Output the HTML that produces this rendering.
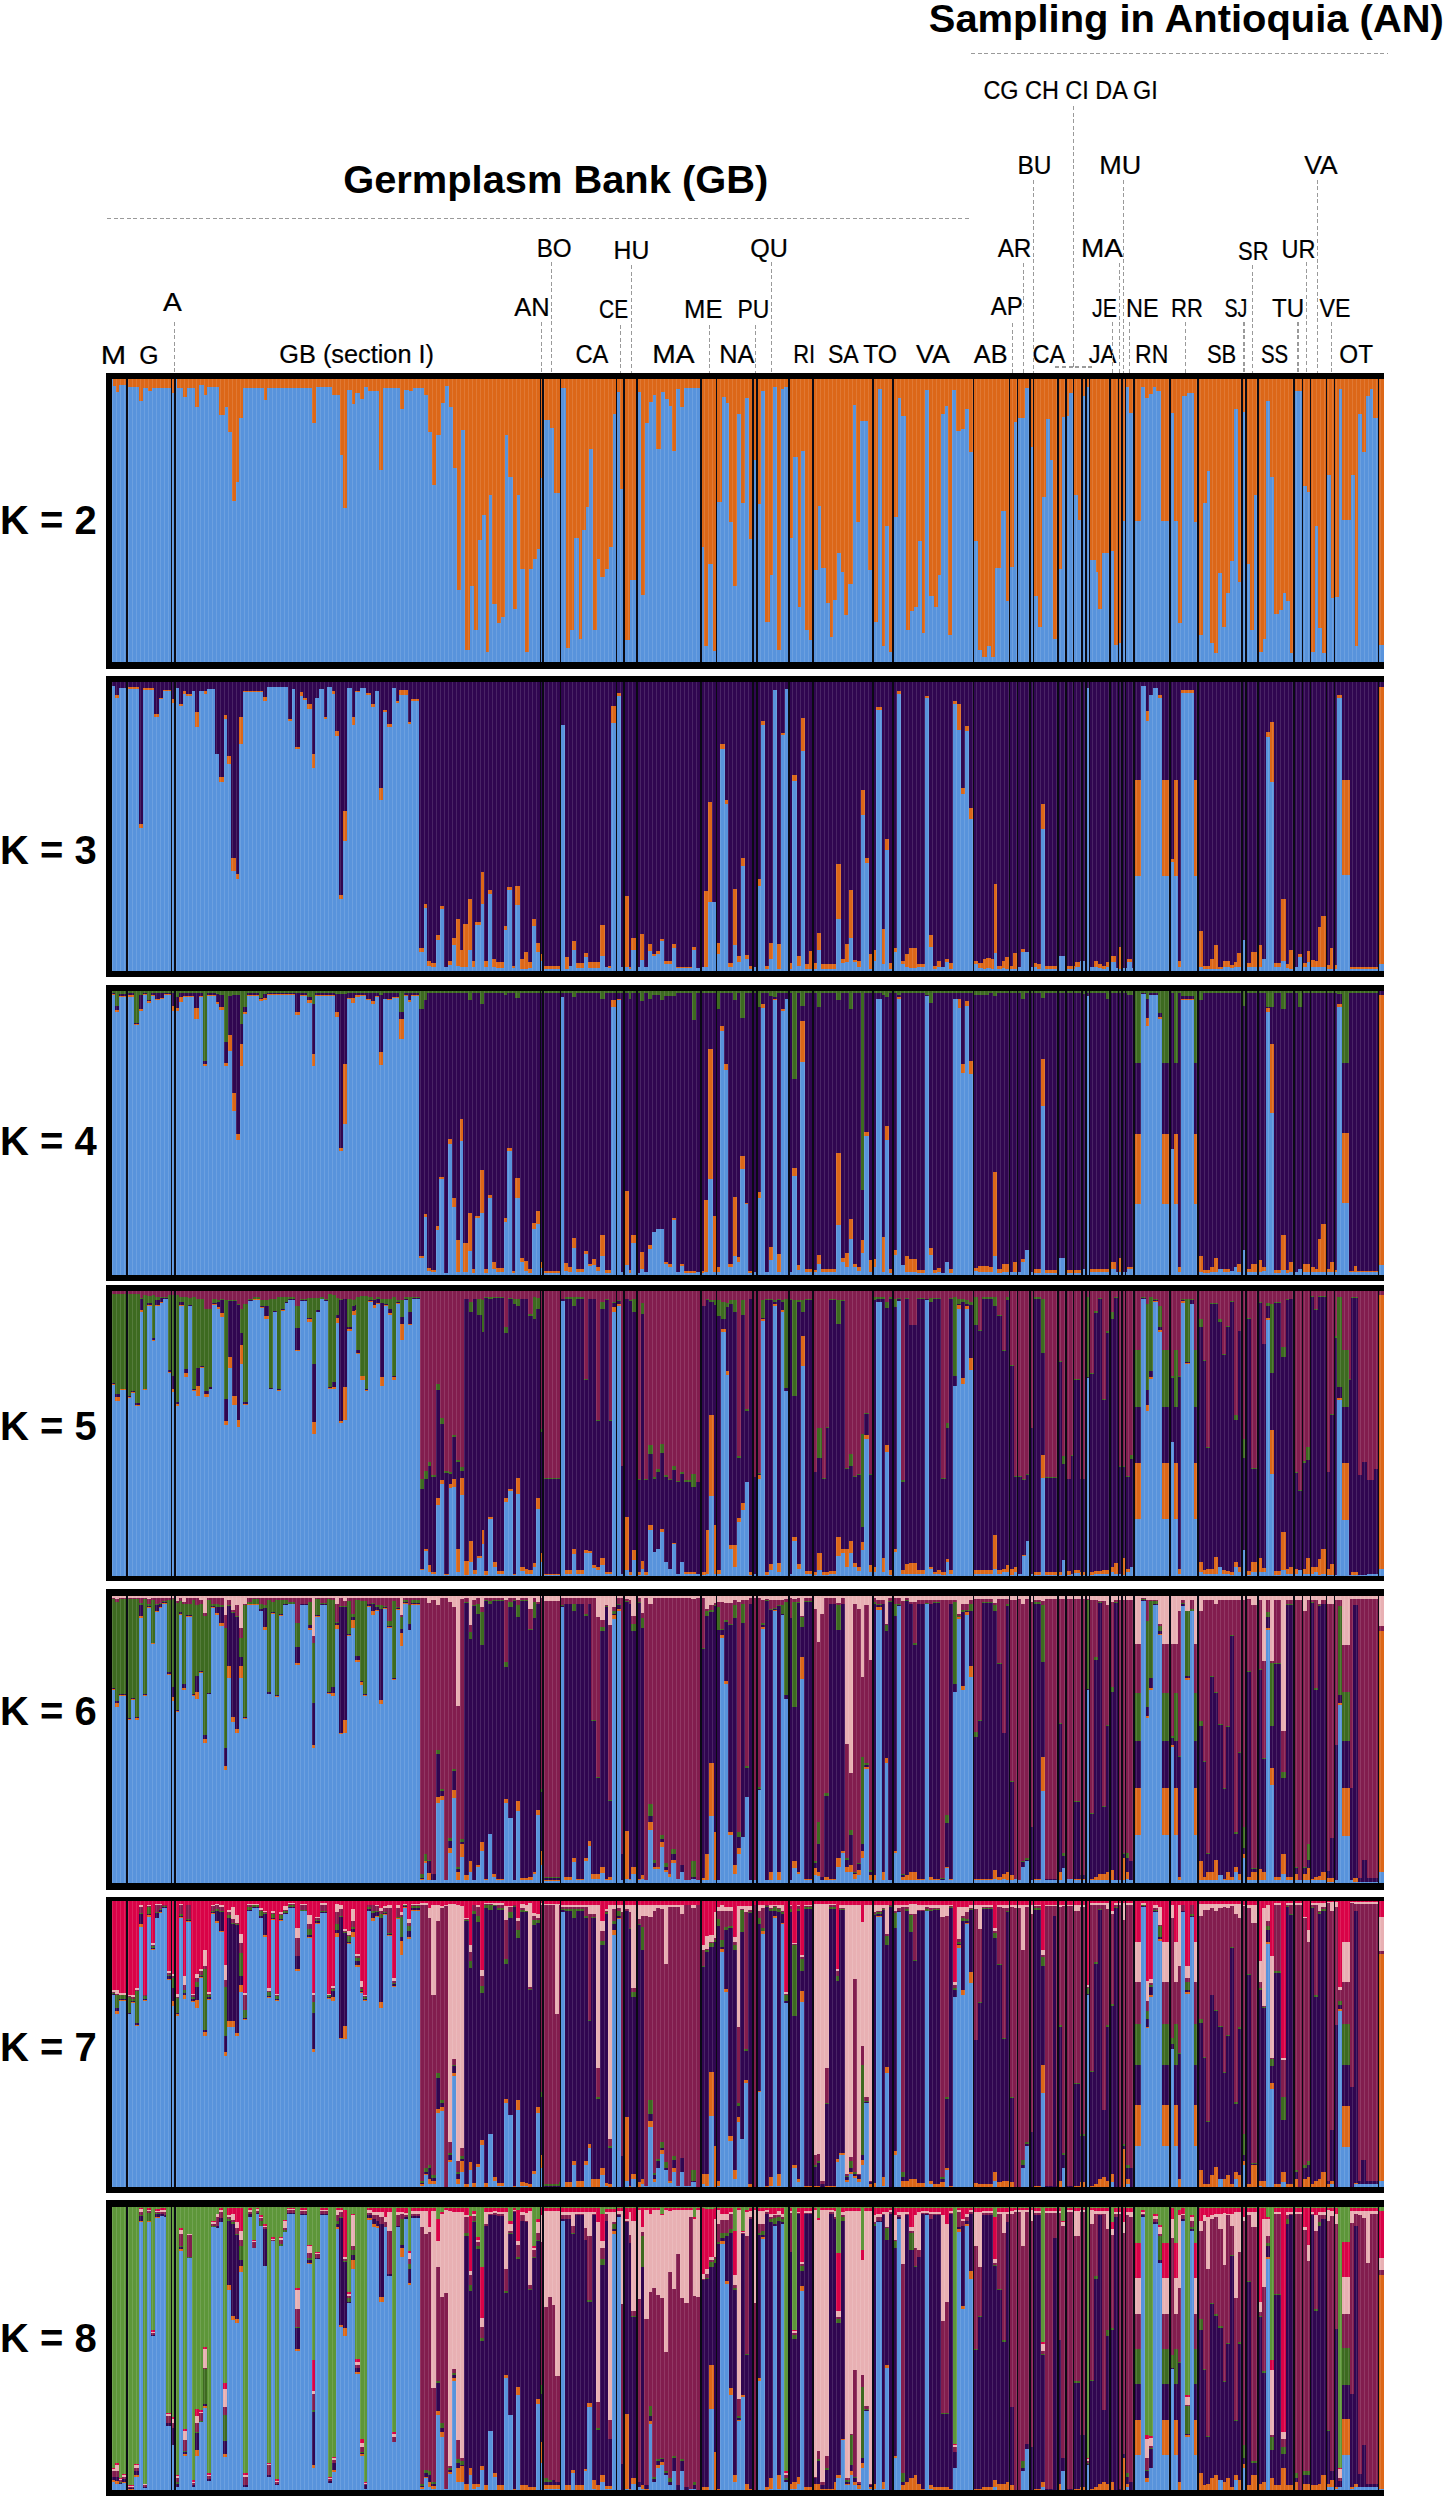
<!DOCTYPE html>
<html><head><meta charset="utf-8"><style>
html,body{margin:0;padding:0;background:#fff;}
svg{display:block;}
text{font-family:"Liberation Sans",sans-serif;fill:#000;}
.s{stroke:#000;stroke-width:0.2;}
.d{stroke:#9a9a9a;stroke-width:1.1;stroke-dasharray:4 2.6;}
</style></head><body>
<svg width="1445" height="2500" viewBox="0 0 1445 2500" shape-rendering="crispEdges">
<defs><pattern id="st" x="112" y="0" width="4" height="10" patternUnits="userSpaceOnUse"><rect x="0" y="0" width="1.3" height="10" fill="#fff" fill-opacity="0.12"/></pattern></defs>
<rect width="1445" height="2500" fill="#fff"/>
<text x="928.8" y="31.5" font-size="39" font-weight="bold" textLength="515" lengthAdjust="spacingAndGlyphs">Sampling in Antioquia (AN)</text>
<text x="343.2" y="192.7" font-size="39" font-weight="bold" textLength="425" lengthAdjust="spacingAndGlyphs">Germplasm Bank (GB)</text>
<line x1="971" y1="53.8" x2="1388" y2="53.8" class="d"/>
<line x1="107" y1="218.4" x2="971" y2="218.4" class="d"/>
<text x="100.7" y="363.5" font-size="25" textLength="25.4" lengthAdjust="spacingAndGlyphs" class="s">M</text>
<text x="139.2" y="363.5" font-size="25" textLength="19.3" lengthAdjust="spacingAndGlyphs" class="s">G</text>
<text x="163.1" y="311.4" font-size="25" textLength="18.8" lengthAdjust="spacingAndGlyphs" class="s">A</text>
<text x="279.3" y="363.4" font-size="25" textLength="154.7" lengthAdjust="spacingAndGlyphs" class="s">GB (section I)</text>
<text x="514.3" y="316.4" font-size="25" textLength="35.4" lengthAdjust="spacingAndGlyphs" class="s">AN</text>
<text x="536.7" y="257.4" font-size="25" textLength="35.0" lengthAdjust="spacingAndGlyphs" class="s">BO</text>
<text x="613.5" y="259" font-size="25" textLength="35.8" lengthAdjust="spacingAndGlyphs" class="s">HU</text>
<text x="750.3" y="257.4" font-size="25" textLength="37.7" lengthAdjust="spacingAndGlyphs" class="s">QU</text>
<text x="599.0" y="317.6" font-size="25" textLength="29.1" lengthAdjust="spacingAndGlyphs" class="s">CE</text>
<text x="684.1" y="317.6" font-size="25" textLength="38.5" lengthAdjust="spacingAndGlyphs" class="s">ME</text>
<text x="737.4" y="317.6" font-size="25" textLength="31.9" lengthAdjust="spacingAndGlyphs" class="s">PU</text>
<text x="575.5" y="362.9" font-size="25" textLength="32.9" lengthAdjust="spacingAndGlyphs" class="s">CA</text>
<text x="652.3" y="362.9" font-size="25" textLength="42.3" lengthAdjust="spacingAndGlyphs" class="s">MA</text>
<text x="719.2" y="362.9" font-size="25" textLength="35.2" lengthAdjust="spacingAndGlyphs" class="s">NA</text>
<text x="793.2" y="362.9" font-size="25" textLength="21.9" lengthAdjust="spacingAndGlyphs" class="s">RI</text>
<text x="827.9" y="362.9" font-size="25" textLength="30.8" lengthAdjust="spacingAndGlyphs" class="s">SA</text>
<text x="863.2" y="362.9" font-size="25" textLength="33.9" lengthAdjust="spacingAndGlyphs" class="s">TO</text>
<text x="916.1" y="362.9" font-size="25" textLength="33.9" lengthAdjust="spacingAndGlyphs" class="s">VA</text>
<text x="973.8" y="362.9" font-size="25" textLength="33.7" lengthAdjust="spacingAndGlyphs" class="s">AB</text>
<text x="1032.4" y="362.9" font-size="25" textLength="32.8" lengthAdjust="spacingAndGlyphs" class="s">CA</text>
<text x="997.7" y="257.4" font-size="25" textLength="33.7" lengthAdjust="spacingAndGlyphs" class="s">AR</text>
<text x="990.8" y="314.7" font-size="25" textLength="31.9" lengthAdjust="spacingAndGlyphs" class="s">AP</text>
<text x="1081.1" y="257.4" font-size="25" textLength="41.9" lengthAdjust="spacingAndGlyphs" class="s">MA</text>
<text x="1092.1" y="316.9" font-size="25" textLength="25.0" lengthAdjust="spacingAndGlyphs" class="s">JE</text>
<text x="1126.0" y="316.9" font-size="25" textLength="32.6" lengthAdjust="spacingAndGlyphs" class="s">NE</text>
<text x="1171.0" y="316.9" font-size="25" textLength="31.8" lengthAdjust="spacingAndGlyphs" class="s">RR</text>
<text x="1088.7" y="362.6" font-size="25" textLength="27.7" lengthAdjust="spacingAndGlyphs" class="s">JA</text>
<text x="1135.0" y="362.6" font-size="25" textLength="33.3" lengthAdjust="spacingAndGlyphs" class="s">RN</text>
<text x="1304.3" y="174.3" font-size="25" textLength="33.3" lengthAdjust="spacingAndGlyphs" class="s">VA</text>
<text x="1238.1" y="259.5" font-size="25" textLength="30.5" lengthAdjust="spacingAndGlyphs" class="s">SR</text>
<text x="1281.5" y="258" font-size="25" textLength="34.0" lengthAdjust="spacingAndGlyphs" class="s">UR</text>
<text x="1224.4" y="316.6" font-size="25" textLength="22.9" lengthAdjust="spacingAndGlyphs" class="s">SJ</text>
<text x="1271.9" y="316.6" font-size="25" textLength="32.2" lengthAdjust="spacingAndGlyphs" class="s">TU</text>
<text x="1319.5" y="316.6" font-size="25" textLength="31.0" lengthAdjust="spacingAndGlyphs" class="s">VE</text>
<text x="1206.9" y="363" font-size="25" textLength="29.4" lengthAdjust="spacingAndGlyphs" class="s">SB</text>
<text x="1260.9" y="363" font-size="25" textLength="27.2" lengthAdjust="spacingAndGlyphs" class="s">SS</text>
<text x="1339.3" y="363" font-size="25" textLength="33.7" lengthAdjust="spacingAndGlyphs" class="s">OT</text>
<text x="983.4" y="98.8" font-size="25" textLength="174.3" lengthAdjust="spacingAndGlyphs" class="s">CG CH CI DA GI</text>
<text x="1017.5" y="174.4" font-size="25" textLength="34.1" lengthAdjust="spacingAndGlyphs" class="s">BU</text>
<text x="1099.3" y="174.4" font-size="25" textLength="42.0" lengthAdjust="spacingAndGlyphs" class="s">MU</text>
<line x1="174.2" y1="322" x2="174.2" y2="373" class="d"/>
<line x1="541.5" y1="322" x2="541.5" y2="373" class="d"/>
<line x1="551.9" y1="262" x2="551.9" y2="373" class="d"/>
<line x1="620.8" y1="324.5" x2="620.8" y2="373" class="d"/>
<line x1="631.2" y1="265" x2="631.2" y2="373" class="d"/>
<line x1="709.5" y1="324.5" x2="709.5" y2="373" class="d"/>
<line x1="755.6" y1="324.5" x2="755.6" y2="373" class="d"/>
<line x1="771.4" y1="262" x2="771.4" y2="373" class="d"/>
<line x1="1012.5" y1="323" x2="1012.5" y2="373" class="d"/>
<line x1="1023.7" y1="263" x2="1023.7" y2="373" class="d"/>
<line x1="1033.7" y1="180" x2="1033.7" y2="373" class="d"/>
<line x1="1073.8" y1="106" x2="1073.8" y2="367" class="d"/>
<line x1="1112.8" y1="322.4" x2="1112.8" y2="373" class="d"/>
<line x1="1119.3" y1="262.9" x2="1119.3" y2="373" class="d"/>
<line x1="1123.9" y1="180" x2="1123.9" y2="373" class="d"/>
<line x1="1129.8" y1="322.4" x2="1129.8" y2="373" class="d"/>
<line x1="1185.5" y1="322.4" x2="1185.5" y2="373" class="d"/>
<line x1="1244" y1="322" x2="1244" y2="373" class="d"/>
<line x1="1252.6" y1="265" x2="1252.6" y2="373" class="d"/>
<line x1="1298" y1="322" x2="1298" y2="373" class="d"/>
<line x1="1306.4" y1="262" x2="1306.4" y2="373" class="d"/>
<line x1="1317.8" y1="179.6" x2="1317.8" y2="373" class="d"/>
<line x1="1331.2" y1="322" x2="1331.2" y2="373" class="d"/>
<line x1="1055.4" y1="367" x2="1093.4" y2="367" class="d"/>
<rect x="112" y="379" width="1272" height="283" fill="#5893dc"/>
<path fill="#dc6718" d="M112.5 379h3.1v6.6h-3.1zM115.6 379h3.1v12.8h-3.1zM118.7 379h7.3v5.5h-7.3zM128 379h11.4v7.6h-11.4zM139.4 379h3.2v22h-3.2zM142.6 379h5.1v8.6h-5.1zM147.7 379h4.2v11.8h-4.2zM151.9 379h18.7v8.6h-18.7zM171.6 379h4.2v13.8h-4.2zM176.8 379h6.2v8.6h-6.2zM183 379h4.2v18h-4.2zM187.2 379h7.3v8.6h-7.3zM194.5 379h4.1v28.4h-4.1zM198.6 379h5.2v5.5h-5.2zM203.8 379h3.2v16h-3.2zM207 379h12.4v7.6h-12.4zM219.4 379h5.2v35.6h-5.2zM224.6 379h3.1v28.4h-3.1zM227.7 379h4.1v53.3h-4.1zM231.8 379h4.2v121.8h-4.2zM236 379h3v103h-3zM239 379h4.2v38.7h-4.2zM243.2 379h20.8v8.6h-20.8zM264 379h3.1v21h-3.1zM267.1 379h44.6v8.6h-44.6zM311.7 379h4.2v44h-4.2zM315.9 379h15.6v7.6h-15.6zM331.5 379h8.3v16h-8.3zM339.8 379h3.1v76h-3.1zM342.9 379h4.1v129h-4.1zM347 379h5.2v10.7h-5.2zM352.2 379h3.1v25h-3.1zM355.3 379h4.2v13.8h-4.2zM359.5 379h4.1v20h-4.1zM363.6 379h4.2v7.6h-4.2zM367.8 379h11.4v11.8h-11.4zM379.2 379h4.2v90.6h-4.2zM383.4 379h16.6v8.6h-16.6zM400 379h4.2v30.4h-4.2zM404.2 379h5.1v10.7h-5.1zM409.3 379h3.2v11.8h-3.2zM412.5 379h11.4v9.3h-11.4zM423.9 379h4.1v16h-4.1zM428 379h4.2v53.3h-4.2zM432.2 379h4.1v106.2h-4.1zM436.3 379h4.2v56.4h-4.2zM440.5 379h4.1v24.2h-4.1zM444.6 379h4.2v6.6h-4.2zM448.8 379h4.1v28.4h-4.1zM452.9 379h4.2v88.6h-4.2zM457.1 379h4.1v211h-4.1zM461.2 379h4.2v51.2h-4.2zM465.4 379h4.1v271.3h-4.1zM469.5 379h4.2v206.9h-4.2zM473.7 379h4.1v250.5h-4.1zM477.8 379h4.2v161.2h-4.2zM482 379h4.2v136.3h-4.2zM486.2 379h3.1v273.3h-3.1zM489.3 379h3.1v115.6h-3.1zM492.4 379h4.1v224.5h-4.1zM496.5 379h4.2v244.3h-4.2zM500.7 379h4.1v238h-4.1zM504.8 379h3.2v56.4h-3.2zM508 379h5.1v97.9h-5.1zM513.1 379h4.2v229.7h-4.2zM517.3 379h3.1v115.6h-3.1zM520.4 379h4.2v190.3h-4.2zM524.6 379h4.1v273.3h-4.1zM528.7 379h4.2v190.3h-4.2zM532.9 379h4.1v179.9h-4.1zM537 379h3.3v169.5h-3.3zM540.3 379h2.9v99h-2.9zM543.2 379h6.3v40.8h-6.3zM549.5 379h4.1v49.1h-4.1zM553.6 379h6.4v113.5h-6.4zM560.5 379h5.6v8.6h-5.6zM566.1 379h4.1v269.2h-4.1zM570.2 379h4.2v250.5h-4.2zM574.4 379h4.1v159.2h-4.1zM578.5 379h3.2v259.8h-3.2zM581.7 379h4.1v150.9h-4.1zM585.8 379h3.1v128h-3.1zM588.9 379h4.2v69.9h-4.2zM593.1 379h4.1v250.5h-4.1zM597.2 379h3.1v179.9h-3.1zM600.3 379h4.2v197.6h-4.2zM604.5 379h4.1v190.3h-4.1zM608.6 379h4.2v167.5h-4.2zM612.8 379h3.7v34.6h-3.7zM616.5 379h3.6v12.8h-3.6zM620.1 379h4.1v110.4h-4.1zM624.2 379h6.2v260.9h-6.2zM630.4 379h6.3v200.7h-6.3zM636.7 379h4.1v12.8h-4.1zM640.8 379h4.2v216.2h-4.2zM645 379h4.1v44h-4.1zM649.1 379h4.2v23.2h-4.2zM653.3 379h3.1v16h-3.1zM656.4 379h4.1v69.9h-4.1zM660.5 379h4.2v12.8h-4.2zM664.7 379h4.1v20h-4.1zM668.8 379h3.2v27.3h-3.2zM672 379h4.1v72h-4.1zM676.1 379h4.2v9.7h-4.2zM680.3 379h4.1v28.4h-4.1zM684.4 379h16.4v8.6h-16.4zM700.8 379h3.4v167.5h-3.4zM704.2 379h4.1v267.1h-4.1zM708.3 379h4.2v185.1h-4.2zM712.5 379h4v272.3h-4zM716.5 379h5.3v122.8h-5.3zM721.8 379h4.2v18h-4.2zM726 379h3.1v24.2h-3.1zM729.1 379h4.1v142.5h-4.1zM733.2 379h4.2v206.9h-4.2zM737.4 379h3.1v34.6h-3.1zM740.5 379h4.1v123.9h-4.1zM744.6 379h4.2v19h-4.2zM748.8 379h4.1v160.2h-4.1zM752.9 379h3.9v81.3h-3.9zM756.8 379h4.4v124.9h-4.4zM761.2 379h4.2v11.8h-4.2zM765.4 379h4.1v243.2h-4.1zM769.5 379h3.2v195.5h-3.2zM772.7 379h4.1v7.6h-4.1zM776.8 379h4.2v271.3h-4.2zM781 379h3.1v9.7h-3.1zM784.1 379h4.7v7.6h-4.7zM788.8 379h4.6v159.2h-4.6zM793.4 379h4.2v78.2h-4.2zM797.6 379h3.1v227.7h-3.1zM800.7 379h4.1v72h-4.1zM804.8 379h4.2v250.5h-4.2zM809 379h4.1v260.9h-4.1zM813.1 379h5.2v191.3h-5.2zM818.3 379h3.1v127h-3.1zM821.4 379h4.2v189.3h-4.2zM825.6 379h4.1v223.5h-4.1zM829.7 379h3.2v257.8h-3.2zM832.9 379h4.1v221.4h-4.1zM837 379h4.2v173.7h-4.2zM841.2 379h3.1v193.4h-3.1zM844.3 379h4.1v236h-4.1zM848.4 379h4.2v204.8h-4.2zM852.6 379h3.1v26.3h-3.1zM855.7 379h4.2v142.5h-4.2zM859.9 379h8.3v41.9h-8.3zM868.2 379h4.7v191.3h-4.7zM872.9 379h4.6v243.2h-4.6zM877.5 379h4.2v9.7h-4.2zM881.7 379h3.1v267.1h-3.1zM884.8 379h4.1v146.7h-4.1zM888.9 379h4.2v273.3h-4.2zM893.1 379h5.2v138.4h-5.2zM898.3 379h3.1v19h-3.1zM901.4 379h4.1v36.7h-4.1zM905.5 379h4.2v250.5h-4.2zM909.7 379h4.1v231.8h-4.1zM913.8 379h4.2v227.7h-4.2zM918 379h4.1v162.3h-4.1zM922.1 379h3.1v253.6h-3.1zM925.2 379h4.2v10.7h-4.2zM929.4 379h4.1v217.3h-4.1zM933.5 379h4.2v227.7h-4.2zM937.7 379h3.1v195.5h-3.1zM940.8 379h4.2v34.6h-4.2zM945 379h3.1v27.3h-3.1zM948.1 379h4.1v255.7h-4.1zM952.2 379h4.2v10.7h-4.2zM956.4 379h4.1v52.2h-4.1zM960.5 379h4.2v50.2h-4.2zM964.7 379h4.1v30.4h-4.1zM968.8 379h4.6v73h-4.6zM973.4 379h4.8v162.3h-4.8zM978.2 379h4.1v271.3h-4.1zM982.3 379h4.2v277.5h-4.2zM986.5 379h4.1v267.1h-4.1zM990.6 379h4.2v277.5h-4.2zM994.8 379h6.6v189.3h-6.6zM1001.4 379h4.1v132.2h-4.1zM1005.5 379h4v222.1h-4zM1009.5 379h4.3v187.5h-4.3zM1013.8 379h3.7v42.9h-3.7zM1017.5 379h7.4v38.8h-7.4zM1024.9 379h4.8v9h-4.8zM1029.7 379h3.8v67.8h-3.8zM1033.5 379h4.6v217.3h-4.6zM1038.1 379h3.4v248.4h-3.4zM1041.5 379h4.2v118.3h-4.2zM1045.7 379h4.1v40.1h-4.1zM1049.8 379h3.5v81h-3.5zM1053.3 379h4.6v259.5h-4.6zM1057.9 379h4.4v190.3h-4.4zM1062.3 379h3.5v38.1h-3.5zM1065.8 379h3.4v36.7h-3.4zM1069.2 379h4.2v13.8h-4.2zM1073.4 379h4.1v115.6h-4.1zM1077.5 379h4.3v140.5h-4.3zM1081.8 379h4v16.6h-4zM1085.8 379h3.8v7.6h-3.8zM1089.6 379h5.9v180.6h-5.9zM1095.5 379h2.8v193.1h-2.8zM1098.3 379h4.1v230.4h-4.1zM1102.4 379h7.3v174.4h-7.3zM1109.7 379h4.5v172.3h-4.5zM1114.2 379h4.1v266.4h-4.1zM1118.3 379h3.4v263.7h-3.4zM1121.7 379h3.8v141.9h-3.8zM1125.5 379h3.9v7.6h-3.9zM1129.4 379h4.6v33.9h-4.6zM1134 379h7.2v141.9h-7.2zM1141.2 379h3.4v7.6h-3.4zM1144.6 379h4.2v18.7h-4.2zM1148.8 379h4.1v14.5h-4.1zM1152.9 379h3.5v7.6h-3.5zM1156.4 379h4.8v11.8h-4.8zM1161.2 379h8.8v141.9h-8.8zM1170 379h4.4v33.9h-4.4zM1174.4 379h3.5v141.9h-3.5zM1177.9 379h4.1v244.3h-4.1zM1182 379h4.9v16.6h-4.9zM1186.9 379h6.6v13.8h-6.6zM1193.5 379h4.4v142.6h-4.4zM1197.9 379h4.6v256h-4.6zM1202.5 379h4.1v123.9h-4.1zM1206.6 379h3.5v92h-3.5zM1210.1 379h4.1v264.4h-4.1zM1214.2 379h4.2v274h-4.2zM1218.4 379h3.4v193.8h-3.4zM1221.8 379h4.2v248.4h-4.2zM1226 379h4.1v213.8h-4.1zM1230.1 379h4.2v182h-4.2zM1234.3 379h3.5v29.8h-3.5zM1237.8 379h4.4v202.8h-4.4zM1242.2 379h3.7v33.2h-3.7zM1245.9 379h3.6v184.8h-3.6zM1249.5 379h4.2v251.2h-4.2zM1253.7 379h4.3v115.6h-4.3zM1258 379h4.7v273.4h-4.7zM1262.7 379h3.4v260.2h-3.4zM1266.1 379h4.2v22.1h-4.2zM1270.3 379h4.1v98.3h-4.1zM1274.4 379h4.2v234.6h-4.2zM1278.6 379h4.1v231.1h-4.1zM1282.7 379h3.5v213.8h-3.5zM1286.2 379h3.5v222.1h-3.5zM1289.7 379h4.5v274h-4.5zM1294.2 379h8.2v11.8h-8.2zM1302.4 379h4.6v107.3h-4.6zM1307 379h3.3v112.8h-3.3zM1310.3 379h4.3v273.4h-4.3zM1314.6 379h3.4v147.4h-3.4zM1318 379h4.2v249.1h-4.2zM1322.2 379h4.4v274h-4.4zM1326.6 379h4.6v96.2h-4.6zM1331.2 379h3.2v219.4h-3.2zM1334.4 379h4.4v218h-4.4zM1338.8 379h3.4v10.4h-3.4zM1342.2 379h8.4v141.2h-8.4zM1350.6 379h4.1v96.2h-4.1zM1354.7 379h3.5v267.1h-3.5zM1358.2 379h4.1v35.3h-4.1zM1362.3 379h3.5v73.4h-3.5zM1365.8 379h4.1v17.3h-4.1zM1369.9 379h3.5v9.7h-3.5zM1373.4 379h5v39.4h-5zM1378.4 379h5.6v265.7h-5.6z"/>
<rect x="112" y="379" width="1272" height="283" fill="url(#st)"/>
<path fill="#0a0a14" d="M126.2 379h1.6v283h-1.6zM170.7 379h1.6v283h-1.6zM174.2 379h1.6v283h-1.6zM539.5 379h1.6v283h-1.6zM542.4 379h1.6v283h-1.6zM559.7 379h1.6v283h-1.6zM615.7 379h1.6v283h-1.6zM623.4 379h1.6v283h-1.6zM635.9 379h1.6v283h-1.6zM700 379h1.6v283h-1.6zM715.7 379h1.6v283h-1.6zM752.1 379h1.6v283h-1.6zM756 379h1.6v283h-1.6zM788 379h1.6v283h-1.6zM812.3 379h1.6v283h-1.6zM872.1 379h1.6v283h-1.6zM892.3 379h1.6v283h-1.6zM972.6 379h1.6v283h-1.6zM1008.7 379h1.6v283h-1.6zM1016.7 379h1.6v283h-1.6zM1028.9 379h1.6v283h-1.6zM1032.7 379h1.6v283h-1.6zM1057.1 379h1.6v283h-1.6zM1065 379h1.6v283h-1.6zM1072.6 379h1.6v283h-1.6zM1081 379h1.6v283h-1.6zM1085 379h1.6v283h-1.6zM1088.8 379h1.6v283h-1.6zM1108.9 379h1.6v283h-1.6zM1117.5 379h1.6v283h-1.6zM1120.9 379h1.6v283h-1.6zM1124.7 379h1.6v283h-1.6zM1133.2 379h1.6v283h-1.6zM1169.2 379h1.6v283h-1.6zM1197.1 379h1.6v283h-1.6zM1241.4 379h1.6v283h-1.6zM1245.1 379h1.6v283h-1.6zM1257.2 379h1.6v283h-1.6zM1293.4 379h1.6v283h-1.6zM1301.6 379h1.6v283h-1.6zM1309.5 379h1.6v283h-1.6zM1325.8 379h1.6v283h-1.6zM1333.6 379h1.6v283h-1.6zM1377.6 379h1.6v283h-1.6z"/>
<path fill="#000" d="M106 373H1384V379H112V662H1384V669H106z"/>
<text x="0" y="533.8" font-size="40" font-weight="bold">K = 2</text>
<rect x="112" y="682" width="1272" height="289" fill="#300650"/>
<path fill="#5893dc" d="M111.9 686.2h2.6v284.8h-2.6zM114.5 698.4h4.3v272.6h-4.3zM118.8 688h7.7v283h-7.7zM126.5 688.8h12.2v282.2h-12.2zM138.7 828.1h4.4v142.9h-4.4zM143.1 689.7h11.2v281.3h-11.2zM154.3 716.5h4.3v254.5h-4.3zM158.6 699.2h4.4v271.8h-4.4zM163 691.4h8.5v279.6h-8.5zM171.5 702.7h3.5v268.3h-3.5zM175 688h3.5v283h-3.5zM178.5 705.8h4.4v265.2h-4.4zM182.9 694h3.4v277h-3.4zM186.3 695.8h5.2v275.2h-5.2zM191.5 691.4h3.5v279.6h-3.5zM195 726.9h4.3v244.1h-4.3zM199.3 691.4h4.3v279.6h-4.3zM203.6 694h3.5v277h-3.5zM207.1 688.8h7.8v282.2h-7.8zM214.9 753.7h4.3v217.3h-4.3zM219.2 782.3h4.3v188.7h-4.3zM223.5 719.1h3.5v251.9h-3.5zM227 764.1h4.3v206.9h-4.3zM231.3 871.4h4.3v99.6h-4.3zM235.6 879.2h3.5v91.8h-3.5zM239.1 744.2h4.3v226.8h-4.3zM243.4 692.3h19.9v278.7h-19.9zM263.3 701h3.5v270h-3.5zM266.8 687.1h20.7v283.9h-20.7zM287.5 720.8h4.4v250.2h-4.4zM291.9 688.8h3.4v282.2h-3.4zM295.3 749.4h4.3v221.6h-4.3zM299.6 695.8h3.5v275.2h-3.5zM303.1 700h4.3v271h-4.3zM307.4 708.7h4.3v262.3h-4.3zM311.7 767.6h3.5v203.4h-3.5zM315.2 697.5h3.5v273.5h-3.5zM318.7 688.8h5.2v282.2h-5.2zM323.9 719.1h3.4v251.9h-3.4zM327.3 687.1h4.3v283.9h-4.3zM331.6 694h3.5v277h-3.5zM335.1 735.6h4.3v235.4h-4.3zM339.4 899h3.5v72h-3.5zM342.9 841.1h4.3v129.9h-4.3zM347.2 688h4.5v283h-4.5zM351.7 725.2h3.5v245.8h-3.5zM355.2 692.3h5.2v278.7h-5.2zM360.4 688h6v283h-6zM366.4 694.9h4.4v276.1h-4.4zM370.8 707h4.3v264h-4.3zM375.1 690.6h3.4v280.4h-3.4zM378.5 799.6h4.4v171.4h-4.4zM382.9 712.2h4.3v258.8h-4.3zM387.2 726.9h4.3v244.1h-4.3zM391.5 688h4.3v283h-4.3zM395.8 702.7h3.5v268.3h-3.5zM399.3 694.9h8.7v276.1h-8.7zM408 724.3h3.4v246.7h-3.4zM411.4 701h7.8v270h-7.8zM419.2 951.8h4.3v19.2h-4.3zM423.5 907.7h3.5v63.3h-3.5zM427 965.7h4.3v5.3h-4.3zM431.3 967.4h4.3v3.6h-4.3zM435.6 939.7h4.4v31.3h-4.4zM440 909.4h4.3v61.6h-4.3zM444.3 967.4h3.5v3.6h-3.5zM447.8 964.8h4.3v6.2h-4.3zM452.1 944.9h3.4v26.1h-3.4zM455.5 965.7h4.4v5.3h-4.4zM459.9 967.4h3.4v3.6h-3.4zM463.3 967.4h4.3v3.6h-4.3zM467.6 950.1h4.4v20.9h-4.4zM472 967.4h3.4v3.6h-3.4zM475.4 925h5.2v46h-5.2zM480.6 904.2h3.5v66.8h-3.5zM484.1 967.4h3.4v3.6h-3.4zM487.5 893.9h4.4v77.1h-4.4zM491.9 967.4h4.3v3.6h-4.3zM496.2 968.3h7.8v2.7h-7.8zM504 930.2h3.4v40.8h-3.4zM507.4 890.4h4.4v80.6h-4.4zM511.8 968.3h3.4v2.7h-3.4zM515.2 905.1h5.2v65.9h-5.2zM520.4 969.1h3.5v1.9h-3.5zM523.9 969.1h4.3v1.9h-4.3zM528.2 968.3h3.5v2.7h-3.5zM531.7 925.9h4.3v45.1h-4.3zM536 951.8h4.3v19.2h-4.3zM540.3 960.5h2.9v10.5h-2.9zM543.2 969.1h17.3v1.9h-17.3zM560.5 725.2h4v245.8h-4zM564.5 969.1h4.4v1.9h-4.4zM568.9 965.7h3.4v5.3h-3.4zM572.3 950.1h3.5v20.9h-3.5zM575.8 968.3h8.6v2.7h-8.6zM584.4 957h3.5v14h-3.5zM587.9 968.3h12.1v2.7h-12.1zM600 956.1h4.5v14.9h-4.5zM604.5 967.4h3.5v3.6h-3.5zM608 968h3.4v3h-3.4zM611.4 723.4h5.1v247.6h-5.1zM616.5 695.8h4.5v275.2h-4.5zM621 967.4h3.2v3.6h-3.2zM624.2 967.4h4.5v3.6h-4.5zM628.7 969h2.6v2h-2.6zM631.3 950.1h5.4v20.9h-5.4zM636.7 967.4h3.3v3.6h-3.3zM640 959.6h4.3v11.4h-4.3zM644.3 967.4h3.5v3.6h-3.5zM647.8 951h4.3v20h-4.3zM652.1 956h4.3v15h-4.3zM656.4 953.5h3.5v17.5h-3.5zM659.9 941.4h4.3v29.6h-4.3zM664.2 964h3.5v7h-3.5zM667.7 964h4.3v7h-4.3zM672 948.4h4.3v22.6h-4.3zM676.3 968.3h15.6v2.7h-15.6zM691.9 950h4.3v21h-4.3zM696.2 968.3h4.6v2.7h-4.6zM700.8 967.4h3.2v3.6h-3.2zM704 967.4h4.3v3.6h-4.3zM708.3 901.6h3.5v69.4h-3.5zM711.8 901.6h4.7v69.4h-4.7zM716.5 954.4h3.9v16.6h-3.9zM720.4 749.4h4.4v221.6h-4.4zM724.8 803.9h3.4v167.1h-3.4zM728.2 967.4h4.3v3.6h-4.3zM732.5 944.9h4.4v26.1h-4.4zM736.9 962.2h4.3v8.8h-4.3zM741.2 866.2h3.5v104.8h-3.5zM744.7 958.7h4.3v12.3h-4.3zM749 969h3.9v2h-3.9zM752.9 967.4h3.9v3.6h-3.9zM756.8 886.1h4.3v84.9h-4.3zM761.1 725.2h4.3v245.8h-4.3zM765.4 969h3.5v2h-3.5zM768.9 958.7h4.3v12.3h-4.3zM773.2 689.7h3.5v281.3h-3.5zM776.7 969.1h4.3v1.9h-4.3zM781 734.7h4.3v236.3h-4.3zM785.3 688.8h3.5v282.2h-3.5zM788.8 969h3.4v2h-3.4zM792.2 781.4h4.4v189.6h-4.4zM796.6 965.7h4.3v5.3h-4.3zM800.9 751.1h4.3v219.9h-4.3zM805.2 969h3.5v2h-3.5zM808.7 969h4.4v2h-4.4zM813.1 969h3.4v2h-3.4zM816.5 950.1h4.3v20.9h-4.3zM820.8 969h15.5v2h-15.5zM836.3 919h4.4v52h-4.4zM840.7 963h4.3v8h-4.3zM845 962.2h3.7v8.8h-3.7zM848.7 938h4.3v33h-4.3zM853 962h4.3v9h-4.3zM857.3 967.4h3.5v3.6h-3.5zM860.8 815.1h4.3v155.9h-4.3zM865.1 862.7h4.3v108.3h-4.3zM869.4 969h3.5v2h-3.5zM872.9 960.5h3.4v10.5h-3.4zM876.3 709.6h5.2v261.4h-5.2zM881.5 963.9h3.5v7.1h-3.5zM885 849.7h4.3v121.3h-4.3zM889.3 969h3.8v2h-3.8zM893.1 951.8h4v19.2h-4zM897.1 694h4.3v277h-4.3zM901.4 964h3.5v7h-3.5zM904.9 967.4h4.3v3.6h-4.3zM909.2 968.3h7.8v2.7h-7.8zM917 967.4h7.8v3.6h-7.8zM924.8 698.4h4.3v272.6h-4.3zM929.1 946.6h4.3v24.4h-4.3zM933.4 969h3.5v2h-3.5zM936.9 967.4h4.3v3.6h-4.3zM941.2 967.4h3.5v3.6h-3.5zM944.7 962h4.3v9h-4.3zM949 969h3.5v2h-3.5zM952.5 703.5h4.3v267.5h-4.3zM956.8 730.4h4.3v240.6h-4.3zM961.1 794.4h3.5v176.6h-3.5zM964.6 731.2h4.3v239.8h-4.3zM968.9 818.6h4.5v152.4h-4.5zM973.4 964h5v7h-5zM978.4 968.3h4.3v2.7h-4.3zM982.7 969h3.5v2h-3.5zM986.2 968.3h4.3v2.7h-4.3zM990.5 969h3.5v2h-3.5zM994 952.7h3.4v18.3h-3.4zM997.4 969h4.4v2h-4.4zM1001.8 968.3h3.4v2.7h-3.4zM1005.2 969h4.3v2h-4.3zM1009.5 969h3.5v2h-3.5zM1013 969h4.5v2h-4.5zM1017.5 967.4h3.3v3.6h-3.3zM1020.8 951.8h4.3v19.2h-4.3zM1025.1 951.8h4.6v19.2h-4.6zM1029.7 967.4h3.8v3.6h-3.8zM1033.5 967.4h3.7v3.6h-3.7zM1037.2 969h3.5v2h-3.5zM1040.7 829h4.3v142h-4.3zM1045 969h12.9v2h-12.9zM1057.9 956.1h7.9v14.9h-7.9zM1065.8 969h9.5v2h-9.5zM1075.3 967.4h4.3v3.6h-4.3zM1079.6 960.5h5.2v10.5h-5.2zM1085.8 688h4.2v283h-4.2zM1089.6 967.4h4.1v3.6h-4.1zM1093.7 966.5h4.3v4.5h-4.3zM1098 968.3h4.3v2.7h-4.3zM1102.3 969h3.5v2h-3.5zM1105.8 967.4h3.9v3.6h-3.9zM1109.7 962.2h6.4v8.8h-6.4zM1116.1 968.3h2.2v2.7h-2.2zM1118.3 969h3.4v2h-3.4zM1121.7 968.3h4.8v2.7h-4.8zM1126.5 962h5.2v9h-5.2zM1131.7 968.3h2.3v2.7h-2.3zM1134 875.7h7.2v95.3h-7.2zM1141.2 686.2h4.4v284.8h-4.4zM1145.6 720.8h3.4v250.2h-3.4zM1149 694.9h4.3v276.1h-4.3zM1153.3 688h4.4v283h-4.4zM1157.7 697.5h4.3v273.5h-4.3zM1162 875.7h8v95.3h-8zM1170 862h4.1v109h-4.1zM1174.1 875.7h4.3v95.3h-4.3zM1178.4 967.4h2.6v3.6h-2.6zM1181 693h13v278h-13zM1194 875.7h3.9v95.3h-3.9zM1197.9 967.4h4.7v3.6h-4.7zM1202.6 969h7v2h-7zM1209.6 969h4.3v2h-4.3zM1213.9 969h4.3v2h-4.3zM1218.2 969h5.2v2h-5.2zM1223.4 967.4h6.1v3.6h-6.1zM1229.5 968.3h4.3v2.7h-4.3zM1233.8 967.4h3.4v3.6h-3.4zM1237.2 967.4h5v3.6h-5zM1242.2 939.7h3.7v31.3h-3.7zM1245.9 967.4h5.2v3.6h-5.2zM1251.1 967.4h6.9v3.6h-6.9zM1258 967.4h4.3v3.6h-4.3zM1262.3 958.7h3.5v12.3h-3.5zM1265.8 737.3h4.3v233.7h-4.3zM1270.1 782.3h3.5v188.7h-3.5zM1273.6 967.4h7.8v3.6h-7.8zM1281.4 960.5h4.3v10.5h-4.3zM1285.7 968.3h3.4v2.7h-3.4zM1289.1 969h5.1v2h-5.1zM1294.2 967.4h3.6v3.6h-3.6zM1297.8 957h4.6v14h-4.6zM1302.4 967.4h4.1v3.6h-4.1zM1306.5 962.2h3.8v8.8h-3.8zM1310.3 967.4h4.8v3.6h-4.8zM1315.1 966.5h2.6v4.5h-2.6zM1317.7 967.4h3.5v3.6h-3.5zM1321.2 967.4h5.4v3.6h-5.4zM1326.6 969h3.4v2h-3.4zM1330 968.9h3.3v2.1h-3.3zM1334.4 969h2.6v2h-2.6zM1337 697.6h4.8v273.4h-4.8zM1341.8 875h8v96h-8zM1349.8 969h28.6v2h-28.6zM1378.4 964h5.6v7h-5.6z"/>
<path fill="#dc6718" d="M114.5 694.9h4.3v3.5h-4.3zM126.5 687.1h12.2v1.7h-12.2zM138.7 823.8h4.4v4.3h-4.4zM143.1 688h11.2v1.7h-11.2zM154.3 713.9h4.3v2.6h-4.3zM158.6 697.5h4.4v1.7h-4.4zM163 689.7h8.5v1.7h-8.5zM171.5 699.2h3.5v3.5h-3.5zM178.5 703.5h4.4v2.3h-4.4zM182.9 691.4h3.4v2.6h-3.4zM186.3 694h5.2v1.8h-5.2zM195 712.2h4.3v14.7h-4.3zM203.6 690.6h3.5v3.4h-3.5zM219.2 777.1h4.3v5.2h-4.3zM223.5 714.8h3.5v4.3h-3.5zM227 756.3h4.3v7.8h-4.3zM231.3 857.5h4.3v13.9h-4.3zM235.6 874h3.5v5.2h-3.5zM239.1 716.5h4.3v27.7h-4.3zM243.4 691.4h19.9v0.9h-19.9zM263.3 696.6h3.5v4.4h-3.5zM287.5 719.1h4.4v1.7h-4.4zM295.3 746.8h4.3v2.6h-4.3zM299.6 692.3h3.5v3.5h-3.5zM303.1 697.5h4.3v2.5h-4.3zM307.4 704.4h4.3v4.3h-4.3zM311.7 753.7h3.5v13.9h-3.5zM323.9 716.5h3.4v2.6h-3.4zM331.6 690.6h3.5v3.4h-3.5zM335.1 731.2h4.3v4.4h-4.3zM339.4 894.7h3.5v4.3h-3.5zM342.9 810.8h4.3v30.3h-4.3zM351.7 717.4h3.5v7.8h-3.5zM355.2 690.6h5.2v1.7h-5.2zM366.4 693.2h4.4v1.7h-4.4zM370.8 703.5h4.3v3.5h-4.3zM378.5 788.3h4.4v11.3h-4.4zM382.9 709.6h4.3v2.6h-4.3zM387.2 724.3h4.3v2.6h-4.3zM395.8 701h3.5v1.7h-3.5zM399.3 689.7h8.7v5.2h-8.7zM408 721.7h3.4v2.6h-3.4zM411.4 699.2h7.8v1.8h-7.8zM419.2 947.5h4.3v4.3h-4.3zM423.5 904.2h3.5v3.5h-3.5zM427 961.3h4.3v4.4h-4.3zM431.3 963h4.3v4.4h-4.3zM435.6 935.4h4.4v4.3h-4.4zM440 906h4.3v3.4h-4.3zM447.8 960.5h4.3v4.3h-4.3zM452.1 938h3.4v6.9h-3.4zM455.5 919h4.4v46.7h-4.4zM459.9 950.1h3.4v17.3h-3.4zM463.3 924.1h4.3v43.3h-4.3zM467.6 899h4.4v51.1h-4.4zM472 961.3h3.4v6.1h-3.4zM475.4 922.4h5.2v2.6h-5.2zM480.6 872.2h3.5v32h-3.5zM484.1 961.3h3.4v6.1h-3.4zM487.5 890.4h4.4v3.5h-4.4zM491.9 958.7h4.3v8.7h-4.3zM496.2 962.2h7.8v6.1h-7.8zM504 925.9h3.4v4.3h-3.4zM507.4 887h4.4v3.4h-4.4zM511.8 965.7h3.4v2.6h-3.4zM515.2 886.1h5.2v19h-5.2zM520.4 958.7h3.5v10.4h-3.5zM523.9 951.8h4.3v17.3h-4.3zM528.2 962.2h3.5v6.1h-3.5zM531.7 919h4.3v6.9h-4.3zM536 943.2h4.3v8.6h-4.3zM540.3 953.5h2.9v7h-2.9zM543.2 965.7h17.3v3.4h-17.3zM564.5 957h4.4v12.1h-4.4zM572.3 940.6h3.5v9.5h-3.5zM575.8 963h8.6v5.3h-8.6zM584.4 952.7h3.5v4.3h-3.5zM587.9 962.2h12.1v6.1h-12.1zM600 925h4.5v31.1h-4.5zM608 965.7h3.4v2.3h-3.4zM611.4 706.1h5.1v17.3h-5.1zM616.5 693.2h4.5v2.6h-4.5zM624.2 895.6h4.5v71.8h-4.5zM628.7 966.5h2.6v2.5h-2.6zM631.3 938h5.4v12.1h-5.4zM640 933.7h4.3v25.9h-4.3zM647.8 944h4.3v7h-4.3zM652.1 953.5h4.3v2.5h-4.3zM656.4 951h3.5v2.5h-3.5zM659.9 938.8h4.3v2.6h-4.3zM664.2 960.5h3.5v3.5h-3.5zM667.7 961.3h4.3v2.7h-4.3zM672 944h4.3v4.4h-4.3zM676.3 966.5h15.6v1.8h-15.6zM691.9 946.6h4.3v3.4h-4.3zM704 891.3h4.3v76.1h-4.3zM708.3 802.2h3.5v99.4h-3.5zM716.5 943.2h3.9v11.2h-3.9zM720.4 744.2h4.4v5.2h-4.4zM724.8 799.6h3.4v4.3h-3.4zM728.2 963h4.3v4.4h-4.3zM732.5 888.7h4.4v56.2h-4.4zM736.9 956.1h4.3v6.1h-4.3zM741.2 857.5h3.5v8.7h-3.5zM744.7 955.3h4.3v3.4h-4.3zM749 965.7h3.9v3.3h-3.9zM756.8 879.2h4.3v6.9h-4.3zM761.1 720.8h4.3v4.4h-4.3zM765.4 965.7h3.5v3.3h-3.5zM768.9 943.2h4.3v15.5h-4.3zM776.7 944h4.3v25.1h-4.3zM781 733h4.3v1.7h-4.3zM788.8 963h3.4v6h-3.4zM792.2 775.3h4.4v6.1h-4.4zM796.6 956.1h4.3v9.6h-4.3zM800.9 718.3h4.3v32.8h-4.3zM805.2 963.9h3.5v5.1h-3.5zM808.7 951h4.4v18h-4.4zM813.1 963h3.4v6h-3.4zM816.5 932.8h4.3v17.3h-4.3zM820.8 963.9h15.5v5.1h-15.5zM836.3 864.4h4.4v54.6h-4.4zM840.7 958.7h4.3v4.3h-4.3zM845 944h3.7v18.2h-3.7zM848.7 890.4h4.3v47.6h-4.3zM853 959.6h4.3v2.4h-4.3zM857.3 960.5h3.5v6.9h-3.5zM860.8 790h4.3v25.1h-4.3zM865.1 857.5h4.3v5.2h-4.3zM869.4 953.5h3.5v15.5h-3.5zM872.9 950.1h3.4v10.4h-3.4zM876.3 707h5.2v2.6h-5.2zM881.5 929.3h3.5v34.6h-3.5zM885 838.5h4.3v11.2h-4.3zM889.3 963h3.8v6h-3.8zM893.1 947.5h4v4.3h-4zM897.1 690.6h4.3v3.4h-4.3zM901.4 960.5h3.5v3.5h-3.5zM904.9 953.5h4.3v13.9h-4.3zM909.2 947.5h7.8v20.8h-7.8zM917 963.9h7.8v3.5h-7.8zM924.8 695.8h4.3v2.6h-4.3zM929.1 934.5h4.3v12.1h-4.3zM933.4 965.7h3.5v3.3h-3.5zM936.9 961.3h4.3v6.1h-4.3zM944.7 958.7h4.3v3.3h-4.3zM949 963h3.5v6h-3.5zM952.5 701h4.3v2.5h-4.3zM956.8 704.4h4.3v26h-4.3zM961.1 787.5h3.5v6.9h-3.5zM964.6 726h4.3v5.2h-4.3zM968.9 808.2h4.5v10.4h-4.5zM973.4 960.5h5v3.5h-5zM978.4 963h4.3v5.3h-4.3zM982.7 958.7h3.5v10.3h-3.5zM986.2 957.9h4.3v10.4h-4.3zM990.5 958.7h3.5v10.3h-3.5zM994 883.5h3.4v69.2h-3.4zM997.4 965.7h4.4v3.3h-4.4zM1001.8 960.5h3.4v7.8h-3.4zM1005.2 957h4.3v12h-4.3zM1009.5 965.7h3.5v3.3h-3.5zM1013 952.7h4.5v16.3h-4.5zM1020.8 949.2h4.3v2.6h-4.3zM1033.5 963h3.7v4.4h-3.7zM1037.2 963.9h3.5v5.1h-3.5zM1040.7 803.9h4.3v25.1h-4.3zM1045 965.7h12.9v3.3h-12.9zM1065.8 965.7h9.5v3.3h-9.5zM1075.3 962.2h4.3v5.2h-4.3zM1093.7 961.3h4.3v5.2h-4.3zM1098 963.9h4.3v4.4h-4.3zM1102.3 965.7h3.5v3.3h-3.5zM1105.8 962.2h3.9v5.2h-3.9zM1109.7 956.1h6.4v6.1h-6.4zM1118.3 946.6h3.4v22.4h-3.4zM1126.5 958.7h5.2v3.3h-5.2zM1134 779.7h7.2v96h-7.2zM1145.6 711.3h3.4v9.5h-3.4zM1157.7 694.9h4.3v2.6h-4.3zM1162 779.7h8v96h-8zM1170 859.3h4.1v2.7h-4.1zM1174.1 779.7h4.3v96h-4.3zM1178.4 960.5h2.6v6.9h-2.6zM1181 690h13v3h-13zM1194 779.7h3.9v96h-3.9zM1197.9 931h4.7v36.4h-4.7zM1202.6 965.7h7v3.3h-7zM1209.6 958.7h4.3v10.3h-4.3zM1213.9 944.9h4.3v24.1h-4.3zM1218.2 967.4h5.2v1.6h-5.2zM1223.4 961.3h6.1v6.1h-6.1zM1229.5 964.8h4.3v3.5h-4.3zM1233.8 962.2h3.4v5.2h-3.4zM1237.2 952.7h5v14.7h-5zM1245.9 963h5.2v4.4h-5.2zM1251.1 951.8h6.9v15.6h-6.9zM1258 944.9h4.3v22.5h-4.3zM1265.8 732.1h4.3v5.2h-4.3zM1270.1 721.7h3.5v60.6h-3.5zM1273.6 963h7.8v4.4h-7.8zM1281.4 899h4.3v61.5h-4.3zM1285.7 963.9h3.4v4.4h-3.4zM1289.1 950.1h5.1v18.9h-5.1zM1297.8 953.5h4.6v3.5h-4.6zM1302.4 963h4.1v4.4h-4.1zM1306.5 951h3.8v11.2h-3.8zM1310.3 959.6h4.8v7.8h-4.8zM1315.1 961.3h2.6v5.2h-2.6zM1317.7 926.7h3.5v40.7h-3.5zM1321.2 915.5h5.4v51.9h-5.4zM1326.6 965h3.4v4h-3.4zM1330 948.2h3.3v20.7h-3.3zM1334.4 965.2h2.6v3.8h-2.6zM1337 694.5h4.8v3.1h-4.8zM1341.8 779.9h8v95.1h-8zM1349.8 966.5h28.6v2.5h-28.6zM1378.4 687.2h5.6v276.8h-5.6z"/>
<rect x="112" y="682" width="1272" height="289" fill="url(#st)"/>
<path fill="#0a0a14" d="M126.2 682h1.6v289h-1.6zM170.7 682h1.6v289h-1.6zM174.2 682h1.6v289h-1.6zM539.5 682h1.6v289h-1.6zM542.4 682h1.6v289h-1.6zM559.7 682h1.6v289h-1.6zM615.7 682h1.6v289h-1.6zM623.4 682h1.6v289h-1.6zM635.9 682h1.6v289h-1.6zM700 682h1.6v289h-1.6zM715.7 682h1.6v289h-1.6zM752.1 682h1.6v289h-1.6zM756 682h1.6v289h-1.6zM788 682h1.6v289h-1.6zM812.3 682h1.6v289h-1.6zM872.1 682h1.6v289h-1.6zM892.3 682h1.6v289h-1.6zM972.6 682h1.6v289h-1.6zM1008.7 682h1.6v289h-1.6zM1016.7 682h1.6v289h-1.6zM1028.9 682h1.6v289h-1.6zM1032.7 682h1.6v289h-1.6zM1057.1 682h1.6v289h-1.6zM1065 682h1.6v289h-1.6zM1072.6 682h1.6v289h-1.6zM1081 682h1.6v289h-1.6zM1085 682h1.6v289h-1.6zM1088.8 682h1.6v289h-1.6zM1108.9 682h1.6v289h-1.6zM1117.5 682h1.6v289h-1.6zM1120.9 682h1.6v289h-1.6zM1124.7 682h1.6v289h-1.6zM1133.2 682h1.6v289h-1.6zM1169.2 682h1.6v289h-1.6zM1197.1 682h1.6v289h-1.6zM1241.4 682h1.6v289h-1.6zM1245.1 682h1.6v289h-1.6zM1257.2 682h1.6v289h-1.6zM1293.4 682h1.6v289h-1.6zM1301.6 682h1.6v289h-1.6zM1309.5 682h1.6v289h-1.6zM1325.8 682h1.6v289h-1.6zM1333.6 682h1.6v289h-1.6zM1377.6 682h1.6v289h-1.6z"/>
<path fill="#000" d="M106 676H1384V682H112V971H1384V977H106z"/>
<text x="0" y="863.8" font-size="40" font-weight="bold">K = 3</text>
<rect x="112" y="990.5" width="1272" height="284.0" fill="#300650"/>
<path fill="#3d6a20" d="M111.9 990.5h2.6v2.9h-2.6zM114.5 990.5h4.3v15.9h-4.3zM118.8 990.5h7.7v3.7h-7.7zM126.5 990.5h7.9v2.9h-7.9zM134.4 990.5h4.3v32.3h-4.3zM138.7 990.5h4.4v4.6h-4.4zM143.1 990.5h3.4v2.9h-3.4zM146.5 990.5h4.3v9.8h-4.3zM150.8 990.5h4.4v2.9h-4.4zM155.2 990.5h5.2v2.9h-5.2zM160.4 990.5h3.4v2.9h-3.4zM163.8 990.5h7.7v2.9h-7.7zM171.5 990.5h3.5v2.9h-3.5zM175 990.5h3.5v6.3h-3.5zM178.5 990.5h4.4v2.9h-4.4zM182.9 990.5h11.2v2h-11.2zM194.1 990.5h5.2v2.9h-5.2zM199.3 990.5h3.5v2.9h-3.5zM202.8 990.5h4.3v70.4h-4.3zM207.1 990.5h8.6v2.9h-8.6zM215.7 990.5h3.5v3.7h-3.5zM219.2 990.5h4.3v4.6h-4.3zM223.5 990.5h4.3v51.3h-4.3zM227.8 990.5h4.4v5.5h-4.4zM232.2 990.5h3.4v4.6h-3.4zM235.6 990.5h4.3v4.6h-4.3zM239.9 990.5h3.5v33.2h-3.5zM243.4 990.5h3.5v16.7h-3.5zM246.9 990.5h12.1v2.9h-12.1zM259 990.5h4.3v7.2h-4.3zM263.3 990.5h3.5v3.7h-3.5zM266.8 990.5h28.5v2.9h-28.5zM295.3 990.5h4.3v2.9h-4.3zM299.6 990.5h7.8v2.9h-7.8zM307.4 990.5h4.3v6.3h-4.3zM311.7 990.5h3.5v13.3h-3.5zM315.2 990.5h19.9v2.9h-19.9zM335.1 990.5h4.3v3.7h-4.3zM339.4 990.5h3.5v3.7h-3.5zM342.9 990.5h4.3v3.7h-4.3zM347.2 990.5h3.5v2.9h-3.5zM350.7 990.5h4.3v2.9h-4.3zM355 990.5h5.4v2.9h-5.4zM360.4 990.5h6v2.9h-6zM366.4 990.5h4.4v2.9h-4.4zM370.8 990.5h4.3v2.9h-4.3zM375.1 990.5h3.4v2.9h-3.4zM378.5 990.5h4.4v4.6h-4.4zM382.9 990.5h4.3v2.9h-4.3zM387.2 990.5h4.3v2.9h-4.3zM391.5 990.5h7.8v2.9h-7.8zM399.3 990.5h4.3v21h-4.3zM403.6 990.5h4.4v2.9h-4.4zM408 990.5h3.4v2.9h-3.4zM411.4 990.5h7.8v2.9h-7.8zM419.2 990.5h4.3v18.5h-4.3zM423.5 990.5h3.5v9.8h-3.5zM427 990.5h4.3v2.9h-4.3zM431.3 990.5h4.3v2.9h-4.3zM435.6 990.5h3.5v2.9h-3.5zM439.1 990.5h5.2v2.9h-5.2zM444.3 990.5h3.5v2.9h-3.5zM447.8 990.5h4.3v2.9h-4.3zM452.1 990.5h3.4v2.9h-3.4zM455.5 990.5h4.4v2.9h-4.4zM459.9 990.5h3.4v2.9h-3.4zM463.3 990.5h4.3v2.9h-4.3zM467.6 990.5h4.4v9.8h-4.4zM472 990.5h3.4v2.9h-3.4zM475.4 990.5h4.4v2.9h-4.4zM479.8 990.5h4.3v13.3h-4.3zM484.1 990.5h3.4v2.9h-3.4zM487.5 990.5h4.4v2.9h-4.4zM491.9 990.5h4.3v2.9h-4.3zM496.2 990.5h7.8v2.9h-7.8zM504 990.5h3.4v4.6h-3.4zM507.4 990.5h4.4v2.9h-4.4zM511.8 990.5h3.4v2.9h-3.4zM515.2 990.5h5.2v7.2h-5.2zM520.4 990.5h3.5v2.9h-3.5zM523.9 990.5h4.3v2.9h-4.3zM528.2 990.5h3.5v2.9h-3.5zM531.7 990.5h4.3v2.9h-4.3zM536 990.5h4.3v2.9h-4.3zM540.3 990.5h2.9v2.9h-2.9zM543.2 990.5h17.3v2.9h-17.3zM560.5 990.5h3.2v2.9h-3.2zM563.7 990.5h4.3v2.9h-4.3zM568 990.5h3.5v2.9h-3.5zM571.5 990.5h4.3v6.3h-4.3zM575.8 990.5h8.6v2.9h-8.6zM584.4 990.5h3.5v2.9h-3.5zM587.9 990.5h4.3v2.9h-4.3zM592.2 990.5h3.5v2.9h-3.5zM595.7 990.5h4.3v2.9h-4.3zM600 990.5h4.5v8.1h-4.5zM604.5 990.5h6.9v2.9h-6.9zM611.4 990.5h5.1v2.9h-5.1zM616.5 990.5h4.5v2.9h-4.5zM621 990.5h3.2v2.9h-3.2zM624.2 990.5h4.5v2.9h-4.5zM628.7 990.5h2.6v8.1h-2.6zM631.3 990.5h5.4v2.9h-5.4zM636.7 990.5h3.3v2.9h-3.3zM640 990.5h4.3v10.7h-4.3zM644.3 990.5h3.5v2.9h-3.5zM647.8 990.5h4.3v8.1h-4.3zM652.1 990.5h4.3v4.6h-4.3zM656.4 990.5h3.5v4.6h-3.5zM659.9 990.5h4.3v9.8h-4.3zM664.2 990.5h3.5v5.5h-3.5zM667.7 990.5h4.3v5.5h-4.3zM672 990.5h4.3v5.5h-4.3zM676.3 990.5h3.5v2.9h-3.5zM679.8 990.5h4.3v2.9h-4.3zM684.1 990.5h7.8v2.9h-7.8zM691.9 990.5h4.3v29.7h-4.3zM696.2 990.5h4.6v2.9h-4.6zM700.8 990.5h3.2v2.9h-3.2zM704 990.5h4.3v2.9h-4.3zM708.3 990.5h4.3v2.9h-4.3zM712.6 990.5h3.9v2.9h-3.9zM716.5 990.5h3.1v18.5h-3.1zM719.6 990.5h4.3v2.9h-4.3zM723.9 990.5h4.3v2.9h-4.3zM728.2 990.5h4.3v2.9h-4.3zM732.5 990.5h4.4v9.8h-4.4zM736.9 990.5h3.4v2.9h-3.4zM740.3 990.5h4.4v27.1h-4.4zM744.7 990.5h3.4v2.9h-3.4zM748.1 990.5h4.8v2.9h-4.8zM752.9 990.5h3.9v2.9h-3.9zM756.8 990.5h4.3v16.7h-4.3zM761.1 990.5h4.3v2.9h-4.3zM765.4 990.5h3.5v2.9h-3.5zM768.9 990.5h4.3v5.5h-4.3zM773.2 990.5h3.5v6.3h-3.5zM776.7 990.5h4.3v2.9h-4.3zM781 990.5h4.3v2.9h-4.3zM785.3 990.5h3.5v2.9h-3.5zM788.8 990.5h3.4v2.9h-3.4zM792.2 990.5h4.4v88.5h-4.4zM796.6 990.5h3.4v2.9h-3.4zM800 990.5h5.2v15h-5.2zM805.2 990.5h7.9v2.9h-7.9zM813.1 990.5h3.4v2.9h-3.4zM816.5 990.5h4.3v16.7h-4.3zM820.8 990.5h15.5v2.9h-15.5zM836.3 990.5h4.4v9.8h-4.4zM840.7 990.5h4.3v2.9h-4.3zM845 990.5h3.7v2.9h-3.7zM848.7 990.5h4.3v18.5h-4.3zM853 990.5h4.3v2.9h-4.3zM857.3 990.5h3.5v2.9h-3.5zM860.8 990.5h3.4v199.2h-3.4zM864.2 990.5h4.3v2.9h-4.3zM868.5 990.5h4.4v2.9h-4.4zM872.9 990.5h3.4v2.9h-3.4zM876.3 990.5h5.2v2.9h-5.2zM881.5 990.5h3.5v4.6h-3.5zM885 990.5h4.3v6.3h-4.3zM889.3 990.5h3.8v2.9h-3.8zM893.1 990.5h4v2.9h-4zM897.1 990.5h4.3v4.6h-4.3zM901.4 990.5h3.5v2.9h-3.5zM904.9 990.5h4.3v2.9h-4.3zM909.2 990.5h7.8v2.9h-7.8zM917 990.5h7.8v2.9h-7.8zM924.8 990.5h4.3v4.6h-4.3zM929.1 990.5h4.3v12.4h-4.3zM933.4 990.5h3.5v2.9h-3.5zM936.9 990.5h4.3v2.9h-4.3zM941.2 990.5h3.5v2.9h-3.5zM944.7 990.5h4.3v2.9h-4.3zM949 990.5h3.5v2.9h-3.5zM952.5 990.5h5.1v2.9h-5.1zM957.6 990.5h3.5v2.9h-3.5zM961.1 990.5h3.5v2.9h-3.5zM964.6 990.5h4.3v2.9h-4.3zM968.9 990.5h4.5v2.9h-4.5zM973.4 990.5h5v4.6h-5zM978.4 990.5h10.4v4.6h-10.4zM988.8 990.5h4.3v2.9h-4.3zM993.1 990.5h4.3v5.5h-4.3zM997.4 990.5h4.4v2.9h-4.4zM1001.8 990.5h7.7v2.9h-7.7zM1009.5 990.5h3.5v2.9h-3.5zM1013 990.5h4.5v2.9h-4.5zM1017.5 990.5h3.3v2.9h-3.3zM1020.8 990.5h4.3v8.1h-4.3zM1025.1 990.5h4.6v2.9h-4.6zM1029.7 990.5h3.8v2.9h-3.8zM1033.5 990.5h7.2v2.9h-7.2zM1040.7 990.5h4.3v7.2h-4.3zM1045 990.5h12.9v2.9h-12.9zM1057.9 990.5h7.9v2.9h-7.9zM1065.8 990.5h14.7v2.9h-14.7zM1080.5 990.5h5.3v3.7h-5.3zM1085.8 990.5h3.8v2.9h-3.8zM1089.6 990.5h20.1v2.9h-20.1zM1105.8 990.5h3.9v8.1h-3.9zM1109.7 990.5h6.4v2.9h-6.4zM1116.1 990.5h2.2v2.9h-2.2zM1118.3 990.5h3.4v2.9h-3.4zM1121.7 990.5h4.8v2.9h-4.8zM1126.5 990.5h7.5v4.6h-7.5zM1134 990.5h7.2v72.1h-7.2zM1141.2 990.5h4.4v2.9h-4.4zM1145.6 990.5h3.4v8.9h-3.4zM1149 990.5h8.7v2.9h-8.7zM1157.7 990.5h4.3v22.8h-4.3zM1162 990.5h8v72.1h-8zM1170 990.5h4.1v2.9h-4.1zM1174.1 990.5h3.5v72.1h-3.5zM1177.6 990.5h3.4v2.9h-3.4zM1181 990.5h13v5.5h-13zM1194 990.5h3.9v72.1h-3.9zM1197.9 990.5h4.7v9.8h-4.7zM1202.6 990.5h7v2.9h-7zM1209.6 990.5h4.3v2.9h-4.3zM1213.9 990.5h4.3v2.9h-4.3zM1218.2 990.5h5.2v2.9h-5.2zM1223.4 990.5h6.1v2.9h-6.1zM1229.5 990.5h4.3v2.9h-4.3zM1233.8 990.5h3.4v2.9h-3.4zM1237.2 990.5h5v2.9h-5zM1242.2 990.5h3.7v15h-3.7zM1245.9 990.5h5.2v2.9h-5.2zM1251.1 990.5h6.9v2.9h-6.9zM1258 990.5h4.3v2.9h-4.3zM1262.3 990.5h3.5v2.9h-3.5zM1265.8 990.5h4.3v16.7h-4.3zM1270.1 990.5h3.5v16.7h-3.5zM1273.6 990.5h7.8v2.9h-7.8zM1281.4 990.5h4.3v18.5h-4.3zM1285.7 990.5h3.4v2.9h-3.4zM1289.1 990.5h5.1v2.9h-5.1zM1294.2 990.5h3.6v2.9h-3.6zM1297.8 990.5h4.6v16.7h-4.6zM1302.4 990.5h7.9v2.9h-7.9zM1310.3 990.5h4.8v2.9h-4.8zM1315.1 990.5h2.6v2.9h-2.6zM1317.7 990.5h3.5v2.9h-3.5zM1321.2 990.5h5.4v2.9h-5.4zM1326.6 990.5h3.4v2.9h-3.4zM1330 990.5h4.4v2.9h-4.4zM1334.4 990.5h3v2.9h-3zM1337.4 990.5h4.2v3.5h-4.2zM1341.6 990.5h7.8v72.3h-7.8zM1349.4 990.5h4.2v2.9h-4.2zM1353.6 990.5h3.6v2.9h-3.6zM1357.2 990.5h21.2v2.9h-21.2zM1378.4 990.5h5.6v0.5h-5.6z"/>
<path fill="#dc6718" d="M111.9 994.2h2.6v0.9h-2.6zM114.5 1009.8h4.3v2.6h-4.3zM118.8 996h7.7v0.8h-7.7zM126.5 995.1h7.9v1.7h-7.9zM134.4 1023.7h4.3v1.7h-4.3zM138.7 1009h4.4v1.7h-4.4zM143.1 994.2h3.4v0.9h-3.4zM146.5 1001.2h4.3v1.7h-4.3zM150.8 995.1h4.4v0.9h-4.4zM155.2 999.4h5.2v0.9h-5.2zM160.4 997.7h3.4v0.9h-3.4zM163.8 994.2h7.7v0.9h-7.7zM171.5 1006.4h3.5v4.3h-3.5zM175 1008h3.5v2.7h-3.5zM178.5 996.8h4.4v5.2h-4.4zM182.9 996h11.2v0.8h-11.2zM194.1 1008h5.2v11.3h-5.2zM199.3 996h3.5v0.8h-3.5zM202.8 1063.5h4.3v2.5h-4.3zM207.1 995.1h8.6v0.9h-8.6zM215.7 1002h3.5v1.8h-3.5zM219.2 1007.2h4.3v2.6h-4.3zM223.5 1062.6h4.3v3.4h-4.3zM227.8 1034.9h4.4v15.6h-4.4zM232.2 1092.9h3.4v18.1h-3.4zM235.6 1133.5h4.3v6.9h-4.3zM239.9 1044.4h3.5v21.6h-3.5zM243.4 1012.4h3.5v1.7h-3.5zM246.9 995.1h12.1v0.9h-12.1zM259 999.4h4.3v1.8h-4.3zM263.3 997.7h3.5v2.6h-3.5zM266.8 994.2h28.5v0.9h-28.5zM295.3 1012.4h4.3v2.6h-4.3zM299.6 995.1h7.8v0.9h-7.8zM307.4 1000.3h4.3v2.6h-4.3zM311.7 1053.9h3.5v12.1h-3.5zM315.2 995.1h19.9v0.9h-19.9zM335.1 1011.5h4.3v5.2h-4.3zM339.4 1148.2h3.5v2.6h-3.5zM342.9 1063.5h4.3v60.5h-4.3zM347.2 997.7h3.5v1.7h-3.5zM350.7 997.7h4.3v5.2h-4.3zM355 995.1h5.4v1.7h-5.4zM360.4 995.1h6v0.9h-6zM366.4 998.6h4.4v1.7h-4.4zM370.8 1001.2h4.3v2.6h-4.3zM375.1 996h3.4v0.8h-3.4zM378.5 1052.2h4.4v13h-4.4zM382.9 998.6h4.3v0.8h-4.3zM387.2 999.4h4.3v0.9h-4.3zM391.5 996.8h7.8v0.9h-7.8zM399.3 1018.5h4.3v20.7h-4.3zM403.6 995.1h4.4v0.9h-4.4zM408 1000.3h3.4v1.7h-3.4zM411.4 995.1h7.8v0.9h-7.8zM419.2 1255.5h4.3v2.6h-4.3zM423.5 1214h3.5v2.6h-3.5zM427 1267.6h4.3v3.4h-4.3zM431.3 1270.2h4.3v1.8h-4.3zM435.6 1226.1h3.5v3.4h-3.5zM439.1 1176.8h5.2v2.6h-5.2zM447.8 1138.7h4.3v5.2h-4.3zM452.1 1197.5h3.4v9.5h-3.4zM455.5 1239.9h4.4v32h-4.4zM459.9 1118.8h3.4v22.5h-3.4zM463.3 1243.4h4.3v28.5h-4.3zM467.6 1213.1h4.4v38.1h-4.4zM472 1268.5h3.4v4.3h-3.4zM475.4 1215.7h4.4v2.6h-4.4zM479.8 1169.9h4.3v43.2h-4.3zM484.1 1268.5h3.4v4.3h-3.4zM487.5 1194.9h4.4v3.5h-4.4zM491.9 1261.5h4.3v7.8h-4.3zM496.2 1267.6h7.8v4.4h-7.8zM504 1218.3h3.4v3.5h-3.4zM507.4 1148.2h4.4v2.6h-4.4zM511.8 1271h3.4v1.8h-3.4zM515.2 1177.6h5.2v19.9h-5.2zM520.4 1258.1h3.5v4.3h-3.5zM523.9 1260.7h4.3v10.3h-4.3zM528.2 1269.3h3.5v3.5h-3.5zM531.7 1222.6h4.3v6.1h-4.3zM536 1211.4h4.3v12.1h-4.3zM540.3 1262.4h2.9v5.2h-2.9zM543.2 1271h17.3v1.8h-17.3zM563.7 1263.3h4.3v7.7h-4.3zM568 1266.7h3.5v5.3h-3.5zM571.5 1238.2h4.3v9.5h-4.3zM575.8 1268.5h8.6v3.5h-8.6zM584.4 1251.2h3.5v2.6h-3.5zM587.9 1264.1h4.3v1.7h-4.3zM592.2 1259h3.5v6h-3.5zM595.7 1266.7h4.3v4.3h-4.3zM600 1234.7h4.5v21.7h-4.5zM604.5 1270.2h6.9v2.6h-6.9zM611.4 1000.3h5.1v6.9h-5.1zM616.5 998.6h4.5v1.7h-4.5zM624.2 1190.6h4.5v74.4h-4.5zM628.7 1270.2h2.6v2.6h-2.6zM631.3 1234.7h5.4v7.8h-5.4zM640 1252h4.3v17.3h-4.3zM647.8 1245.1h4.3v4.3h-4.3zM664.2 1262.4h3.5v1.7h-3.5zM667.7 1264.1h4.3v2.6h-4.3zM672 1218.3h4.3v1.7h-4.3zM679.8 1264.1h4.3v1.7h-4.3zM684.1 1271h7.8v1.8h-7.8zM691.9 1271h4.3v1.8h-4.3zM700.8 1271h3.2v1.8h-3.2zM704 1200.1h4.3v71.8h-4.3zM708.3 1048.7h4.3v130.7h-4.3zM712.6 1215.7h3.9v56.3h-3.9zM716.5 1266.7h3.1v5.3h-3.1zM719.6 1026.3h4.3v5.1h-4.3zM723.9 1063.5h4.3v6h-4.3zM728.2 1264.1h4.3v2.6h-4.3zM732.5 1196.7h4.4v58.8h-4.4zM736.9 1257.2h3.4v4.3h-3.4zM740.3 1156h4.4v13h-4.4zM744.7 1202.7h3.4v1.7h-3.4zM748.1 1271h4.8v1.8h-4.8zM756.8 1192.3h4.3v5.2h-4.3zM761.1 1003.8h4.3v4.3h-4.3zM768.9 1246.8h4.3v13h-4.3zM773.2 998.6h3.5v1.7h-3.5zM776.7 1253.8h4.3v18.2h-4.3zM781 1009h4.3v1.7h-4.3zM792.2 1168.1h4.4v7.8h-4.4zM796.6 1265h3.4v5.2h-3.4zM800 1021.1h5.2v40.6h-5.2zM805.2 1268.5h7.9v3.5h-7.9zM813.1 1270.2h3.4v1.8h-3.4zM816.5 1254.6h4.3v9.5h-4.3zM820.8 1269.3h15.5v2.7h-15.5zM836.3 1153.4h4.4v71.8h-4.4zM840.7 1258.1h4.3v3.4h-4.3zM845 1252.9h3.7v13.8h-3.7zM848.7 1219.2h4.3v19.9h-4.3zM853 1264.1h4.3v2.6h-4.3zM857.3 1266.7h3.5v4.3h-3.5zM860.8 1239.9h3.4v13h-3.4zM864.2 1131.8h4.3v4.3h-4.3zM868.5 1259.8h4.4v12.2h-4.4zM872.9 1259h3.4v7.7h-3.4zM881.5 1236.5h3.5v35.5h-3.5zM885 1125.7h4.3v13.9h-4.3zM889.3 1269.3h3.8v3.5h-3.8zM893.1 1250.3h4v4.3h-4zM897.1 996.8h4.3v2.6h-4.3zM904.9 1256.4h4.3v15.6h-4.3zM909.2 1259h7.8v13h-7.8zM917 1270.2h7.8v2.6h-7.8zM929.1 1247.7h4.3v6.9h-4.3zM933.4 1270.2h3.5v2.6h-3.5zM936.9 1267.6h4.3v4.4h-4.3zM949 1268.5h3.5v4.3h-3.5zM957.6 998.6h3.5v9.5h-3.5zM961.1 1063.5h3.5v9.5h-3.5zM964.6 1001.2h4.3v4.3h-4.3zM968.9 1060.9h4.5v12.9h-4.5zM973.4 1267.6h5v3.4h-5zM978.4 1265.9h10.4v6.1h-10.4zM988.8 1266.7h4.3v5.3h-4.3zM993.1 1172.4h4.3v83.1h-4.3zM997.4 1269.3h4.4v3.5h-4.4zM1001.8 1264.1h7.7v7.9h-7.7zM1013 1261.5h4.5v10.5h-4.5zM1020.8 1259h4.3v2.5h-4.3zM1033.5 1269.3h7.2v3.5h-7.2zM1040.7 1059.1h4.3v46.7h-4.3zM1045 1270.2h12.9v2.6h-12.9zM1065.8 1270.2h14.7v2.6h-14.7zM1089.6 1269.3h20.1v2.7h-20.1zM1105.8 1269.3h3.9v2.7h-3.9zM1109.7 1261.5h6.4v7h-6.4zM1118.3 1258.1h3.4v13.9h-3.4zM1126.5 1266.7h7.5v2.6h-7.5zM1134 1133.5h7.2v70.1h-7.2zM1145.6 1017.6h3.4v8.7h-3.4zM1157.7 1016.7h4.3v2.6h-4.3zM1162 1133.5h8v70.1h-8zM1174.1 1133.5h3.5v70.1h-3.5zM1177.6 1266.7h3.4v5.3h-3.4zM1181 998.6h13v1.7h-13zM1194 1133.5h3.9v70.1h-3.9zM1197.9 1256.4h4.7v15.6h-4.7zM1202.6 1270.2h7v2.6h-7zM1209.6 1266.7h4.3v5.3h-4.3zM1213.9 1258.1h4.3v13.9h-4.3zM1223.4 1268.5h6.1v3.5h-6.1zM1237.2 1264.1h5v7.9h-5zM1245.9 1269.3h5.2v2.7h-5.2zM1251.1 1264.1h6.9v7.9h-6.9zM1258 1259.8h4.3v12.2h-4.3zM1262.3 1266.7h3.5v4.3h-3.5zM1265.8 1008.1h4.3v3.4h-4.3zM1270.1 1043.6h3.5v69.2h-3.5zM1273.6 1270.2h7.8v2.6h-7.8zM1281.4 1234.7h4.3v35.5h-4.3zM1285.7 1270.2h3.4v2.6h-3.4zM1289.1 1261.5h5.1v10.5h-5.1zM1302.4 1264.1h7.9v7.9h-7.9zM1310.3 1266.7h4.8v5.3h-4.8zM1315.1 1268.5h2.6v3.5h-2.6zM1317.7 1239.1h3.5v32.9h-3.5zM1321.2 1223.5h5.4v48.5h-5.4zM1326.6 1269.3h3.4v2.7h-3.4zM1330 1262.4h4.4v9.6h-4.4zM1334.4 1270h3v2h-3zM1337.4 1004h4.2v3h-4.2zM1341.6 1133.1h7.8v70.2h-7.8zM1349.4 1271h4.2v1h-4.2zM1353.6 1266h3.6v6h-3.6zM1357.2 1271h21.2v1h-21.2zM1378.4 995h5.6v270h-5.6z"/>
<path fill="#5893dc" d="M111.9 995.1h2.6v279.4h-2.6zM114.5 1012.4h4.3v262.1h-4.3zM118.8 996.8h7.7v277.7h-7.7zM126.5 996.8h7.9v277.7h-7.9zM134.4 1025.4h4.3v249.1h-4.3zM138.7 1010.7h4.4v263.8h-4.4zM143.1 995.1h3.4v279.4h-3.4zM146.5 1002.9h4.3v271.6h-4.3zM150.8 996h4.4v278.5h-4.4zM155.2 1000.3h5.2v274.2h-5.2zM160.4 998.6h3.4v275.9h-3.4zM163.8 995.1h7.7v279.4h-7.7zM171.5 1010.7h3.5v263.8h-3.5zM175 1010.7h3.5v263.8h-3.5zM178.5 1002h4.4v272.5h-4.4zM182.9 996.8h11.2v277.7h-11.2zM194.1 1019.3h5.2v255.2h-5.2zM199.3 996.8h3.5v277.7h-3.5zM202.8 1066h4.3v208.5h-4.3zM207.1 996h8.6v278.5h-8.6zM215.7 1003.8h3.5v270.7h-3.5zM219.2 1009.8h4.3v264.7h-4.3zM223.5 1066h4.3v208.5h-4.3zM227.8 1050.5h4.4v224h-4.4zM232.2 1111h3.4v163.5h-3.4zM235.6 1140.4h4.3v134.1h-4.3zM239.9 1066h3.5v208.5h-3.5zM243.4 1014.1h3.5v260.4h-3.5zM246.9 996h12.1v278.5h-12.1zM259 1001.2h4.3v273.3h-4.3zM263.3 1000.3h3.5v274.2h-3.5zM266.8 995.1h28.5v279.4h-28.5zM295.3 1015h4.3v259.5h-4.3zM299.6 996h7.8v278.5h-7.8zM307.4 1002.9h4.3v271.6h-4.3zM311.7 1066h3.5v208.5h-3.5zM315.2 996h19.9v278.5h-19.9zM335.1 1016.7h4.3v257.8h-4.3zM339.4 1150.8h3.5v123.7h-3.5zM342.9 1124h4.3v150.5h-4.3zM347.2 999.4h3.5v275.1h-3.5zM350.7 1002.9h4.3v271.6h-4.3zM355 996.8h5.4v277.7h-5.4zM360.4 996h6v278.5h-6zM366.4 1000.3h4.4v274.2h-4.4zM370.8 1003.8h4.3v270.7h-4.3zM375.1 996.8h3.4v277.7h-3.4zM378.5 1065.2h4.4v209.3h-4.4zM382.9 999.4h4.3v275.1h-4.3zM387.2 1000.3h4.3v274.2h-4.3zM391.5 997.7h7.8v276.8h-7.8zM399.3 1039.2h4.3v235.3h-4.3zM403.6 996h4.4v278.5h-4.4zM408 1002h3.4v272.5h-3.4zM411.4 996h7.8v278.5h-7.8zM419.2 1258.1h4.3v16.4h-4.3zM423.5 1216.6h3.5v57.9h-3.5zM427 1271h4.3v3.5h-4.3zM431.3 1272h4.3v2.5h-4.3zM435.6 1229.5h3.5v45h-3.5zM439.1 1179.4h5.2v95.1h-5.2zM444.3 1272.8h3.5v1.7h-3.5zM447.8 1143.9h4.3v130.6h-4.3zM452.1 1207h3.4v67.5h-3.4zM455.5 1271.9h4.4v2.6h-4.4zM459.9 1141.3h3.4v133.2h-3.4zM463.3 1271.9h4.3v2.6h-4.3zM467.6 1251.2h4.4v23.3h-4.4zM472 1272.8h3.4v1.7h-3.4zM475.4 1218.3h4.4v56.2h-4.4zM479.8 1213.1h4.3v61.4h-4.3zM484.1 1272.8h3.4v1.7h-3.4zM487.5 1198.4h4.4v76.1h-4.4zM491.9 1269.3h4.3v5.2h-4.3zM496.2 1272h7.8v2.5h-7.8zM504 1221.8h3.4v52.7h-3.4zM507.4 1150.8h4.4v123.7h-4.4zM511.8 1272.8h3.4v1.7h-3.4zM515.2 1197.5h5.2v77h-5.2zM520.4 1262.4h3.5v12.1h-3.5zM523.9 1271h4.3v3.5h-4.3zM528.2 1272.8h3.5v1.7h-3.5zM531.7 1228.7h4.3v45.8h-4.3zM536 1223.5h4.3v51h-4.3zM540.3 1267.6h2.9v6.9h-2.9zM543.2 1272.8h17.3v1.7h-17.3zM560.5 996.8h3.2v277.7h-3.2zM563.7 1271h4.3v3.5h-4.3zM568 1272h3.5v2.5h-3.5zM571.5 1247.7h4.3v26.8h-4.3zM575.8 1272h8.6v2.5h-8.6zM584.4 1253.8h3.5v20.7h-3.5zM587.9 1265.8h4.3v8.7h-4.3zM592.2 1265h3.5v9.5h-3.5zM595.7 1271h4.3v3.5h-4.3zM600 1256.4h4.5v18.1h-4.5zM604.5 1272.8h6.9v1.7h-6.9zM611.4 1007.2h5.1v267.3h-5.1zM616.5 1000.3h4.5v274.2h-4.5zM621 1272h3.2v2.5h-3.2zM624.2 1265h4.5v9.5h-4.5zM628.7 1272.8h2.6v1.7h-2.6zM631.3 1242.5h5.4v32h-5.4zM636.7 1272.8h3.3v1.7h-3.3zM640 1269.3h4.3v5.2h-4.3zM644.3 1272h3.5v2.5h-3.5zM647.8 1249.4h4.3v25.1h-4.3zM652.1 1232.1h4.3v42.4h-4.3zM656.4 1228.7h3.5v45.8h-3.5zM659.9 1228.7h4.3v45.8h-4.3zM664.2 1264.1h3.5v10.4h-3.5zM667.7 1266.7h4.3v7.8h-4.3zM672 1220h4.3v54.5h-4.3zM676.3 1272h3.5v2.5h-3.5zM679.8 1265.8h4.3v8.7h-4.3zM684.1 1272.8h7.8v1.7h-7.8zM691.9 1272.8h4.3v1.7h-4.3zM696.2 1272h4.6v2.5h-4.6zM700.8 1272.8h3.2v1.7h-3.2zM704 1271.9h4.3v2.6h-4.3zM708.3 1179.4h4.3v95.1h-4.3zM712.6 1272h3.9v2.5h-3.9zM716.5 1272h3.1v2.5h-3.1zM719.6 1031.4h4.3v243.1h-4.3zM723.9 1069.5h4.3v205h-4.3zM728.2 1266.7h4.3v7.8h-4.3zM732.5 1255.5h4.4v19h-4.4zM736.9 1261.5h3.4v13h-3.4zM740.3 1169h4.4v105.5h-4.4zM744.7 1204.4h3.4v70.1h-3.4zM748.1 1272.8h4.8v1.7h-4.8zM752.9 1272h3.9v2.5h-3.9zM756.8 1197.5h4.3v77h-4.3zM761.1 1008.1h4.3v266.4h-4.3zM765.4 1272h3.5v2.5h-3.5zM768.9 1259.8h4.3v14.7h-4.3zM773.2 1000.3h3.5v274.2h-3.5zM776.7 1272h4.3v2.5h-4.3zM781 1010.7h4.3v263.8h-4.3zM785.3 998.6h3.5v275.9h-3.5zM788.8 1272h3.4v2.5h-3.4zM792.2 1175.9h4.4v98.6h-4.4zM796.6 1270.2h3.4v4.3h-3.4zM800 1061.7h5.2v212.8h-5.2zM805.2 1272h7.9v2.5h-7.9zM813.1 1272h3.4v2.5h-3.4zM816.5 1264.1h4.3v10.4h-4.3zM820.8 1272h15.5v2.5h-15.5zM836.3 1225.2h4.4v49.3h-4.4zM840.7 1261.5h4.3v13h-4.3zM845 1266.7h3.7v7.8h-3.7zM848.7 1239.1h4.3v35.4h-4.3zM853 1266.7h4.3v7.8h-4.3zM857.3 1271h3.5v3.5h-3.5zM860.8 1252.9h3.4v21.6h-3.4zM864.2 1136.1h4.3v138.4h-4.3zM868.5 1272h4.4v2.5h-4.4zM872.9 1266.7h3.4v7.8h-3.4zM876.3 998.6h5.2v275.9h-5.2zM881.5 1272h3.5v2.5h-3.5zM885 1139.6h4.3v134.9h-4.3zM889.3 1272.8h3.8v1.7h-3.8zM893.1 1254.6h4v19.9h-4zM897.1 999.4h4.3v275.1h-4.3zM901.4 1265h3.5v9.5h-3.5zM904.9 1272h4.3v2.5h-4.3zM909.2 1272h7.8v2.5h-7.8zM917 1272.8h7.8v1.7h-7.8zM924.8 996h4.3v278.5h-4.3zM929.1 1254.6h4.3v19.9h-4.3zM933.4 1272.8h3.5v1.7h-3.5zM936.9 1272h4.3v2.5h-4.3zM941.2 1272.8h3.5v1.7h-3.5zM944.7 1262.4h4.3v12.1h-4.3zM949 1272.8h3.5v1.7h-3.5zM952.5 998.6h5.1v275.9h-5.1zM957.6 1008.1h3.5v266.4h-3.5zM961.1 1073h3.5v201.5h-3.5zM964.6 1005.5h4.3v269h-4.3zM968.9 1073.8h4.5v200.7h-4.5zM973.4 1271h5v3.5h-5zM978.4 1272h10.4v2.5h-10.4zM988.8 1272h4.3v2.5h-4.3zM993.1 1255.5h4.3v19h-4.3zM997.4 1272.8h4.4v1.7h-4.4zM1001.8 1272h7.7v2.5h-7.7zM1009.5 1272h3.5v2.5h-3.5zM1013 1272h4.5v2.5h-4.5zM1017.5 1272h3.3v2.5h-3.3zM1020.8 1261.5h4.3v13h-4.3zM1025.1 1250.3h4.6v24.2h-4.6zM1029.7 1272h3.8v2.5h-3.8zM1033.5 1272.8h7.2v1.7h-7.2zM1040.7 1105.8h4.3v168.7h-4.3zM1045 1272.8h12.9v1.7h-12.9zM1057.9 1258.1h7.9v16.4h-7.9zM1065.8 1272.8h14.7v1.7h-14.7zM1080.5 1268.5h5.3v6h-5.3zM1085.8 996h3.8v278.5h-3.8zM1089.6 1272h20.1v2.5h-20.1zM1105.8 1272h3.9v2.5h-3.9zM1109.7 1268.5h6.4v6h-6.4zM1116.1 1272h2.2v2.5h-2.2zM1118.3 1272h3.4v2.5h-3.4zM1121.7 1272h4.8v2.5h-4.8zM1126.5 1269.3h7.5v5.2h-7.5zM1134 1203.6h7.2v70.9h-7.2zM1141.2 994.2h4.4v280.3h-4.4zM1145.6 1026.3h3.4v248.2h-3.4zM1149 995.1h8.7v279.4h-8.7zM1157.7 1019.3h4.3v255.2h-4.3zM1162 1203.6h8v70.9h-8zM1170 1149.1h4.1v125.4h-4.1zM1174.1 1203.6h3.5v70.9h-3.5zM1177.6 1272h3.4v2.5h-3.4zM1181 1000.3h13v274.2h-13zM1194 1203.6h3.9v70.9h-3.9zM1197.9 1272h4.7v2.5h-4.7zM1202.6 1272.8h7v1.7h-7zM1209.6 1272h4.3v2.5h-4.3zM1213.9 1272h4.3v2.5h-4.3zM1218.2 1269.3h5.2v5.2h-5.2zM1223.4 1272h6.1v2.5h-6.1zM1229.5 1271h4.3v3.5h-4.3zM1233.8 1266.7h3.4v7.8h-3.4zM1237.2 1272h5v2.5h-5zM1242.2 1250.3h3.7v24.2h-3.7zM1245.9 1272h5.2v2.5h-5.2zM1251.1 1272h6.9v2.5h-6.9zM1258 1272h4.3v2.5h-4.3zM1262.3 1271h3.5v3.5h-3.5zM1265.8 1011.5h4.3v263h-4.3zM1270.1 1112.8h3.5v161.7h-3.5zM1273.6 1272.8h7.8v1.7h-7.8zM1281.4 1270.2h4.3v4.3h-4.3zM1285.7 1272.8h3.4v1.7h-3.4zM1289.1 1272h5.1v2.5h-5.1zM1294.2 1272h3.6v2.5h-3.6zM1297.8 1268.5h4.6v6h-4.6zM1302.4 1272h7.9v2.5h-7.9zM1310.3 1272h4.8v2.5h-4.8zM1315.1 1272h2.6v2.5h-2.6zM1317.7 1272h3.5v2.5h-3.5zM1321.2 1272h5.4v2.5h-5.4zM1326.6 1272h3.4v2.5h-3.4zM1330 1272h4.4v2.5h-4.4zM1334.4 1272h3v2.5h-3zM1337.4 1007h4.2v267.5h-4.2zM1341.6 1203.3h7.8v71.2h-7.8zM1349.4 1272h4.2v2.5h-4.2zM1353.6 1272h3.6v2.5h-3.6zM1357.2 1272h21.2v2.5h-21.2zM1378.4 1265h5.6v9.5h-5.6z"/>
<rect x="112" y="990.5" width="1272" height="284.0" fill="url(#st)"/>
<path fill="#0a0a14" d="M126.2 990.5h1.6v284h-1.6zM170.7 990.5h1.6v284h-1.6zM174.2 990.5h1.6v284h-1.6zM539.5 990.5h1.6v284h-1.6zM542.4 990.5h1.6v284h-1.6zM559.7 990.5h1.6v284h-1.6zM615.7 990.5h1.6v284h-1.6zM623.4 990.5h1.6v284h-1.6zM635.9 990.5h1.6v284h-1.6zM700 990.5h1.6v284h-1.6zM715.7 990.5h1.6v284h-1.6zM752.1 990.5h1.6v284h-1.6zM756 990.5h1.6v284h-1.6zM788 990.5h1.6v284h-1.6zM812.3 990.5h1.6v284h-1.6zM872.1 990.5h1.6v284h-1.6zM892.3 990.5h1.6v284h-1.6zM972.6 990.5h1.6v284h-1.6zM1008.7 990.5h1.6v284h-1.6zM1016.7 990.5h1.6v284h-1.6zM1028.9 990.5h1.6v284h-1.6zM1032.7 990.5h1.6v284h-1.6zM1057.1 990.5h1.6v284h-1.6zM1065 990.5h1.6v284h-1.6zM1072.6 990.5h1.6v284h-1.6zM1081 990.5h1.6v284h-1.6zM1085 990.5h1.6v284h-1.6zM1088.8 990.5h1.6v284h-1.6zM1108.9 990.5h1.6v284h-1.6zM1117.5 990.5h1.6v284h-1.6zM1120.9 990.5h1.6v284h-1.6zM1124.7 990.5h1.6v284h-1.6zM1133.2 990.5h1.6v284h-1.6zM1169.2 990.5h1.6v284h-1.6zM1197.1 990.5h1.6v284h-1.6zM1241.4 990.5h1.6v284h-1.6zM1245.1 990.5h1.6v284h-1.6zM1257.2 990.5h1.6v284h-1.6zM1293.4 990.5h1.6v284h-1.6zM1301.6 990.5h1.6v284h-1.6zM1309.5 990.5h1.6v284h-1.6zM1325.8 990.5h1.6v284h-1.6zM1333.6 990.5h1.6v284h-1.6zM1377.6 990.5h1.6v284h-1.6z"/>
<path fill="#000" d="M106 984.5H1384V990.5H112V1274.5H1384V1280.5H106z"/>
<text x="0" y="1154.9" font-size="40" font-weight="bold">K = 4</text>
<rect x="112" y="1291" width="1272" height="285" fill="#300650"/>
<path fill="#821d4e" d="M111.9 1291h3.5v3.2h-3.5zM115.4 1291h4.3v3.2h-4.3zM119.7 1291h6.8v3.2h-6.8zM126.5 1291h4.5v3.2h-4.5zM131 1291h4.3v3.2h-4.3zM135.3 1291h4.3v3.2h-4.3zM139.6 1291h3.5v6.7h-3.5zM143.1 1291h4.3v4.1h-4.3zM147.4 1291h4.3v5h-4.3zM151.7 1291h3.5v4.1h-3.5zM155.2 1291h4.3v5.8h-4.3zM159.5 1291h3.5v5.8h-3.5zM163 1291h5.2v5.8h-5.2zM168.2 1291h3.3v4.1h-3.3zM171.5 1291h3.5v4.1h-3.5zM175 1291h4.4v4.1h-4.4zM179.4 1291h4.3v5.8h-4.3zM183.7 1291h4.3v5.8h-4.3zM188 1291h3.5v6.7h-3.5zM191.5 1291h4.3v5.8h-4.3zM195.8 1291h4.4v7.6h-4.4zM200.2 1291h3.4v7.6h-3.4zM203.6 1291h5.2v18h-5.2zM208.8 1291h3.5v18h-3.5zM212.3 1291h4.3v7.6h-4.3zM216.6 1291h3.4v9.3h-3.4zM220 1291h4.4v7.6h-4.4zM224.4 1291h3.4v9.3h-3.4zM227.8 1291h4.4v9.3h-4.4zM232.2 1291h4.3v9.3h-4.3zM236.5 1291h3.5v12.8h-3.5zM240 1291h3.4v18h-3.4zM243.4 1291h4.3v12.8h-4.3zM247.7 1291h5.2v8.4h-5.2zM252.9 1291h6.9v5.8h-6.9zM259.8 1291h4.4v9.3h-4.4zM264.2 1291h4.3v9.3h-4.3zM268.5 1291h4.3v7.6h-4.3zM272.8 1291h4.3v7.6h-4.3zM277.1 1291h3.5v5.8h-3.5zM280.6 1291h4.3v5.8h-4.3zM284.9 1291h3.5v5.8h-3.5zM288.4 1291h6.9v5.8h-6.9zM295.3 1291h4.3v14.5h-4.3zM299.6 1291h7.8v7.6h-7.8zM307.4 1291h4.3v6.7h-4.3zM311.7 1291h4.4v6.7h-4.4zM316.1 1291h3.4v6.7h-3.4zM319.5 1291h4.3v5.8h-4.3zM323.8 1291h4.4v7.6h-4.4zM328.2 1291h3.4v3.2h-3.4zM331.6 1291h4.4v4.1h-4.4zM336 1291h3.4v6.7h-3.4zM339.4 1291h3.5v8.4h-3.5zM342.9 1291h4.3v7.6h-4.3zM347.2 1291h4.3v7.6h-4.3zM351.5 1291h3.5v9.3h-3.5zM355 1291h1.1v8.4h-1.1zM356.1 1291h4.3v5.8h-4.3zM360.4 1291h4.3v5h-4.3zM364.7 1291h3.5v5h-3.5zM368.2 1291h4.3v5.8h-4.3zM372.5 1291h3.5v7.6h-3.5zM376 1291h4.3v5.8h-4.3zM380.3 1291h3.4v7.6h-3.4zM383.7 1291h4.4v7.6h-4.4zM388.1 1291h4.3v7.6h-4.3zM392.4 1291h3.4v5.8h-3.4zM395.8 1291h4.4v9.3h-4.4zM400.2 1291h3.4v9.3h-3.4zM403.6 1291h4.4v5.8h-4.4zM408 1291h4.3v5.8h-4.3zM412.3 1291h7.8v5.8h-7.8zM420.1 1291h4.3v187.5h-4.3zM424.4 1291h3.5v179.7h-3.5zM427.9 1291h3.4v171.1h-3.4zM431.3 1291h4.3v184h-4.3zM435.6 1291h4.4v93.2h-4.4zM440 1291h4.3v127h-4.3zM444.3 1291h4.3v179.7h-4.3zM448.6 1291h3.5v180.6h-3.5zM452.1 1291h3.4v144.2h-3.4zM455.5 1291h4.4v168.5h-4.4zM459.9 1291h4.3v176.3h-4.3zM464.2 1291h4.3v7.6h-4.3zM468.5 1291h4.3v11h-4.3zM472.8 1291h4.4v7.6h-4.4zM477.2 1291h4.3v7.6h-4.3zM481.5 1291h2.6v9.3h-2.6zM484.1 1291h4.3v5.8h-4.3zM488.4 1291h4.3v5.8h-4.3zM492.7 1291h4.4v5.8h-4.4zM497.1 1291h6.9v5.8h-6.9zM504 1291h4.3v36.1h-4.3zM508.3 1291h4.3v6.7h-4.3zM512.6 1291h3.5v7.6h-3.5zM516.1 1291h4.3v7.6h-4.3zM520.4 1291h4.3v7.6h-4.3zM524.7 1291h3.5v7.6h-3.5zM528.2 1291h4.3v23.1h-4.3zM532.5 1291h3.5v5.8h-3.5zM536 1291h4.3v6.7h-4.3zM540.3 1291h2.9v138.2h-2.9zM543.2 1291h17.3v186.6h-17.3zM560.5 1291h4v7.6h-4zM564.5 1291h7v5.8h-7zM571.5 1291h4.3v5.8h-4.3zM575.8 1291h7.8v5.8h-7.8zM583.6 1291h4.3v88h-4.3zM587.9 1291h4.3v7.6h-4.3zM592.2 1291h3.5v7.6h-3.5zM595.7 1291h4.3v128.7h-4.3zM600 1291h4.5v11h-4.5zM604.5 1291h4.3v8.4h-4.3zM608.8 1291h3.5v128.7h-3.5zM612.3 1291h4.2v11h-4.2zM616.5 1291h4.5v9.3h-4.5zM621 1291h3.2v174.5h-3.2zM624.2 1291h4.5v7.6h-4.5zM628.7 1291h3.5v9.3h-3.5zM632.2 1291h4.5v7.6h-4.5zM636.7 1291h4.1v188.4h-4.1zM640.8 1291h3.5v11.9h-3.5zM644.3 1291h3.5v188.4h-3.5zM647.8 1291h5.2v153.8h-5.2zM653 1291h3.4v185.8h-3.4zM656.4 1291h3.5v178h-3.5zM659.9 1291h4.3v152.9h-4.3zM664.2 1291h3.5v184h-3.5zM667.7 1291h4.3v187.5h-4.3zM672 1291h4.3v175.4h-4.3zM676.3 1291h3.5v190.1h-3.5zM679.8 1291h4.3v181.4h-4.3zM684.1 1291h6.9v189.2h-6.9zM691 1291h5.2v183.2h-5.2zM696.2 1291h4.6v191h-4.6zM700.8 1291h4.9v14.5h-4.9zM705.7 1291h3.5v8.4h-3.5zM709.2 1291h4.3v9.3h-4.3zM713.5 1291h3v9.3h-3zM716.5 1291h4.8v9.3h-4.8zM721.3 1291h4.3v11h-4.3zM725.6 1291h3.5v11.9h-3.5zM729.1 1291h4.3v9.3h-4.3zM733.4 1291h3.5v9.3h-3.5zM736.9 1291h4.3v165h-4.3zM741.2 1291h3.5v9.3h-3.5zM744.7 1291h4.3v118.3h-4.3zM749 1291h3.9v7.6h-3.9zM752.9 1291h3.9v185.8h-3.9zM756.8 1291h4.3v182.3h-4.3zM761.1 1291h4.3v9.3h-4.3zM765.4 1291h3.5v8.4h-3.5zM768.9 1291h4.3v8.4h-4.3zM773.2 1291h3.5v9.3h-3.5zM776.7 1291h4.3v8.4h-4.3zM781 1291h3.4v9.3h-3.4zM784.4 1291h4.4v8.4h-4.4zM788.8 1291h3.4v8.4h-3.4zM792.2 1291h4.4v9.3h-4.4zM796.6 1291h4.3v9.3h-4.3zM800.9 1291h4.3v9.3h-4.3zM805.2 1291h7.9v8.4h-7.9zM813.1 1291h4.2v180.6h-4.2zM817.3 1291h4.3v137.3h-4.3zM821.6 1291h4.4v186.6h-4.4zM826 1291h3.4v135.6h-3.4zM829.4 1291h6.9v8.4h-6.9zM836.3 1291h4.4v9.3h-4.4zM840.7 1291h4.3v9.3h-4.3zM845 1291h3.7v177.1h-3.7zM848.7 1291h4.3v163.3h-4.3zM853 1291h4.3v184.9h-4.3zM857.3 1291h3.5v183.2h-3.5zM860.8 1291h3.4v142.5h-3.4zM864.2 1291h4.3v121.8h-4.3zM868.5 1291h4.4v183.2h-4.4zM872.9 1291h3.4v5.8h-3.4zM876.3 1291h5.2v5.8h-5.2zM881.5 1291h3.5v5.8h-3.5zM885 1291h4.3v11h-4.3zM889.3 1291h3.8v5.8h-3.8zM893.1 1291h4v8.4h-4zM897.1 1291h4.3v6.7h-4.3zM901.4 1291h3.5v189.2h-3.5zM904.9 1291h4.3v6.7h-4.3zM909.2 1291h7.8v33.5h-7.8zM917 1291h7.8v6.7h-7.8zM924.8 1291h4.3v7.6h-4.3zM929.1 1291h4.3v6.7h-4.3zM933.4 1291h3.5v6.7h-3.5zM936.9 1291h4.3v6.7h-4.3zM941.2 1291h4.3v186.6h-4.3zM945.5 1291h3.5v132.1h-3.5zM949 1291h3.5v6.7h-3.5zM952.5 1291h4.3v5.8h-4.3zM956.8 1291h4.3v7.6h-4.3zM961.1 1291h3.5v7.6h-3.5zM964.6 1291h4.3v9.3h-4.3zM968.9 1291h4.5v11h-4.5zM973.4 1291h4.1v5.8h-4.1zM977.5 1291h4.4v38.7h-4.4zM981.9 1291h11.2v5.8h-11.2zM993.1 1291h4.3v5.8h-4.3zM997.4 1291h4.4v24h-4.4zM1001.8 1291h4.3v58.6h-4.3zM1006.1 1291h3.4v5.8h-3.4zM1009.5 1291h4.4v74.2h-4.4zM1013.9 1291h3.6v184.9h-3.6zM1017.5 1291h4.2v184.9h-4.2zM1021.7 1291h4.3v187.5h-4.3zM1026 1291h3.7v183.2h-3.7zM1029.7 1291h3.8v136.5h-3.8zM1033.5 1291h7.2v5.8h-7.2zM1040.7 1291h4.3v7.6h-4.3zM1045 1291h12.9v185.8h-12.9zM1057.9 1291h4.4v69.9h-4.4zM1062.3 1291h3.5v165h-3.5zM1065.8 1291h5.2v187.5h-5.2zM1071 1291h3.4v164.1h-3.4zM1074.4 1291h5.2v88h-5.2zM1079.6 1291h6.2v187.5h-6.2zM1085.8 1291h3.8v5.8h-3.8zM1089.6 1291h4.1v82h-4.1zM1093.7 1291h4.3v19.7h-4.3zM1098 1291h4.3v6.7h-4.3zM1102.3 1291h3.5v107.9h-3.5zM1105.8 1291h3.9v39.6h-3.9zM1109.7 1291h3.8v20.5h-3.8zM1113.5 1291h4.8v5.8h-4.8zM1118.3 1291h3v175.4h-3zM1121.3 1291h4.4v175.4h-4.4zM1125.7 1291h4.3v184.9h-4.3zM1130 1291h4v164.1h-4zM1134 1291h7.2v58.6h-7.2zM1141.2 1291h4.4v5.8h-4.4zM1145.6 1291h3.4v12.8h-3.4zM1149 1291h4.3v5.8h-4.3zM1153.3 1291h4.4v8.4h-4.4zM1157.7 1291h4.3v14.5h-4.3zM1162 1291h8v58.6h-8zM1170 1291h4.1v85.4h-4.1zM1174.1 1291h3.5v58.6h-3.5zM1177.6 1291h3.4v85.4h-3.4zM1181 1291h4.3v7.6h-4.3zM1185.3 1291h4.4v7.6h-4.4zM1189.7 1291h4.3v7.6h-4.3zM1194 1291h3.9v58.6h-3.9zM1197.9 1291h4.7v28.3h-4.7zM1202.6 1291h3.5v69h-3.5zM1206.1 1291h4.3v156.4h-4.3zM1210.4 1291h3.5v11.9h-3.5zM1213.9 1291h4.3v11.9h-4.3zM1218.2 1291h3.5v27.5h-3.5zM1221.7 1291h4.3v62.9h-4.3zM1226 1291h3.5v35.3h-3.5zM1229.5 1291h4.3v10.2h-4.3zM1233.8 1291h4.3v124.4h-4.3zM1238.1 1291h4.1v39.6h-4.1zM1242.2 1291h3.7v147.7h-3.7zM1245.9 1291h5.2v26.6h-5.2zM1251.1 1291h6.9v177.1h-6.9zM1258 1291h4.3v11h-4.3zM1262.3 1291h3.5v52.6h-3.5zM1265.8 1291h4.3v11.9h-4.3zM1270.1 1291h3.5v12.8h-3.5zM1273.6 1291h7.8v11h-7.8zM1281.4 1291h4.3v56h-4.3zM1285.7 1291h3.4v8.4h-3.4zM1289.1 1291h5.1v7.6h-5.1zM1294.2 1291h3.6v181.4h-3.6zM1297.8 1291h4.6v198.7h-4.6zM1302.4 1291h3.2v170.2h-3.2zM1305.6 1291h4.7v156.4h-4.7zM1310.3 1291h3.9v5h-3.9zM1314.2 1291h3.5v18h-3.5zM1317.7 1291h3.5v5h-3.5zM1321.2 1291h5.4v5h-5.4zM1326.6 1291h3.4v180.5h-3.4zM1330 1291h3.8v122.9h-3.8zM1333.8 1291h3.6v45.4h-3.6zM1337.4 1291h4.2v6.4h-4.2zM1341.6 1291h7.8v58.6h-7.8zM1349.4 1291h1.8v88h-1.8zM1351.2 1291h7.2v6.4h-7.2zM1358.4 1291h3.6v184.1h-3.6zM1362 1291h4.8v170.9h-4.8zM1366.8 1291h7.2v188.9h-7.2zM1374 1291h4.4v177.5h-4.4zM1378.4 1291h5.6v4h-5.6z"/>
<path fill="#3d6a20" d="M111.9 1294.2h3.5v89.1h-3.5zM115.4 1294.2h4.3v99.5h-4.3zM119.7 1294.2h6.8v94.3h-6.8zM126.5 1294.2h4.5v102.1h-4.5zM131 1294.2h4.3v96.9h-4.3zM135.3 1294.2h4.3v109h-4.3zM139.6 1297.7h3.5v1.7h-3.5zM143.1 1295.1h4.3v93.4h-4.3zM147.4 1296h4.3v6.9h-4.3zM151.7 1295.1h3.5v43.3h-3.5zM155.2 1296.8h4.3v3.5h-4.3zM159.5 1296.8h3.5v0.9h-3.5zM163 1296.8h5.2v0.9h-5.2zM168.2 1295.1h3.3v75.3h-3.3zM171.5 1295.1h3.5v81.3h-3.5zM175 1295.1h4.4v107.3h-4.4zM179.4 1296.8h4.3v5.2h-4.3zM183.7 1296.8h4.3v71.8h-4.3zM188 1297.7h3.5v6.9h-3.5zM191.5 1296.8h4.3v92.6h-4.3zM195.8 1298.6h4.4v69.2h-4.4zM200.2 1298.6h3.4v67.4h-3.4zM203.6 1309h5.2v82.1h-5.2zM208.8 1309h3.5v77.8h-3.5zM212.3 1298.6h4.3v4.3h-4.3zM216.6 1300.3h3.4v1.7h-3.4zM220 1298.6h4.4v1.7h-4.4zM224.4 1300.3h3.4v98.6h-3.4zM227.8 1300.3h4.4v0.9h-4.4zM232.2 1300.3h4.3v0.9h-4.3zM236.5 1303.8h3.5v0.8h-3.5zM240 1309h3.4v24.2h-3.4zM243.4 1303.8h4.3v98.6h-4.3zM247.7 1299.4h5.2v0.9h-5.2zM252.9 1296.8h6.9v1.8h-6.9zM259.8 1300.3h4.4v5.2h-4.4zM264.2 1300.3h4.3v5.2h-4.3zM268.5 1298.6h4.3v89.1h-4.3zM272.8 1298.6h4.3v12.1h-4.3zM277.1 1296.8h3.5v92.6h-3.5zM280.6 1296.8h4.3v12.2h-4.3zM284.9 1296.8h3.5v5.2h-3.5zM288.4 1296.8h6.9v2.6h-6.9zM295.3 1305.5h4.3v22.5h-4.3zM299.6 1298.6h7.8v1.7h-7.8zM307.4 1297.7h4.3v19.9h-4.3zM311.7 1297.7h4.4v66.6h-4.4zM316.1 1297.7h3.4v12.1h-3.4zM319.5 1296.8h4.3v1.8h-4.3zM323.8 1298.6h4.4v1.7h-4.4zM328.2 1294.2h3.4v92.6h-3.4zM331.6 1295.1h4.4v86.5h-4.4zM336 1297.7h3.4v17.3h-3.4zM339.4 1299.4h3.5v0.9h-3.5zM342.9 1298.6h4.3v0.8h-4.3zM347.2 1298.6h4.3v28.5h-4.3zM351.5 1300.3h3.5v5.2h-3.5zM355 1299.4h1.1v5.2h-1.1zM356.1 1296.8h4.3v52.8h-4.3zM360.4 1296h4.3v79.6h-4.3zM364.7 1296h3.5v93.4h-3.5zM368.2 1296.8h4.3v3.5h-4.3zM372.5 1298.6h3.5v1.7h-3.5zM376 1296.8h4.3v2.6h-4.3zM380.3 1298.6h3.4v4.3h-3.4zM383.7 1298.6h4.4v5.2h-4.4zM388.1 1298.6h4.3v10.4h-4.3zM392.4 1296.8h3.4v78.8h-3.4zM395.8 1300.3h4.4v1.7h-4.4zM400.2 1300.3h3.4v16.4h-3.4zM403.6 1296.8h4.4v2.6h-4.4zM408 1296.8h4.3v14.7h-4.3zM412.3 1296.8h7.8v0.9h-7.8zM420.1 1478.5h4.3v10.4h-4.3zM424.4 1470.7h3.5v7.8h-3.5zM427.9 1462.1h3.4v3.4h-3.4zM431.3 1475h4.3v1.8h-4.3zM435.6 1384.2h4.4v6.1h-4.4zM440 1418h4.3v6h-4.3zM444.3 1470.7h4.3v2.6h-4.3zM448.6 1471.6h3.5v2.6h-3.5zM452.1 1435.2h3.4v1.8h-3.4zM455.5 1459.5h4.4v2.6h-4.4zM459.9 1467.3h4.3v3.4h-4.3zM464.2 1298.6h4.3v0.8h-4.3zM468.5 1302h4.3v9.5h-4.3zM472.8 1298.6h4.4v0.8h-4.4zM477.2 1298.6h4.3v16.4h-4.3zM481.5 1300.3h2.6v32h-2.6zM484.1 1296.8h4.3v0.9h-4.3zM488.4 1296.8h4.3v2.6h-4.3zM492.7 1296.8h4.4v0.9h-4.4zM497.1 1296.8h6.9v0.9h-6.9zM504 1327.1h4.3v6.1h-4.3zM508.3 1297.7h4.3v0.9h-4.3zM512.6 1298.6h3.5v5.2h-3.5zM516.1 1298.6h4.3v6.9h-4.3zM520.4 1298.6h4.3v0.8h-4.3zM524.7 1298.6h3.5v0.8h-3.5zM528.2 1314.1h4.3v1.8h-4.3zM532.5 1296.8h3.5v22.5h-3.5zM536 1297.7h4.3v11.3h-4.3zM540.3 1429.2h2.9v2.6h-2.9zM543.2 1477.6h17.3v0.9h-17.3zM560.5 1298.6h4v0.8h-4zM564.5 1296.8h7v1.8h-7zM571.5 1296.8h4.3v8.7h-4.3zM575.8 1296.8h7.8v1.8h-7.8zM583.6 1379h4.3v0.9h-4.3zM587.9 1298.6h4.3v0.8h-4.3zM592.2 1298.6h3.5v0.8h-3.5zM595.7 1419.7h4.3v1.7h-4.3zM600 1302h4.5v7h-4.5zM604.5 1299.4h4.3v0.9h-4.3zM608.8 1419.7h3.5v0.8h-3.5zM612.3 1302h4.2v0.9h-4.2zM616.5 1300.3h4.5v0.9h-4.5zM624.2 1298.6h4.5v0.8h-4.5zM628.7 1300.3h3.5v0.9h-3.5zM632.2 1298.6h4.5v12.9h-4.5zM636.7 1479.4h4.1v0.8h-4.1zM640.8 1302.9h3.5v11.2h-3.5zM644.3 1479.4h3.5v0.8h-3.5zM647.8 1444.8h5.2v9.5h-5.2zM653 1476.8h3.4v1.7h-3.4zM656.4 1469h3.5v2.6h-3.5zM659.9 1443.9h4.3v9.5h-4.3zM664.2 1475h3.5v1.8h-3.5zM667.7 1478.5h4.3v1.7h-4.3zM672 1466.4h4.3v3.4h-4.3zM676.3 1481.1h3.5v0.9h-3.5zM679.8 1472.4h4.3v1.8h-4.3zM684.1 1480.2h6.9v1.8h-6.9zM691 1474.2h5.2v12.9h-5.2zM700.8 1305.5h4.9v0.9h-4.9zM705.7 1299.4h3.5v0.9h-3.5zM709.2 1300.3h4.3v1.7h-4.3zM713.5 1300.3h3v4.3h-3zM716.5 1300.3h4.8v15.6h-4.8zM721.3 1302h4.3v17.3h-4.3zM725.6 1302.9h3.5v4.3h-3.5zM729.1 1300.3h4.3v3.5h-4.3zM733.4 1300.3h3.5v12.1h-3.5zM736.9 1456h4.3v1.7h-4.3zM741.2 1300.3h3.5v14.7h-3.5zM744.7 1409.3h4.3v1.7h-4.3zM749 1298.6h3.9v0.8h-3.9zM756.8 1473.3h4.3v0.9h-4.3zM761.1 1300.3h4.3v17.3h-4.3zM765.4 1299.4h3.5v0.9h-3.5zM768.9 1299.4h4.3v0.9h-4.3zM773.2 1300.3h3.5v1.7h-3.5zM776.7 1299.4h4.3v0.9h-4.3zM781 1300.3h3.4v1.7h-3.4zM784.4 1299.4h4.4v88.3h-4.4zM788.8 1299.4h3.4v0.9h-3.4zM792.2 1300.3h4.4v96h-4.4zM796.6 1300.3h4.3v1.7h-4.3zM800.9 1300.3h4.3v11.2h-4.3zM805.2 1299.4h7.9v0.9h-7.9zM813.1 1471.6h4.2v0.8h-4.2zM817.3 1428.3h4.3v29.4h-4.3zM821.6 1477.6h4.4v0.9h-4.4zM826 1426.6h3.4v1.7h-3.4zM829.4 1299.4h6.9v0.9h-6.9zM836.3 1300.3h4.4v23.4h-4.4zM840.7 1300.3h4.3v0.9h-4.3zM845 1468.1h3.7v0.9h-3.7zM848.7 1454.3h4.3v12.1h-4.3zM853 1475.9h4.3v0.9h-4.3zM857.3 1474.2h3.5v0.8h-3.5zM860.8 1433.5h3.4v93.5h-3.4zM864.2 1412.8h4.3v0.8h-4.3zM868.5 1474.2h4.4v0.8h-4.4zM872.9 1296.8h3.4v3.5h-3.4zM876.3 1296.8h5.2v2.6h-5.2zM881.5 1296.8h3.5v1.8h-3.5zM885 1302h4.3v6.1h-4.3zM889.3 1296.8h3.8v1.8h-3.8zM893.1 1299.4h4v7.8h-4zM897.1 1297.7h4.3v1.7h-4.3zM901.4 1480.2h3.5v1.8h-3.5zM904.9 1297.7h4.3v1.7h-4.3zM909.2 1324.5h7.8v0.9h-7.8zM917 1297.7h7.8v0.9h-7.8zM924.8 1298.6h4.3v0.8h-4.3zM929.1 1297.7h4.3v4.3h-4.3zM933.4 1297.7h3.5v0.9h-3.5zM936.9 1297.7h4.3v0.9h-4.3zM941.2 1477.6h4.3v0.9h-4.3zM945.5 1423.1h3.5v4.4h-3.5zM949 1297.7h3.5v0.9h-3.5zM952.5 1296.8h4.3v79.6h-4.3zM956.8 1298.6h4.3v5.2h-4.3zM961.1 1298.6h3.5v3.4h-3.5zM964.6 1300.3h4.3v3.5h-4.3zM968.9 1302h4.5v2.6h-4.5zM973.4 1296.8h4.1v27.7h-4.1zM977.5 1329.7h4.4v0.9h-4.4zM981.9 1296.8h11.2v1.8h-11.2zM993.1 1296.8h4.3v8.7h-4.3zM997.4 1315h4.4v0.9h-4.4zM1001.8 1349.6h4.3v0.9h-4.3zM1006.1 1296.8h3.4v3.5h-3.4zM1009.5 1365.2h4.4v0.8h-4.4zM1013.9 1475.9h3.6v0.9h-3.6zM1017.5 1475.9h4.2v0.9h-4.2zM1021.7 1478.5h4.3v1.7h-4.3zM1026 1474.2h3.7v0.8h-3.7zM1033.5 1296.8h7.2v1.8h-7.2zM1040.7 1298.6h4.3v54.5h-4.3zM1045 1476.8h12.9v0.8h-12.9zM1057.9 1360.9h4.4v0.8h-4.4zM1062.3 1456h3.5v7.8h-3.5zM1065.8 1478.5h5.2v0.9h-5.2zM1071 1455.1h3.4v0.9h-3.4zM1074.4 1379h5.2v0.9h-5.2zM1079.6 1478.5h6.2v0.9h-6.2zM1085.8 1296.8h3.8v80.5h-3.8zM1089.6 1373h4.1v0.8h-4.1zM1093.7 1310.7h4.3v2.6h-4.3zM1098 1297.7h4.3v0.9h-4.3zM1102.3 1398.9h3.5v0.9h-3.5zM1105.8 1330.6h3.9v2.6h-3.9zM1109.7 1311.5h3.8v7.8h-3.8zM1113.5 1296.8h4.8v0.9h-4.8zM1118.3 1466.4h3v0.9h-3zM1121.3 1466.4h4.4v0.9h-4.4zM1125.7 1475.9h4.3v0.9h-4.3zM1130 1455.1h4v3.5h-4zM1134 1349.6h7.2v57.1h-7.2zM1141.2 1296.8h4.4v0.9h-4.4zM1145.6 1303.8h3.4v86.5h-3.4zM1149 1296.8h4.3v74.4h-4.3zM1153.3 1299.4h4.4v0.9h-4.4zM1157.7 1305.5h4.3v21.6h-4.3zM1162 1349.6h8v57.1h-8zM1170 1376.4h4.1v1.8h-4.1zM1174.1 1349.6h3.5v57.1h-3.5zM1177.6 1376.4h3.4v0.9h-3.4zM1181 1298.6h4.3v1.7h-4.3zM1185.3 1298.6h4.4v63.1h-4.4zM1189.7 1298.6h4.3v1.7h-4.3zM1194 1349.6h3.9v57.1h-3.9zM1197.9 1319.3h4.7v7.8h-4.7zM1202.6 1360h3.5v0.9h-3.5zM1206.1 1447.4h4.3v0.8h-4.3zM1210.4 1302.9h3.5v0.9h-3.5zM1213.9 1302.9h4.3v0.9h-4.3zM1218.2 1318.5h3.5v3.4h-3.5zM1221.7 1353.9h4.3v0.9h-4.3zM1226 1326.3h3.5v0.8h-3.5zM1229.5 1301.2h4.3v0.8h-4.3zM1233.8 1415.4h4.3v4.3h-4.3zM1238.1 1330.6h4.1v0.8h-4.1zM1242.2 1438.7h3.7v19h-3.7zM1245.9 1317.6h5.2v0.9h-5.2zM1251.1 1468.1h6.9v0.9h-6.9zM1258 1302h4.3v0.9h-4.3zM1262.3 1343.6h3.5v0.8h-3.5zM1265.8 1302.9h4.3v2.6h-4.3zM1270.1 1303.8h3.5v69.2h-3.5zM1273.6 1302h7.8v0.9h-7.8zM1281.4 1347h4.3v9.5h-4.3zM1285.7 1299.4h3.4v0.9h-3.4zM1289.1 1298.6h5.1v0.8h-5.1zM1294.2 1472.4h3.6v0.9h-3.6zM1297.8 1489.7h4.6v0.9h-4.6zM1302.4 1461.2h3.2v1.7h-3.2zM1305.6 1447.4h4.7v12.1h-4.7zM1310.3 1296h3.9v0.8h-3.9zM1314.2 1309h3.5v0.8h-3.5zM1317.7 1296h3.5v0.8h-3.5zM1321.2 1296h5.4v0.8h-5.4zM1326.6 1471.5h3.4v0.9h-3.4zM1330 1413.9h3.8v0.9h-3.8zM1333.8 1336.4h3.6v1.8h-3.6zM1337.4 1297.4h4.2v90h-4.2zM1341.6 1349.6h7.8v57.1h-7.8zM1349.4 1379h1.8v0.6h-1.8zM1351.2 1297.4h7.2v0.6h-7.2z"/>
<path fill="#dc6718" d="M111.9 1384.2h3.5v0.8h-3.5zM115.4 1397.2h4.3v3.4h-4.3zM119.7 1389.4h6.8v0.8h-6.8zM126.5 1397.2h4.5v0.8h-4.5zM131 1392h4.3v0.8h-4.3zM135.3 1405h4.3v0.8h-4.3zM139.6 1309.8h3.5v2.6h-3.5zM143.1 1389.4h4.3v0.8h-4.3zM147.4 1304.6h4.3v0.9h-4.3zM151.7 1340.1h3.5v0.9h-3.5zM155.2 1304.6h4.3v0.9h-4.3zM159.5 1302h3.5v0.9h-3.5zM163 1298.6h5.2v0.8h-5.2zM168.2 1372.1h3.3v0.9h-3.3zM171.5 1388.5h3.5v3.5h-3.5zM175 1404.1h4.4v1.7h-4.4zM179.4 1304.6h4.3v0.9h-4.3zM183.7 1373h4.3v4.3h-4.3zM188 1305.5h3.5v0.9h-3.5zM191.5 1390.2h4.3v0.9h-4.3zM195.8 1385.9h4.4v9.6h-4.4zM200.2 1366.9h3.4v0.9h-3.4zM203.6 1393.7h5.2v3.5h-5.2zM208.8 1388.5h3.5v0.9h-3.5zM212.3 1303.8h4.3v0.8h-4.3zM216.6 1307.2h3.4v1.8h-3.4zM220 1313.3h4.4v3.4h-4.4zM224.4 1420.5h3.4v4.4h-3.4zM227.8 1357.4h4.4v10.4h-4.4zM232.2 1396.3h4.3v8.7h-4.3zM236.5 1419.7h3.5v6.9h-3.5zM240 1345.3h3.4v18.2h-3.4zM243.4 1404.1h4.3v0.9h-4.3zM247.7 1300.6h5.2v0.4h-5.2zM252.9 1299.4h6.9v0.9h-6.9zM259.8 1307.2h4.4v0.9h-4.4zM264.2 1315.9h4.3v3.4h-4.3zM268.5 1388.5h4.3v0.9h-4.3zM272.8 1311.5h4.3v0.9h-4.3zM277.1 1390.2h3.5v0.9h-3.5zM280.6 1309.8h4.3v0.9h-4.3zM295.3 1349.6h4.3v1.7h-4.3zM307.4 1319.3h4.3v2.6h-4.3zM311.7 1422.3h4.4v11.2h-4.4zM316.1 1311.5h3.4v0.9h-3.4zM328.2 1387.7h3.4v0.8h-3.4zM331.6 1386.8h4.4v2.6h-4.4zM336 1317.6h3.4v5.2h-3.4zM339.4 1421.4h3.5v1.7h-3.5zM342.9 1386.8h4.3v32.9h-4.3zM347.2 1328.8h4.3v1.8h-4.3zM351.5 1310.7h3.5v4.3h-3.5zM355 1309.8h1.1v5.2h-1.1zM356.1 1353.1h4.3v0.9h-4.3zM360.4 1376.4h4.3v3.5h-4.3zM364.7 1390.2h3.5v0.9h-3.5zM368.2 1301.2h4.3v0.8h-4.3zM372.5 1304.6h3.5v3.5h-3.5zM376 1302.9h4.3v0.9h-4.3zM380.3 1377.3h3.4v8.6h-3.4zM383.7 1304.6h4.4v0.9h-4.4zM388.1 1313.3h4.3v1.7h-4.3zM392.4 1377.3h3.4v2.6h-3.4zM395.8 1302.9h4.4v0.9h-4.4zM400.2 1323.7h3.4v16.4h-3.4zM408 1323.7h4.3v1.7h-4.3zM412.3 1298.6h7.8v0.8h-7.8zM420.1 1568.5h4.3v1.7h-4.3zM424.4 1549.4h3.5v1.8h-3.5zM427.9 1565h3.4v6.9h-3.4zM431.3 1571.9h4.3v1.8h-4.3zM435.6 1498.4h4.4v6.1h-4.4zM440 1480.2h4.3v3.5h-4.3zM444.3 1573.7h4.3v1.7h-4.3zM448.6 1483.7h3.5v4.3h-3.5zM452.1 1478.5h3.4v8.6h-3.4zM455.5 1549.4h4.4v22.5h-4.4zM459.9 1477.6h4.3v17.3h-4.3zM464.2 1560.7h4.3v14.7h-4.3zM468.5 1540.8h4.3v20.7h-4.3zM472.8 1570.2h4.4v3.5h-4.4zM477.2 1556.4h4.3v1.7h-4.3zM481.5 1530.4h2.6v13.8h-2.6zM484.1 1571.1h4.3v3.4h-4.3zM488.4 1517.4h4.3v1.8h-4.3zM492.7 1562.4h4.4v4.3h-4.4zM497.1 1571.1h6.9v2.6h-6.9zM504 1498.4h4.3v3.5h-4.3zM508.3 1488.9h4.3v1.7h-4.3zM512.6 1573.7h3.5v1.7h-3.5zM516.1 1477.6h4.3v16.5h-4.3zM520.4 1566.7h4.3v4.4h-4.3zM524.7 1568.5h3.5v5.2h-3.5zM528.2 1570.2h4.3v3.5h-4.3zM532.5 1563.3h3.5v3.4h-3.5zM536 1498.4h4.3v10.4h-4.3zM540.3 1552.9h2.9v8.6h-2.9zM543.2 1573.7h17.3v1.7h-17.3zM564.5 1570.2h7v3.5h-7zM571.5 1549.4h4.3v4.4h-4.3zM575.8 1570.2h7.8v3.5h-7.8zM583.6 1550.3h4.3v2.6h-4.3zM587.9 1551.2h4.3v1.7h-4.3zM592.2 1565h3.5v2.6h-3.5zM595.7 1566.7h4.3v3.5h-4.3zM600 1558.1h4.5v6.9h-4.5zM604.5 1571.9h4.3v1.8h-4.3zM608.8 1571.9h3.5v1.8h-3.5zM612.3 1307.2h4.2v5.2h-4.2zM616.5 1303.8h4.5v1.7h-4.5zM624.2 1517.4h4.5v52.8h-4.5zM628.7 1571.9h3.5v2.6h-3.5zM632.2 1550.3h4.5v9.5h-4.5zM636.7 1571.9h4.1v2.6h-4.1zM640.8 1560.7h3.5v7.8h-3.5zM644.3 1571.9h3.5v2.6h-3.5zM647.8 1525.2h5.2v5.2h-5.2zM659.9 1528.7h4.3v3.4h-4.3zM672 1542.5h4.3v1.7h-4.3zM684.1 1571.9h6.9v1.8h-6.9zM691 1571.9h5.2v1.8h-5.2zM700.8 1571.9h4.9v2.6h-4.9zM705.7 1530.4h3.5v43.3h-3.5zM709.2 1415.4h4.3v80.4h-4.3zM713.5 1525.2h3v48.5h-3zM716.5 1570.2h4.8v3.5h-4.8zM721.3 1328.8h4.3v3.5h-4.3zM725.6 1371.2h3.5v3.5h-3.5zM729.1 1545.1h4.3v4.3h-4.3zM733.4 1545.1h3.5v21.6h-3.5zM736.9 1518.3h4.3v3.5h-4.3zM741.2 1502.7h3.5v6.9h-3.5zM749 1571.9h3.9v2.6h-3.9zM756.8 1475h4.3v3.5h-4.3zM761.1 1318.5h4.3v2.6h-4.3zM765.4 1571.9h3.5v2.6h-3.5zM768.9 1564.1h4.3v6.1h-4.3zM773.2 1303.8h3.5v1.7h-3.5zM776.7 1563.3h4.3v8.6h-4.3zM781 1309.8h3.4v1.7h-3.4zM792.2 1537.3h4.4v3.5h-4.4zM796.6 1564.1h4.3v4.4h-4.3zM800.9 1335.8h4.3v30.2h-4.3zM805.2 1571.1h7.9v2.6h-7.9zM813.1 1571.9h4.2v2.6h-4.2zM817.3 1552.9h4.3v17.3h-4.3zM821.6 1571.9h4.4v2.6h-4.4zM826 1571.9h3.4v2.6h-3.4zM829.4 1571.1h6.9v2.6h-6.9zM836.3 1537.3h4.4v19.1h-4.4zM840.7 1549.4h4.3v3.5h-4.3zM845 1549.4h3.7v17.3h-3.7zM848.7 1540.8h4.3v12.1h-4.3zM853 1563.3h4.3v3.4h-4.3zM857.3 1566.7h3.5v4.4h-3.5zM860.8 1541.7h3.4v8.6h-3.4zM864.2 1435.2h4.3v3.5h-4.3zM868.5 1565h4.4v6.9h-4.4zM872.9 1566.7h3.4v5.2h-3.4zM881.5 1558.1h3.5v13.8h-3.5zM885 1444.8h4.3v6.9h-4.3zM889.3 1570.2h3.8v4.3h-3.8zM893.1 1549.4h4v2.6h-4zM901.4 1570.2h3.5v3.5h-3.5zM904.9 1564.1h4.3v9.6h-4.3zM909.2 1563.3h7.8v10.4h-7.8zM917 1570.2h7.8v3.5h-7.8zM929.1 1566.7h4.3v2.6h-4.3zM933.4 1571.9h3.5v1.8h-3.5zM936.9 1570.2h4.3v3.5h-4.3zM941.2 1571.9h4.3v2.6h-4.3zM945.5 1559h3.5v2.5h-3.5zM949 1570.2h3.5v3.5h-3.5zM956.8 1304.6h4.3v4.4h-4.3zM961.1 1378.2h3.5v6h-3.5zM964.6 1305.5h4.3v3.5h-4.3zM968.9 1358.3h4.5v11.2h-4.5zM973.4 1570.2h4.1v3.5h-4.1zM977.5 1570.2h4.4v3.5h-4.4zM981.9 1570.2h11.2v3.5h-11.2zM993.1 1534.7h4.3v33.8h-4.3zM997.4 1570.2h4.4v3.5h-4.4zM1001.8 1568.5h4.3v3.5h-4.3zM1006.1 1565h3.4v7h-3.4zM1009.5 1568.5h4.4v6h-4.4zM1013.9 1566.7h3.6v5.3h-3.6zM1021.7 1554.6h4.3v1.8h-4.3zM1033.5 1571.9h7.2v2.6h-7.2zM1040.7 1455.1h4.3v22.5h-4.3zM1045 1571.9h12.9v2.6h-12.9zM1057.9 1571.9h4.4v2.6h-4.4zM1065.8 1571.1h5.2v3.4h-5.2zM1074.4 1570.2h5.2v2.6h-5.2zM1079.6 1571.9h6.2v2.6h-6.2zM1089.6 1571.9h4.1v2.6h-4.1zM1093.7 1571.1h4.3v2.6h-4.3zM1098 1571.1h4.3v2.6h-4.3zM1102.3 1570.2h3.5v3.5h-3.5zM1105.8 1570.2h3.9v3.5h-3.9zM1109.7 1566.7h3.8v5.3h-3.8zM1113.5 1563.3h4.8v10.4h-4.8zM1121.3 1558.1h4.4v17.3h-4.4zM1125.7 1568.5h4.3v3.5h-4.3zM1134 1462.9h7.2v56.3h-7.2zM1145.6 1405h3.4v6h-3.4zM1149 1377.3h4.3v1.7h-4.3zM1153.3 1301.2h4.4v0.8h-4.4zM1157.7 1329.7h4.3v2.6h-4.3zM1162 1462.9h8v56.3h-8zM1174.1 1462.9h3.5v56.3h-3.5zM1177.6 1568.5h3.4v5.2h-3.4zM1181 1301.2h4.3v1.7h-4.3zM1185.3 1363.4h4.4v0.9h-4.4zM1194 1462.9h3.9v56.3h-3.9zM1197.9 1561.5h4.7v10.4h-4.7zM1202.6 1570.2h3.5v3.5h-3.5zM1206.1 1568.5h4.3v5.2h-4.3zM1210.4 1569.3h3.5v4.4h-3.5zM1213.9 1557.2h4.3v16.5h-4.3zM1221.7 1570.2h4.3v3.5h-4.3zM1226 1571.1h3.5v2.6h-3.5zM1229.5 1571.9h4.3v2.6h-4.3zM1233.8 1561.5h4.3v5.2h-4.3zM1238.1 1566.7h4.1v5.2h-4.1zM1245.9 1571.1h5.2v3.4h-5.2zM1251.1 1561.5h6.9v10.4h-6.9zM1258 1558.1h4.3v13.8h-4.3zM1262.3 1567.6h3.5v4.3h-3.5zM1265.8 1317.6h4.3v2.6h-4.3zM1270.1 1430.1h3.5v44.1h-3.5zM1273.6 1571.1h7.8v3.4h-7.8zM1281.4 1532.1h4.3v38.1h-4.3zM1285.7 1569.3h3.4v4.4h-3.4zM1289.1 1566.7h5.1v7h-5.1zM1294.2 1568.5h3.6v5.2h-3.6zM1302.4 1568.5h3.2v5.2h-3.2zM1305.6 1558.1h4.7v15.6h-4.7zM1310.3 1566.7h3.9v7h-3.9zM1314.2 1566.7h3.5v5.2h-3.5zM1317.7 1559h3.5v15.5h-3.5zM1321.2 1549.4h5.4v24.3h-5.4zM1326.6 1569.3h3.4v5.2h-3.4zM1330 1564h3.8v10.5h-3.8zM1337.4 1398.2h4.2v1.8h-4.2zM1341.6 1463.1h7.8v57h-7.8zM1351.2 1572h7.2v2.5h-7.2zM1378.4 1295h5.6v273.7h-5.6z"/>
<path fill="#5893dc" d="M111.9 1385h3.5v191h-3.5zM115.4 1400.6h4.3v175.4h-4.3zM119.7 1390.2h6.8v185.8h-6.8zM126.5 1398h4.5v178h-4.5zM131 1392.8h4.3v183.2h-4.3zM135.3 1405.8h4.3v170.2h-4.3zM139.6 1312.4h3.5v263.6h-3.5zM143.1 1390.2h4.3v185.8h-4.3zM147.4 1305.5h4.3v270.5h-4.3zM151.7 1341h3.5v235h-3.5zM155.2 1305.5h4.3v270.5h-4.3zM159.5 1302.9h3.5v273.1h-3.5zM163 1299.4h5.2v276.6h-5.2zM168.2 1373h3.3v203h-3.3zM171.5 1392h3.5v184h-3.5zM175 1405.8h4.4v170.2h-4.4zM179.4 1305.5h4.3v270.5h-4.3zM183.7 1377.3h4.3v198.7h-4.3zM188 1306.4h3.5v269.6h-3.5zM191.5 1391.1h4.3v184.9h-4.3zM195.8 1395.5h4.4v180.5h-4.4zM200.2 1367.8h3.4v208.2h-3.4zM203.6 1397.2h5.2v178.8h-5.2zM208.8 1389.4h3.5v186.6h-3.5zM212.3 1304.6h4.3v271.4h-4.3zM216.6 1309h3.4v267h-3.4zM220 1316.7h4.4v259.3h-4.4zM224.4 1424.9h3.4v151.1h-3.4zM227.8 1367.8h4.4v208.2h-4.4zM232.2 1405h4.3v171h-4.3zM236.5 1426.6h3.5v149.4h-3.5zM240 1363.5h3.4v212.5h-3.4zM243.4 1405h4.3v171h-4.3zM247.7 1301h5.2v275h-5.2zM252.9 1300.3h6.9v275.7h-6.9zM259.8 1308.1h4.4v267.9h-4.4zM264.2 1319.3h4.3v256.7h-4.3zM268.5 1389.4h4.3v186.6h-4.3zM272.8 1312.4h4.3v263.6h-4.3zM277.1 1391.1h3.5v184.9h-3.5zM280.6 1310.7h4.3v265.3h-4.3zM284.9 1302.9h3.5v273.1h-3.5zM288.4 1300.3h6.9v275.7h-6.9zM295.3 1351.3h4.3v224.7h-4.3zM299.6 1301.2h7.8v274.8h-7.8zM307.4 1321.9h4.3v254.1h-4.3zM311.7 1433.5h4.4v142.5h-4.4zM316.1 1312.4h3.4v263.6h-3.4zM319.5 1299.4h4.3v276.6h-4.3zM323.8 1301.2h4.4v274.8h-4.4zM328.2 1388.5h3.4v187.5h-3.4zM331.6 1389.4h4.4v186.6h-4.4zM336 1322.8h3.4v253.2h-3.4zM339.4 1423.1h3.5v152.9h-3.5zM342.9 1419.7h4.3v156.3h-4.3zM347.2 1330.6h4.3v245.4h-4.3zM351.5 1315h3.5v261h-3.5zM355 1315h1.1v261h-1.1zM356.1 1354h4.3v222h-4.3zM360.4 1379.9h4.3v196.1h-4.3zM364.7 1391.1h3.5v184.9h-3.5zM368.2 1302h4.3v274h-4.3zM372.5 1308.1h3.5v267.9h-3.5zM376 1303.8h4.3v272.2h-4.3zM380.3 1385.9h3.4v190.1h-3.4zM383.7 1305.5h4.4v270.5h-4.4zM388.1 1315h4.3v261h-4.3zM392.4 1379.9h3.4v196.1h-3.4zM395.8 1303.8h4.4v272.2h-4.4zM400.2 1340.1h3.4v235.9h-3.4zM403.6 1300.3h4.4v275.7h-4.4zM408 1325.4h4.3v250.6h-4.3zM412.3 1299.4h7.8v276.6h-7.8zM420.1 1570.2h4.3v5.8h-4.3zM424.4 1551.2h3.5v24.8h-3.5zM427.9 1571.9h3.4v4.1h-3.4zM431.3 1573.7h4.3v2.3h-4.3zM435.6 1504.5h4.4v71.5h-4.4zM440 1483.7h4.3v92.3h-4.3zM444.3 1575.4h4.3v0.6h-4.3zM448.6 1488h3.5v88h-3.5zM452.1 1487.1h3.4v88.9h-3.4zM455.5 1571.9h4.4v4.1h-4.4zM459.9 1494.9h4.3v81.1h-4.3zM464.2 1575.4h4.3v0.6h-4.3zM468.5 1561.5h4.3v14.5h-4.3zM472.8 1573.7h4.4v2.3h-4.4zM477.2 1558.1h4.3v17.9h-4.3zM481.5 1544.2h2.6v31.8h-2.6zM484.1 1574.5h4.3v1.5h-4.3zM488.4 1519.2h4.3v56.8h-4.3zM492.7 1566.7h4.4v9.3h-4.4zM497.1 1573.7h6.9v2.3h-6.9zM504 1501.9h4.3v74.1h-4.3zM508.3 1490.6h4.3v85.4h-4.3zM512.6 1575.4h3.5v0.6h-3.5zM516.1 1494.1h4.3v81.9h-4.3zM520.4 1571.1h4.3v4.9h-4.3zM524.7 1573.7h3.5v2.3h-3.5zM528.2 1573.7h4.3v2.3h-4.3zM532.5 1566.7h3.5v9.3h-3.5zM536 1508.8h4.3v67.2h-4.3zM540.3 1561.5h2.9v14.5h-2.9zM543.2 1575.4h17.3v0.6h-17.3zM560.5 1301.2h4v274.8h-4zM564.5 1573.7h7v2.3h-7zM571.5 1553.8h4.3v22.2h-4.3zM575.8 1573.7h7.8v2.3h-7.8zM583.6 1552.9h4.3v23.1h-4.3zM587.9 1552.9h4.3v23.1h-4.3zM592.2 1567.6h3.5v8.4h-3.5zM595.7 1570.2h4.3v5.8h-4.3zM600 1565h4.5v11h-4.5zM604.5 1573.7h4.3v2.3h-4.3zM608.8 1573.7h3.5v2.3h-3.5zM612.3 1312.4h4.2v263.6h-4.2zM616.5 1305.5h4.5v270.5h-4.5zM621 1573.7h3.2v2.3h-3.2zM624.2 1570.2h4.5v5.8h-4.5zM628.7 1574.5h3.5v1.5h-3.5zM632.2 1559.8h4.5v16.2h-4.5zM636.7 1574.5h4.1v1.5h-4.1zM640.8 1568.5h3.5v7.5h-3.5zM644.3 1574.5h3.5v1.5h-3.5zM647.8 1530.4h5.2v45.6h-5.2zM653 1552h3.4v24h-3.4zM656.4 1548.6h3.5v27.4h-3.5zM659.9 1532.1h4.3v43.9h-4.3zM664.2 1561.5h3.5v14.5h-3.5zM667.7 1568.5h4.3v7.5h-4.3zM672 1544.2h4.3v31.8h-4.3zM676.3 1573.7h3.5v2.3h-3.5zM679.8 1561.5h4.3v14.5h-4.3zM684.1 1573.7h6.9v2.3h-6.9zM691 1573.7h5.2v2.3h-5.2zM696.2 1573.7h4.6v2.3h-4.6zM700.8 1574.5h4.9v1.5h-4.9zM705.7 1573.7h3.5v2.3h-3.5zM709.2 1495.8h4.3v80.2h-4.3zM713.5 1573.7h3v2.3h-3zM716.5 1573.7h4.8v2.3h-4.8zM721.3 1332.3h4.3v243.7h-4.3zM725.6 1374.7h3.5v201.3h-3.5zM729.1 1549.4h4.3v26.6h-4.3zM733.4 1566.7h3.5v9.3h-3.5zM736.9 1521.8h4.3v54.2h-4.3zM741.2 1509.6h3.5v66.4h-3.5zM744.7 1482h4.3v94h-4.3zM749 1574.5h3.9v1.5h-3.9zM752.9 1573.7h3.9v2.3h-3.9zM756.8 1478.5h4.3v97.5h-4.3zM761.1 1321.1h4.3v254.9h-4.3zM765.4 1574.5h3.5v1.5h-3.5zM768.9 1570.2h4.3v5.8h-4.3zM773.2 1305.5h3.5v270.5h-3.5zM776.7 1571.9h4.3v4.1h-4.3zM781 1311.5h3.4v264.5h-3.4zM784.4 1391.1h4.4v184.9h-4.4zM788.8 1573.7h3.4v2.3h-3.4zM792.2 1540.8h4.4v35.2h-4.4zM796.6 1568.5h4.3v7.5h-4.3zM800.9 1366h4.3v210h-4.3zM805.2 1573.7h7.9v2.3h-7.9zM813.1 1574.5h4.2v1.5h-4.2zM817.3 1570.2h4.3v5.8h-4.3zM821.6 1574.5h4.4v1.5h-4.4zM826 1574.5h3.4v1.5h-3.4zM829.4 1573.7h6.9v2.3h-6.9zM836.3 1556.4h4.4v19.6h-4.4zM840.7 1552.9h4.3v23.1h-4.3zM845 1566.7h3.7v9.3h-3.7zM848.7 1552.9h4.3v23.1h-4.3zM853 1566.7h4.3v9.3h-4.3zM857.3 1571.1h3.5v4.9h-3.5zM860.8 1550.3h3.4v25.7h-3.4zM864.2 1438.7h4.3v137.3h-4.3zM868.5 1571.9h4.4v4.1h-4.4zM872.9 1571.9h3.4v4.1h-3.4zM876.3 1302h5.2v274h-5.2zM881.5 1571.9h3.5v4.1h-3.5zM885 1451.7h4.3v124.3h-4.3zM889.3 1574.5h3.8v1.5h-3.8zM893.1 1552h4v24h-4zM897.1 1301.2h4.3v274.8h-4.3zM901.4 1573.7h3.5v2.3h-3.5zM904.9 1573.7h4.3v2.3h-4.3zM909.2 1573.7h7.8v2.3h-7.8zM917 1573.7h7.8v2.3h-7.8zM924.8 1300.3h4.3v275.7h-4.3zM929.1 1569.3h4.3v6.7h-4.3zM933.4 1573.7h3.5v2.3h-3.5zM936.9 1573.7h4.3v2.3h-4.3zM941.2 1574.5h4.3v1.5h-4.3zM945.5 1561.5h3.5v14.5h-3.5zM949 1573.7h3.5v2.3h-3.5zM952.5 1385.9h4.3v190.1h-4.3zM956.8 1309h4.3v267h-4.3zM961.1 1384.2h3.5v191.8h-3.5zM964.6 1309h4.3v267h-4.3zM968.9 1369.5h4.5v206.5h-4.5zM973.4 1573.7h4.1v2.3h-4.1zM977.5 1573.7h4.4v2.3h-4.4zM981.9 1573.7h11.2v2.3h-11.2zM993.1 1568.5h4.3v7.5h-4.3zM997.4 1573.7h4.4v2.3h-4.4zM1001.8 1572h4.3v4h-4.3zM1006.1 1572h3.4v4h-3.4zM1009.5 1574.5h4.4v1.5h-4.4zM1013.9 1572h3.6v4h-3.6zM1017.5 1573.7h4.2v2.3h-4.2zM1021.7 1556.4h4.3v19.6h-4.3zM1026 1540.8h3.7v35.2h-3.7zM1029.7 1573.7h3.8v2.3h-3.8zM1033.5 1574.5h7.2v1.5h-7.2zM1040.7 1477.6h4.3v98.4h-4.3zM1045 1574.5h12.9v1.5h-12.9zM1057.9 1574.5h4.4v1.5h-4.4zM1062.3 1559.8h3.5v16.2h-3.5zM1065.8 1574.5h5.2v1.5h-5.2zM1071 1573.7h3.4v2.3h-3.4zM1074.4 1572.8h5.2v3.2h-5.2zM1079.6 1574.5h6.2v1.5h-6.2zM1085.8 1378.2h3.8v197.8h-3.8zM1089.6 1574.5h4.1v1.5h-4.1zM1093.7 1573.7h4.3v2.3h-4.3zM1098 1573.7h4.3v2.3h-4.3zM1102.3 1573.7h3.5v2.3h-3.5zM1105.8 1573.7h3.9v2.3h-3.9zM1109.7 1572h3.8v4h-3.8zM1113.5 1573.7h4.8v2.3h-4.8zM1118.3 1573.7h3v2.3h-3zM1121.3 1575.4h4.4v0.6h-4.4zM1125.7 1572h4.3v4h-4.3zM1130 1566.7h4v9.3h-4zM1134 1519.2h7.2v56.8h-7.2zM1141.2 1298.6h4.4v277.4h-4.4zM1145.6 1411h3.4v165h-3.4zM1149 1379h4.3v197h-4.3zM1153.3 1302h4.4v274h-4.4zM1157.7 1332.3h4.3v243.7h-4.3zM1162 1519.2h8v56.8h-8zM1170 1442.2h4.1v133.8h-4.1zM1174.1 1519.2h3.5v56.8h-3.5zM1177.6 1573.7h3.4v2.3h-3.4zM1181 1302.9h4.3v273.1h-4.3zM1185.3 1364.3h4.4v211.7h-4.4zM1189.7 1303.8h4.3v272.2h-4.3zM1194 1519.2h3.9v56.8h-3.9zM1197.9 1571.9h4.7v4.1h-4.7zM1202.6 1573.7h3.5v2.3h-3.5zM1206.1 1573.7h4.3v2.3h-4.3zM1210.4 1573.7h3.5v2.3h-3.5zM1213.9 1573.7h4.3v2.3h-4.3zM1218.2 1566.7h3.5v9.3h-3.5zM1221.7 1573.7h4.3v2.3h-4.3zM1226 1573.7h3.5v2.3h-3.5zM1229.5 1574.5h4.3v1.5h-4.3zM1233.8 1566.7h4.3v9.3h-4.3zM1238.1 1571.9h4.1v4.1h-4.1zM1242.2 1550.3h3.7v25.7h-3.7zM1245.9 1574.5h5.2v1.5h-5.2zM1251.1 1571.9h6.9v4.1h-6.9zM1258 1571.9h4.3v4.1h-4.3zM1262.3 1571.9h3.5v4.1h-3.5zM1265.8 1320.2h4.3v255.8h-4.3zM1270.1 1474.2h3.5v101.8h-3.5zM1273.6 1574.5h7.8v1.5h-7.8zM1281.4 1570.2h4.3v5.8h-4.3zM1285.7 1573.7h3.4v2.3h-3.4zM1289.1 1573.7h5.1v2.3h-5.1zM1294.2 1573.7h3.6v2.3h-3.6zM1297.8 1570.2h4.6v5.8h-4.6zM1302.4 1573.7h3.2v2.3h-3.2zM1305.6 1573.7h4.7v2.3h-4.7zM1310.3 1573.7h3.9v2.3h-3.9zM1314.2 1571.9h3.5v4.1h-3.5zM1317.7 1574.5h3.5v1.5h-3.5zM1321.2 1573.7h5.4v2.3h-5.4zM1326.6 1574.5h3.4v1.5h-3.4zM1330 1574.5h3.8v1.5h-3.8zM1333.8 1574.5h3.6v1.5h-3.6zM1337.4 1400h4.2v176h-4.2zM1341.6 1520.1h7.8v55.9h-7.8zM1349.4 1574.5h1.8v1.5h-1.8zM1351.2 1574.5h7.2v1.5h-7.2zM1358.4 1574.5h3.6v1.5h-3.6zM1362 1574.5h4.8v1.5h-4.8zM1366.8 1573.5h7.2v2.5h-7.2zM1374 1573.5h4.4v2.5h-4.4zM1378.4 1568.7h5.6v7.3h-5.6z"/>
<rect x="112" y="1291" width="1272" height="285" fill="url(#st)"/>
<path fill="#0a0a14" d="M126.2 1291h1.6v285h-1.6zM170.7 1291h1.6v285h-1.6zM174.2 1291h1.6v285h-1.6zM539.5 1291h1.6v285h-1.6zM542.4 1291h1.6v285h-1.6zM559.7 1291h1.6v285h-1.6zM615.7 1291h1.6v285h-1.6zM623.4 1291h1.6v285h-1.6zM635.9 1291h1.6v285h-1.6zM700 1291h1.6v285h-1.6zM715.7 1291h1.6v285h-1.6zM752.1 1291h1.6v285h-1.6zM756 1291h1.6v285h-1.6zM788 1291h1.6v285h-1.6zM812.3 1291h1.6v285h-1.6zM872.1 1291h1.6v285h-1.6zM892.3 1291h1.6v285h-1.6zM972.6 1291h1.6v285h-1.6zM1008.7 1291h1.6v285h-1.6zM1016.7 1291h1.6v285h-1.6zM1028.9 1291h1.6v285h-1.6zM1032.7 1291h1.6v285h-1.6zM1057.1 1291h1.6v285h-1.6zM1065 1291h1.6v285h-1.6zM1072.6 1291h1.6v285h-1.6zM1081 1291h1.6v285h-1.6zM1085 1291h1.6v285h-1.6zM1088.8 1291h1.6v285h-1.6zM1108.9 1291h1.6v285h-1.6zM1117.5 1291h1.6v285h-1.6zM1120.9 1291h1.6v285h-1.6zM1124.7 1291h1.6v285h-1.6zM1133.2 1291h1.6v285h-1.6zM1169.2 1291h1.6v285h-1.6zM1197.1 1291h1.6v285h-1.6zM1241.4 1291h1.6v285h-1.6zM1245.1 1291h1.6v285h-1.6zM1257.2 1291h1.6v285h-1.6zM1293.4 1291h1.6v285h-1.6zM1301.6 1291h1.6v285h-1.6zM1309.5 1291h1.6v285h-1.6zM1325.8 1291h1.6v285h-1.6zM1333.6 1291h1.6v285h-1.6zM1377.6 1291h1.6v285h-1.6z"/>
<path fill="#000" d="M106 1285H1384V1291H112V1576H1384V1581H106z"/>
<text x="0" y="1440" font-size="40" font-weight="bold">K = 5</text>
<rect x="112" y="1595.5" width="1272" height="287.5" fill="#300650"/>
<path fill="#e8b0b3" d="M111.1 1595.5h3.4v2h-3.4zM114.5 1595.5h4.3v3.7h-4.3zM118.8 1595.5h8.2v2h-8.2zM127 1595.5h4v2h-4zM131 1595.5h4.3v2h-4.3zM135.3 1595.5h3.4v2h-3.4zM138.7 1595.5h4.4v2h-4.4zM143.1 1595.5h4.3v2h-4.3zM147.4 1595.5h3.4v3.7h-3.4zM150.8 1595.5h4.4v2h-4.4zM155.2 1595.5h3.4v2h-3.4zM158.6 1595.5h3.5v2h-3.5zM162.1 1595.5h5.2v2h-5.2zM167.3 1595.5h4.2v2h-4.2zM171.5 1595.5h3.5v2h-3.5zM175 1595.5h4.4v5.5h-4.4zM179.4 1595.5h2.5v2h-2.5zM181.9 1595.5h4.4v6.3h-4.4zM186.3 1595.5h5.2v2h-5.2zM191.5 1595.5h3.5v2h-3.5zM195 1595.5h4.3v2h-4.3zM199.3 1595.5h3.5v4.6h-3.5zM202.8 1595.5h4.3v17.6h-4.3zM207.1 1595.5h3.4v2.9h-3.4zM210.5 1595.5h4.4v2h-4.4zM214.9 1595.5h4.3v2h-4.3zM219.2 1595.5h4.3v2h-4.3zM223.5 1595.5h3.5v19.3h-3.5zM227 1595.5h4.3v4.6h-4.3zM231.3 1595.5h3.5v14.1h-3.5zM234.8 1595.5h4.3v9.8h-4.3zM239.1 1595.5h3.4v32.3h-3.4zM242.5 1595.5h4.4v8.1h-4.4zM246.9 1595.5h5.2v2h-5.2zM252.1 1595.5h6.9v2h-6.9zM259 1595.5h4.3v2h-4.3zM263.3 1595.5h3.5v2h-3.5zM266.8 1595.5h4.3v2h-4.3zM271.1 1595.5h4.3v2h-4.3zM275.4 1595.5h3.5v2h-3.5zM278.9 1595.5h4.3v2h-4.3zM283.2 1595.5h5.2v2h-5.2zM288.4 1595.5h6.9v2h-6.9zM295.3 1595.5h4.3v2h-4.3zM299.6 1595.5h8.7v2h-8.7zM308.3 1595.5h3.4v2h-3.4zM311.7 1595.5h3.5v40.1h-3.5zM315.2 1595.5h4.3v2h-4.3zM319.5 1595.5h7.8v2h-7.8zM327.3 1595.5h3.5v2h-3.5zM330.8 1595.5h4.3v2h-4.3zM335.1 1595.5h4.3v8.1h-4.3zM339.4 1595.5h3.5v2.9h-3.5zM342.9 1595.5h4.3v5.5h-4.3zM347.2 1595.5h3.5v2.9h-3.5zM350.7 1595.5h4.3v2h-4.3zM355 1595.5h0.2v2.9h-0.2zM355.2 1595.5h4.3v2h-4.3zM359.5 1595.5h3.5v2.9h-3.5zM363 1595.5h4.3v2.9h-4.3zM367.3 1595.5h3.5v2.9h-3.5zM370.8 1595.5h4.3v2.9h-4.3zM375.1 1595.5h4.3v2.9h-4.3zM379.4 1595.5h3.5v2.9h-3.5zM382.9 1595.5h4.3v2.9h-4.3zM387.2 1595.5h4.3v2.9h-4.3zM391.5 1595.5h4.3v2.9h-4.3zM395.8 1595.5h4.4v2.9h-4.4zM400.2 1595.5h2.6v19.3h-2.6zM402.8 1595.5h5.2v2.9h-5.2zM408 1595.5h3.4v2.9h-3.4zM411.4 1595.5h8.7v2.9h-8.7zM420.1 1595.5h3.4v2.9h-3.4zM423.5 1595.5h3.5v2.9h-3.5zM427 1595.5h4.3v7.2h-4.3zM431.3 1595.5h4.3v4.6h-4.3zM435.6 1595.5h4.4v9.8h-4.4zM440 1595.5h4.3v2.9h-4.3zM444.3 1595.5h3.5v2.9h-3.5zM447.8 1595.5h4.3v6.3h-4.3zM452.1 1595.5h3.4v11.5h-3.4zM455.5 1595.5h4.4v110.1h-4.4zM459.9 1595.5h4.3v3.7h-4.3zM464.2 1595.5h4.3v2.9h-4.3zM468.5 1595.5h3.5v29.7h-3.5zM472 1595.5h4.3v4.6h-4.3zM476.3 1595.5h3.5v2.9h-3.5zM479.8 1595.5h4.3v11.5h-4.3zM484.1 1595.5h4.3v2.9h-4.3zM488.4 1595.5h3.5v2.9h-3.5zM491.9 1595.5h4.3v2.9h-4.3zM496.2 1595.5h7.8v2.9h-7.8zM504 1595.5h4.3v4.6h-4.3zM508.3 1595.5h4.3v2.9h-4.3zM512.6 1595.5h3.5v2.9h-3.5zM516.1 1595.5h4.3v4.6h-4.3zM520.4 1595.5h7.8v2.9h-7.8zM528.2 1595.5h4.3v13.3h-4.3zM532.5 1595.5h3.5v2.9h-3.5zM536 1595.5h4.3v6.3h-4.3zM540.3 1595.5h2.9v2.9h-2.9zM543.2 1595.5h17.3v5.5h-17.3zM560.5 1595.5h3.2v2.9h-3.2zM563.7 1595.5h7.8v2.9h-7.8zM571.5 1595.5h4.3v2.9h-4.3zM575.8 1595.5h7.8v2.9h-7.8zM583.6 1595.5h4.3v2.9h-4.3zM587.9 1595.5h3.4v2.9h-3.4zM591.3 1595.5h4.4v2.9h-4.4zM595.7 1595.5h4.3v21h-4.3zM600 1595.5h4.5v24.5h-4.5zM604.5 1595.5h3.5v9.8h-3.5zM608 1595.5h4.3v29.7h-4.3zM612.3 1595.5h4.2v11.5h-4.2zM616.5 1595.5h4.5v2.9h-4.5zM621 1595.5h3.2v2.9h-3.2zM624.2 1595.5h4.5v3.7h-4.5zM628.7 1595.5h2.6v4.6h-2.6zM631.3 1595.5h5.4v20.2h-5.4zM636.7 1595.5h4.1v2.9h-4.1zM640.8 1595.5h3.5v17.6h-3.5zM644.3 1595.5h3.5v2.9h-3.5zM647.8 1595.5h5.2v8.9h-5.2zM653 1595.5h3.4v2.9h-3.4zM656.4 1595.5h3.5v2.9h-3.5zM659.9 1595.5h4.3v2.9h-4.3zM664.2 1595.5h3.5v2.9h-3.5zM667.7 1595.5h3.4v2.9h-3.4zM671.1 1595.5h5.2v2.9h-5.2zM676.3 1595.5h3.5v2.9h-3.5zM679.8 1595.5h4.3v2.9h-4.3zM684.1 1595.5h6.9v2.9h-6.9zM691 1595.5h5.2v3.7h-5.2zM696.2 1595.5h4.6v2.9h-4.6zM700.8 1595.5h4.1v2.9h-4.1zM704.9 1595.5h4.3v13.3h-4.3zM709.2 1595.5h4.3v9.8h-4.3zM713.5 1595.5h3v7.2h-3zM716.5 1595.5h3.9v6.3h-3.9zM720.4 1595.5h3.5v6.3h-3.5zM723.9 1595.5h4.3v7.2h-4.3zM728.2 1595.5h4.3v7.2h-4.3zM732.5 1595.5h4.4v4.6h-4.4zM736.9 1595.5h4.3v6.3h-4.3zM741.2 1595.5h3.5v4.6h-3.5zM744.7 1595.5h4.3v4.6h-4.3zM749 1595.5h3.9v2.9h-3.9zM752.9 1595.5h3.9v2.9h-3.9zM756.8 1595.5h4.3v2.9h-4.3zM761.1 1595.5h4.3v4.6h-4.3zM765.4 1595.5h3.5v3.7h-3.5zM768.9 1595.5h4.3v4.6h-4.3zM773.2 1595.5h3.5v4.6h-3.5zM776.7 1595.5h4.3v4.6h-4.3zM781 1595.5h3.4v4.6h-3.4zM784.4 1595.5h4.4v3.7h-4.4zM788.8 1595.5h3.4v2.9h-3.4zM792.2 1595.5h4.4v3.7h-4.4zM796.6 1595.5h3.4v2.9h-3.4zM800 1595.5h4.3v20.2h-4.3zM804.3 1595.5h8.8v2.9h-8.8zM813.1 1595.5h3.4v13.3h-3.4zM816.5 1595.5h3.4v46.1h-3.4zM819.9 1595.5h4.4v18.5h-4.4zM824.3 1595.5h5.1v2.9h-5.1zM829.4 1595.5h6.9v2.9h-6.9zM836.3 1595.5h4.4v7.2h-4.4zM840.7 1595.5h4.3v2.9h-4.3zM845 1595.5h3.7v148.2h-3.7zM848.7 1595.5h4.3v177.6h-4.3zM853 1595.5h4.3v8.9h-4.3zM857.3 1595.5h3.5v13.3h-3.5zM860.8 1595.5h3.4v81.6h-3.4zM864.2 1595.5h4.3v9.8h-4.3zM868.5 1595.5h4.4v64.3h-4.4zM872.9 1595.5h3.4v2.9h-3.4zM876.3 1595.5h5.2v4.6h-5.2zM881.5 1595.5h3.5v4.6h-3.5zM885 1595.5h3.4v28h-3.4zM888.4 1595.5h4.7v2.9h-4.7zM893.1 1595.5h4v2.9h-4zM897.1 1595.5h3.5v2.9h-3.5zM900.6 1595.5h4.3v5.5h-4.3zM904.9 1595.5h4.3v2.9h-4.3zM909.2 1595.5h3.5v6.3h-3.5zM912.7 1595.5h4.3v6.3h-4.3zM917 1595.5h7.8v4.6h-7.8zM924.8 1595.5h4.3v4.6h-4.3zM929.1 1595.5h4.3v4.6h-4.3zM933.4 1595.5h6.9v4.6h-6.9zM940.3 1595.5h4.4v4.6h-4.4zM944.7 1595.5h4.3v4.6h-4.3zM949 1595.5h3.5v4.6h-3.5zM952.5 1595.5h4.3v4.6h-4.3zM956.8 1595.5h4.3v18.5h-4.3zM961.1 1595.5h3.5v8.1h-3.5zM964.6 1595.5h4.3v8.1h-4.3zM968.9 1595.5h4.5v4.6h-4.5zM973.4 1595.5h4.1v3.7h-4.1zM977.5 1595.5h4.4v3.7h-4.4zM981.9 1595.5h11.2v3.7h-11.2zM993.1 1595.5h4.3v7.2h-4.3zM997.4 1595.5h4.4v3.7h-4.4zM1001.8 1595.5h4.3v3.7h-4.3zM1006.1 1595.5h3.4v3.7h-3.4zM1009.5 1595.5h4.4v4.6h-4.4zM1013.9 1595.5h3.6v4.6h-3.6zM1017.5 1595.5h3.3v3.7h-3.3zM1020.8 1595.5h4.3v8.1h-4.3zM1025.1 1595.5h4.6v3.7h-4.6zM1029.7 1595.5h3.8v6.3h-3.8zM1033.5 1595.5h7.2v4.6h-7.2zM1040.7 1595.5h4.3v5.5h-4.3zM1045 1595.5h12.9v3.7h-12.9zM1057.9 1595.5h4.4v3.7h-4.4zM1062.3 1595.5h3.5v3.7h-3.5zM1065.8 1595.5h8.6v3.7h-8.6zM1074.4 1595.5h5.2v3.7h-5.2zM1079.6 1595.5h6.2v3.7h-6.2zM1085.8 1595.5h3.8v3.7h-3.8zM1089.6 1595.5h4.1v4.6h-4.1zM1093.7 1595.5h4.3v4.6h-4.3zM1098 1595.5h4.3v5.5h-4.3zM1102.3 1595.5h3.5v5.5h-3.5zM1105.8 1595.5h3.9v9.8h-3.9zM1109.7 1595.5h3.8v6.3h-3.8zM1113.5 1595.5h4.8v4.6h-4.8zM1118.3 1595.5h3v4.6h-3zM1121.3 1595.5h3.5v4.6h-3.5zM1124.8 1595.5h4.3v4.6h-4.3zM1129.1 1595.5h4.9v4.6h-4.9zM1134 1595.5h7.2v48.7h-7.2zM1141.2 1595.5h4.4v2.9h-4.4zM1145.6 1595.5h3.4v4.6h-3.4zM1149 1595.5h4.3v4.6h-4.3zM1153.3 1595.5h4.4v4.6h-4.4zM1157.7 1595.5h4.3v28.8h-4.3zM1162 1595.5h8v48.7h-8zM1170 1595.5h4.1v48.7h-4.1zM1174.1 1595.5h3.5v48.7h-3.5zM1177.6 1595.5h3.4v15h-3.4zM1181 1595.5h4.3v4.6h-4.3zM1185.3 1595.5h4.4v15h-4.4zM1189.7 1595.5h4.3v4.6h-4.3zM1194 1595.5h3.9v48.7h-3.9zM1197.9 1595.5h4.7v15h-4.7zM1202.6 1595.5h3.5v4.6h-3.5zM1206.1 1595.5h3.5v4.6h-3.5zM1209.6 1595.5h4.3v4.6h-4.3zM1213.9 1595.5h4.3v8.1h-4.3zM1218.2 1595.5h4.4v4.6h-4.4zM1222.6 1595.5h3.4v4.6h-3.4zM1226 1595.5h3.5v4.6h-3.5zM1229.5 1595.5h4.3v4.6h-4.3zM1233.8 1595.5h4.3v4.6h-4.3zM1238.1 1595.5h4.1v4.6h-4.1zM1242.2 1595.5h3.7v4.6h-3.7zM1245.9 1595.5h5.2v3.7h-5.2zM1251.1 1595.5h6.9v9.8h-6.9zM1258 1595.5h4.3v4.6h-4.3zM1262.3 1595.5h3.5v65.2h-3.5zM1265.8 1595.5h4.3v4.6h-4.3zM1270.1 1595.5h3.5v65.2h-3.5zM1273.6 1595.5h7.8v4.6h-7.8zM1281.4 1595.5h4.3v135.2h-4.3zM1285.7 1595.5h8.5v4.6h-8.5zM1294.2 1595.5h3.6v4.6h-3.6zM1297.8 1595.5h4.6v4.6h-4.6zM1302.4 1595.5h4.1v15h-4.1zM1306.5 1595.5h3.8v4.6h-3.8zM1310.3 1595.5h3.9v4.6h-3.9zM1314.2 1595.5h3.5v4.6h-3.5zM1317.7 1595.5h3.5v8.1h-3.5zM1321.2 1595.5h5.4v4.6h-5.4zM1326.6 1595.5h3.4v8.1h-3.4zM1330 1595.5h4.4v8.1h-4.4zM1334.4 1595.5h3.8v4.6h-3.8zM1338.2 1595.5h4.2v4.1h-4.2zM1342.4 1595.5h8v49.2h-8zM1350.4 1595.5h3v3.5h-3zM1353.4 1595.5h4.3v3.5h-4.3zM1357.7 1595.5h4.3v3.5h-4.3zM1362 1595.5h4.5v3.5h-4.5zM1366.5 1595.5h11.9v3.5h-11.9zM1378.4 1595.5h5.6v30.3h-5.6z"/>
<path fill="#821d4e" d="M111.1 1597.5h3.4v1.7h-3.4zM114.5 1599.2h4.3v2.6h-4.3zM118.8 1597.5h8.2v1.7h-8.2zM127 1597.5h4v1.7h-4zM131 1597.5h4.3v1.7h-4.3zM135.3 1597.5h3.4v1.7h-3.4zM138.7 1597.5h4.4v5.2h-4.4zM143.1 1597.5h4.3v1.7h-4.3zM147.4 1599.2h3.4v4.4h-3.4zM150.8 1597.5h4.4v2.6h-4.4zM155.2 1597.5h3.4v6.9h-3.4zM158.6 1597.5h3.5v5.2h-3.5zM162.1 1597.5h5.2v3.5h-5.2zM167.3 1597.5h4.2v2.6h-4.2zM171.5 1597.5h3.5v1.7h-3.5zM175 1601h4.4v1.7h-4.4zM179.4 1597.5h2.5v3.5h-2.5zM181.9 1601.8h4.4v1.8h-4.4zM186.3 1597.5h5.2v6.9h-5.2zM191.5 1597.5h3.5v2.6h-3.5zM195 1597.5h4.3v7.8h-4.3zM199.3 1600.1h3.5v3.5h-3.5zM202.8 1613.1h4.3v2.6h-4.3zM207.1 1598.4h3.4v1.7h-3.4zM210.5 1597.5h4.4v6.1h-4.4zM214.9 1597.5h4.3v6.1h-4.3zM219.2 1597.5h4.3v7.8h-4.3zM223.5 1614.8h3.5v13h-3.5zM227 1600.1h4.3v5.2h-4.3zM231.3 1609.6h3.5v2.6h-3.5zM234.8 1605.3h4.3v10.4h-4.3zM239.1 1627.8h3.4v10.4h-3.4zM242.5 1603.6h4.4v1.7h-4.4zM246.9 1597.5h5.2v4.3h-5.2zM252.1 1597.5h6.9v1.7h-6.9zM259 1597.5h4.3v6.9h-4.3zM263.3 1597.5h3.5v7.8h-3.5zM266.8 1597.5h4.3v2.6h-4.3zM271.1 1597.5h4.3v4.3h-4.3zM275.4 1597.5h3.5v2.6h-3.5zM278.9 1597.5h4.3v2.6h-4.3zM283.2 1597.5h5.2v2.6h-5.2zM288.4 1597.5h6.9v4.3h-6.9zM295.3 1597.5h4.3v25.1h-4.3zM299.6 1597.5h8.7v6.1h-8.7zM308.3 1597.5h3.4v4.3h-3.4zM311.7 1635.6h3.5v6.9h-3.5zM315.2 1597.5h4.3v1.7h-4.3zM319.5 1597.5h7.8v5.2h-7.8zM327.3 1597.5h3.5v1.7h-3.5zM330.8 1597.5h4.3v2.6h-4.3zM335.1 1603.6h4.3v18.1h-4.3zM339.4 1598.4h3.5v7.8h-3.5zM342.9 1601h4.3v5.2h-4.3zM347.2 1598.4h3.5v2.6h-3.5zM350.7 1597.5h4.3v16.5h-4.3zM355 1598.4h0.2v15.6h-0.2zM355.2 1597.5h4.3v2.6h-4.3zM359.5 1598.4h3.5v2.6h-3.5zM363 1598.4h4.3v2.6h-4.3zM367.3 1598.4h3.5v5.2h-3.5zM370.8 1598.4h4.3v4.3h-4.3zM375.1 1598.4h4.3v6.9h-4.3zM379.4 1598.4h3.5v6.9h-3.5zM382.9 1598.4h4.3v7.8h-4.3zM387.2 1598.4h4.3v22.5h-4.3zM391.5 1598.4h4.3v2.6h-4.3zM395.8 1598.4h4.4v8.6h-4.4zM400.2 1614.8h2.6v2.6h-2.6zM402.8 1598.4h5.2v1.7h-5.2zM408 1598.4h3.4v6.9h-3.4zM411.4 1598.4h8.7v1.7h-8.7zM420.1 1598.4h3.4v275.1h-3.4zM423.5 1598.4h3.5v256h-3.5zM427 1602.7h4.3v256.9h-4.3zM431.3 1600.1h4.3v273.4h-4.3zM435.6 1605.3h4.4v144.5h-4.4zM440 1598.4h4.3v190.3h-4.3zM444.3 1598.4h3.5v282h-3.5zM447.8 1601.8h4.3v236.2h-4.3zM452.1 1607h3.4v161.8h-3.4zM455.5 1705.6h4.4v160.9h-4.4zM459.9 1599.2h4.3v239.7h-4.3zM464.2 1598.4h4.3v3.4h-4.3zM468.5 1625.2h3.5v6.9h-3.5zM472 1600.1h4.3v5.2h-4.3zM476.3 1598.4h3.5v5.2h-3.5zM479.8 1607h4.3v5.2h-4.3zM484.1 1598.4h4.3v1.7h-4.3zM488.4 1598.4h3.5v2.6h-3.5zM491.9 1598.4h4.3v1.7h-4.3zM496.2 1598.4h7.8v1.7h-7.8zM504 1600.1h4.3v61.4h-4.3zM508.3 1598.4h4.3v3.4h-4.3zM512.6 1598.4h3.5v1.7h-3.5zM516.1 1600.1h4.3v5.2h-4.3zM520.4 1598.4h7.8v1.7h-7.8zM528.2 1608.8h4.3v19.9h-4.3zM532.5 1598.4h3.5v3.4h-3.5zM536 1601.8h4.3v1.8h-4.3zM540.3 1598.4h2.9v190.3h-2.9zM543.2 1601h17.3v275.9h-17.3zM560.5 1598.4h3.2v6.9h-3.2zM563.7 1598.4h7.8v5.2h-7.8zM571.5 1598.4h4.3v5.2h-4.3zM575.8 1598.4h7.8v5.2h-7.8zM583.6 1598.4h4.3v15.6h-4.3zM587.9 1598.4h3.4v5.2h-3.4zM591.3 1598.4h4.4v121.1h-4.4zM595.7 1616.5h4.3v160.1h-4.3zM600 1620h4.5v6.9h-4.5zM604.5 1605.3h3.5v0.9h-3.5zM608 1625.2h4.3v174.7h-4.3zM612.3 1607h4.2v3.5h-4.2zM616.5 1598.4h4.5v5.2h-4.5zM621 1598.4h3.2v256h-3.2zM624.2 1599.2h4.5v1.8h-4.5zM628.7 1600.1h2.6v3.5h-2.6zM631.3 1615.7h5.4v8.6h-5.4zM636.7 1598.4h4.1v3.4h-4.1zM640.8 1613.1h3.5v5.2h-3.5zM644.3 1598.4h3.5v282h-3.5zM647.8 1604.4h5.2v199.9h-5.2zM653 1598.4h3.4v261.2h-3.4zM656.4 1598.4h3.5v268.1h-3.5zM659.9 1598.4h4.3v236.1h-4.3zM664.2 1598.4h3.5v264.7h-3.5zM667.7 1598.4h3.4v275.1h-3.4zM671.1 1598.4h5.2v250.8h-5.2zM676.3 1598.4h3.5v280.3h-3.5zM679.8 1598.4h4.3v266.4h-4.3zM684.1 1598.4h6.9v282h-6.9zM691 1599.2h5.2v262.2h-5.2zM696.2 1598.4h4.6v282h-4.6zM700.8 1598.4h4.1v49.3h-4.1zM704.9 1608.8h4.3v1.7h-4.3zM709.2 1605.3h4.3v4.3h-4.3zM713.5 1602.7h3v2.6h-3zM716.5 1601.8h3.9v5.2h-3.9zM720.4 1601.8h3.5v26.9h-3.5zM723.9 1602.7h4.3v17.3h-4.3zM728.2 1602.7h4.3v21.6h-4.3zM732.5 1600.1h4.4v5.2h-4.4zM736.9 1601.8h4.3v230.1h-4.3zM741.2 1600.1h3.5v3.5h-3.5zM744.7 1600.1h4.3v166.1h-4.3zM749 1598.4h3.9v5.2h-3.9zM752.9 1598.4h3.9v282h-3.9zM756.8 1598.4h4.3v188.6h-4.3zM761.1 1600.1h4.3v22.5h-4.3zM765.4 1599.2h3.5v0.9h-3.5zM768.9 1600.1h4.3v8.7h-4.3zM773.2 1600.1h3.5v7.8h-3.5zM776.7 1600.1h4.3v5.2h-4.3zM781 1600.1h3.4v5.2h-3.4zM784.4 1599.2h4.4v2.6h-4.4zM788.8 1598.4h3.4v19.9h-3.4zM792.2 1599.2h4.4v2.6h-4.4zM796.6 1598.4h3.4v3.4h-3.4zM800 1615.7h4.3v1.7h-4.3zM804.3 1598.4h8.8v2.6h-8.8zM813.1 1608.8h3.4v252.6h-3.4zM816.5 1641.6h3.4v180h-3.4zM819.9 1614h4.4v262.9h-4.4zM824.3 1598.4h5.1v194.6h-5.1zM829.4 1598.4h6.9v5.2h-6.9zM836.3 1602.7h4.4v2.6h-4.4zM840.7 1598.4h4.3v5.2h-4.3zM845 1743.7h3.7v114.2h-3.7zM848.7 1773.1h4.3v57.1h-4.3zM853 1604.4h4.3v267.3h-4.3zM857.3 1608.8h3.5v254.3h-3.5zM860.8 1677.1h3.4v79.6h-3.4zM864.2 1605.3h4.3v157.4h-4.3zM868.5 1659.8h4.4v210.2h-4.4zM872.9 1598.4h3.4v3.4h-3.4zM876.3 1600.1h5.2v3.5h-5.2zM881.5 1600.1h3.5v3.5h-3.5zM885 1623.5h3.4v1.7h-3.4zM888.4 1598.4h4.7v2.6h-4.7zM893.1 1598.4h4v6h-4zM897.1 1598.4h3.5v5.2h-3.5zM900.6 1601h4.3v273.3h-4.3zM904.9 1598.4h4.3v1.7h-4.3zM909.2 1601.8h3.5v1.8h-3.5zM912.7 1601.8h4.3v41.6h-4.3zM917 1600.1h7.8v3.5h-7.8zM924.8 1600.1h4.3v2.6h-4.3zM929.1 1600.1h4.3v3.5h-4.3zM933.4 1600.1h6.9v1.7h-6.9zM940.3 1600.1h4.4v277.7h-4.4zM944.7 1600.1h4.3v214.5h-4.3zM949 1600.1h3.5v3.5h-3.5zM952.5 1600.1h4.3v1.7h-4.3zM956.8 1614h4.3v1.7h-4.3zM961.1 1603.6h3.5v6h-3.5zM964.6 1603.6h4.3v6h-4.3zM968.9 1600.1h4.5v3.5h-4.5zM973.4 1599.2h4.1v132.4h-4.1zM977.5 1599.2h4.4v121.2h-4.4zM981.9 1599.2h11.2v2.6h-11.2zM993.1 1602.7h4.3v2.6h-4.3zM997.4 1599.2h4.4v64.1h-4.4zM1001.8 1599.2h4.3v133.3h-4.3zM1006.1 1599.2h3.4v4.4h-3.4zM1009.5 1600.1h4.4v180.8h-4.4zM1013.9 1600.1h3.6v278.6h-3.6zM1017.5 1599.2h3.3v281.2h-3.3zM1020.8 1603.6h4.3v256.9h-4.3zM1025.1 1599.2h4.6v258.7h-4.6zM1029.7 1601.8h3.8v225h-3.8zM1033.5 1600.1h7.2v1.7h-7.2zM1040.7 1601h4.3v4.3h-4.3zM1045 1599.2h12.9v279.5h-12.9zM1057.9 1599.2h4.4v123.8h-4.4zM1062.3 1599.2h3.5v253.5h-3.5zM1065.8 1599.2h8.6v279.5h-8.6zM1074.4 1599.2h5.2v201.6h-5.2zM1079.6 1599.2h6.2v276h-6.2zM1085.8 1599.2h3.8v0.9h-3.8zM1089.6 1600.1h4.1v212.8h-4.1zM1093.7 1600.1h4.3v57.1h-4.3zM1098 1601h4.3v0.8h-4.3zM1102.3 1601h3.5v205h-3.5zM1105.8 1605.3h3.9v119.4h-3.9zM1109.7 1601.8h3.8v84.8h-3.8zM1113.5 1600.1h4.8v1.7h-4.8zM1118.3 1600.1h3v280.3h-3zM1121.3 1600.1h3.5v252.6h-3.5zM1124.8 1600.1h4.3v252.6h-4.3zM1129.1 1600.1h4.9v260.4h-4.9zM1134 1644.2h7.2v48.5h-7.2zM1141.2 1598.4h4.4v0.8h-4.4zM1145.6 1600.1h3.4v20.8h-3.4zM1149 1600.1h4.3v0.9h-4.3zM1153.3 1600.1h4.4v0.9h-4.4zM1157.7 1624.3h4.3v1.8h-4.3zM1162 1644.2h8v48.5h-8zM1170 1644.2h4.1v91.7h-4.1zM1174.1 1644.2h3.5v48.5h-3.5zM1177.6 1610.5h3.4v145.3h-3.4zM1181 1600.1h4.3v2.6h-4.3zM1185.3 1610.5h4.4v0.9h-4.4zM1189.7 1600.1h4.3v8.7h-4.3zM1194 1644.2h3.9v48.5h-3.9zM1197.9 1610.5h4.7v110.7h-4.7zM1202.6 1600.1h3.5v160.9h-3.5zM1206.1 1600.1h3.5v252.6h-3.5zM1209.6 1600.1h4.3v76.1h-4.3zM1213.9 1603.6h4.3v88.2h-4.3zM1218.2 1600.1h4.4v123.7h-4.4zM1222.6 1600.1h3.4v187.7h-3.4zM1226 1600.1h3.5v126.3h-3.5zM1229.5 1600.1h4.3v34.6h-4.3zM1233.8 1600.1h4.3v231.8h-4.3zM1238.1 1600.1h4.1v152.3h-4.1zM1242.2 1600.1h3.7v226.7h-3.7zM1245.9 1599.2h5.2v71.8h-5.2zM1251.1 1605.3h6.9v263h-6.9zM1258 1600.1h4.3v69.2h-4.3zM1262.3 1660.7h3.5v97.7h-3.5zM1265.8 1600.1h4.3v12.1h-4.3zM1270.1 1660.7h3.5v2.6h-3.5zM1273.6 1600.1h7.8v63.2h-7.8zM1281.4 1730.7h4.3v41.6h-4.3zM1285.7 1600.1h8.5v3.5h-8.5zM1294.2 1600.1h3.6v266.4h-3.6zM1297.8 1600.1h4.6v280.3h-4.6zM1302.4 1610.5h4.1v256h-4.1zM1306.5 1600.1h3.8v243.9h-3.8zM1310.3 1600.1h3.9v1.7h-3.9zM1314.2 1600.1h3.5v88.2h-3.5zM1317.7 1603.6h3.5v1.7h-3.5zM1321.2 1600.1h5.4v3.5h-5.4zM1326.6 1603.6h3.4v267.4h-3.4zM1330 1603.6h4.4v234.4h-4.4zM1334.4 1600.1h3.8v145.2h-3.8zM1338.2 1599.6h4.2v6.7h-4.2zM1342.4 1644.7h8v47.6h-8zM1350.4 1599h3v189h-3zM1353.4 1599h4.3v6h-4.3zM1357.7 1599h4.3v279.2h-4.3zM1362 1599h4.5v261h-4.5zM1366.5 1599h11.9v279.2h-11.9zM1378.4 1625.8h5.6v4.9h-5.6z"/>
<path fill="#3d6a20" d="M111.1 1599.2h3.4v89.1h-3.4zM114.5 1601.8h4.3v98.7h-4.3zM118.8 1599.2h8.2v95.2h-8.2zM127 1599.2h4v118.6h-4zM131 1599.2h4.3v98.7h-4.3zM135.3 1599.2h3.4v117.7h-3.4zM138.7 1602.7h4.4v2.6h-4.4zM143.1 1599.2h4.3v95.2h-4.3zM147.4 1603.6h3.4v2.6h-3.4zM150.8 1600.1h4.4v42.4h-4.4zM155.2 1604.4h3.4v0.9h-3.4zM158.6 1602.7h3.5v0.9h-3.5zM162.1 1601h5.2v0.8h-5.2zM167.3 1600.1h4.2v71.8h-4.2zM171.5 1599.2h3.5v87.4h-3.5zM175 1602.7h4.4v107.3h-4.4zM179.4 1601h2.5v11.2h-2.5zM181.9 1603.6h4.4v80.4h-4.4zM186.3 1604.4h5.2v10.4h-5.2zM191.5 1600.1h3.5v93.4h-3.5zM195 1605.3h4.3v70.9h-4.3zM199.3 1603.6h3.5v67.4h-3.5zM202.8 1615.7h4.3v119.4h-4.3zM207.1 1600.1h3.4v92.6h-3.4zM210.5 1603.6h4.4v2.6h-4.4zM214.9 1603.6h4.3v3.4h-4.3zM219.2 1605.3h4.3v1.7h-4.3zM223.5 1627.8h3.5v120.2h-3.5zM227 1605.3h4.3v0.9h-4.3zM231.3 1612.2h3.5v0.9h-3.5zM234.8 1615.7h4.3v0.8h-4.3zM239.1 1638.2h3.4v19h-3.4zM242.5 1605.3h4.4v111.6h-4.4zM246.9 1601.8h5.2v1.8h-5.2zM252.1 1599.2h6.9v4.4h-6.9zM259 1604.4h4.3v4.4h-4.3zM263.3 1605.3h3.5v2.6h-3.5zM266.8 1600.1h4.3v91.7h-4.3zM271.1 1601.8h4.3v10.4h-4.3zM275.4 1600.1h3.5v95.2h-3.5zM278.9 1600.1h4.3v13.9h-4.3zM283.2 1600.1h5.2v4.3h-5.2zM288.4 1601.8h6.9v1.8h-6.9zM295.3 1622.6h4.3v24.2h-4.3zM299.6 1603.6h8.7v0.8h-8.7zM308.3 1601.8h3.4v23.4h-3.4zM311.7 1642.5h3.5v60.5h-3.5zM315.2 1599.2h4.3v15.6h-4.3zM319.5 1602.7h7.8v1.7h-7.8zM327.3 1599.2h3.5v92.6h-3.5zM330.8 1600.1h4.3v86.5h-4.3zM335.1 1621.7h4.3v0.9h-4.3zM339.4 1606.2h3.5v0.8h-3.5zM342.9 1606.2h4.3v0.8h-4.3zM347.2 1601h3.5v32.8h-3.5zM350.7 1614h4.3v3.4h-4.3zM355 1614h0.2v4.3h-0.2zM355.2 1600.1h4.3v56.2h-4.3zM359.5 1601h3.5v80.4h-3.5zM363 1601h4.3v93.4h-4.3zM367.3 1603.6h3.5v0.8h-3.5zM370.8 1602.7h4.3v0.9h-4.3zM375.1 1605.3h4.3v1.7h-4.3zM379.4 1605.3h3.5v3.5h-3.5zM382.9 1606.2h4.3v0.8h-4.3zM387.2 1620.9h4.3v5.2h-4.3zM391.5 1601h4.3v77h-4.3zM395.8 1607h4.4v0.9h-4.4zM400.2 1617.4h2.6v11.3h-2.6zM402.8 1600.1h5.2v1.7h-5.2zM408 1605.3h3.4v18.2h-3.4zM411.4 1600.1h8.7v2.6h-8.7zM420.1 1873.5h3.4v4.3h-3.4zM423.5 1854.4h3.5v6.1h-3.5zM427 1859.6h4.3v0.9h-4.3zM431.3 1873.5h4.3v0.9h-4.3zM435.6 1749.8h4.4v4.3h-4.4zM440 1788.7h4.3v2.6h-4.3zM447.8 1838h4.3v2.6h-4.3zM452.1 1768.8h3.4v1.7h-3.4zM455.5 1866.5h4.4v2.6h-4.4zM459.9 1838.9h4.3v3.4h-4.3zM464.2 1601.8h4.3v0.9h-4.3zM468.5 1632.1h3.5v6.9h-3.5zM472 1605.3h4.3v0.9h-4.3zM476.3 1603.6h3.5v10.4h-3.5zM479.8 1612.2h4.3v32.9h-4.3zM484.1 1600.1h4.3v0.9h-4.3zM488.4 1601h3.5v2.6h-3.5zM491.9 1600.1h4.3v0.9h-4.3zM496.2 1600.1h7.8v0.9h-7.8zM504 1661.5h4.3v5.2h-4.3zM508.3 1601.8h4.3v5.2h-4.3zM512.6 1600.1h3.5v0.9h-3.5zM516.1 1605.3h4.3v12.1h-4.3zM520.4 1600.1h7.8v0.9h-7.8zM528.2 1628.7h4.3v0.8h-4.3zM532.5 1601.8h3.5v16.5h-3.5zM536 1603.6h4.3v0.8h-4.3zM540.3 1788.7h2.9v3.4h-2.9zM543.2 1876.9h17.3v0.9h-17.3zM560.5 1605.3h3.2v0.9h-3.2zM563.7 1603.6h7.8v0.8h-7.8zM571.5 1603.6h4.3v7.8h-4.3zM575.8 1603.6h7.8v0.8h-7.8zM583.6 1614h4.3v1.7h-4.3zM587.9 1603.6h3.4v0.8h-3.4zM591.3 1719.5h4.4v1.7h-4.4zM595.7 1776.6h4.3v1.7h-4.3zM600 1626.9h4.5v4.4h-4.5zM604.5 1606.2h3.5v0.8h-3.5zM608 1799.9h4.3v0.9h-4.3zM612.3 1610.5h4.2v3.5h-4.2zM616.5 1603.6h4.5v1.7h-4.5zM624.2 1601h4.5v0.8h-4.5zM628.7 1603.6h2.6v0.8h-2.6zM631.3 1624.3h5.4v7h-5.4zM636.7 1601.8h4.1v0.9h-4.1zM640.8 1618.3h3.5v9.5h-3.5zM647.8 1804.3h5.2v12.1h-5.2zM653 1859.6h3.4v3.5h-3.4zM659.9 1834.5h4.3v4.4h-4.3zM664.2 1863.1h3.5v4.3h-3.5zM671.1 1849.2h5.2v4.4h-5.2zM691 1861.4h5.2v15.5h-5.2zM700.8 1647.7h4.1v0.9h-4.1zM704.9 1610.5h4.3v5.2h-4.3zM709.2 1609.6h4.3v2.6h-4.3zM713.5 1605.3h3v0.9h-3zM716.5 1607h3.9v22.5h-3.9zM720.4 1628.7h3.5v1.7h-3.5zM723.9 1620h4.3v1.7h-4.3zM728.2 1624.3h4.3v0.9h-4.3zM732.5 1605.3h4.4v13h-4.4zM736.9 1831.9h4.3v5.2h-4.3zM741.2 1603.6h3.5v19h-3.5zM744.7 1766.2h4.3v1.8h-4.3zM749 1603.6h3.9v0.8h-3.9zM756.8 1787h4.3v1.7h-4.3zM761.1 1622.6h4.3v2.6h-4.3zM765.4 1600.1h3.5v0.9h-3.5zM768.9 1608.8h4.3v0.8h-4.3zM773.2 1607.9h3.5v0.9h-3.5zM776.7 1605.3h4.3v0.9h-4.3zM781 1605.3h3.4v8.7h-3.4zM784.4 1601.8h4.4v93.5h-4.4zM792.2 1601.8h4.4v105.6h-4.4zM796.6 1601.8h3.4v0.9h-3.4zM800 1617.4h4.3v9.5h-4.3zM804.3 1601h8.8v0.8h-8.8zM813.1 1861.4h3.4v1.7h-3.4zM816.5 1821.6h3.4v22.4h-3.4zM824.3 1793h5.1v2.6h-5.1zM829.4 1603.6h6.9v0.8h-6.9zM836.3 1605.3h4.4v24.2h-4.4zM840.7 1603.6h4.3v0.8h-4.3zM845 1857.9h3.7v1.7h-3.7zM848.7 1830.2h4.3v5.2h-4.3zM853 1871.7h4.3v0.9h-4.3zM857.3 1863.1h3.5v0.9h-3.5zM860.8 1756.7h3.4v87.3h-3.4zM864.2 1762.7h4.3v2.6h-4.3zM868.5 1870h4.4v1.7h-4.4zM872.9 1601.8h3.4v1.8h-3.4zM876.3 1603.6h5.2v1.7h-5.2zM881.5 1603.6h3.5v0.8h-3.5zM885 1625.2h3.4v6.1h-3.4zM888.4 1601h4.7v0.8h-4.7zM893.1 1604.4h4v11.3h-4zM897.1 1603.6h3.5v1.7h-3.5zM900.6 1874.3h4.3v0.9h-4.3zM904.9 1600.1h4.3v0.9h-4.3zM909.2 1603.6h3.5v0.8h-3.5zM912.7 1643.4h4.3v1.7h-4.3zM917 1603.6h7.8v0.8h-7.8zM924.8 1602.7h4.3v0.9h-4.3zM929.1 1603.6h4.3v0.8h-4.3zM933.4 1601.8h6.9v0.9h-6.9zM940.3 1877.8h4.4v0.9h-4.4zM944.7 1814.6h4.3v8.7h-4.3zM949 1603.6h3.5v0.8h-3.5zM952.5 1601.8h4.3v82.2h-4.3zM956.8 1615.7h4.3v0.8h-4.3zM961.1 1609.6h3.5v2.6h-3.5zM964.6 1609.6h4.3v0.9h-4.3zM968.9 1603.6h4.5v6.9h-4.5zM973.4 1731.6h4.1v5.2h-4.1zM977.5 1720.4h4.4v0.8h-4.4zM981.9 1601.8h11.2v0.9h-11.2zM993.1 1605.3h4.3v5.2h-4.3zM997.4 1663.3h4.4v0.8h-4.4zM1001.8 1732.5h4.3v0.8h-4.3zM1006.1 1603.6h3.4v2.6h-3.4zM1009.5 1780.9h4.4v0.9h-4.4zM1020.8 1860.5h4.3v1.7h-4.3zM1025.1 1857.9h4.6v1.7h-4.6zM1033.5 1601.8h7.2v1.8h-7.2zM1040.7 1605.3h4.3v56.2h-4.3zM1057.9 1723h4.4v0.8h-4.4zM1062.3 1852.7h3.5v3.5h-3.5zM1074.4 1800.8h5.2v0.9h-5.2zM1085.8 1600.1h3.8v89.1h-3.8zM1089.6 1812.9h4.1v0.9h-4.1zM1093.7 1657.2h4.3v2.6h-4.3zM1098 1601.8h4.3v0.9h-4.3zM1102.3 1806h3.5v0.9h-3.5zM1105.8 1724.7h3.9v0.8h-3.9zM1109.7 1686.6h3.8v5.2h-3.8zM1113.5 1601.8h4.8v0.9h-4.8zM1121.3 1852.7h3.5v1.7h-3.5zM1124.8 1852.7h4.3v5.2h-4.3zM1129.1 1860.5h4.9v0.9h-4.9zM1134 1692.7h7.2v48.4h-7.2zM1141.2 1599.2h4.4v0.9h-4.4zM1145.6 1620.9h3.4v86.5h-3.4zM1149 1601h4.3v77h-4.3zM1153.3 1601h4.4v3.4h-4.4zM1157.7 1626.1h4.3v5.2h-4.3zM1162 1692.7h8v48.4h-8zM1170 1735.9h4.1v1.8h-4.1zM1174.1 1692.7h3.5v48.4h-3.5zM1177.6 1755.8h3.4v0.9h-3.4zM1181 1602.7h4.3v1.7h-4.3zM1185.3 1611.4h4.4v64.8h-4.4zM1189.7 1608.8h4.3v1.7h-4.3zM1194 1692.7h3.9v48.4h-3.9zM1197.9 1721.2h4.7v5.2h-4.7zM1202.6 1761h3.5v0.9h-3.5zM1206.1 1852.7h3.5v0.9h-3.5zM1209.6 1676.2h4.3v0.9h-4.3zM1213.9 1691.8h4.3v0.9h-4.3zM1218.2 1723.8h4.4v0.9h-4.4zM1222.6 1787.8h3.4v0.9h-3.4zM1226 1726.4h3.5v0.9h-3.5zM1229.5 1634.7h4.3v0.9h-4.3zM1233.8 1831.9h4.3v1.8h-4.3zM1238.1 1752.4h4.1v0.8h-4.1zM1242.2 1826.8h3.7v20.7h-3.7zM1245.9 1671h5.2v0.9h-5.2zM1251.1 1868.3h6.9v0.8h-6.9zM1258 1669.3h4.3v0.9h-4.3zM1262.3 1758.4h3.5v0.9h-3.5zM1265.8 1612.2h4.3v4.3h-4.3zM1270.1 1663.3h3.5v62.2h-3.5zM1273.6 1663.3h7.8v0.8h-7.8zM1281.4 1772.3h4.3v6h-4.3zM1285.7 1603.6h8.5v1.7h-8.5zM1294.2 1866.5h3.6v1.8h-3.6zM1302.4 1866.5h4.1v1.8h-4.1zM1306.5 1844h3.8v15.6h-3.8zM1310.3 1601.8h3.9v0.9h-3.9zM1314.2 1688.3h3.5v1.8h-3.5zM1317.7 1605.3h3.5v0.9h-3.5zM1321.2 1603.6h5.4v0.8h-5.4zM1338.2 1606.3h4.2v89h-4.2zM1342.4 1692.3h8v48.7h-8z"/>
<path fill="#dc6718" d="M111.1 1689.2h3.4v0.9h-3.4zM114.5 1703h4.3v3.5h-4.3zM118.8 1695.3h8.2v0.8h-8.2zM127 1718.6h4v0.9h-4zM131 1698.7h4.3v0.9h-4.3zM135.3 1717.8h3.4v1.7h-3.4zM138.7 1615.7h4.4v2.6h-4.4zM143.1 1695.3h4.3v0.8h-4.3zM147.4 1607h3.4v0.9h-3.4zM150.8 1643.4h4.4v0.8h-4.4zM155.2 1610.5h3.4v1.7h-3.4zM158.6 1607h3.5v0.9h-3.5zM162.1 1602.7h5.2v0.9h-5.2zM167.3 1673.6h4.2v0.9h-4.2zM171.5 1697h3.5v3.5h-3.5zM175 1710.8h4.4v0.9h-4.4zM179.4 1614h2.5v0.8h-2.5zM181.9 1687.5h4.4v2.6h-4.4zM186.3 1615.7h5.2v0.8h-5.2zM191.5 1695.3h3.5v0.8h-3.5zM195 1691.8h4.3v6.9h-4.3zM199.3 1671.9h3.5v0.9h-3.5zM202.8 1738.5h4.3v4.3h-4.3zM207.1 1693.5h3.4v0.9h-3.4zM210.5 1607h4.4v0.9h-4.4zM214.9 1613.1h4.3v1.7h-4.3zM219.2 1622.6h4.3v3.5h-4.3zM223.5 1766.2h3.5v3.5h-3.5zM227 1665.9h4.3v12.1h-4.3zM231.3 1716.9h3.5v5.2h-3.5zM234.8 1729h4.3v4.3h-4.3zM239.1 1665.9h3.4v12.1h-3.4zM242.5 1717.8h4.4v0.8h-4.4zM246.9 1604.4h5.2v0.9h-5.2zM252.1 1604.4h6.9v0.9h-6.9zM259 1610.5h4.3v0.9h-4.3zM263.3 1626.9h3.5v2.6h-3.5zM266.8 1693.5h4.3v0.9h-4.3zM271.1 1613.1h4.3v0.9h-4.3zM275.4 1696.1h3.5v0.9h-3.5zM278.9 1614.8h4.3v0.9h-4.3zM295.3 1663.3h4.3v1.7h-4.3zM308.3 1627.8h3.4v2.6h-3.4zM311.7 1744.6h3.5v3.4h-3.5zM315.2 1615.7h4.3v0.8h-4.3zM327.3 1692.7h3.5v0.8h-3.5zM330.8 1692.7h4.3v3.4h-4.3zM335.1 1625.2h4.3v3.5h-4.3zM339.4 1732.5h3.5v1.7h-3.5zM342.9 1720.4h4.3v12.9h-4.3zM347.2 1634.7h3.5v1.7h-3.5zM350.7 1620h4.3v7.8h-4.3zM355 1622.6h0.2v5.2h-0.2zM355.2 1659.8h4.3v1.7h-4.3zM359.5 1682.3h3.5v2.6h-3.5zM363 1695.3h4.3v0.8h-4.3zM367.3 1606.2h3.5v0.8h-3.5zM370.8 1611.4h4.3v3.4h-4.3zM375.1 1609.6h4.3v0.9h-4.3zM379.4 1699.6h3.5v4.3h-3.5zM382.9 1607.9h4.3v0.9h-4.3zM387.2 1626.9h4.3v0.9h-4.3zM391.5 1678.8h4.3v0.9h-4.3zM395.8 1608.8h4.4v0.8h-4.4zM400.2 1633h2.6v13h-2.6zM402.8 1602.7h5.2v0.9h-5.2zM408 1629.5h3.4v0.9h-3.4zM411.4 1604.4h8.7v0.9h-8.7zM420.1 1878.7h3.4v1.7h-3.4zM423.5 1861.4h3.5v1.7h-3.5zM427 1872.6h4.3v6.9h-4.3zM431.3 1879.5h4.3v0.9h-4.3zM435.6 1796.5h4.4v6.9h-4.4zM440 1795.6h4.3v4.3h-4.3zM447.8 1847.5h4.3v5.2h-4.3zM452.1 1790.4h3.4v7.8h-3.4zM455.5 1871.7h4.4v8.7h-4.4zM459.9 1844h4.3v13h-4.3zM464.2 1875.2h4.3v5.2h-4.3zM468.5 1861.4h3.5v10.3h-3.5zM476.3 1864.8h3.5v1.7h-3.5zM479.8 1842.3h4.3v8.7h-4.3zM484.1 1878.7h4.3v1.7h-4.3zM491.9 1874.4h4.3v2.6h-4.3zM496.2 1878.7h7.8v1.7h-7.8zM504 1799.1h4.3v3.4h-4.3zM516.1 1800.8h4.3v10.4h-4.3zM520.4 1877.8h7.8v2.6h-7.8zM528.2 1877h4.3v3.4h-4.3zM532.5 1871.7h3.5v2.7h-3.5zM536 1809.5h4.3v5.1h-4.3zM540.3 1851h2.9v13.8h-2.9zM543.2 1879.5h17.3v1.8h-17.3zM563.7 1877h7.8v3.4h-7.8zM571.5 1857.9h4.3v4.3h-4.3zM575.8 1878.7h7.8v1.7h-7.8zM583.6 1857.9h4.3v3.5h-4.3zM587.9 1840.6h3.4v5.2h-3.4zM591.3 1873.5h4.4v5.2h-4.4zM595.7 1873.5h4.3v5.2h-4.3zM600 1867.4h4.5v5.2h-4.5zM604.5 1878.7h3.5v1.7h-3.5zM608 1877h4.3v3.4h-4.3zM612.3 1614.8h4.2v4.3h-4.2zM616.5 1608.8h4.5v1.7h-4.5zM624.2 1831.1h4.5v47.6h-4.5zM628.7 1878.7h2.6v1.7h-2.6zM631.3 1866.5h5.4v7h-5.4zM636.7 1878.7h4.1v1.7h-4.1zM640.8 1875.2h3.5v3.5h-3.5zM647.8 1822.4h5.2v7.8h-5.2zM653 1866.5h3.4v2.6h-3.4zM656.4 1866.5h3.5v2.6h-3.5zM659.9 1842.3h4.3v4.3h-4.3zM664.2 1870h3.5v1.7h-3.5zM667.7 1873.5h3.4v3.5h-3.4zM671.1 1859.6h5.2v3.5h-5.2zM700.8 1877.8h4.1v2.6h-4.1zM704.9 1854.4h4.3v26h-4.3zM709.2 1762.7h4.3v53.7h-4.3zM713.5 1831.9h3v48.5h-3zM720.4 1634.7h3.5v3.5h-3.5zM723.9 1681.4h4.3v2.6h-4.3zM728.2 1831.9h4.3v2.6h-4.3zM732.5 1864.8h4.4v8.7h-4.4zM736.9 1847.5h4.3v6.1h-4.3zM761.1 1626.9h4.3v1.8h-4.3zM768.9 1871.7h4.3v8.7h-4.3zM773.2 1609.6h3.5v1.8h-3.5zM776.7 1871.7h4.3v8.7h-4.3zM792.2 1861.4h4.4v6.9h-4.4zM796.6 1871.7h3.4v2.7h-3.4zM800 1657.2h4.3v21.6h-4.3zM804.3 1878.7h8.8v1.7h-8.8zM813.1 1868.3h3.4v6.9h-3.4zM816.5 1871.7h3.4v4.4h-3.4zM824.3 1877h5.1v3.4h-5.1zM829.4 1878.7h6.9v1.7h-6.9zM836.3 1857.9h4.4v8.6h-4.4zM840.7 1851h4.3v1.7h-4.3zM845 1866.5h3.7v5.2h-3.7zM848.7 1864.8h4.3v6.9h-4.3zM853 1874.3h4.3v4.4h-4.3zM857.3 1870h3.5v5.2h-3.5zM860.8 1851h3.4v6.9h-3.4zM864.2 1767h4.3v1.8h-4.3zM868.5 1875.2h4.4v5.2h-4.4zM872.9 1875.2h3.4v5.2h-3.4zM876.3 1607h5.2v2.6h-5.2zM881.5 1871.7h3.5v8.7h-3.5zM885 1758.4h3.4v4.3h-3.4zM893.1 1851h4v1.7h-4zM900.6 1877h4.3v3.4h-4.3zM904.9 1875.2h4.3v5.2h-4.3zM909.2 1871.7h3.5v8.7h-3.5zM912.7 1871.7h4.3v8.7h-4.3zM917 1878.7h7.8v1.7h-7.8zM929.1 1877h4.3v2.5h-4.3zM933.4 1878.7h6.9v1.7h-6.9zM944.7 1866.5h4.3v1.8h-4.3zM949 1878.7h3.5v1.7h-3.5zM956.8 1617.4h4.3v1.7h-4.3zM961.1 1685.8h3.5v4.3h-3.5zM964.6 1612.2h4.3v2.6h-4.3zM968.9 1665.9h4.5v11.2h-4.5zM973.4 1878.7h4.1v1.7h-4.1zM977.5 1878.7h4.4v1.7h-4.4zM981.9 1878.7h11.2v1.7h-11.2zM993.1 1870h4.3v8.7h-4.3zM997.4 1877h4.4v3.4h-4.4zM1001.8 1874.3h4.3v4.4h-4.3zM1006.1 1871.7h3.4v8.7h-3.4zM1009.5 1875.2h4.4v5.2h-4.4zM1033.5 1878.7h7.2v1.7h-7.2zM1040.7 1756.7h4.3v34.6h-4.3zM1057.9 1871.7h4.4v8.7h-4.4zM1074.4 1878.7h5.2v1.7h-5.2zM1079.6 1878.7h6.2v1.7h-6.2zM1089.6 1878.7h4.1v1.7h-4.1zM1093.7 1877h4.3v3.4h-4.3zM1098 1873.5h4.3v6.9h-4.3zM1102.3 1873.5h3.5v6.9h-3.5zM1105.8 1871.7h3.9v8.7h-3.9zM1109.7 1870h3.8v10.4h-3.8zM1121.3 1857.9h3.5v22.5h-3.5zM1124.8 1871.7h4.3v7h-4.3zM1134 1787.8h7.2v47.6h-7.2zM1145.6 1716h3.4v1.8h-3.4zM1149 1688.3h4.3v1.8h-4.3zM1157.7 1633.8h4.3v0.9h-4.3zM1162 1787.8h8v47.6h-8zM1170 1745.4h4.1v1.7h-4.1zM1174.1 1787.8h3.5v47.6h-3.5zM1177.6 1877h3.4v3.4h-3.4zM1185.3 1678h4.4v1.7h-4.4zM1194 1787.8h3.9v47.6h-3.9zM1197.9 1861.4h4.7v19h-4.7zM1202.6 1877h3.5v3.4h-3.5zM1206.1 1871.7h3.5v8.7h-3.5zM1209.6 1871.7h4.3v8.7h-4.3zM1213.9 1859.6h4.3v20.8h-4.3zM1222.6 1878.7h3.4v1.7h-3.4zM1226 1871.7h3.5v8.7h-3.5zM1229.5 1877h4.3v3.4h-4.3zM1233.8 1867.4h4.3v4.3h-4.3zM1238.1 1873.5h4.1v6.9h-4.1zM1242.2 1854.4h3.7v3.5h-3.7zM1245.9 1877h5.2v3.4h-5.2zM1251.1 1871.7h6.9v8.7h-6.9zM1258 1869.1h4.3v11.3h-4.3zM1262.3 1871.7h3.5v8.7h-3.5zM1265.8 1627.8h4.3v1.7h-4.3zM1270.1 1767.9h3.5v17.3h-3.5zM1273.6 1877h7.8v3.4h-7.8zM1281.4 1854.4h4.3v19.1h-4.3zM1285.7 1877h8.5v3.4h-8.5zM1294.2 1873.5h3.6v6.9h-3.6zM1302.4 1873.5h4.1v6.9h-4.1zM1306.5 1868.3h3.8v12.1h-3.8zM1310.3 1878.7h3.9v1.7h-3.9zM1314.2 1877h3.5v3.4h-3.5zM1317.7 1876.1h3.5v4.3h-3.5zM1321.2 1871.7h5.4v8.7h-5.4zM1326.6 1878.2h3.4v3.7h-3.4zM1330 1878.2h4.4v3.7h-4.4zM1338.2 1702.6h4.2v2.4h-4.2zM1342.4 1788h8v47.6h-8zM1353.4 1878.2h4.3v3.7h-4.3zM1378.4 1630.7h5.6v241.3h-5.6z"/>
<path fill="#5893dc" d="M111.1 1690.1h3.4v192.9h-3.4zM114.5 1706.5h4.3v176.5h-4.3zM118.8 1696.1h8.2v186.9h-8.2zM127 1719.5h4v163.5h-4zM131 1699.6h4.3v183.4h-4.3zM135.3 1719.5h3.4v163.5h-3.4zM138.7 1618.3h4.4v264.7h-4.4zM143.1 1696.1h4.3v186.9h-4.3zM147.4 1607.9h3.4v275.1h-3.4zM150.8 1644.2h4.4v238.8h-4.4zM155.2 1612.2h3.4v270.8h-3.4zM158.6 1607.9h3.5v275.1h-3.5zM162.1 1603.6h5.2v279.4h-5.2zM167.3 1674.5h4.2v208.5h-4.2zM171.5 1700.5h3.5v182.5h-3.5zM175 1711.7h4.4v171.3h-4.4zM179.4 1614.8h2.5v268.2h-2.5zM181.9 1690.1h4.4v192.9h-4.4zM186.3 1616.5h5.2v266.5h-5.2zM191.5 1696.1h3.5v186.9h-3.5zM195 1698.7h4.3v184.3h-4.3zM199.3 1672.8h3.5v210.2h-3.5zM202.8 1742.8h4.3v140.2h-4.3zM207.1 1694.4h3.4v188.6h-3.4zM210.5 1607.9h4.4v275.1h-4.4zM214.9 1614.8h4.3v268.2h-4.3zM219.2 1626.1h4.3v256.9h-4.3zM223.5 1769.7h3.5v113.3h-3.5zM227 1678h4.3v205h-4.3zM231.3 1722.1h3.5v160.9h-3.5zM234.8 1733.3h4.3v149.7h-4.3zM239.1 1678h3.4v205h-3.4zM242.5 1718.6h4.4v164.4h-4.4zM246.9 1605.3h5.2v277.7h-5.2zM252.1 1605.3h6.9v277.7h-6.9zM259 1611.4h4.3v271.6h-4.3zM263.3 1629.5h3.5v253.5h-3.5zM266.8 1694.4h4.3v188.6h-4.3zM271.1 1614h4.3v269h-4.3zM275.4 1697h3.5v186h-3.5zM278.9 1615.7h4.3v267.3h-4.3zM283.2 1605.3h5.2v277.7h-5.2zM288.4 1604.4h6.9v278.6h-6.9zM295.3 1665h4.3v218h-4.3zM299.6 1605.3h8.7v277.7h-8.7zM308.3 1630.4h3.4v252.6h-3.4zM311.7 1748h3.5v135h-3.5zM315.2 1616.5h4.3v266.5h-4.3zM319.5 1605.3h7.8v277.7h-7.8zM327.3 1693.5h3.5v189.5h-3.5zM330.8 1696.1h4.3v186.9h-4.3zM335.1 1628.7h4.3v254.3h-4.3zM339.4 1734.2h3.5v148.8h-3.5zM342.9 1733.3h4.3v149.7h-4.3zM347.2 1636.4h3.5v246.6h-3.5zM350.7 1627.8h4.3v255.2h-4.3zM355 1627.8h0.2v255.2h-0.2zM355.2 1661.5h4.3v221.5h-4.3zM359.5 1684.9h3.5v198.1h-3.5zM363 1696.1h4.3v186.9h-4.3zM367.3 1607h3.5v276h-3.5zM370.8 1614.8h4.3v268.2h-4.3zM375.1 1610.5h4.3v272.5h-4.3zM379.4 1703.9h3.5v179.1h-3.5zM382.9 1608.8h4.3v274.2h-4.3zM387.2 1627.8h4.3v255.2h-4.3zM391.5 1679.7h4.3v203.3h-4.3zM395.8 1609.6h4.4v273.4h-4.4zM400.2 1646h2.6v237h-2.6zM402.8 1603.6h5.2v279.4h-5.2zM408 1630.4h3.4v252.6h-3.4zM411.4 1605.3h8.7v277.7h-8.7zM420.1 1880.4h3.4v2.6h-3.4zM423.5 1863.1h3.5v19.9h-3.5zM427 1879.5h4.3v3.5h-4.3zM431.3 1880.4h4.3v2.6h-4.3zM435.6 1803.4h4.4v79.6h-4.4zM440 1799.9h4.3v83.1h-4.3zM444.3 1880.4h3.5v2.6h-3.5zM447.8 1852.7h4.3v30.3h-4.3zM452.1 1798.2h3.4v84.8h-3.4zM455.5 1880.4h4.4v2.6h-4.4zM459.9 1857h4.3v26h-4.3zM464.2 1880.4h4.3v2.6h-4.3zM468.5 1871.7h3.5v11.3h-3.5zM472 1880.4h4.3v2.6h-4.3zM476.3 1866.5h3.5v16.5h-3.5zM479.8 1851h4.3v32h-4.3zM484.1 1880.4h4.3v2.6h-4.3zM488.4 1833.7h3.5v49.3h-3.5zM491.9 1877h4.3v6h-4.3zM496.2 1880.4h7.8v2.6h-7.8zM504 1802.5h4.3v80.5h-4.3zM508.3 1818.1h4.3v64.9h-4.3zM512.6 1880.4h3.5v2.6h-3.5zM516.1 1811.2h4.3v71.8h-4.3zM520.4 1880.4h7.8v2.6h-7.8zM528.2 1880.4h4.3v2.6h-4.3zM532.5 1874.4h3.5v8.6h-3.5zM536 1814.6h4.3v68.4h-4.3zM540.3 1864.8h2.9v18.2h-2.9zM543.2 1881.3h17.3v1.7h-17.3zM560.5 1607h3.2v276h-3.2zM563.7 1880.4h7.8v2.6h-7.8zM571.5 1862.2h4.3v20.8h-4.3zM575.8 1880.4h7.8v2.6h-7.8zM583.6 1861.4h4.3v21.6h-4.3zM587.9 1845.8h3.4v37.2h-3.4zM591.3 1878.7h4.4v4.3h-4.4zM595.7 1878.7h4.3v4.3h-4.3zM600 1872.6h4.5v10.4h-4.5zM604.5 1880.4h3.5v2.6h-3.5zM608 1880.4h4.3v2.6h-4.3zM612.3 1619.1h4.2v263.9h-4.2zM616.5 1610.5h4.5v272.5h-4.5zM621 1880.4h3.2v2.6h-3.2zM624.2 1878.7h4.5v4.3h-4.5zM628.7 1880.4h2.6v2.6h-2.6zM631.3 1873.5h5.4v9.5h-5.4zM636.7 1880.4h4.1v2.6h-4.1zM640.8 1878.7h3.5v4.3h-3.5zM644.3 1880.4h3.5v2.6h-3.5zM647.8 1830.2h5.2v52.8h-5.2zM653 1869.1h3.4v13.9h-3.4zM656.4 1869.1h3.5v13.9h-3.5zM659.9 1846.6h4.3v36.4h-4.3zM664.2 1871.7h3.5v11.3h-3.5zM667.7 1877h3.4v6h-3.4zM671.1 1863.1h5.2v19.9h-5.2zM676.3 1878.7h3.5v4.3h-3.5zM679.8 1871.7h4.3v11.3h-4.3zM684.1 1880.4h6.9v2.6h-6.9zM691 1878.7h5.2v4.3h-5.2zM696.2 1880.4h4.6v2.6h-4.6zM700.8 1880.4h4.1v2.6h-4.1zM704.9 1880.4h4.3v2.6h-4.3zM709.2 1816.4h4.3v66.6h-4.3zM713.5 1880.4h3v2.6h-3zM716.5 1880.4h3.9v2.6h-3.9zM720.4 1638.2h3.5v244.8h-3.5zM723.9 1684h4.3v199h-4.3zM728.2 1834.5h4.3v48.5h-4.3zM732.5 1873.5h4.4v9.5h-4.4zM736.9 1853.6h4.3v29.4h-4.3zM741.2 1837.1h3.5v45.9h-3.5zM744.7 1797.3h4.3v85.7h-4.3zM749 1880.4h3.9v2.6h-3.9zM752.9 1880.4h3.9v2.6h-3.9zM756.8 1789.6h4.3v93.4h-4.3zM761.1 1628.7h4.3v254.3h-4.3zM765.4 1880.4h3.5v2.6h-3.5zM768.9 1880.4h4.3v2.6h-4.3zM773.2 1611.4h3.5v271.6h-3.5zM776.7 1880.4h4.3v2.6h-4.3zM781 1614.8h3.4v268.2h-3.4zM784.4 1698.7h4.4v184.3h-4.4zM788.8 1880.4h3.4v2.6h-3.4zM792.2 1868.3h4.4v14.7h-4.4zM796.6 1874.4h3.4v8.6h-3.4zM800 1678.8h4.3v204.2h-4.3zM804.3 1880.4h8.8v2.6h-8.8zM813.1 1875.2h3.4v7.8h-3.4zM816.5 1876.1h3.4v6.9h-3.4zM819.9 1880.4h4.4v2.6h-4.4zM824.3 1880.4h5.1v2.6h-5.1zM829.4 1880.4h6.9v2.6h-6.9zM836.3 1866.5h4.4v16.5h-4.4zM840.7 1852.7h4.3v30.3h-4.3zM845 1871.7h3.7v11.3h-3.7zM848.7 1871.7h4.3v11.3h-4.3zM853 1878.7h4.3v4.3h-4.3zM857.3 1875.2h3.5v7.8h-3.5zM860.8 1857.9h3.4v25.1h-3.4zM864.2 1768.8h4.3v114.2h-4.3zM868.5 1880.4h4.4v2.6h-4.4zM872.9 1880.4h3.4v2.6h-3.4zM876.3 1609.6h5.2v273.4h-5.2zM881.5 1880.4h3.5v2.6h-3.5zM885 1762.7h3.4v120.3h-3.4zM888.4 1880.4h4.7v2.6h-4.7zM893.1 1852.7h4v30.3h-4zM897.1 1606.2h3.5v276.8h-3.5zM900.6 1880.4h4.3v2.6h-4.3zM904.9 1880.4h4.3v2.6h-4.3zM909.2 1880.4h3.5v2.6h-3.5zM912.7 1880.4h4.3v2.6h-4.3zM917 1880.4h7.8v2.6h-7.8zM924.8 1604.4h4.3v278.6h-4.3zM929.1 1879.5h4.3v3.5h-4.3zM933.4 1880.4h6.9v2.6h-6.9zM940.3 1880.4h4.4v2.6h-4.4zM944.7 1868.3h4.3v14.7h-4.3zM949 1880.4h3.5v2.6h-3.5zM952.5 1691.8h4.3v191.2h-4.3zM956.8 1619.1h4.3v263.9h-4.3zM961.1 1690.1h3.5v192.9h-3.5zM964.6 1614.8h4.3v268.2h-4.3zM968.9 1677.1h4.5v205.9h-4.5zM973.4 1880.4h4.1v2.6h-4.1zM977.5 1880.4h4.4v2.6h-4.4zM981.9 1880.4h11.2v2.6h-11.2zM993.1 1878.7h4.3v4.3h-4.3zM997.4 1880.4h4.4v2.6h-4.4zM1001.8 1878.7h4.3v4.3h-4.3zM1006.1 1880.4h3.4v2.6h-3.4zM1009.5 1880.4h4.4v2.6h-4.4zM1013.9 1878.7h3.6v4.3h-3.6zM1017.5 1880.4h3.3v2.6h-3.3zM1020.8 1866.5h4.3v16.5h-4.3zM1025.1 1861.4h4.6v21.6h-4.6zM1029.7 1880.4h3.8v2.6h-3.8zM1033.5 1880.4h7.2v2.6h-7.2zM1040.7 1791.3h4.3v91.7h-4.3zM1045 1880.4h12.9v2.6h-12.9zM1057.9 1880.4h4.4v2.6h-4.4zM1062.3 1868.3h3.5v14.7h-3.5zM1065.8 1878.7h8.6v4.3h-8.6zM1074.4 1880.4h5.2v2.6h-5.2zM1079.6 1880.4h6.2v2.6h-6.2zM1085.8 1690.1h3.8v192.9h-3.8zM1089.6 1880.4h4.1v2.6h-4.1zM1093.7 1880.4h4.3v2.6h-4.3zM1098 1880.4h4.3v2.6h-4.3zM1102.3 1880.4h3.5v2.6h-3.5zM1105.8 1880.4h3.9v2.6h-3.9zM1109.7 1880.4h3.8v2.6h-3.8zM1113.5 1880.4h4.8v2.6h-4.8zM1118.3 1880.4h3v2.6h-3zM1121.3 1880.4h3.5v2.6h-3.5zM1124.8 1878.7h4.3v4.3h-4.3zM1129.1 1880.4h4.9v2.6h-4.9zM1134 1835.4h7.2v47.6h-7.2zM1141.2 1601h4.4v282h-4.4zM1145.6 1717.8h3.4v165.2h-3.4zM1149 1690.1h4.3v192.9h-4.3zM1153.3 1605.3h4.4v277.7h-4.4zM1157.7 1634.7h4.3v248.3h-4.3zM1162 1835.4h8v47.6h-8zM1170 1747.1h4.1v135.9h-4.1zM1174.1 1835.4h3.5v47.6h-3.5zM1177.6 1880.4h3.4v2.6h-3.4zM1181 1606.2h4.3v276.8h-4.3zM1185.3 1679.7h4.4v203.3h-4.4zM1189.7 1611.4h4.3v271.6h-4.3zM1194 1835.4h3.9v47.6h-3.9zM1197.9 1880.4h4.7v2.6h-4.7zM1202.6 1880.4h3.5v2.6h-3.5zM1206.1 1880.4h3.5v2.6h-3.5zM1209.6 1880.4h4.3v2.6h-4.3zM1213.9 1880.4h4.3v2.6h-4.3zM1218.2 1875.2h4.4v7.8h-4.4zM1222.6 1880.4h3.4v2.6h-3.4zM1226 1880.4h3.5v2.6h-3.5zM1229.5 1880.4h4.3v2.6h-4.3zM1233.8 1871.7h4.3v11.3h-4.3zM1238.1 1880.4h4.1v2.6h-4.1zM1242.2 1857.9h3.7v25.1h-3.7zM1245.9 1880.4h5.2v2.6h-5.2zM1251.1 1880.4h6.9v2.6h-6.9zM1258 1880.4h4.3v2.6h-4.3zM1262.3 1880.4h3.5v2.6h-3.5zM1265.8 1629.5h4.3v253.5h-4.3zM1270.1 1785.2h3.5v97.8h-3.5zM1273.6 1880.4h7.8v2.6h-7.8zM1281.4 1873.5h4.3v9.5h-4.3zM1285.7 1880.4h8.5v2.6h-8.5zM1294.2 1880.4h3.6v2.6h-3.6zM1297.8 1880.4h4.6v2.6h-4.6zM1302.4 1880.4h4.1v2.6h-4.1zM1306.5 1880.4h3.8v2.6h-3.8zM1310.3 1880.4h3.9v2.6h-3.9zM1314.2 1880.4h3.5v2.6h-3.5zM1317.7 1880.4h3.5v2.6h-3.5zM1321.2 1880.4h5.4v2.6h-5.4zM1326.6 1881.9h3.4v1.1h-3.4zM1330 1881.9h4.4v1.1h-4.4zM1334.4 1880.4h3.8v2.6h-3.8zM1338.2 1705h4.2v178h-4.2zM1342.4 1835.6h8v47.4h-8zM1350.4 1880.4h3v2.6h-3zM1353.4 1881.9h4.3v1.1h-4.3zM1357.7 1881.9h4.3v1.1h-4.3zM1362 1881.9h4.5v1.1h-4.5zM1366.5 1881.9h11.9v1.1h-11.9zM1378.4 1872h5.6v11h-5.6z"/>
<rect x="112" y="1595.5" width="1272" height="287.5" fill="url(#st)"/>
<path fill="#0a0a14" d="M126.2 1595.5h1.6v287.5h-1.6zM170.7 1595.5h1.6v287.5h-1.6zM174.2 1595.5h1.6v287.5h-1.6zM539.5 1595.5h1.6v287.5h-1.6zM542.4 1595.5h1.6v287.5h-1.6zM559.7 1595.5h1.6v287.5h-1.6zM615.7 1595.5h1.6v287.5h-1.6zM623.4 1595.5h1.6v287.5h-1.6zM635.9 1595.5h1.6v287.5h-1.6zM700 1595.5h1.6v287.5h-1.6zM715.7 1595.5h1.6v287.5h-1.6zM752.1 1595.5h1.6v287.5h-1.6zM756 1595.5h1.6v287.5h-1.6zM788 1595.5h1.6v287.5h-1.6zM812.3 1595.5h1.6v287.5h-1.6zM872.1 1595.5h1.6v287.5h-1.6zM892.3 1595.5h1.6v287.5h-1.6zM972.6 1595.5h1.6v287.5h-1.6zM1008.7 1595.5h1.6v287.5h-1.6zM1016.7 1595.5h1.6v287.5h-1.6zM1028.9 1595.5h1.6v287.5h-1.6zM1032.7 1595.5h1.6v287.5h-1.6zM1057.1 1595.5h1.6v287.5h-1.6zM1065 1595.5h1.6v287.5h-1.6zM1072.6 1595.5h1.6v287.5h-1.6zM1081 1595.5h1.6v287.5h-1.6zM1085 1595.5h1.6v287.5h-1.6zM1088.8 1595.5h1.6v287.5h-1.6zM1108.9 1595.5h1.6v287.5h-1.6zM1117.5 1595.5h1.6v287.5h-1.6zM1120.9 1595.5h1.6v287.5h-1.6zM1124.7 1595.5h1.6v287.5h-1.6zM1133.2 1595.5h1.6v287.5h-1.6zM1169.2 1595.5h1.6v287.5h-1.6zM1197.1 1595.5h1.6v287.5h-1.6zM1241.4 1595.5h1.6v287.5h-1.6zM1245.1 1595.5h1.6v287.5h-1.6zM1257.2 1595.5h1.6v287.5h-1.6zM1293.4 1595.5h1.6v287.5h-1.6zM1301.6 1595.5h1.6v287.5h-1.6zM1309.5 1595.5h1.6v287.5h-1.6zM1325.8 1595.5h1.6v287.5h-1.6zM1333.6 1595.5h1.6v287.5h-1.6zM1377.6 1595.5h1.6v287.5h-1.6z"/>
<path fill="#000" d="M106 1589H1384V1595.5H112V1883H1384V1890H106z"/>
<text x="0" y="1725" font-size="40" font-weight="bold">K = 6</text>
<rect x="112" y="1901" width="1272" height="286" fill="#300650"/>
<path fill="#d90247" d="M111.1 1901h3.4v89.2h-3.4zM114.5 1901h4.3v89.2h-4.3zM118.8 1901h8.2v91.7h-8.2zM127 1901h4v93.5h-4zM131 1901h4.3v94.3h-4.3zM135.3 1901h3.4v87.4h-3.4zM138.7 1901h4.4v4.4h-4.4zM143.1 1901h4.3v93.5h-4.3zM147.4 1901h3.4v3.5h-3.4zM150.8 1901h4.4v42.4h-4.4zM155.2 1901h3.4v2.7h-3.4zM158.6 1901h3.5v2.7h-3.5zM162.1 1901h5.2v3.5h-5.2zM167.3 1901h4.2v70.1h-4.2zM171.5 1901h3.5v72.7h-3.5zM175 1901h3.5v92.6h-3.5zM178.5 1901h4.4v2.7h-4.4zM182.9 1901h3.4v75.3h-3.4zM186.3 1901h4.3v3.5h-4.3zM190.6 1901h4.4v92.6h-4.4zM195 1901h4.3v72.7h-4.3zM199.3 1901h3.5v68.4h-3.5zM202.8 1901h4.3v49.4h-4.3zM207.1 1901h3.4v90.9h-3.4zM210.5 1901h4.4v3.5h-4.4zM214.9 1901h4.3v2.7h-4.3zM219.2 1901h4.3v4.4h-4.3zM223.5 1901h3.5v64.1h-3.5zM227 1901h4.3v8.7h-4.3zM231.3 1901h3.5v6.1h-3.5zM234.8 1901h4.3v13.9h-4.3zM239.1 1901h3.4v32.9h-3.4zM242.5 1901h4.4v91.7h-4.4zM246.9 1901h5.2v2.7h-5.2zM252.1 1901h6.9v2.7h-6.9zM259 1901h4.3v7h-4.3zM263.3 1901h3.5v9.6h-3.5zM266.8 1901h4.3v87.4h-4.3zM271.1 1901h4.3v10.4h-4.3zM275.4 1901h3.5v92.6h-3.5zM278.9 1901h4.3v11.3h-4.3zM283.2 1901h5.2v5.2h-5.2zM288.4 1901h6.9v1.8h-6.9zM295.3 1901h4.3v26.9h-4.3zM299.6 1901h7.8v2.7h-7.8zM307.4 1901h4.3v13.9h-4.3zM311.7 1901h3.5v91.7h-3.5zM315.2 1901h4.3v15.6h-4.3zM319.5 1901h7.8v1.8h-7.8zM327.3 1901h3.5v92.6h-3.5zM330.8 1901h4.3v84.8h-4.3zM335.1 1901h4.3v2.7h-4.3zM339.4 1901h3.5v4.4h-3.5zM342.9 1901h4.3v27.7h-4.3zM347.2 1901h3.5v30.3h-3.5zM350.7 1901h4.3v7.8h-4.3zM355 1901h0.2v3.5h-0.2zM355.2 1901h4.3v52.8h-4.3zM359.5 1901h3.5v79.6h-3.5zM363 1901h4.3v93.5h-4.3zM367.3 1901h3.5v3.5h-3.5zM370.8 1901h4.3v3.5h-4.3zM375.1 1901h4.3v4.4h-4.3zM379.4 1901h3.5v7h-3.5zM382.9 1901h4.3v5.2h-4.3zM387.2 1901h4.3v4.4h-4.3zM391.5 1901h4.3v77h-4.3zM395.8 1901h4.4v4.4h-4.4zM400.2 1901h2.6v11.3h-2.6zM402.8 1901h4.3v2.7h-4.3zM407.1 1901h4.3v18.2h-4.3zM411.4 1901h8.7v2.7h-8.7zM420.1 1901h4.3v1.8h-4.3zM424.4 1901h3.5v1.8h-3.5zM427.9 1901h3.4v7h-3.4zM431.3 1901h4.3v3.5h-4.3zM435.6 1901h4.4v4.4h-4.4zM440 1901h4.3v5.2h-4.3zM444.3 1901h3.5v3.5h-3.5zM447.8 1901h4.3v2.7h-4.3zM452.1 1901h3.4v2.7h-3.4zM455.5 1901h4.4v4.4h-4.4zM459.9 1901h4.3v5.2h-4.3zM464.2 1901h4.3v17.4h-4.3zM468.5 1901h3.5v44.2h-3.5zM472 1901h4.3v3.5h-4.3zM476.3 1901h3.5v3.5h-3.5zM479.8 1901h4.3v69.3h-4.3zM484.1 1901h4.3v1.8h-4.3zM488.4 1901h4.3v1.8h-4.3zM492.7 1901h4.4v1.8h-4.4zM497.1 1901h6.9v1.8h-6.9zM504 1901h4.3v5.2h-4.3zM508.3 1901h4.3v5.2h-4.3zM512.6 1901h3.5v3.5h-3.5zM516.1 1901h4.3v16.5h-4.3zM520.4 1901h4.3v2.7h-4.3zM524.7 1901h3.5v3.5h-3.5zM528.2 1901h3.5v1.8h-3.5zM531.7 1901h4.3v12.2h-4.3zM536 1901h4.3v13h-4.3zM540.3 1901h2.9v1.8h-2.9zM543.2 1901h11.8v2.7h-11.8zM555 1901h3.5v2.7h-3.5zM558.5 1901h2v2.7h-2zM560.5 1901h4v4.4h-4zM564.5 1901h7v4.4h-7zM571.5 1901h4.3v4.4h-4.3zM575.8 1901h7.8v4.4h-7.8zM583.6 1901h4.3v4.4h-4.3zM587.9 1901h3.4v4.4h-3.4zM591.3 1901h4.4v4.4h-4.4zM595.7 1901h4.3v4.4h-4.3zM600 1901h4.5v20h-4.5zM604.5 1901h3.5v7.8h-3.5zM608 1901h4.3v4.4h-4.3zM612.3 1901h4.2v4.4h-4.2zM616.5 1901h4.5v4.4h-4.5zM621 1901h3.2v4.4h-3.2zM624.2 1901h4.5v3.5h-4.5zM628.7 1901h2.6v4.4h-2.6zM631.3 1901h5.4v3.5h-5.4zM636.7 1901h4.1v3.5h-4.1zM640.8 1901h3.5v3.5h-3.5zM644.3 1901h3.5v3.5h-3.5zM647.8 1901h5.2v3.5h-5.2zM653 1901h3.4v3.5h-3.4zM656.4 1901h3.5v3.5h-3.5zM659.9 1901h4.3v3.5h-4.3zM664.2 1901h3.5v3.5h-3.5zM667.7 1901h4.3v4.4h-4.3zM672 1901h4.3v3.5h-4.3zM676.3 1901h3.5v4.4h-3.5zM679.8 1901h4.3v3.5h-4.3zM684.1 1901h6.9v3.5h-6.9zM691 1901h5.2v3.5h-5.2zM696.2 1901h4.6v3.5h-4.6zM700.8 1901h4.1v44.2h-4.1zM704.9 1901h4.3v34.7h-4.3zM709.2 1901h4.3v33.8h-4.3zM713.5 1901h3v11.3h-3zM716.5 1901h3.1v6.1h-3.1zM719.6 1901h4.3v4.4h-4.3zM723.9 1901h4.3v6.1h-4.3zM728.2 1901h4.3v6.1h-4.3zM732.5 1901h4.4v35.5h-4.4zM736.9 1901h3.4v5.2h-3.4zM740.3 1901h3.5v5.2h-3.5zM743.8 1901h4.3v5.2h-4.3zM748.1 1901h4.8v5.2h-4.8zM752.9 1901h3.9v4.4h-3.9zM756.8 1901h4.3v4.4h-4.3zM761.1 1901h4.3v4.4h-4.3zM765.4 1901h3.5v3.5h-3.5zM768.9 1901h4.3v4.4h-4.3zM773.2 1901h3.5v4.4h-3.5zM776.7 1901h4.3v4.4h-4.3zM781 1901h3.4v4.4h-3.4zM784.4 1901h4.4v90.9h-4.4zM788.8 1901h3.4v3.5h-3.4zM792.2 1901h4.4v41.6h-4.4zM796.6 1901h3.4v4.4h-3.4zM800 1901h4.3v53.7h-4.3zM804.3 1901h8.8v3.5h-8.8zM813.1 1901h3.4v2.7h-3.4zM816.5 1901h3.4v2.7h-3.4zM819.9 1901h5.2v2.7h-5.2zM825.1 1901h4.3v2.7h-4.3zM829.4 1901h6.1v2.7h-6.1zM835.5 1901h3.4v67.5h-3.4zM838.9 1901h6.1v3.5h-6.1zM845 1901h3.7v3.5h-3.7zM848.7 1901h4.3v3.5h-4.3zM853 1901h4.3v3.5h-4.3zM857.3 1901h3.5v3.5h-3.5zM860.8 1901h3.4v20.8h-3.4zM864.2 1901h4.3v4.4h-4.3zM868.5 1901h4.4v4.4h-4.4zM872.9 1901h3.4v4.4h-3.4zM876.3 1901h5.2v3.5h-5.2zM881.5 1901h3.5v3.5h-3.5zM885 1901h4.3v3.5h-4.3zM889.3 1901h3.8v3.5h-3.8zM893.1 1901h4v4.4h-4zM897.1 1901h4.3v4.4h-4.3zM901.4 1901h3.5v3.5h-3.5zM904.9 1901h4.3v3.5h-4.3zM909.2 1901h3.5v2.7h-3.5zM912.7 1901h4.3v2.7h-4.3zM917 1901h7.8v3.5h-7.8zM924.8 1901h4.3v4.4h-4.3zM929.1 1901h4.3v4.4h-4.3zM933.4 1901h6.9v4.4h-6.9zM940.3 1901h4.4v4.4h-4.4zM944.7 1901h4.3v4.4h-4.3zM949 1901h3.5v3.5h-3.5zM952.5 1901h4.3v80.5h-4.3zM956.8 1901h4.3v6.1h-4.3zM961.1 1901h3.5v6.1h-3.5zM964.6 1901h4.3v6.1h-4.3zM968.9 1901h4.5v4.4h-4.5zM973.4 1901h4.1v4.4h-4.1zM977.5 1901h4.4v4.4h-4.4zM981.9 1901h11.2v4.4h-11.2zM993.1 1901h4.3v26.9h-4.3zM997.4 1901h4.4v4.4h-4.4zM1001.8 1901h4.3v4.4h-4.3zM1006.1 1901h3.4v4.4h-3.4zM1009.5 1901h4.4v4.4h-4.4zM1013.9 1901h6.9v3.5h-6.9zM1020.8 1901h4.3v3.5h-4.3zM1025.1 1901h4.6v3.5h-4.6zM1029.7 1901h3.8v3.5h-3.8zM1033.5 1901h7.2v3.5h-7.2zM1040.7 1901h4.3v49.4h-4.3zM1045 1901h7.8v3.5h-7.8zM1052.8 1901h3.4v3.5h-3.4zM1056.2 1901h1.7v3.5h-1.7zM1057.9 1901h4.4v3.5h-4.4zM1062.3 1901h3.5v3.5h-3.5zM1065.8 1901h8.6v3.5h-8.6zM1074.4 1901h5.2v3.5h-5.2zM1079.6 1901h6.2v3.5h-6.2zM1085.8 1901h3.8v84h-3.8zM1089.6 1901h4.1v1.8h-4.1zM1093.7 1901h4.3v1.8h-4.3zM1098 1901h4.3v1.8h-4.3zM1102.3 1901h3.5v1.8h-3.5zM1105.8 1901h3.9v1.8h-3.9zM1109.7 1901h3.8v9.6h-3.8zM1113.5 1901h4.8v1.8h-4.8zM1118.3 1901h3v1.8h-3zM1121.3 1901h3.5v1.8h-3.5zM1124.8 1901h5.2v1.8h-5.2zM1130 1901h4v1.8h-4zM1134 1901h7.2v40.7h-7.2zM1141.2 1901h4.4v1.8h-4.4zM1145.6 1901h3.4v79.6h-3.4zM1149 1901h4.3v77.9h-4.3zM1153.3 1901h4.4v4.4h-4.4zM1157.7 1901h4.3v6.1h-4.3zM1162 1901h8v40.7h-8zM1170 1901h4.1v4.4h-4.1zM1174.1 1901h3.5v40.7h-3.5zM1177.6 1901h3.4v4.4h-3.4zM1181 1901h4.3v3.5h-4.3zM1185.3 1901h4.4v64.9h-4.4zM1189.7 1901h4.3v3.5h-4.3zM1194 1901h3.9v40.7h-3.9zM1197.9 1901h4.7v2.7h-4.7zM1202.6 1901h3.5v2.7h-3.5zM1206.1 1901h3.5v2.7h-3.5zM1209.6 1901h4.3v2.7h-4.3zM1213.9 1901h4.3v2.7h-4.3zM1218.2 1901h4.4v2.7h-4.4zM1222.6 1901h3.4v2.7h-3.4zM1226 1901h3.5v2.7h-3.5zM1229.5 1901h4.3v2.7h-4.3zM1233.8 1901h4.3v2.7h-4.3zM1238.1 1901h4.1v2.7h-4.1zM1242.2 1901h3.7v4.4h-3.7zM1245.9 1901h5.2v3.5h-5.2zM1251.1 1901h6.9v3.5h-6.9zM1258 1901h4.3v59.7h-4.3zM1262.3 1901h3.5v7h-3.5zM1265.8 1901h4.3v3.5h-4.3zM1270.1 1901h3.5v54.6h-3.5zM1273.6 1901h7.8v1.8h-7.8zM1281.4 1901h4.3v156.6h-4.3zM1285.7 1901h3.4v1.8h-3.4zM1289.1 1901h5.1v1.8h-5.1zM1294.2 1901h3.6v1.8h-3.6zM1297.8 1901h4.6v1.8h-4.6zM1302.4 1901h4.1v15.6h-4.1zM1306.5 1901h3.8v28.6h-3.8zM1310.3 1901h3.9v1.8h-3.9zM1314.2 1901h3.5v1.8h-3.5zM1317.7 1901h3.5v1.8h-3.5zM1321.2 1901h5.4v1.8h-5.4zM1326.6 1901h3v1.2h-3zM1329.6 1901h4v1.2h-4zM1333.6 1901h4.4v1.2h-4.4zM1338 1901h4.2v86.4h-4.2zM1342.2 1901h7.8v40.8h-7.8zM1350 1901h3.6v1.2h-3.6zM1353.6 1901h4.8v1.2h-4.8zM1358.4 1901h3v1.2h-3zM1361.4 1901h4.2v1.2h-4.2zM1365.6 1901h12.8v1.2h-12.8zM1378.4 1901h5.6v15.6h-5.6z"/>
<path fill="#e8b0b3" d="M111.1 1990.2h3.4v1.7h-3.4zM114.5 1990.2h4.3v3.4h-4.3zM118.8 1992.7h8.2v1.8h-8.2zM127 1994.5h4v1.7h-4zM131 1995.3h4.3v1.8h-4.3zM135.3 1988.4h3.4v1.8h-3.4zM138.7 1905.4h4.4v1.7h-4.4zM143.1 1994.5h4.3v0.8h-4.3zM147.4 1904.5h3.4v1.7h-3.4zM150.8 1943.4h4.4v1.8h-4.4zM155.2 1903.7h3.4v0.8h-3.4zM158.6 1903.7h3.5v0.8h-3.5zM162.1 1904.5h5.2v0.9h-5.2zM167.3 1971.1h4.2v1.8h-4.2zM171.5 1973.7h3.5v2.6h-3.5zM175 1993.6h3.5v3.5h-3.5zM178.5 1903.7h4.4v1.7h-4.4zM182.9 1976.3h3.4v8.7h-3.4zM186.3 1904.5h4.3v0.9h-4.3zM190.6 1993.6h4.4v1.7h-4.4zM195 1973.7h4.3v4.3h-4.3zM199.3 1969.4h3.5v1.7h-3.5zM202.8 1950.4h4.3v15.5h-4.3zM207.1 1991.9h3.4v1.7h-3.4zM210.5 1904.5h4.4v1.7h-4.4zM214.9 1903.7h4.3v1.7h-4.3zM219.2 1905.4h4.3v1.7h-4.3zM223.5 1965.1h3.5v14.7h-3.5zM227 1909.7h4.3v2.6h-4.3zM231.3 1907.1h3.5v12.1h-3.5zM234.8 1914.9h4.3v7.8h-4.3zM239.1 1933.9h3.4v9.5h-3.4zM242.5 1992.7h4.4v2.6h-4.4zM246.9 1903.7h5.2v0.8h-5.2zM252.1 1903.7h6.9v0.8h-6.9zM259 1908h4.3v1.7h-4.3zM263.3 1910.6h3.5v1.7h-3.5zM266.8 1988.4h4.3v2.6h-4.3zM271.1 1911.4h4.3v1.8h-4.3zM275.4 1993.6h3.5v1.7h-3.5zM278.9 1912.3h4.3v1.7h-4.3zM283.2 1906.2h5.2v3.5h-5.2zM288.4 1902.8h6.9v0.9h-6.9zM295.3 1927.9h4.3v10.4h-4.3zM299.6 1903.7h7.8v0.8h-7.8zM307.4 1914.9h4.3v8.6h-4.3zM311.7 1992.7h3.5v1.8h-3.5zM315.2 1916.6h4.3v1.8h-4.3zM319.5 1902.8h7.8v1.7h-7.8zM327.3 1993.6h3.5v0.9h-3.5zM330.8 1985.8h4.3v1.8h-4.3zM335.1 1903.7h4.3v8.6h-4.3zM339.4 1905.4h3.5v3.4h-3.5zM342.9 1928.7h4.3v1.8h-4.3zM347.2 1931.3h3.5v3.5h-3.5zM350.7 1908.8h4.3v12.2h-4.3zM355 1904.5h0.2v18.2h-0.2zM355.2 1953.8h4.3v1.8h-4.3zM359.5 1980.6h3.5v6.1h-3.5zM363 1994.5h4.3v1.7h-4.3zM367.3 1904.5h3.5v0.9h-3.5zM370.8 1904.5h4.3v0.9h-4.3zM375.1 1905.4h4.3v0.8h-4.3zM379.4 1908h3.5v2.6h-3.5zM382.9 1906.2h4.3v1.8h-4.3zM387.2 1905.4h4.3v2.6h-4.3zM391.5 1978h4.3v2.6h-4.3zM395.8 1905.4h4.4v2.6h-4.4zM400.2 1912.3h2.6v2.6h-2.6zM402.8 1903.7h4.3v0.8h-4.3zM407.1 1919.2h4.3v3.5h-4.3zM411.4 1903.7h8.7v0.8h-8.7zM420.1 1902.8h4.3v1.7h-4.3zM424.4 1902.8h3.5v1.7h-3.5zM427.9 1908h3.4v9.5h-3.4zM431.3 1904.5h4.3v90.8h-4.3zM435.6 1905.4h4.4v15.6h-4.4zM440 1906.2h4.3v1.8h-4.3zM444.3 1904.5h3.5v1.7h-3.5zM447.8 1903.7h4.3v238.7h-4.3zM452.1 1903.7h3.4v155.7h-3.4zM455.5 1905.4h4.4v255.2h-4.4zM459.9 1906.2h4.3v241.4h-4.3zM464.2 1918.4h4.3v0.8h-4.3zM468.5 1945.2h3.5v6.9h-3.5zM472 1904.5h4.3v0.9h-4.3zM476.3 1904.5h3.5v2.6h-3.5zM479.8 1970.3h4.3v6h-4.3zM484.1 1902.8h4.3v0.9h-4.3zM488.4 1902.8h4.3v0.9h-4.3zM492.7 1902.8h4.4v1.7h-4.4zM497.1 1902.8h6.9v1.7h-6.9zM504 1906.2h4.3v13.9h-4.3zM508.3 1906.2h4.3v0.9h-4.3zM512.6 1904.5h3.5v0.9h-3.5zM516.1 1917.5h4.3v3.5h-4.3zM520.4 1903.7h4.3v4.3h-4.3zM524.7 1904.5h3.5v6.1h-3.5zM528.2 1902.8h3.5v83.9h-3.5zM531.7 1913.2h4.3v2.6h-4.3zM536 1914h4.3v3.5h-4.3zM540.3 1902.8h2.9v1.7h-2.9zM543.2 1903.7h11.8v1.7h-11.8zM555 1903.7h3.5v110.7h-3.5zM558.5 1903.7h2v1.7h-2zM560.5 1905.4h4v1.7h-4zM564.5 1905.4h7v1.7h-7zM571.5 1905.4h4.3v1.7h-4.3zM575.8 1905.4h7.8v1.7h-7.8zM583.6 1905.4h4.3v1.7h-4.3zM587.9 1905.4h3.4v8.6h-3.4zM591.3 1905.4h4.4v8.6h-4.4zM595.7 1905.4h4.3v162.6h-4.3zM600 1921h4.5v10.3h-4.5zM604.5 1908.8h3.5v1.8h-3.5zM608 1905.4h4.3v233.5h-4.3zM612.3 1905.4h4.2v3.4h-4.2zM616.5 1905.4h4.5v2.6h-4.5zM621 1905.4h3.2v6.9h-3.2zM624.2 1904.5h4.5v4.3h-4.5zM628.7 1905.4h2.6v6.9h-2.6zM631.3 1904.5h5.4v83.9h-5.4zM636.7 1904.5h4.1v14.7h-4.1zM640.8 1904.5h3.5v11.3h-3.5zM644.3 1904.5h3.5v11.3h-3.5zM647.8 1904.5h5.2v12.1h-5.2zM653 1904.5h3.4v6.1h-3.4zM656.4 1904.5h3.5v3.5h-3.5zM659.9 1904.5h4.3v4.3h-4.3zM664.2 1904.5h3.5v59.7h-3.5zM667.7 1905.4h4.3v1.7h-4.3zM672 1904.5h4.3v2.6h-4.3zM676.3 1905.4h3.5v1.7h-3.5zM679.8 1904.5h4.3v9.5h-4.3zM684.1 1904.5h6.9v0.9h-6.9zM691 1904.5h5.2v3.5h-5.2zM700.8 1945.2h4.1v5.2h-4.1zM704.9 1935.7h4.3v12.9h-4.3zM709.2 1934.8h4.3v6.9h-4.3zM713.5 1912.3h3v26h-3zM716.5 1907.1h3.1v3.5h-3.1zM719.6 1905.4h4.3v5.2h-4.3zM723.9 1907.1h4.3v3.5h-4.3zM728.2 1907.1h4.3v4.3h-4.3zM732.5 1936.5h4.4v5.2h-4.4zM736.9 1906.2h3.4v120.3h-3.4zM740.3 1906.2h3.5v2.6h-3.5zM743.8 1906.2h4.3v6.1h-4.3zM748.1 1906.2h4.8v3.5h-4.8zM756.8 1905.4h4.3v5.2h-4.3zM761.1 1905.4h4.3v2.6h-4.3zM765.4 1904.5h3.5v0.9h-3.5zM768.9 1905.4h4.3v2.6h-4.3zM773.2 1905.4h3.5v0.8h-3.5zM776.7 1905.4h4.3v2.6h-4.3zM781 1905.4h3.4v5.2h-3.4zM784.4 1991.9h4.4v1.7h-4.4zM788.8 1904.5h3.4v1.7h-3.4zM792.2 1942.6h4.4v1.7h-4.4zM796.6 1905.4h3.4v0.8h-3.4zM800 1954.7h4.3v2.6h-4.3zM804.3 1904.5h8.8v1.7h-8.8zM813.1 1903.7h3.4v251.7h-3.4zM816.5 1903.7h3.4v249.9h-3.4zM819.9 1903.7h5.2v276.8h-5.2zM825.1 1903.7h4.3v164.3h-4.3zM829.4 1903.7h6.1v1.7h-6.1zM835.5 1968.5h3.4v2.6h-3.4zM838.9 1904.5h6.1v3.5h-6.1zM845 1904.5h3.7v269.9h-3.7zM848.7 1904.5h4.3v252.6h-4.3zM853 1904.5h4.3v74.4h-4.3zM857.3 1904.5h3.5v269.9h-3.5zM860.8 1921.8h3.4v124.6h-3.4zM864.2 1905.4h4.3v191.2h-4.3zM868.5 1905.4h4.4v275.1h-4.4zM872.9 1905.4h3.4v6.9h-3.4zM876.3 1904.5h5.2v6.1h-5.2zM881.5 1904.5h3.5v3.5h-3.5zM885 1904.5h4.3v29.4h-4.3zM889.3 1904.5h3.8v0.9h-3.8zM893.1 1905.4h4v5.2h-4zM897.1 1905.4h4.3v2.6h-4.3zM901.4 1904.5h3.5v2.6h-3.5zM904.9 1904.5h4.3v2.6h-4.3zM909.2 1903.7h3.5v10.3h-3.5zM912.7 1903.7h4.3v10.3h-4.3zM917 1904.5h7.8v5.2h-7.8zM924.8 1905.4h4.3v1.7h-4.3zM929.1 1905.4h4.3v2.6h-4.3zM933.4 1905.4h6.9v2.6h-6.9zM940.3 1905.4h4.4v11.2h-4.4zM944.7 1905.4h4.3v10.4h-4.3zM949 1904.5h3.5v1.7h-3.5zM952.5 1981.5h4.3v3.5h-4.3zM956.8 1907.1h4.3v32h-4.3zM961.1 1907.1h3.5v8.7h-3.5zM964.6 1907.1h4.3v5.2h-4.3zM968.9 1905.4h4.5v2.6h-4.5zM973.4 1905.4h4.1v3.4h-4.1zM977.5 1905.4h4.4v23.3h-4.4zM981.9 1905.4h11.2v1.7h-11.2zM993.1 1927.9h4.3v3.4h-4.3zM997.4 1905.4h4.4v1.7h-4.4zM1001.8 1905.4h4.3v2.6h-4.3zM1006.1 1905.4h3.4v2.6h-3.4zM1009.5 1905.4h4.4v1.7h-4.4zM1013.9 1904.5h6.9v3.5h-6.9zM1020.8 1904.5h4.3v45.9h-4.3zM1025.1 1904.5h4.6v2.6h-4.6zM1029.7 1904.5h3.8v9.5h-3.8zM1033.5 1904.5h7.2v1.7h-7.2zM1040.7 1950.4h4.3v4.3h-4.3zM1045 1904.5h7.8v1.7h-7.8zM1052.8 1904.5h3.4v1.7h-3.4zM1056.2 1904.5h1.7v1.7h-1.7zM1057.9 1904.5h4.4v2.6h-4.4zM1062.3 1904.5h3.5v1.7h-3.5zM1065.8 1904.5h8.6v1.7h-8.6zM1074.4 1904.5h5.2v6.9h-5.2zM1079.6 1904.5h6.2v2.6h-6.2zM1085.8 1985h3.8v1.7h-3.8zM1089.6 1902.8h4.1v1.7h-4.1zM1093.7 1902.8h4.3v2.6h-4.3zM1098 1902.8h4.3v2.6h-4.3zM1102.3 1902.8h3.5v2.6h-3.5zM1105.8 1902.8h3.9v6h-3.9zM1109.7 1910.6h3.8v3.4h-3.8zM1113.5 1902.8h4.8v2.6h-4.8zM1118.3 1902.8h3v2.6h-3zM1121.3 1902.8h3.5v17.3h-3.5zM1124.8 1902.8h5.2v2.6h-5.2zM1130 1902.8h4v1.7h-4zM1134 1941.7h7.2v40.7h-7.2zM1141.2 1902.8h4.4v1.7h-4.4zM1145.6 1980.6h3.4v19.9h-3.4zM1149 1978.9h4.3v4.3h-4.3zM1153.3 1905.4h4.4v2.6h-4.4zM1157.7 1907.1h4.3v18.2h-4.3zM1162 1941.7h8v40.7h-8zM1170 1905.4h4.1v12.1h-4.1zM1174.1 1941.7h3.5v40.7h-3.5zM1177.6 1905.4h3.4v60.5h-3.4zM1181 1904.5h4.3v0.9h-4.3zM1185.3 1965.9h4.4v12.1h-4.4zM1189.7 1904.5h4.3v0.9h-4.3zM1194 1941.7h3.9v40.7h-3.9zM1197.9 1903.7h4.7v12.1h-4.7zM1202.6 1903.7h3.5v6h-3.5zM1206.1 1903.7h3.5v6h-3.5zM1209.6 1903.7h4.3v4.3h-4.3zM1213.9 1903.7h4.3v6.9h-4.3zM1218.2 1903.7h4.4v4.3h-4.4zM1222.6 1903.7h3.4v3.4h-3.4zM1226 1903.7h3.5v4.3h-3.5zM1229.5 1903.7h4.3v2.5h-4.3zM1233.8 1903.7h4.3v10.3h-4.3zM1238.1 1903.7h4.1v13.8h-4.1zM1242.2 1905.4h3.7v0.8h-3.7zM1245.9 1904.5h5.2v3.5h-5.2zM1251.1 1904.5h6.9v18.2h-6.9zM1258 1960.7h4.3v20.8h-4.3zM1262.3 1908h3.5v97.7h-3.5zM1265.8 1904.5h4.3v16.5h-4.3zM1270.1 1955.6h3.5v102h-3.5zM1273.6 1902.8h7.8v1.7h-7.8zM1281.4 2057.6h4.3v2.6h-4.3zM1285.7 1902.8h3.4v1.7h-3.4zM1289.1 1902.8h5.1v2.6h-5.1zM1294.2 1902.8h3.6v2.6h-3.6zM1297.8 1902.8h4.6v2.6h-4.6zM1302.4 1916.6h4.1v1.8h-4.1zM1306.5 1929.6h3.8v12.1h-3.8zM1310.3 1902.8h3.9v2.6h-3.9zM1314.2 1902.8h3.5v2.6h-3.5zM1317.7 1902.8h3.5v7.8h-3.5zM1321.2 1902.8h5.4v4.3h-5.4zM1326.6 1902.2h3v1.2h-3zM1329.6 1902.2h4v8.4h-4zM1333.6 1902.2h4.4v4.8h-4.4zM1338 1987.4h4.2v2.4h-4.2zM1342.2 1941.8h7.8v40.2h-7.8zM1350 1902.2h3.6v1.2h-3.6zM1353.6 1902.2h4.8v1.8h-4.8zM1358.4 1902.2h3v1.8h-3zM1361.4 1902.2h4.2v1.8h-4.2zM1365.6 1902.2h12.8v1.8h-12.8zM1378.4 1916.6h5.6v34.8h-5.6z"/>
<path fill="#821d4e" d="M111.1 1991.9h3.4v0.8h-3.4zM114.5 1993.6h4.3v0.9h-4.3zM118.8 1994.5h8.2v0.8h-8.2zM127 1996.2h4v0.9h-4zM131 1997.1h4.3v1.7h-4.3zM135.3 1990.2h3.4v0.8h-3.4zM138.7 1907.1h4.4v6.1h-4.4zM143.1 1995.3h4.3v0.9h-4.3zM147.4 1906.2h3.4v0.9h-3.4zM150.8 1945.2h4.4v0.8h-4.4zM155.2 1904.5h3.4v7.8h-3.4zM158.6 1904.5h3.5v4.3h-3.5zM162.1 1905.4h5.2v0.8h-5.2zM167.3 1972.9h4.2v1.7h-4.2zM171.5 1976.3h3.5v1.7h-3.5zM175 1997.1h3.5v0.8h-3.5zM178.5 1905.4h4.4v8.6h-4.4zM182.9 1985h3.4v5.2h-3.4zM186.3 1905.4h4.3v13.8h-4.3zM190.6 1995.3h4.4v1.8h-4.4zM195 1978h4.3v3.5h-4.3zM199.3 1971.1h3.5v3.5h-3.5zM202.8 1965.9h4.3v2.6h-4.3zM207.1 1993.6h3.4v0.9h-3.4zM210.5 1906.2h4.4v5.2h-4.4zM214.9 1905.4h4.3v3.4h-4.3zM219.2 1907.1h4.3v4.3h-4.3zM223.5 1979.8h3.5v6.9h-3.5zM227 1912.3h4.3v2.6h-4.3zM231.3 1919.2h3.5v3.5h-3.5zM234.8 1922.7h4.3v1.7h-4.3zM239.1 1943.4h3.4v9.6h-3.4zM242.5 1995.3h4.4v14.7h-4.4zM246.9 1904.5h5.2v2.6h-5.2zM252.1 1904.5h6.9v0.9h-6.9zM259 1909.7h4.3v0.9h-4.3zM263.3 1912.3h3.5v0.9h-3.5zM266.8 1991h4.3v0.9h-4.3zM271.1 1913.2h4.3v0.8h-4.3zM275.4 1995.3h3.5v0.9h-3.5zM278.9 1914h4.3v0.9h-4.3zM283.2 1909.7h5.2v1.7h-5.2zM288.4 1903.7h6.9v1.7h-6.9zM295.3 1938.3h4.3v17.3h-4.3zM299.6 1904.5h7.8v5.2h-7.8zM307.4 1923.5h4.3v5.2h-4.3zM311.7 1994.5h3.5v7.8h-3.5zM315.2 1918.4h4.3v1.7h-4.3zM319.5 1904.5h7.8v6.9h-7.8zM327.3 1994.5h3.5v0.8h-3.5zM330.8 1987.6h4.3v1.7h-4.3zM335.1 1912.3h4.3v12.1h-4.3zM339.4 1908.8h3.5v7h-3.5zM342.9 1930.5h4.3v1.7h-4.3zM347.2 1934.8h3.5v0.9h-3.5zM350.7 1921h4.3v6h-4.3zM355 1922.7h0.2v6.9h-0.2zM355.2 1955.6h4.3v2.5h-4.3zM359.5 1986.7h3.5v2.6h-3.5zM363 1996.2h4.3v0.9h-4.3zM367.3 1905.4h3.5v1.7h-3.5zM370.8 1905.4h4.3v5.2h-4.3zM375.1 1906.2h4.3v4.4h-4.3zM379.4 1910.6h3.5v3.4h-3.5zM382.9 1908h4.3v4.3h-4.3zM387.2 1908h4.3v25.1h-4.3zM391.5 1980.6h4.3v2.6h-4.3zM395.8 1908h4.4v8.6h-4.4zM400.2 1914.9h2.6v1.7h-2.6zM402.8 1904.5h4.3v0.9h-4.3zM407.1 1922.7h4.3v3.4h-4.3zM411.4 1904.5h8.7v1.7h-8.7zM420.1 1904.5h4.3v276h-4.3zM424.4 1904.5h3.5v263.9h-3.5zM427.9 1917.5h3.4v247.4h-3.4zM431.3 1995.3h4.3v180h-4.3zM435.6 1921h4.4v152.2h-4.4zM440 1908h4.3v192h-4.3zM444.3 1906.2h3.5v280.8h-3.5zM447.8 2142.4h4.3v10.4h-4.3zM452.1 2059.4h3.4v5.1h-3.4zM455.5 2160.6h4.4v11.2h-4.4zM459.9 2147.6h4.3v8.6h-4.3zM464.2 1919.2h4.3v0.9h-4.3zM468.5 1952.1h3.5v8.6h-3.5zM472 1905.4h4.3v5.2h-4.3zM476.3 1907.1h3.5v8.7h-3.5zM479.8 1976.3h4.3v9.5h-4.3zM484.1 1903.7h4.3v1.7h-4.3zM488.4 1903.7h4.3v0.8h-4.3zM492.7 1904.5h4.4v0.9h-4.4zM497.1 1904.5h6.9v3.5h-6.9zM504 1920.1h4.3v38.9h-4.3zM508.3 1907.1h4.3v5.2h-4.3zM512.6 1905.4h3.5v0.8h-3.5zM516.1 1921h4.3v8.6h-4.3zM520.4 1908h4.3v1.7h-4.3zM524.7 1910.6h3.5v0.8h-3.5zM528.2 1986.7h3.5v2.6h-3.5zM531.7 1915.8h4.3v4.3h-4.3zM536 1917.5h4.3v2.6h-4.3zM540.3 1904.5h2.9v187.7h-2.9zM543.2 1905.4h11.8v278.6h-11.8zM555 2014.4h3.5v169.6h-3.5zM558.5 1905.4h2v276.6h-2zM560.5 1907.1h4v1.7h-4zM564.5 1907.1h7v1.7h-7zM571.5 1907.1h4.3v1.7h-4.3zM575.8 1907.1h7.8v1.7h-7.8zM583.6 1907.1h4.3v8.7h-4.3zM587.9 1914h3.4v105.6h-3.4zM591.3 1914h4.4v2.6h-4.4zM595.7 2068h4.3v29.4h-4.3zM600 1931.3h4.5v9.5h-4.5zM604.5 1910.6h3.5v1.7h-3.5zM608 2138.9h4.3v7h-4.3zM612.3 1908.8h4.2v12.2h-4.2zM616.5 1908h4.5v2.6h-4.5zM621 1912.3h3.2v243.9h-3.2zM624.2 1908.8h4.5v1.8h-4.5zM628.7 1912.3h2.6v15.6h-2.6zM631.3 1988.4h5.4v3.5h-5.4zM636.7 1919.2h4.1v5.2h-4.1zM640.8 1915.8h3.5v11.2h-3.5zM644.3 1915.8h3.5v269.9h-3.5zM647.8 1916.6h5.2v183.4h-5.2zM653 1910.6h3.4v262.1h-3.4zM656.4 1908h3.5v250.8h-3.5zM659.9 1908.8h4.3v233.6h-4.3zM664.2 1964.2h3.5v198.1h-3.5zM667.7 1907.1h4.3v273.4h-4.3zM672 1907.1h4.3v249.1h-4.3zM676.3 1907.1h3.5v278.6h-3.5zM679.8 1914h4.3v244h-4.3zM684.1 1905.4h6.9v280.3h-6.9zM691 1908h5.2v262.1h-5.2zM696.2 1904.5h4.6v282.5h-4.6zM700.8 1950.4h4.1v15.6h-4.1zM704.9 1948.6h4.3v1.8h-4.3zM709.2 1941.7h4.3v1.7h-4.3zM713.5 1938.3h3v1.7h-3zM716.5 1910.6h3.1v8.6h-3.1zM719.6 1910.6h4.3v29.4h-4.3zM723.9 1910.6h4.3v16.4h-4.3zM728.2 1911.4h4.3v14.7h-4.3zM732.5 1941.7h4.4v3.5h-4.4zM736.9 2026.5h3.4v76.1h-3.4zM740.3 1908.8h3.5v0.9h-3.5zM743.8 1912.3h4.3v136.7h-4.3zM748.1 1909.7h4.8v2.6h-4.8zM752.9 1905.4h3.9v281.6h-3.9zM756.8 1910.6h4.3v6.9h-4.3zM761.1 1908h4.3v19.9h-4.3zM765.4 1905.4h3.5v0.8h-3.5zM768.9 1908h4.3v0.8h-4.3zM773.2 1906.2h3.5v0.9h-3.5zM776.7 1908h4.3v0.8h-4.3zM781 1910.6h3.4v1.7h-3.4zM784.4 1993.6h4.4v1.7h-4.4zM788.8 1906.2h3.4v2.6h-3.4zM792.2 1944.3h4.4v0.9h-4.4zM796.6 1906.2h3.4v2.6h-3.4zM800 1957.3h4.3v1.7h-4.3zM804.3 1906.2h8.8v0.9h-8.8zM813.1 2155.4h3.4v9.5h-3.4zM816.5 2153.6h3.4v7.8h-3.4zM819.9 2180.5h5.2v3.4h-5.2zM825.1 2068h4.3v34.6h-4.3zM829.4 1905.4h6.1v1.7h-6.1zM835.5 1971.1h3.4v5.2h-3.4zM838.9 1908h6.1v0.8h-6.1zM845 2174.4h3.7v1.7h-3.7zM848.7 2157.1h4.3v4.3h-4.3zM853 1978.9h4.3v192.9h-4.3zM857.3 2174.4h3.5v0.9h-3.5zM860.8 2046.4h3.4v19h-3.4zM864.2 2096.6h4.3v4.3h-4.3zM868.5 2180.5h4.4v1.7h-4.4zM872.9 1912.3h3.4v1.7h-3.4zM876.3 1910.6h5.2v1.7h-5.2zM881.5 1908h3.5v0.8h-3.5zM885 1933.9h4.3v1.8h-4.3zM889.3 1905.4h3.8v0.8h-3.8zM893.1 1910.6h4v2.6h-4zM897.1 1908h4.3v2.6h-4.3zM901.4 1907.1h3.5v264.7h-3.5zM904.9 1907.1h4.3v1.7h-4.3zM909.2 1914h3.5v1h-3.5zM912.7 1914h4.3v45.9h-4.3zM917 1909.7h7.8v0.9h-7.8zM924.8 1907.1h4.3v1.7h-4.3zM929.1 1908h4.3v1.7h-4.3zM933.4 1908h6.9v0.8h-6.9zM940.3 1916.6h4.4v260.4h-4.4zM944.7 1915.8h4.3v181.6h-4.3zM949 1906.2h3.5v0.9h-3.5zM952.5 1985h4.3v3.4h-4.3zM956.8 1939.1h4.3v2.6h-4.3zM961.1 1915.8h3.5v2.6h-3.5zM964.6 1912.3h4.3v6.9h-4.3zM968.9 1908h4.5v0.8h-4.5zM973.4 1908.8h4.1v130.7h-4.1zM977.5 1928.7h4.4v73.6h-4.4zM981.9 1907.1h11.2v0.9h-11.2zM993.1 1931.3h4.3v1.8h-4.3zM997.4 1907.1h4.4v57.1h-4.4zM1001.8 1908h4.3v129.7h-4.3zM1006.1 1908h3.4v2.6h-3.4zM1009.5 1907.1h4.4v190.3h-4.4zM1013.9 1908h6.9v279h-6.9zM1020.8 1950.4h4.3v209.3h-4.3zM1025.1 1907.1h4.6v235.3h-4.6zM1029.7 1914h3.8v218h-3.8zM1033.5 1906.2h7.2v1.8h-7.2zM1040.7 1954.7h4.3v2.6h-4.3zM1045 1906.2h7.8v279.5h-7.8zM1052.8 1906.2h3.4v9.6h-3.4zM1056.2 1906.2h1.7v279.5h-1.7zM1057.9 1907.1h4.4v117.7h-4.4zM1062.3 1906.2h3.5v246.6h-3.5zM1065.8 1906.2h8.6v279.5h-8.6zM1074.4 1911.4h5.2v171.3h-5.2zM1079.6 1907.1h6.2v226.7h-6.2zM1085.8 1986.7h3.8v1.7h-3.8zM1089.6 1904.5h4.1v166.1h-4.1zM1093.7 1905.4h4.3v56.2h-4.3zM1098 1905.4h4.3v3.4h-4.3zM1102.3 1905.4h3.5v204.1h-3.5zM1105.8 1908.8h3.9v116h-3.9zM1109.7 1914h3.8v90h-3.8zM1113.5 1905.4h4.8v1.7h-4.8zM1118.3 1905.4h3v281.6h-3zM1121.3 1920.1h3.5v224h-3.5zM1124.8 1905.4h5.2v259.5h-5.2zM1130 1904.5h4v263.9h-4zM1134 1982.4h7.2v41.5h-7.2zM1141.2 1904.5h4.4v0.9h-4.4zM1145.6 2000.5h3.4v10.4h-3.4zM1149 1983.2h4.3v1.8h-4.3zM1153.3 1908h4.4v1.7h-4.4zM1157.7 1925.3h4.3v0.8h-4.3zM1162 1982.4h8v41.5h-8zM1170 1917.5h4.1v120.2h-4.1zM1174.1 1982.4h3.5v41.5h-3.5zM1177.6 1965.9h3.4v87.4h-3.4zM1181 1905.4h4.3v5.2h-4.3zM1185.3 1978h4.4v3.5h-4.4zM1189.7 1905.4h4.3v8.6h-4.3zM1194 1982.4h3.9v41.5h-3.9zM1197.9 1915.8h4.7v102.9h-4.7zM1202.6 1909.7h3.5v147.1h-3.5zM1206.1 1909.7h3.5v211.1h-3.5zM1209.6 1908h4.3v86.5h-4.3zM1213.9 1910.6h4.3v99.4h-4.3zM1218.2 1908h4.4v117.6h-4.4zM1222.6 1907.1h3.4v165.2h-3.4zM1226 1908h3.5v127.1h-3.5zM1229.5 1906.2h4.3v40.7h-4.3zM1233.8 1914h4.3v187.7h-4.3zM1238.1 1917.5h4.1v109h-4.1zM1242.2 1906.2h3.7v227.6h-3.7zM1245.9 1908h5.2v65.7h-5.2zM1251.1 1922.7h6.9v240.5h-6.9zM1258 1981.5h4.3v6.9h-4.3zM1262.3 2005.7h3.5v0.9h-3.5zM1265.8 1921h4.3v5.1h-4.3zM1270.1 2057.6h3.5v0.9h-3.5zM1273.6 1904.5h7.8v66.6h-7.8zM1281.4 2060.2h4.3v36.4h-4.3zM1285.7 1904.5h3.4v1.7h-3.4zM1289.1 1905.4h5.1v8.6h-5.1zM1294.2 1905.4h3.6v264.7h-3.6zM1297.8 1905.4h4.6v281.6h-4.6zM1302.4 1918.4h4.1v246.5h-4.1zM1306.5 1941.7h3.8v219.7h-3.8zM1310.3 1905.4h3.9v1.7h-3.9zM1314.2 1905.4h3.5v89.9h-3.5zM1317.7 1910.6h3.5v1.7h-3.5zM1321.2 1907.1h5.4v1.7h-5.4zM1326.6 1903.4h3v277.3h-3zM1329.6 1910.6h4v219.7h-4zM1333.6 1907h4.4v117.7h-4.4zM1338 1989.8h4.2v10.8h-4.2zM1342.2 1982h7.8v41.5h-7.8zM1350 1903.4h3.6v183.7h-3.6zM1353.6 1904h4.8v6.6h-4.8zM1358.4 1904h3v276.7h-3zM1361.4 1904h4.2v256h-4.2zM1365.6 1904h12.8v276.7h-12.8zM1378.4 1951.4h5.6v2.4h-5.6z"/>
<path fill="#3d6a20" d="M111.1 1992.7h3.4v0.9h-3.4zM114.5 1994.5h4.3v13.8h-4.3zM118.8 1995.3h8.2v3.5h-8.2zM127 1997.1h4v15.5h-4zM131 1998.8h4.3v2.6h-4.3zM135.3 1991h3.4v32h-3.4zM138.7 1913.2h4.4v0.8h-4.4zM143.1 1996.2h4.3v2.6h-4.3zM147.4 1907.1h3.4v6.9h-3.4zM150.8 1946h4.4v1.8h-4.4zM155.2 1912.3h3.4v0.9h-3.4zM158.6 1908.8h3.5v0.9h-3.5zM162.1 1906.2h5.2v0.9h-5.2zM167.3 1974.6h4.2v1.7h-4.2zM171.5 1978h3.5v10.4h-3.5zM175 1997.9h3.5v14.7h-3.5zM178.5 1914h4.4v1.8h-4.4zM182.9 1990.2h3.4v2.5h-3.4zM186.3 1919.2h4.3v0.9h-4.3zM190.6 1997.1h4.4v1.7h-4.4zM195 1981.5h4.3v5.2h-4.3zM199.3 1974.6h3.5v1.7h-3.5zM202.8 1968.5h4.3v61.5h-4.3zM207.1 1994.5h3.4v2.6h-3.4zM210.5 1911.4h4.4v0.9h-4.4zM214.9 1908.8h4.3v2.6h-4.3zM219.2 1911.4h4.3v0.9h-4.3zM223.5 1986.7h3.5v49.3h-3.5zM227 1914.9h4.3v2.6h-4.3zM231.3 1922.7h3.5v1.7h-3.5zM234.8 1924.4h4.3v0.9h-4.3zM239.1 1953h3.4v23.3h-3.4zM242.5 2010h4.4v7.8h-4.4zM246.9 1907.1h5.2v2.6h-5.2zM252.1 1905.4h6.9v1.7h-6.9zM259 1910.6h4.3v5.2h-4.3zM263.3 1913.2h3.5v0.8h-3.5zM266.8 1991.9h4.3v4.3h-4.3zM271.1 1914h4.3v4.4h-4.3zM275.4 1996.2h3.5v2.6h-3.5zM278.9 1914.9h4.3v4.3h-4.3zM283.2 1911.4h5.2v1.8h-5.2zM288.4 1905.4h6.9v1.7h-6.9zM295.3 1955.6h4.3v0.8h-4.3zM299.6 1909.7h7.8v0.9h-7.8zM307.4 1928.7h4.3v6.1h-4.3zM311.7 2002.3h3.5v10.3h-3.5zM315.2 1920.1h4.3v0.9h-4.3zM319.5 1911.4h7.8v0.9h-7.8zM327.3 1995.3h3.5v1.8h-3.5zM330.8 1989.3h4.3v1.7h-4.3zM335.1 1924.4h4.3v5.2h-4.3zM339.4 1915.8h3.5v0.8h-3.5zM342.9 1932.2h4.3v0.9h-4.3zM347.2 1935.7h3.5v6h-3.5zM350.7 1927h4.3v1.7h-4.3zM355 1929.6h0.2v1.7h-0.2zM355.2 1958.1h4.3v2.6h-4.3zM359.5 1989.3h3.5v1.7h-3.5zM363 1997.1h4.3v1.7h-4.3zM367.3 1907.1h3.5v1.7h-3.5zM370.8 1910.6h4.3v2.6h-4.3zM375.1 1910.6h4.3v1.7h-4.3zM379.4 1914h3.5v3.5h-3.5zM382.9 1912.3h4.3v0.9h-4.3zM387.2 1933.1h4.3v0.8h-4.3zM391.5 1983.2h4.3v0.9h-4.3zM395.8 1916.6h4.4v0.9h-4.4zM400.2 1916.6h2.6v19.9h-2.6zM402.8 1905.4h4.3v0.8h-4.3zM407.1 1926.1h4.3v5.2h-4.3zM411.4 1906.2h8.7v1.8h-8.7zM420.1 2180.5h4.3v2.6h-4.3zM424.4 2168.4h3.5v3.4h-3.5zM427.9 2164.9h3.4v2.6h-3.4zM431.3 2175.3h4.3v2.6h-4.3zM435.6 2073.2h4.4v5.2h-4.4zM440 2100h4.3v2.6h-4.3zM447.8 2152.8h4.3v1.7h-4.3zM452.1 2064.5h3.4v1.8h-3.4zM455.5 2171.8h4.4v2.6h-4.4zM459.9 2156.2h4.3v2.6h-4.3zM464.2 1920.1h4.3v0.9h-4.3zM468.5 1960.7h3.5v7h-3.5zM472 1910.6h4.3v3.4h-4.3zM476.3 1915.8h3.5v6h-3.5zM479.8 1985.8h4.3v6.9h-4.3zM484.1 1905.4h4.3v2.6h-4.3zM488.4 1904.5h4.3v5.2h-4.3zM492.7 1905.4h4.4v0.8h-4.4zM497.1 1908h6.9v1.7h-6.9zM504 1959h4.3v5.2h-4.3zM508.3 1912.3h4.3v5.2h-4.3zM512.6 1906.2h3.5v0.9h-3.5zM516.1 1929.6h4.3v8.7h-4.3zM520.4 1909.7h4.3v2.6h-4.3zM524.7 1911.4h3.5v0.9h-3.5zM528.2 1989.3h3.5v0.9h-3.5zM531.7 1920.1h4.3v5.2h-4.3zM536 1920.1h4.3v2.6h-4.3zM540.3 2092.2h2.9v5.2h-2.9zM543.2 2184h11.8v1.7h-11.8zM555 2184h3.5v1.7h-3.5zM558.5 2182h2v3.7h-2zM560.5 1908.8h4v0.9h-4zM564.5 1908.8h7v1.8h-7zM571.5 1908.8h4.3v8.7h-4.3zM575.8 1908.8h7.8v1.8h-7.8zM583.6 1915.8h4.3v1.7h-4.3zM587.9 2019.6h3.4v1.7h-3.4zM591.3 1916.6h4.4v0.9h-4.4zM595.7 2097.4h4.3v1.8h-4.3zM600 1940.8h4.5v4.4h-4.5zM604.5 1912.3h3.5v1.7h-3.5zM608 2145.9h4.3v1.7h-4.3zM612.3 1921h4.2v3.4h-4.2zM616.5 1910.6h4.5v5.2h-4.5zM624.2 1910.6h4.5v0.8h-4.5zM628.7 1927.9h2.6v0.8h-2.6zM631.3 1991.9h5.4v5.2h-5.4zM636.7 1924.4h4.1v0.9h-4.1zM640.8 1927h3.5v23.4h-3.5zM647.8 2100h5.2v13.9h-5.2zM653 2172.7h3.4v2.6h-3.4zM656.4 2158.8h3.5v2.6h-3.5zM659.9 2142.4h4.3v5.2h-4.3zM664.2 2162.3h3.5v6.1h-3.5zM672 2156.2h4.3v3.5h-4.3zM691 2170.1h5.2v10.4h-5.2zM700.8 1966h4.1v0.8h-4.1zM704.9 1950.4h4.3v1.7h-4.3zM709.2 1943.4h4.3v3.5h-4.3zM713.5 1940h3v1.7h-3zM716.5 1919.2h3.1v6.9h-3.1zM719.6 1940h4.3v6.9h-4.3zM723.9 1927h4.3v2.6h-4.3zM728.2 1926.1h4.3v1.8h-4.3zM732.5 1945.2h4.4v5.2h-4.4zM736.9 2102.6h3.4v3.5h-3.4zM740.3 1909.7h3.5v22.5h-3.5zM743.8 2049h4.3v1.7h-4.3zM748.1 1912.3h4.8v0.9h-4.8zM756.8 1917.5h4.3v6h-4.3zM761.1 1927.9h4.3v2.6h-4.3zM765.4 1906.2h3.5v0.9h-3.5zM768.9 1908.8h4.3v1.8h-4.3zM773.2 1907.1h3.5v3.5h-3.5zM776.7 1908.8h4.3v3.5h-4.3zM781 1912.3h3.4v1.7h-3.4zM784.4 1995.3h4.4v5.2h-4.4zM788.8 1908.8h3.4v3.5h-3.4zM792.2 1945.2h4.4v70.9h-4.4zM796.6 1908.8h3.4v2.6h-3.4zM800 1959h4.3v12.1h-4.3zM804.3 1907.1h8.8v1.7h-8.8zM813.1 2164.9h3.4v1.7h-3.4zM816.5 2161.4h3.4v1.8h-3.4zM825.1 2102.6h4.3v1.7h-4.3zM829.4 1907.1h6.1v1.7h-6.1zM835.5 1976.3h3.4v4.3h-3.4zM838.9 1908.8h6.1v0.9h-6.1zM845 2176.1h3.7v0.9h-3.7zM848.7 2161.4h4.3v7h-4.3zM853 2171.8h4.3v2.6h-4.3zM860.8 2065.4h3.4v89.1h-3.4zM864.2 2100.9h4.3v0.8h-4.3zM872.9 1914h3.4v0.9h-3.4zM876.3 1912.3h5.2v1.7h-5.2zM881.5 1908.8h3.5v0.9h-3.5zM885 1935.7h4.3v9.5h-4.3zM889.3 1906.2h3.8v0.9h-3.8zM893.1 1913.2h4v14.7h-4zM897.1 1910.6h4.3v0.8h-4.3zM901.4 2171.8h3.5v5.2h-3.5zM904.9 1908.8h4.3v1.8h-4.3zM909.2 1915h3.5v17.2h-3.5zM912.7 1959.9h4.3v1.1h-4.3zM917 1910.6h7.8v0.8h-7.8zM924.8 1908.8h4.3v1.8h-4.3zM929.1 1909.7h4.3v1.7h-4.3zM933.4 1908.8h6.9v0.9h-6.9zM940.3 2177h4.4v1.7h-4.4zM944.7 2097.4h4.3v1.8h-4.3zM949 1907.1h3.5v0.9h-3.5zM952.5 1988.4h4.3v1.8h-4.3zM956.8 1941.7h4.3v2.6h-4.3zM961.1 1918.4h3.5v2.6h-3.5zM964.6 1919.2h4.3v1.8h-4.3zM968.9 1908.8h4.5v0.9h-4.5zM973.4 2039.5h4.1v0.9h-4.1zM977.5 2002.3h4.4v0.8h-4.4zM981.9 1908h11.2v0.8h-11.2zM993.1 1933.1h4.3v5.2h-4.3zM997.4 1964.2h4.4v0.9h-4.4zM1001.8 2037.7h4.3v0.9h-4.3zM1006.1 1910.6h3.4v1.7h-3.4zM1009.5 2097.4h4.4v0.9h-4.4zM1020.8 2159.7h4.3v5.2h-4.3zM1025.1 2142.4h4.6v1.7h-4.6zM1033.5 1908h7.2v1.7h-7.2zM1040.7 1957.3h4.3v8.6h-4.3zM1057.9 2024.8h4.4v1.7h-4.4zM1062.3 2152.8h3.5v1.7h-3.5zM1074.4 2082.7h5.2v0.9h-5.2zM1079.6 2133.8h6.2v1.7h-6.2zM1085.8 1988.4h3.8v5.2h-3.8zM1089.6 2070.6h4.1v0.9h-4.1zM1093.7 1961.6h4.3v2.6h-4.3zM1098 1908.8h4.3v0.9h-4.3zM1102.3 2109.5h3.5v0.9h-3.5zM1105.8 2024.8h3.9v1.7h-3.9zM1109.7 2004h3.8v1.7h-3.8zM1113.5 1907.1h4.8v0.9h-4.8zM1121.3 2144.1h3.5v1.8h-3.5zM1124.8 2164.9h5.2v2.6h-5.2zM1134 2023.9h7.2v40.6h-7.2zM1141.2 1905.4h4.4v0.8h-4.4zM1145.6 2010.9h3.4v7.8h-3.4zM1149 1985h4.3v1.7h-4.3zM1153.3 1909.7h4.4v0.9h-4.4zM1157.7 1926.1h4.3v10.4h-4.3zM1162 2023.9h8v40.6h-8zM1170 2037.7h4.1v6.1h-4.1zM1174.1 2023.9h3.5v40.6h-3.5zM1177.6 2053.3h3.4v0.9h-3.4zM1181 1910.6h4.3v0.8h-4.3zM1185.3 1981.5h4.4v8.7h-4.4zM1189.7 1914h4.3v1.8h-4.3zM1194 2023.9h3.9v40.6h-3.9zM1197.9 2018.7h4.7v4.3h-4.7zM1202.6 2056.8h3.5v0.8h-3.5zM1206.1 2120.8h3.5v0.8h-3.5zM1209.6 1994.5h4.3v0.8h-4.3zM1213.9 2010h4.3v0.9h-4.3zM1218.2 2025.6h4.4v0.9h-4.4zM1222.6 2072.3h3.4v0.9h-3.4zM1226 2035.1h3.5v0.9h-3.5zM1229.5 1946.9h4.3v0.9h-4.3zM1233.8 2101.7h4.3v2.6h-4.3zM1238.1 2026.5h4.1v2.6h-4.1zM1242.2 2133.8h3.7v20.7h-3.7zM1245.9 1973.7h5.2v0.9h-5.2zM1251.1 2163.2h6.9v0.8h-6.9zM1258 1988.4h4.3v1.8h-4.3zM1262.3 2006.6h3.5v0.9h-3.5zM1265.8 1926.1h4.3v3.5h-4.3zM1270.1 2058.5h3.5v7.8h-3.5zM1273.6 1971.1h7.8v1.8h-7.8zM1281.4 2096.6h4.3v23.3h-4.3zM1285.7 1906.2h3.4v0.9h-3.4zM1289.1 1914h5.1v0.9h-5.1zM1294.2 2170.1h3.6v1.7h-3.6zM1302.4 2164.9h4.1v3.5h-4.1zM1306.5 2161.4h3.8v3.5h-3.8zM1310.3 1907.1h3.9v0.9h-3.9zM1314.2 1995.3h3.5v1.8h-3.5zM1317.7 1912.3h3.5v1.7h-3.5zM1321.2 1908.8h5.4v1.8h-5.4zM1338 2000.6h4.2v4.8h-4.2zM1342.2 2023.5h7.8v41.4h-7.8z"/>
<path fill="#dc6718" d="M111.1 1994.5h3.4v0.8h-3.4zM114.5 2010.9h4.3v2.6h-4.3zM118.8 1999.7h8.2v0.8h-8.2zM127 2013.5h4v0.9h-4zM131 2002.3h4.3v0.8h-4.3zM135.3 2024.8h3.4v0.8h-3.4zM138.7 1924.4h4.4v2.6h-4.4zM143.1 1999.7h4.3v0.8h-4.3zM147.4 1914.9h3.4v1.7h-3.4zM150.8 1948.6h4.4v0.9h-4.4zM155.2 1917.5h3.4v0.9h-3.4zM158.6 1912.3h3.5v0.9h-3.5zM167.3 1978.9h4.2v0.9h-4.2zM171.5 2000.5h3.5v5.2h-3.5zM175 2014.4h3.5v1.7h-3.5zM178.5 1916.6h4.4v0.9h-4.4zM182.9 1995.3h3.4v3.5h-3.4zM186.3 1921h4.3v0.8h-4.3zM190.6 2001.4h4.4v0.9h-4.4zM195 1999.7h4.3v7.8h-4.3zM199.3 1977.2h3.5v0.8h-3.5zM202.8 2031.7h4.3v4.3h-4.3zM207.1 1998.8h3.4v0.9h-3.4zM210.5 1913.2h4.4v0.8h-4.4zM214.9 1921h4.3v1.7h-4.3zM219.2 1930.5h4.3v1.7h-4.3zM223.5 2052.4h3.5v3.5h-3.5zM227 2021.3h4.3v6.1h-4.3zM231.3 2021.3h3.5v5.2h-3.5zM234.8 2032.5h4.3v3.5h-4.3zM239.1 1985h3.4v6.9h-3.4zM242.5 2018.7h4.4v0.9h-4.4zM246.9 1910.6h5.2v0.8h-5.2zM259 1917.5h4.3v0.9h-4.3zM263.3 1934.8h3.5v2.6h-3.5zM266.8 1997.1h4.3v0.8h-4.3zM271.1 1919.2h4.3v0.9h-4.3zM275.4 1999.7h3.5v0.8h-3.5zM278.9 1920.1h4.3v0.9h-4.3zM295.3 1969.4h4.3v1.7h-4.3zM307.4 1936.5h4.3v1.8h-4.3zM311.7 2049h3.5v3.4h-3.5zM315.2 1922.7h4.3v0.8h-4.3zM327.3 1997.9h3.5v0.9h-3.5zM330.8 1997.1h4.3v3.4h-4.3zM335.1 1933.1h4.3v4.3h-4.3zM339.4 2037.7h3.5v0.9h-3.5zM342.9 2025.6h4.3v13h-4.3zM347.2 1942.6h3.5v1.7h-3.5zM350.7 1932.2h4.3v4.3h-4.3zM355 1934.8h0.2v5.2h-0.2zM355.2 1965.1h4.3v1.7h-4.3zM359.5 1991.9h3.5v0.8h-3.5zM363 1999.7h4.3v0.8h-4.3zM367.3 1910.6h3.5v0.8h-3.5zM370.8 1917.5h4.3v3.5h-4.3zM375.1 1915.8h4.3v0.8h-4.3zM379.4 2002.3h3.5v5.2h-3.5zM382.9 1914h4.3v0.9h-4.3zM387.2 1934.8h4.3v0.9h-4.3zM391.5 1985.8h4.3v0.9h-4.3zM395.8 1918.4h4.4v0.8h-4.4zM400.2 1940.8h2.6v13.9h-2.6zM402.8 1907.1h4.3v0.9h-4.3zM407.1 1937.4h4.3v1.7h-4.3zM411.4 1909.7h8.7v0.9h-8.7zM420.1 2184h4.3v1.7h-4.3zM424.4 2173.5h3.5v1.8h-3.5zM427.9 2178.7h3.4v5.2h-3.4zM431.3 2180.5h4.3v3.4h-4.3zM435.6 2108.7h4.4v4.3h-4.4zM440 2106.9h4.3v4.4h-4.3zM447.8 2159.7h4.3v2.6h-4.3zM452.1 2073.2h3.4v2.6h-3.4zM455.5 2178.7h4.4v5.2h-4.4zM459.9 2161.4h4.3v10.4h-4.3zM464.2 2183.9h4.3v3.1h-4.3zM468.5 2162.3h3.5v7.8h-3.5zM472 2183h4.3v4h-4.3zM476.3 2164h3.5v2.6h-3.5zM479.8 2139.8h4.3v5.2h-4.3zM484.1 2183h4.3v4h-4.3zM492.7 2177h4.4v3.5h-4.4zM497.1 2183h6.9v2.7h-6.9zM504 2099.2h4.3v3.4h-4.3zM512.6 2185.7h3.5v1.3h-3.5zM516.1 2100h4.3v9.5h-4.3zM520.4 2182.2h4.3v3.5h-4.3zM524.7 2183h3.5v2.7h-3.5zM528.2 2184h3.5v2.5h-3.5zM531.7 2171h4.3v2.5h-4.3zM536 2106.9h4.3v6.1h-4.3zM540.3 2154.5h2.9v13.9h-2.9zM564.5 2182.2h7v4.8h-7zM571.5 2161.4h4.3v3.5h-4.3zM575.8 2181.4h7.8v5.6h-7.8zM583.6 2161.4h4.3v3.5h-4.3zM587.9 2144.1h3.4v3.5h-3.4zM591.3 2178.7h4.4v8.3h-4.4zM595.7 2178.7h4.3v8.3h-4.3zM600 2168.4h4.5v6.9h-4.5zM604.5 2183h3.5v2.7h-3.5zM608 2183.9h4.3v3.1h-4.3zM612.3 1929.6h4.2v5.2h-4.2zM616.5 1917.5h4.5v1.7h-4.5zM624.2 2117.3h4.5v63.2h-4.5zM628.7 2185.7h2.6v1.3h-2.6zM631.3 2173.5h5.4v5.2h-5.4zM636.7 2182.2h4.1v4.8h-4.1zM640.8 2178.7h3.5v5.2h-3.5zM647.8 2120.8h5.2v6h-5.2zM653 2178.7h3.4v3.5h-3.4zM659.9 2150.2h4.3v3.4h-4.3zM667.7 2180.5h4.3v2.5h-4.3zM672 2168.4h4.3v3.4h-4.3zM700.8 2173.5h4.1v10.4h-4.1zM704.9 2173.5h4.3v12.2h-4.3zM709.2 2071.5h4.3v44.1h-4.3zM713.5 2145.9h3v41.1h-3zM716.5 2180.5h3.1v5.2h-3.1zM719.6 1948.6h4.3v3.5h-4.3zM723.9 1989.3h4.3v2.6h-4.3zM728.2 2136.3h4.3v4.4h-4.3zM732.5 2170.1h4.4v8.6h-4.4zM736.9 2117.3h3.4v4.3h-3.4zM743.8 2080.1h4.3v2.6h-4.3zM748.1 2183.9h4.8v3.1h-4.8zM756.8 2090.5h4.3v1.7h-4.3zM761.1 1931.3h4.3v2.6h-4.3zM765.4 2185.7h3.5v1.3h-3.5zM768.9 2177h4.3v8.7h-4.3zM773.2 1915.8h3.5v1.7h-3.5zM776.7 2174.4h4.3v11.3h-4.3zM781 1922.7h3.4v1.7h-3.4zM792.2 2164.9h4.4v3.5h-4.4zM796.6 2178.7h3.4v3.5h-3.4zM800 1991h4.3v11.3h-4.3zM804.3 2185.7h8.8v1.3h-8.8zM813.1 2185.7h3.4v1.3h-3.4zM816.5 2185.7h3.4v1.3h-3.4zM825.1 2185.7h4.3v1.3h-4.3zM829.4 2185.7h6.1v1.3h-6.1zM835.5 2158.8h3.4v3.5h-3.4zM838.9 2152.8h6.1v1.7h-6.1zM845 2179.6h3.7v2.6h-3.7zM848.7 2171.8h4.3v1.7h-4.3zM853 2176.1h4.3v1.8h-4.3zM857.3 2178.7h3.5v3.5h-3.5zM860.8 2159.7h3.4v5.2h-3.4zM868.5 2183.9h4.4v3.1h-4.4zM872.9 2183h3.4v4h-3.4zM876.3 1915.8h5.2v0.8h-5.2zM881.5 2177h3.5v8.7h-3.5zM885 2067.1h4.3v6.1h-4.3zM893.1 2151.1h4v3.4h-4zM901.4 2181.4h3.5v5.6h-3.5zM904.9 2180.5h4.3v6.5h-4.3zM909.2 2178.7h3.5v8.3h-3.5zM912.7 2178.7h4.3v8.3h-4.3zM917 2183h7.8v4h-7.8zM929.1 2180.5h4.3v3.5h-4.3zM933.4 2184h6.9v3h-6.9zM940.3 2182.2h4.4v4.8h-4.4zM944.7 2167.5h4.3v2.6h-4.3zM949 2185.7h3.5v1.3h-3.5zM956.8 1945.2h4.3v2.6h-4.3zM961.1 1990.2h3.5v5.1h-3.5zM964.6 1922.7h4.3v1.7h-4.3zM968.9 1972h4.5v11.2h-4.5zM973.4 2183h4.1v4h-4.1zM977.5 2184h4.4v3h-4.4zM981.9 2184h11.2v3h-11.2zM993.1 2171.8h4.3v8.7h-4.3zM997.4 2182.2h4.4v4.8h-4.4zM1001.8 2180.5h4.3v6.5h-4.3zM1006.1 2180.5h3.4v6.5h-3.4zM1009.5 2182.2h4.4v4.8h-4.4zM1033.5 2185.7h7.2v1.3h-7.2zM1040.7 2065.4h4.3v27.7h-4.3zM1057.9 2180.5h4.4v6.5h-4.4zM1074.4 2185.7h5.2v1.3h-5.2zM1079.6 2182.2h6.2v4.8h-6.2zM1089.6 2185.7h4.1v1.3h-4.1zM1093.7 2184h4.3v2.5h-4.3zM1098 2178.7h4.3v8.3h-4.3zM1102.3 2177h3.5v10h-3.5zM1105.8 2180.5h3.9v6.5h-3.9zM1109.7 2173.5h3.8v8.7h-3.8zM1121.3 2149.3h3.5v37.7h-3.5zM1124.8 2178.7h5.2v5.2h-5.2zM1134 2105.2h7.2v40.7h-7.2zM1145.6 2026.5h3.4v1.7h-3.4zM1149 1995.3h4.3v1.8h-4.3zM1157.7 1939.1h4.3v1.7h-4.3zM1162 2105.2h8v40.7h-8zM1174.1 2105.2h3.5v40.7h-3.5zM1177.6 2178.7h3.4v8.3h-3.4zM1185.3 1991.9h4.4v1.7h-4.4zM1194 2105.2h3.9v40.7h-3.9zM1197.9 2170.1h4.7v16.9h-4.7zM1202.6 2184h3.5v3h-3.5zM1206.1 2184h3.5v3h-3.5zM1209.6 2175.3h4.3v11.7h-4.3zM1213.9 2166.6h4.3v20.4h-4.3zM1222.6 2178.7h3.4v8.3h-3.4zM1226 2175.3h3.5v11.7h-3.5zM1229.5 2184h4.3v3h-4.3zM1233.8 2171.8h4.3v6.9h-4.3zM1238.1 2175.3h4.1v11.7h-4.1zM1242.2 2161.4h3.7v3.5h-3.7zM1245.9 2184h5.2v3h-5.2zM1251.1 2164.9h6.9v22.1h-6.9zM1258 2180.5h4.3v5.2h-4.3zM1262.3 2180.5h3.5v6.5h-3.5zM1265.8 1941.7h4.3v2.6h-4.3zM1270.1 2082.7h3.5v6.1h-3.5zM1273.6 2184h7.8v3h-7.8zM1281.4 2171.8h4.3v10.4h-4.3zM1285.7 2184h3.4v3h-3.4zM1289.1 2184h5.1v3h-5.1zM1294.2 2178.7h3.6v8.3h-3.6zM1302.4 2178.7h4.1v8.3h-4.1zM1306.5 2177h3.8v10h-3.8zM1310.3 2184h3.9v3h-3.9zM1314.2 2180.5h3.5v6.5h-3.5zM1317.7 2178.7h3.5v8.3h-3.5zM1321.2 2171.8h5.4v15.2h-5.4zM1326.6 2184.3h3v2.7h-3zM1329.6 2180.7h4v3.6h-4zM1338 2009h4.2v2.4h-4.2zM1342.2 2106.3h7.8v40.8h-7.8zM1353.6 2183.1h4.8v1.2h-4.8zM1378.4 1953.8h5.6v226.9h-5.6z"/>
<path fill="#5893dc" d="M111.1 1995.3h3.4v191.7h-3.4zM114.5 2013.5h4.3v173.5h-4.3zM118.8 2000.5h8.2v186.5h-8.2zM127 2014.4h4v172.6h-4zM131 2003.1h4.3v183.9h-4.3zM135.3 2025.6h3.4v161.4h-3.4zM138.7 1927h4.4v260h-4.4zM143.1 2000.5h4.3v186.5h-4.3zM147.4 1916.6h3.4v270.4h-3.4zM150.8 1949.5h4.4v237.5h-4.4zM155.2 1918.4h3.4v268.6h-3.4zM158.6 1913.2h3.5v273.8h-3.5zM162.1 1908h5.2v279h-5.2zM167.3 1979.8h4.2v207.2h-4.2zM171.5 2005.7h3.5v181.3h-3.5zM175 2016.1h3.5v170.9h-3.5zM178.5 1917.5h4.4v269.5h-4.4zM182.9 1998.8h3.4v188.2h-3.4zM186.3 1921.8h4.3v265.2h-4.3zM190.6 2002.3h4.4v184.7h-4.4zM195 2007.5h4.3v179.5h-4.3zM199.3 1978h3.5v209h-3.5zM202.8 2036h4.3v151h-4.3zM207.1 1999.7h3.4v187.3h-3.4zM210.5 1914h4.4v273h-4.4zM214.9 1922.7h4.3v264.3h-4.3zM219.2 1932.2h4.3v254.8h-4.3zM223.5 2055.9h3.5v131.1h-3.5zM227 2027.4h4.3v159.6h-4.3zM231.3 2026.5h3.5v160.5h-3.5zM234.8 2036h4.3v151h-4.3zM239.1 1991.9h3.4v195.1h-3.4zM242.5 2019.6h4.4v167.4h-4.4zM246.9 1911.4h5.2v275.6h-5.2zM252.1 1908h6.9v279h-6.9zM259 1918.4h4.3v268.6h-4.3zM263.3 1937.4h3.5v249.6h-3.5zM266.8 1997.9h4.3v189.1h-4.3zM271.1 1920.1h4.3v266.9h-4.3zM275.4 2000.5h3.5v186.5h-3.5zM278.9 1921h4.3v266h-4.3zM283.2 1914h5.2v273h-5.2zM288.4 1908h6.9v279h-6.9zM295.3 1971.1h4.3v215.9h-4.3zM299.6 1911.4h7.8v275.6h-7.8zM307.4 1938.3h4.3v248.7h-4.3zM311.7 2052.4h3.5v134.6h-3.5zM315.2 1923.5h4.3v263.5h-4.3zM319.5 1913.2h7.8v273.8h-7.8zM327.3 1998.8h3.5v188.2h-3.5zM330.8 2000.5h4.3v186.5h-4.3zM335.1 1937.4h4.3v249.6h-4.3zM339.4 2038.6h3.5v148.4h-3.5zM342.9 2038.6h4.3v148.4h-4.3zM347.2 1944.3h3.5v242.7h-3.5zM350.7 1936.5h4.3v250.5h-4.3zM355 1940h0.2v247h-0.2zM355.2 1966.8h4.3v220.2h-4.3zM359.5 1992.7h3.5v194.3h-3.5zM363 2000.5h4.3v186.5h-4.3zM367.3 1911.4h3.5v275.6h-3.5zM370.8 1921h4.3v266h-4.3zM375.1 1916.6h4.3v270.4h-4.3zM379.4 2007.5h3.5v179.5h-3.5zM382.9 1914.9h4.3v272.1h-4.3zM387.2 1935.7h4.3v251.3h-4.3zM391.5 1986.7h4.3v200.3h-4.3zM395.8 1919.2h4.4v267.8h-4.4zM400.2 1954.7h2.6v232.3h-2.6zM402.8 1908h4.3v279h-4.3zM407.1 1939.1h4.3v247.9h-4.3zM411.4 1910.6h8.7v276.4h-8.7zM420.1 2185.7h4.3v1.3h-4.3zM424.4 2175.3h3.5v11.7h-3.5zM427.9 2183.9h3.4v3.1h-3.4zM431.3 2183.9h4.3v3.1h-4.3zM435.6 2113h4.4v74h-4.4zM440 2111.3h4.3v75.7h-4.3zM447.8 2162.3h4.3v24.7h-4.3zM452.1 2075.8h3.4v111.2h-3.4zM455.5 2183.9h4.4v3.1h-4.4zM459.9 2171.8h4.3v15.2h-4.3zM468.5 2170.1h3.5v16.9h-3.5zM476.3 2166.6h3.5v20.4h-3.5zM479.8 2145h4.3v42h-4.3zM488.4 2133.8h4.3v53.2h-4.3zM492.7 2180.5h4.4v6.5h-4.4zM497.1 2185.7h6.9v1.3h-6.9zM504 2102.6h4.3v84.4h-4.3zM508.3 2114.7h4.3v72.3h-4.3zM516.1 2109.5h4.3v77.5h-4.3zM520.4 2185.7h4.3v1.3h-4.3zM524.7 2185.7h3.5v1.3h-3.5zM528.2 2186.5h3.5v0.5h-3.5zM531.7 2173.5h4.3v13.5h-4.3zM536 2113h4.3v74h-4.3zM540.3 2168.4h2.9v18.6h-2.9zM560.5 1912.3h4v274.7h-4zM571.5 2164.9h4.3v22.1h-4.3zM583.6 2164.9h4.3v22.1h-4.3zM587.9 2147.6h3.4v39.4h-3.4zM600 2175.3h4.5v11.7h-4.5zM604.5 2185.7h3.5v1.3h-3.5zM612.3 1934.8h4.2v252.2h-4.2zM616.5 1919.2h4.5v267.8h-4.5zM624.2 2180.5h4.5v6.5h-4.5zM631.3 2178.7h5.4v8.3h-5.4zM640.8 2183.9h3.5v3.1h-3.5zM644.3 2185.7h3.5v1.3h-3.5zM647.8 2126.8h5.2v60.2h-5.2zM653 2182.2h3.4v4.8h-3.4zM656.4 2168.4h3.5v18.6h-3.5zM659.9 2153.6h4.3v33.4h-4.3zM664.2 2170.1h3.5v16.9h-3.5zM667.7 2183h4.3v4h-4.3zM672 2171.8h4.3v15.2h-4.3zM676.3 2185.7h3.5v1.3h-3.5zM679.8 2171.8h4.3v15.2h-4.3zM684.1 2185.7h6.9v1.3h-6.9zM691 2182.2h5.2v4.8h-5.2zM700.8 2183.9h4.1v3.1h-4.1zM704.9 2185.7h4.3v1.3h-4.3zM709.2 2115.6h4.3v71.4h-4.3zM716.5 2185.7h3.1v1.3h-3.1zM719.6 1952.1h4.3v234.9h-4.3zM723.9 1991.9h4.3v195.1h-4.3zM728.2 2140.7h4.3v46.3h-4.3zM732.5 2178.7h4.4v8.3h-4.4zM736.9 2121.6h3.4v65.4h-3.4zM740.3 2138.9h3.5v48.1h-3.5zM743.8 2082.7h4.3v104.3h-4.3zM756.8 2092.2h4.3v94.8h-4.3zM761.1 1933.9h4.3v253.1h-4.3zM768.9 2185.7h4.3v1.3h-4.3zM773.2 1917.5h3.5v269.5h-3.5zM776.7 2185.7h4.3v1.3h-4.3zM781 1924.4h3.4v262.6h-3.4zM784.4 2003.1h4.4v183.9h-4.4zM792.2 2168.4h4.4v18.6h-4.4zM796.6 2182.2h3.4v4.8h-3.4zM800 2002.3h4.3v184.7h-4.3zM835.5 2162.3h3.4v24.7h-3.4zM838.9 2154.5h6.1v32.5h-6.1zM845 2182.2h3.7v4.8h-3.7zM848.7 2173.5h4.3v13.5h-4.3zM853 2177.9h4.3v9.1h-4.3zM857.3 2182.2h3.5v4.8h-3.5zM860.8 2164.9h3.4v22.1h-3.4zM864.2 2102.6h4.3v84.4h-4.3zM876.3 1916.6h5.2v270.4h-5.2zM881.5 2185.7h3.5v1.3h-3.5zM885 2073.2h4.3v113.8h-4.3zM893.1 2154.5h4v32.5h-4zM897.1 1912.3h4.3v274.7h-4.3zM924.8 1911.4h4.3v275.6h-4.3zM929.1 2184h4.3v3h-4.3zM944.7 2170.1h4.3v16.9h-4.3zM952.5 1997.1h4.3v189.9h-4.3zM956.8 1947.8h4.3v239.2h-4.3zM961.1 1995.3h3.5v191.7h-3.5zM964.6 1924.4h4.3v262.6h-4.3zM968.9 1983.2h4.5v203.8h-4.5zM993.1 2180.5h4.3v6.5h-4.3zM1020.8 2168.4h4.3v18.6h-4.3zM1025.1 2145.9h4.6v41.1h-4.6zM1040.7 2093.1h4.3v93.9h-4.3zM1062.3 2168.4h3.5v18.6h-3.5zM1085.8 1995.3h3.8v191.7h-3.8zM1093.7 2186.5h4.3v0.5h-4.3zM1109.7 2182.2h3.8v4.8h-3.8zM1124.8 2183.9h5.2v3.1h-5.2zM1134 2145.9h7.2v41.1h-7.2zM1141.2 1907.1h4.4v279.9h-4.4zM1145.6 2028.2h3.4v158.8h-3.4zM1149 1997.1h4.3v189.9h-4.3zM1153.3 1912.3h4.4v274.7h-4.4zM1157.7 1940.8h4.3v246.2h-4.3zM1162 2145.9h8v41.1h-8zM1170 2049h4.1v138h-4.1zM1174.1 2145.9h3.5v41.1h-3.5zM1181 1912.3h4.3v274.7h-4.3zM1185.3 1993.6h4.4v193.4h-4.4zM1189.7 1916.6h4.3v270.4h-4.3zM1194 2145.9h3.9v41.1h-3.9zM1218.2 2178.7h4.4v8.3h-4.4zM1233.8 2178.7h4.3v8.3h-4.3zM1242.2 2164.9h3.7v22.1h-3.7zM1258 2185.7h4.3v1.3h-4.3zM1265.8 1944.3h4.3v242.7h-4.3zM1270.1 2088.8h3.5v98.2h-3.5zM1281.4 2182.2h4.3v4.8h-4.3zM1329.6 2184.3h4v2.7h-4zM1338 2011.4h4.2v175.6h-4.2zM1342.2 2147.1h7.8v39.9h-7.8zM1353.6 2184.3h4.8v2.7h-4.8zM1358.4 2184.3h3v2.7h-3zM1361.4 2184.3h4.2v2.7h-4.2zM1365.6 2184.3h12.8v2.7h-12.8zM1378.4 2180.7h5.6v6.3h-5.6z"/>
<rect x="112" y="1901" width="1272" height="286" fill="url(#st)"/>
<path fill="#0a0a14" d="M126.2 1901h1.6v286h-1.6zM170.7 1901h1.6v286h-1.6zM174.2 1901h1.6v286h-1.6zM539.5 1901h1.6v286h-1.6zM542.4 1901h1.6v286h-1.6zM559.7 1901h1.6v286h-1.6zM615.7 1901h1.6v286h-1.6zM623.4 1901h1.6v286h-1.6zM635.9 1901h1.6v286h-1.6zM700 1901h1.6v286h-1.6zM715.7 1901h1.6v286h-1.6zM752.1 1901h1.6v286h-1.6zM756 1901h1.6v286h-1.6zM788 1901h1.6v286h-1.6zM812.3 1901h1.6v286h-1.6zM872.1 1901h1.6v286h-1.6zM892.3 1901h1.6v286h-1.6zM972.6 1901h1.6v286h-1.6zM1008.7 1901h1.6v286h-1.6zM1016.7 1901h1.6v286h-1.6zM1028.9 1901h1.6v286h-1.6zM1032.7 1901h1.6v286h-1.6zM1057.1 1901h1.6v286h-1.6zM1065 1901h1.6v286h-1.6zM1072.6 1901h1.6v286h-1.6zM1081 1901h1.6v286h-1.6zM1085 1901h1.6v286h-1.6zM1088.8 1901h1.6v286h-1.6zM1108.9 1901h1.6v286h-1.6zM1117.5 1901h1.6v286h-1.6zM1120.9 1901h1.6v286h-1.6zM1124.7 1901h1.6v286h-1.6zM1133.2 1901h1.6v286h-1.6zM1169.2 1901h1.6v286h-1.6zM1197.1 1901h1.6v286h-1.6zM1241.4 1901h1.6v286h-1.6zM1245.1 1901h1.6v286h-1.6zM1257.2 1901h1.6v286h-1.6zM1293.4 1901h1.6v286h-1.6zM1301.6 1901h1.6v286h-1.6zM1309.5 1901h1.6v286h-1.6zM1325.8 1901h1.6v286h-1.6zM1333.6 1901h1.6v286h-1.6zM1377.6 1901h1.6v286h-1.6z"/>
<path fill="#000" d="M106 1897H1384V1901H112V2187H1384V2193H106z"/>
<text x="0" y="2061.1" font-size="40" font-weight="bold">K = 7</text>
<rect x="112" y="2206.5" width="1272" height="283.5" fill="#300650"/>
<path fill="#5d9639" d="M111.9 2206.5h2.6v261.4h-2.6zM114.5 2206.5h4.3v256.2h-4.3zM118.8 2206.5h3.5v271.8h-3.5zM122.3 2206.5h4.7v267.5h-4.7zM127 2206.5h7.4v278.7h-7.4zM134.4 2206.5h4.3v257.1h-4.3zM138.7 2206.5h4.4v1.7h-4.4zM143.1 2206.5h4.3v277h-4.3zM147.4 2206.5h3.4v1.7h-3.4zM150.8 2206.5h4.4v123.9h-4.4zM155.2 2206.5h5.2v2.6h-5.2zM160.4 2206.5h3.4v1.7h-3.4zM163.8 2206.5h2.6v1.7h-2.6zM166.4 2206.5h5.1v206h-5.1zM171.5 2206.5h3.5v210.4h-3.5zM175 2206.5h3.5v268.3h-3.5zM178.5 2206.5h4.4v21.8h-4.4zM182.9 2206.5h4.3v222.5h-4.3zM187.2 2206.5h4.3v27h-4.3zM191.5 2206.5h3.5v273.5h-3.5zM195 2206.5h4.3v202.6h-4.3zM199.3 2206.5h3.5v203.4h-3.5zM202.8 2206.5h4.3v140.3h-4.3zM207.1 2206.5h4.3v266.6h-4.3zM211.4 2206.5h4.3v14.9h-4.3zM215.7 2206.5h3.5v7.1h-3.5zM219.2 2206.5h3.4v1.7h-3.4zM222.6 2206.5h4.4v176.6h-4.4zM227 2206.5h4.3v1h-4.3zM231.3 2206.5h3.5v1h-3.5zM234.8 2206.5h4.3v1h-4.3zM239.1 2206.5h4.3v1h-4.3zM243.4 2206.5h4.3v266.6h-4.3zM247.7 2206.5h4.4v1.9h-4.4zM252.1 2206.5h3.4v33h-3.4zM255.5 2206.5h3.5v1h-3.5zM259 2206.5h4.3v8.8h-4.3zM263.3 2206.5h3.5v17.5h-3.5zM266.8 2206.5h4.3v256.2h-4.3zM271.1 2206.5h4.3v30.4h-4.3zM275.4 2206.5h3.5v272.6h-3.5zM278.9 2206.5h4.3v30.4h-4.3zM283.2 2206.5h3.5v13.1h-3.5zM286.7 2206.5h8.6v1h-8.6zM295.3 2206.5h4.3v81.5h-4.3zM299.6 2206.5h7.8v1.9h-7.8zM307.4 2206.5h4.3v38.2h-4.3zM311.7 2206.5h3.5v153.3h-3.5zM315.2 2206.5h4.3v45.1h-4.3zM319.5 2206.5h8.7v1.9h-8.7zM328.2 2206.5h3.4v270.9h-3.4zM331.6 2206.5h4.4v250.1h-4.4zM336 2206.5h3.4v1.9h-3.4zM339.4 2206.5h3.5v1.9h-3.5zM342.9 2206.5h4.3v3.6h-4.3zM347.2 2206.5h3.5v85.8h-3.5zM350.7 2206.5h4.3v7.1h-4.3zM355 2206.5h4.5v152.4h-4.5zM359.5 2206.5h4.3v232.8h-4.3zM363.8 2206.5h3.5v275.2h-3.5zM367.3 2206.5h4.3v1.9h-4.3zM371.6 2206.5h4.4v1.9h-4.4zM376 2206.5h3.4v1.9h-3.4zM379.4 2206.5h4.3v1.9h-4.3zM383.7 2206.5h3.5v1.9h-3.5zM387.2 2206.5h4.3v1.9h-4.3zM391.5 2206.5h4.3v225.1h-4.3zM395.8 2206.5h4.4v1.9h-4.4zM400.2 2206.5h3.4v1.9h-3.4zM403.6 2206.5h4.4v1.9h-4.4zM408 2206.5h3.4v44.3h-3.4zM411.4 2206.5h8.7v1.9h-8.7zM420.1 2206.5h4.3v1.9h-4.3zM424.4 2206.5h3.5v1.9h-3.5zM427.9 2206.5h3.4v1.9h-3.4zM431.3 2206.5h4.3v1.9h-4.3zM435.6 2206.5h4.4v12.3h-4.4zM440 2206.5h4.3v5.3h-4.3zM444.3 2206.5h3.5v1.9h-3.5zM447.8 2206.5h4.3v1.9h-4.3zM452.1 2206.5h3.4v1.9h-3.4zM455.5 2206.5h4.4v1.9h-4.4zM459.9 2206.5h4.3v1.9h-4.3zM464.2 2206.5h4.3v1.9h-4.3zM468.5 2206.5h3.5v9.7h-3.5zM472 2206.5h4.3v4.5h-4.3zM476.3 2206.5h3.5v30.4h-3.5zM479.8 2206.5h4.3v60.7h-4.3zM484.1 2206.5h4.3v1.9h-4.3zM488.4 2206.5h4.3v1.9h-4.3zM492.7 2206.5h4.4v1.9h-4.4zM497.1 2206.5h6.9v1.9h-6.9zM504 2206.5h4.3v1.9h-4.3zM508.3 2206.5h4.3v14h-4.3zM512.6 2206.5h3.5v1.9h-3.5zM516.1 2206.5h4.3v3.6h-4.3zM520.4 2206.5h4.3v1.9h-4.3zM524.7 2206.5h3.5v1.9h-3.5zM528.2 2206.5h3.5v1.9h-3.5zM531.7 2206.5h4.3v39.9h-4.3zM536 2206.5h4.3v12.3h-4.3zM540.3 2206.5h2.9v1.9h-2.9zM543.2 2206.5h4.9v1.9h-4.9zM548.1 2206.5h3.5v1.9h-3.5zM551.6 2206.5h3.4v1.9h-3.4zM555 2206.5h5.5v1.9h-5.5zM560.5 2206.5h4v1.9h-4zM564.5 2206.5h6.1v1.9h-6.1zM570.6 2206.5h4.3v1.9h-4.3zM574.9 2206.5h8.7v1.9h-8.7zM583.6 2206.5h3.4v1.9h-3.4zM587 2206.5h5.2v1.9h-5.2zM592.2 2206.5h3.5v1.9h-3.5zM595.7 2206.5h4.3v1.9h-4.3zM600 2206.5h4.5v7.1h-4.5zM604.5 2206.5h3.5v2.7h-3.5zM608 2206.5h4.3v2.7h-4.3zM612.3 2206.5h4.2v2.7h-4.2zM616.5 2206.5h4.5v1.9h-4.5zM621 2206.5h3.2v1.9h-3.2zM624.2 2206.5h4.5v1.9h-4.5zM628.7 2206.5h2.6v1.9h-2.6zM631.3 2206.5h5.4v1.9h-5.4zM636.7 2206.5h4.1v1.9h-4.1zM640.8 2206.5h3.5v1.9h-3.5zM644.3 2206.5h4.3v1.9h-4.3zM648.6 2206.5h3.5v1.9h-3.5zM652.1 2206.5h4.3v1.9h-4.3zM656.4 2206.5h3.5v1.9h-3.5zM659.9 2206.5h4.3v7.1h-4.3zM664.2 2206.5h3.5v1.9h-3.5zM667.7 2206.5h4.3v1.9h-4.3zM672 2206.5h4.3v1.9h-4.3zM676.3 2206.5h3.5v1.9h-3.5zM679.8 2206.5h4.3v1.9h-4.3zM684.1 2206.5h5.2v1.9h-5.2zM689.3 2206.5h3.4v1.9h-3.4zM692.7 2206.5h3.5v10.5h-3.5zM696.2 2206.5h4.6v1.9h-4.6zM700.8 2206.5h4.1v1.9h-4.1zM704.9 2206.5h4.3v2.7h-4.3zM709.2 2206.5h4.3v2.7h-4.3zM713.5 2206.5h3v1.9h-3zM716.5 2206.5h3.9v1.9h-3.9zM720.4 2206.5h4.4v1.9h-4.4zM724.8 2206.5h4.3v1.9h-4.3zM729.1 2206.5h4.3v1.9h-4.3zM733.4 2206.5h3.5v24.4h-3.5zM736.9 2206.5h4.3v1.9h-4.3zM741.2 2206.5h3.5v24.4h-3.5zM744.7 2206.5h4.3v3.6h-4.3zM749 2206.5h3.9v1.9h-3.9zM752.9 2206.5h3.9v1.9h-3.9zM756.8 2206.5h4.3v1.9h-4.3zM761.1 2206.5h4.3v1.9h-4.3zM765.4 2206.5h3.5v1.9h-3.5zM768.9 2206.5h4.3v1.9h-4.3zM773.2 2206.5h3.5v1.9h-3.5zM776.7 2206.5h4.3v1.9h-4.3zM781 2206.5h3.4v1.9h-3.4zM784.4 2206.5h4.4v264.9h-4.4zM788.8 2206.5h3.4v1.9h-3.4zM792.2 2206.5h4.4v123h-4.4zM796.6 2206.5h3.4v1.9h-3.4zM800 2206.5h4.3v1.9h-4.3zM804.3 2206.5h8.8v1.9h-8.8zM813.1 2206.5h3.4v1.9h-3.4zM816.5 2206.5h3.4v11.4h-3.4zM819.9 2206.5h5.2v1.9h-5.2zM825.1 2206.5h4.3v1.9h-4.3zM829.4 2206.5h4.3v1.9h-4.3zM833.7 2206.5h2.6v1.9h-2.6zM836.3 2206.5h4.4v46.9h-4.4zM840.7 2206.5h4.3v1.9h-4.3zM845 2206.5h4.5v1.9h-4.5zM849.5 2206.5h3.5v1.9h-3.5zM853 2206.5h4.3v1.9h-4.3zM857.3 2206.5h3.5v1.9h-3.5zM860.8 2206.5h3.4v43.4h-3.4zM864.2 2206.5h4.3v1.9h-4.3zM868.5 2206.5h4.4v1.9h-4.4zM872.9 2206.5h3.4v1.9h-3.4zM876.3 2206.5h5.2v1.9h-5.2zM881.5 2206.5h3.5v1.9h-3.5zM885 2206.5h4.3v1.9h-4.3zM889.3 2206.5h3.8v1.9h-3.8zM893.1 2206.5h4v1.9h-4zM897.1 2206.5h4.3v1.9h-4.3zM901.4 2206.5h3.5v1.9h-3.5zM904.9 2206.5h4.3v1.9h-4.3zM909.2 2206.5h4.3v1.9h-4.3zM913.5 2206.5h3.5v1.9h-3.5zM917 2206.5h4.3v1.9h-4.3zM921.3 2206.5h3.5v1.9h-3.5zM924.8 2206.5h4.3v1.9h-4.3zM929.1 2206.5h4.3v1.9h-4.3zM933.4 2206.5h7.8v1.9h-7.8zM941.2 2206.5h3.5v1.9h-3.5zM944.7 2206.5h4.3v1.9h-4.3zM949 2206.5h3.5v1.9h-3.5zM952.5 2206.5h4.3v237.2h-4.3zM956.8 2206.5h4.3v1.9h-4.3zM961.1 2206.5h3.5v1.9h-3.5zM964.6 2206.5h4.3v1.9h-4.3zM968.9 2206.5h4.5v1.9h-4.5zM973.4 2206.5h4.1v1.9h-4.1zM977.5 2206.5h4.4v1.9h-4.4zM981.9 2206.5h11.2v1.9h-11.2zM993.1 2206.5h4.3v10.5h-4.3zM997.4 2206.5h4.4v1.9h-4.4zM1001.8 2206.5h4.3v1.9h-4.3zM1006.1 2206.5h3.4v1.9h-3.4zM1009.5 2206.5h4.4v1.9h-4.4zM1013.9 2206.5h6.9v1.9h-6.9zM1020.8 2206.5h4.3v1.9h-4.3zM1025.1 2206.5h4.6v1.9h-4.6zM1029.7 2206.5h3.8v1.9h-3.8zM1033.5 2206.5h7.2v1.9h-7.2zM1040.7 2206.5h4.3v135.1h-4.3zM1045 2206.5h7.8v1.9h-7.8zM1052.8 2206.5h5.1v1.9h-5.1zM1057.9 2206.5h3.5v1.9h-3.5zM1061.4 2206.5h4.4v14h-4.4zM1065.8 2206.5h8.6v1.9h-8.6zM1074.4 2206.5h5.2v1.9h-5.2zM1079.6 2206.5h6.2v1.9h-6.2zM1085.8 2206.5h3.8v251h-3.8zM1089.6 2206.5h4.1v1.9h-4.1zM1093.7 2206.5h4.3v1.9h-4.3zM1098 2206.5h4.3v1.9h-4.3zM1102.3 2206.5h3.5v1.9h-3.5zM1105.8 2206.5h3.9v1.9h-3.9zM1109.7 2206.5h3.8v15.7h-3.8zM1113.5 2206.5h4.8v1.9h-4.8zM1118.3 2206.5h3v1.9h-3zM1121.3 2206.5h3.5v1.9h-3.5zM1124.8 2206.5h4.3v1.9h-4.3zM1129.1 2206.5h4.9v1.9h-4.9zM1134 2206.5h7.2v36.5h-7.2zM1141.2 2206.5h3.5v3.6h-3.5zM1144.7 2206.5h4.3v228.5h-4.3zM1149 2206.5h4.3v229.4h-4.3zM1153.3 2206.5h4.4v7.9h-4.4zM1157.7 2206.5h4.3v18.3h-4.3zM1162 2206.5h8v36.5h-8zM1170 2206.5h4.1v1.9h-4.1zM1174.1 2206.5h3.5v36.5h-3.5zM1177.6 2206.5h3.4v3.6h-3.4zM1181 2206.5h4.3v1.9h-4.3zM1185.3 2206.5h4.4v188.7h-4.4zM1189.7 2206.5h4.3v8.8h-4.3zM1194 2206.5h3.9v36.5h-3.9zM1197.9 2206.5h4.7v1.9h-4.7zM1202.6 2206.5h3.5v1.9h-3.5zM1206.1 2206.5h4.3v1.9h-4.3zM1210.4 2206.5h3.5v1.9h-3.5zM1213.9 2206.5h4.3v1.9h-4.3zM1218.2 2206.5h4.4v1.9h-4.4zM1222.6 2206.5h3.4v1.9h-3.4zM1226 2206.5h3.5v1.9h-3.5zM1229.5 2206.5h4.3v1.9h-4.3zM1233.8 2206.5h4.3v1.9h-4.3zM1238.1 2206.5h4.1v1.9h-4.1zM1242.2 2206.5h3.7v1.9h-3.7zM1245.9 2206.5h5.2v1.9h-5.2zM1251.1 2206.5h6.9v1.9h-6.9zM1258 2206.5h4.3v1.9h-4.3zM1262.3 2206.5h3.5v1.9h-3.5zM1265.8 2206.5h4.3v10.5h-4.3zM1270.1 2206.5h3.5v153.3h-3.5zM1273.6 2206.5h7.8v1.9h-7.8zM1281.4 2206.5h4.3v1.9h-4.3zM1285.7 2206.5h3.4v1.9h-3.4zM1289.1 2206.5h5.1v1.9h-5.1zM1294.2 2206.5h3.6v1.9h-3.6zM1297.8 2206.5h4.6v1.9h-4.6zM1302.4 2206.5h4.1v1.9h-4.1zM1306.5 2206.5h3.8v1.9h-3.8zM1310.3 2206.5h3.9v1.9h-3.9zM1314.2 2206.5h3.5v1.9h-3.5zM1317.7 2206.5h3.5v1.9h-3.5zM1321.2 2206.5h5.4v1.9h-5.4zM1326.6 2206.5h3.6v1.1h-3.6zM1330.2 2206.5h4.2v1.1h-4.2zM1334.4 2206.5h3.6v1.1h-3.6zM1338 2206.5h4.2v261.6h-4.2zM1342.2 2206.5h7.8v35.3h-7.8zM1350 2206.5h3.6v1.1h-3.6zM1353.6 2206.5h4.8v1.1h-4.8zM1358.4 2206.5h3.6v1.1h-3.6zM1362 2206.5h3.6v1.1h-3.6zM1365.6 2206.5h4.2v1.1h-4.2zM1369.8 2206.5h8.6v1.1h-8.6zM1378.4 2206.5h5.6v4.7h-5.6z"/>
<path fill="#d90247" d="M111.9 2467.9h2.6v0.9h-2.6zM114.5 2462.7h4.3v2.6h-4.3zM118.8 2478.3h3.5v0.8h-3.5zM122.3 2474h4.7v0.8h-4.7zM127 2485.2h7.4v0.8h-7.4zM134.4 2463.6h4.3v1.7h-4.3zM138.7 2208.2h4.4v0.9h-4.4zM143.1 2483.5h4.3v0.8h-4.3zM147.4 2208.2h3.4v1.7h-3.4zM150.8 2330.4h4.4v1.7h-4.4zM155.2 2209.1h5.2v1.7h-5.2zM160.4 2208.2h3.4v1.7h-3.4zM163.8 2208.2h2.6v1.7h-2.6zM166.4 2412.5h5.1v1.7h-5.1zM171.5 2416.9h3.5v1.7h-3.5zM175 2474.8h3.5v0.9h-3.5zM178.5 2228.3h4.4v1.7h-4.4zM182.9 2429h4.3v1.7h-4.3zM187.2 2233.5h4.3v0.8h-4.3zM191.5 2480h3.5v1.7h-3.5zM195 2409.1h4.3v6.9h-4.3zM199.3 2409.9h3.5v1.8h-3.5zM202.8 2346.8h4.3v2.6h-4.3zM207.1 2473.1h4.3v1.7h-4.3zM211.4 2221.4h4.3v0.8h-4.3zM215.7 2213.6h3.5v0.8h-3.5zM219.2 2208.2h3.4v1.7h-3.4zM222.6 2383.1h4.4v6.1h-4.4zM227 2207.5h4.3v7.8h-4.3zM231.3 2207.5h3.5v6.9h-3.5zM234.8 2207.5h4.3v14.7h-4.3zM239.1 2207.5h4.3v23.4h-4.3zM243.4 2473.1h4.3v1.7h-4.3zM247.7 2208.4h4.4v1.7h-4.4zM252.1 2239.5h3.4v1.8h-3.4zM255.5 2207.5h3.5v1.7h-3.5zM259 2215.3h4.3v1.7h-4.3zM263.3 2224h3.5v1.7h-3.5zM266.8 2462.7h4.3v1.7h-4.3zM271.1 2236.9h4.3v1.8h-4.3zM275.4 2479.1h3.5v1.8h-3.5zM278.9 2236.9h4.3v0.9h-4.3zM283.2 2219.6h3.5v0.9h-3.5zM286.7 2207.5h8.6v1.7h-8.6zM295.3 2288h4.3v1.7h-4.3zM299.6 2208.4h7.8v1.7h-7.8zM307.4 2244.7h4.3v1.7h-4.3zM311.7 2359.8h3.5v31.1h-3.5zM315.2 2251.6h4.3v1.8h-4.3zM319.5 2208.4h8.7v1.7h-8.7zM328.2 2477.4h3.4v0.9h-3.4zM331.6 2456.6h4.4v1.8h-4.4zM336 2208.4h3.4v1.7h-3.4zM339.4 2208.4h3.5v1.7h-3.5zM342.9 2210.1h4.3v46.7h-4.3zM347.2 2292.3h3.5v1.7h-3.5zM350.7 2213.6h4.3v1.7h-4.3zM355 2358.9h4.5v3.5h-4.5zM359.5 2439.3h4.3v3.5h-4.3zM363.8 2481.7h3.5v0.9h-3.5zM367.3 2208.4h4.3v1.7h-4.3zM371.6 2208.4h4.4v3.4h-4.4zM376 2208.4h3.4v3.4h-3.4zM379.4 2208.4h4.3v3.4h-4.3zM383.7 2208.4h3.5v8.6h-3.5zM387.2 2208.4h4.3v3.4h-4.3zM391.5 2431.6h4.3v2.6h-4.3zM395.8 2208.4h4.4v3.4h-4.4zM400.2 2208.4h3.4v3.4h-3.4zM403.6 2208.4h4.4v4.3h-4.4zM408 2250.8h3.4v2.6h-3.4zM411.4 2208.4h8.7v2.6h-8.7zM420.1 2208.4h4.3v2.6h-4.3zM424.4 2208.4h3.5v2.6h-3.5zM427.9 2208.4h3.4v19h-3.4zM431.3 2208.4h4.3v2.6h-4.3zM435.6 2218.8h4.4v22.5h-4.4zM440 2211.8h4.3v1.8h-4.3zM444.3 2208.4h3.5v1.7h-3.5zM447.8 2208.4h4.3v2.6h-4.3zM452.1 2208.4h3.4v3.4h-3.4zM455.5 2208.4h4.4v3.4h-4.4zM459.9 2208.4h4.3v3.4h-4.3zM464.2 2208.4h4.3v6.9h-4.3zM468.5 2216.2h3.5v54.5h-3.5zM472 2211h4.3v2.6h-4.3zM476.3 2236.9h3.5v3.5h-3.5zM479.8 2267.2h4.3v51h-4.3zM484.1 2208.4h4.3v3.4h-4.3zM488.4 2208.4h4.3v3.4h-4.3zM492.7 2208.4h4.4v2.6h-4.4zM497.1 2208.4h6.9v3.4h-6.9zM504 2208.4h4.3v3.4h-4.3zM508.3 2220.5h4.3v3.5h-4.3zM512.6 2208.4h3.5v1.7h-3.5zM516.1 2210.1h4.3v31.2h-4.3zM520.4 2208.4h4.3v3.4h-4.3zM524.7 2208.4h3.5v4.3h-3.5zM528.2 2208.4h3.5v2.6h-3.5zM531.7 2246.4h4.3v1.8h-4.3zM536 2218.8h4.3v3.4h-4.3zM540.3 2208.4h2.9v6.9h-2.9zM543.2 2208.4h4.9v2.6h-4.9zM548.1 2208.4h3.5v2.6h-3.5zM551.6 2208.4h3.4v2.6h-3.4zM555 2208.4h5.5v2.6h-5.5zM560.5 2208.4h4v3.4h-4zM564.5 2208.4h6.1v3.4h-6.1zM570.6 2208.4h4.3v3.4h-4.3zM574.9 2208.4h8.7v3.4h-8.7zM583.6 2208.4h3.4v3.4h-3.4zM587 2208.4h5.2v3.4h-5.2zM592.2 2208.4h3.5v3.4h-3.5zM595.7 2208.4h4.3v13.8h-4.3zM600 2213.6h4.5v27.7h-4.5zM604.5 2209.2h3.5v2.6h-3.5zM608 2209.2h4.3v2.6h-4.3zM612.3 2209.2h4.2v2.6h-4.2zM616.5 2208.4h4.5v2.6h-4.5zM621 2208.4h3.2v2.6h-3.2zM624.2 2208.4h4.5v10.4h-4.5zM628.7 2208.4h2.6v3.4h-2.6zM631.3 2208.4h5.4v12.1h-5.4zM636.7 2208.4h4.1v1.7h-4.1zM640.8 2208.4h3.5v19h-3.5zM644.3 2208.4h4.3v1.7h-4.3zM648.6 2208.4h3.5v5.2h-3.5zM652.1 2208.4h4.3v1.7h-4.3zM656.4 2208.4h3.5v1.7h-3.5zM659.9 2213.6h4.3v1.7h-4.3zM664.2 2208.4h3.5v1.7h-3.5zM667.7 2208.4h4.3v2.6h-4.3zM672 2208.4h4.3v1.7h-4.3zM676.3 2208.4h3.5v1.7h-3.5zM679.8 2208.4h4.3v1.7h-4.3zM684.1 2208.4h5.2v1.7h-5.2zM689.3 2208.4h3.4v1.7h-3.4zM692.7 2217h3.5v1.8h-3.5zM696.2 2208.4h4.6v1.7h-4.6zM700.8 2208.4h4.1v65.7h-4.1zM704.9 2209.2h4.3v59.7h-4.3zM709.2 2209.2h4.3v47.6h-4.3zM713.5 2208.4h3v10.4h-3zM716.5 2208.4h3.9v1.7h-3.9zM720.4 2208.4h4.4v5.2h-4.4zM724.8 2208.4h4.3v6h-4.3zM729.1 2208.4h4.3v3.4h-4.3zM733.4 2230.9h3.5v44.1h-3.5zM736.9 2208.4h4.3v1.7h-4.3zM741.2 2230.9h3.5v0.8h-3.5zM744.7 2210.1h4.3v1.7h-4.3zM749 2208.4h3.9v2.6h-3.9zM752.9 2208.4h3.9v1.7h-3.9zM756.8 2208.4h4.3v2.6h-4.3zM761.1 2208.4h4.3v2.6h-4.3zM765.4 2208.4h3.5v1.7h-3.5zM768.9 2208.4h4.3v5.2h-4.3zM773.2 2208.4h3.5v5.2h-3.5zM776.7 2208.4h4.3v2.6h-4.3zM781 2208.4h3.4v5.2h-3.4zM784.4 2471.4h4.4v1.7h-4.4zM788.8 2208.4h3.4v2.6h-3.4zM792.2 2329.5h4.4v1.7h-4.4zM796.6 2208.4h3.4v3.4h-3.4zM800 2208.4h4.3v53.6h-4.3zM804.3 2208.4h8.8v2.6h-8.8zM813.1 2208.4h3.4v1.7h-3.4zM816.5 2217.9h3.4v1.7h-3.4zM819.9 2208.4h5.2v1.7h-5.2zM825.1 2208.4h4.3v1.7h-4.3zM829.4 2208.4h4.3v1.7h-4.3zM833.7 2208.4h2.6v2.6h-2.6zM836.3 2253.4h4.4v57.1h-4.4zM840.7 2208.4h4.3v3.4h-4.3zM845 2208.4h4.5v2.6h-4.5zM849.5 2208.4h3.5v2.6h-3.5zM853 2208.4h4.3v2.6h-4.3zM857.3 2208.4h3.5v2.6h-3.5zM860.8 2249.9h3.4v10.4h-3.4zM864.2 2208.4h4.3v2.6h-4.3zM868.5 2208.4h4.4v2.6h-4.4zM872.9 2208.4h3.4v6.9h-3.4zM876.3 2208.4h5.2v5.2h-5.2zM881.5 2208.4h3.5v3.4h-3.5zM885 2208.4h4.3v3.4h-4.3zM889.3 2208.4h3.8v1.7h-3.8zM893.1 2208.4h4v6.9h-4zM897.1 2208.4h4.3v3.4h-4.3zM901.4 2208.4h3.5v3.4h-3.5zM904.9 2208.4h4.3v3.4h-4.3zM909.2 2208.4h4.3v19h-4.3zM913.5 2208.4h3.5v6.9h-3.5zM917 2208.4h4.3v3.4h-4.3zM921.3 2208.4h3.5v2.6h-3.5zM924.8 2208.4h4.3v2.6h-4.3zM929.1 2208.4h4.3v3.4h-4.3zM933.4 2208.4h7.8v3.4h-7.8zM941.2 2208.4h3.5v6.9h-3.5zM944.7 2208.4h4.3v15.6h-4.3zM949 2208.4h3.5v2.6h-3.5zM952.5 2443.7h4.3v1.7h-4.3zM956.8 2208.4h4.3v1.7h-4.3zM961.1 2208.4h3.5v10.4h-3.5zM964.6 2208.4h4.3v5.2h-4.3zM968.9 2208.4h4.5v1.7h-4.5zM973.4 2208.4h4.1v3.4h-4.1zM977.5 2208.4h4.4v3.4h-4.4zM981.9 2208.4h11.2v2.6h-11.2zM993.1 2217h4.3v41.6h-4.3zM997.4 2208.4h4.4v3.4h-4.4zM1001.8 2208.4h4.3v3.4h-4.3zM1006.1 2208.4h3.4v3.4h-3.4zM1009.5 2208.4h4.4v2.6h-4.4zM1013.9 2208.4h6.9v1.7h-6.9zM1020.8 2208.4h4.3v1.7h-4.3zM1025.1 2208.4h4.6v1.7h-4.6zM1029.7 2208.4h3.8v1.7h-3.8zM1033.5 2208.4h7.2v2.6h-7.2zM1040.7 2341.6h4.3v2.6h-4.3zM1045 2208.4h7.8v2.6h-7.8zM1052.8 2208.4h5.1v2.6h-5.1zM1057.9 2208.4h3.5v2.6h-3.5zM1061.4 2220.5h4.4v1.7h-4.4zM1065.8 2208.4h8.6v1.7h-8.6zM1074.4 2208.4h5.2v2.6h-5.2zM1079.6 2208.4h6.2v1.7h-6.2zM1085.8 2457.5h3.8v1.7h-3.8zM1089.6 2208.4h4.1v1.7h-4.1zM1093.7 2208.4h4.3v2.6h-4.3zM1098 2208.4h4.3v2.6h-4.3zM1102.3 2208.4h3.5v2.6h-3.5zM1105.8 2208.4h3.9v2.6h-3.9zM1109.7 2222.2h3.8v6.9h-3.8zM1113.5 2208.4h4.8v3.4h-4.8zM1118.3 2208.4h3v3.4h-3zM1121.3 2208.4h3.5v13.8h-3.5zM1124.8 2208.4h4.3v3.4h-4.3zM1129.1 2208.4h4.9v3.4h-4.9zM1134 2243h7.2v34.6h-7.2zM1141.2 2210.1h3.5v1.7h-3.5zM1144.7 2435h4.3v4.3h-4.3zM1149 2435.9h4.3v1.7h-4.3zM1153.3 2214.4h4.4v1.8h-4.4zM1157.7 2224.8h4.3v2.6h-4.3zM1162 2243h8v34.6h-8zM1170 2208.4h4.1v10.4h-4.1zM1174.1 2243h3.5v34.6h-3.5zM1177.6 2210.1h3.4v5.2h-3.4zM1181 2208.4h4.3v5.2h-4.3zM1185.3 2395.2h4.4v1.8h-4.4zM1189.7 2215.3h4.3v1.7h-4.3zM1194 2243h3.9v34.6h-3.9zM1197.9 2208.4h4.7v12.1h-4.7zM1202.6 2208.4h3.5v6.9h-3.5zM1206.1 2208.4h4.3v8.6h-4.3zM1210.4 2208.4h3.5v6.9h-3.5zM1213.9 2208.4h4.3v5.2h-4.3zM1218.2 2208.4h4.4v5.2h-4.4zM1222.6 2208.4h3.4v4.3h-3.4zM1226 2208.4h3.5v5.2h-3.5zM1229.5 2208.4h4.3v5.2h-4.3zM1233.8 2208.4h4.3v3.4h-4.3zM1238.1 2208.4h4.1v3.4h-4.1zM1242.2 2208.4h3.7v8.6h-3.7zM1245.9 2208.4h5.2v3.4h-5.2zM1251.1 2208.4h6.9v3.4h-6.9zM1258 2208.4h4.3v93.4h-4.3zM1262.3 2208.4h3.5v10.4h-3.5zM1265.8 2217h4.3v1.8h-4.3zM1270.1 2359.8h3.5v10.3h-3.5zM1273.6 2208.4h7.8v3.4h-7.8zM1281.4 2208.4h4.3v224h-4.3zM1285.7 2208.4h3.4v3.4h-3.4zM1289.1 2208.4h5.1v3.4h-5.1zM1294.2 2208.4h3.6v3.4h-3.6zM1297.8 2208.4h4.6v3.4h-4.6zM1302.4 2208.4h4.1v19h-4.1zM1306.5 2208.4h3.8v36.3h-3.8zM1310.3 2208.4h3.9v3.4h-3.9zM1314.2 2208.4h3.5v6.9h-3.5zM1317.7 2208.4h3.5v3.4h-3.5zM1321.2 2208.4h5.4v3.4h-5.4zM1326.6 2207.6h3.6v2.4h-3.6zM1330.2 2207.6h4.2v3.6h-4.2zM1334.4 2207.6h3.6v6h-3.6zM1338 2468.1h4.2v1.2h-4.2zM1342.2 2241.8h7.8v35.4h-7.8zM1350 2207.6h3.6v3.6h-3.6zM1353.6 2207.6h4.8v3.6h-4.8zM1358.4 2207.6h3.6v3.6h-3.6zM1362 2207.6h3.6v3.6h-3.6zM1365.6 2207.6h4.2v3.6h-4.2zM1369.8 2207.6h8.6v3.6h-8.6zM1378.4 2211.2h5.6v46.8h-5.6z"/>
<path fill="#e8b0b3" d="M111.9 2468.8h2.6v1.7h-2.6zM114.5 2465.3h4.3v5.2h-4.3zM118.8 2479.1h3.5v0.9h-3.5zM122.3 2474.8h4.7v1.8h-4.7zM127 2486h7.4v0.9h-7.4zM134.4 2465.3h4.3v2.6h-4.3zM138.7 2209.1h4.4v2.5h-4.4zM143.1 2484.3h4.3v0.9h-4.3zM147.4 2209.9h3.4v0.9h-3.4zM150.8 2332.1h4.4v0.8h-4.4zM155.2 2210.8h5.2v0.8h-5.2zM160.4 2209.9h3.4v1.7h-3.4zM163.8 2209.9h2.6v1.7h-2.6zM166.4 2414.2h5.1v1.7h-5.1zM171.5 2418.6h3.5v4.3h-3.5zM175 2475.7h3.5v2.6h-3.5zM178.5 2230h4.4v3.5h-4.4zM182.9 2430.7h4.3v9.5h-4.3zM187.2 2234.3h4.3v0.9h-4.3zM191.5 2481.7h3.5v0.9h-3.5zM195 2416h4.3v6.9h-4.3zM199.3 2411.7h3.5v1.7h-3.5zM202.8 2349.4h4.3v18.1h-4.3zM207.1 2474.8h4.3v0.9h-4.3zM211.4 2222.2h4.3v1.8h-4.3zM215.7 2214.4h3.5v2.6h-3.5zM219.2 2209.9h3.4v1.7h-3.4zM222.6 2389.2h4.4v18.1h-4.4zM227 2215.3h4.3v1.7h-4.3zM231.3 2214.4h3.5v5.2h-3.5zM234.8 2222.2h4.3v6.1h-4.3zM239.1 2230.9h4.3v8.6h-4.3zM243.4 2474.8h4.3v2.6h-4.3zM247.7 2210.1h4.4v1.7h-4.4zM252.1 2241.3h3.4v0.8h-3.4zM255.5 2209.2h3.5v1.8h-3.5zM259 2217h4.3v0.9h-4.3zM263.3 2225.7h3.5v1.7h-3.5zM266.8 2464.4h4.3v0.9h-4.3zM271.1 2238.7h4.3v1.7h-4.3zM275.4 2480.9h3.5v0.8h-3.5zM278.9 2237.8h4.3v2.6h-4.3zM283.2 2220.5h3.5v7.8h-3.5zM286.7 2209.2h8.6v0.9h-8.6zM295.3 2289.7h4.3v19h-4.3zM299.6 2210.1h7.8v0.9h-7.8zM307.4 2246.4h4.3v6.1h-4.3zM311.7 2390.9h3.5v2.6h-3.5zM315.2 2253.4h4.3v0.8h-4.3zM319.5 2210.1h8.7v0.9h-8.7zM328.2 2478.3h3.4v0.8h-3.4zM331.6 2458.4h4.4v1.7h-4.4zM336 2210.1h3.4v5.2h-3.4zM339.4 2210.1h3.5v1.7h-3.5zM342.9 2256.8h4.3v2.6h-4.3zM347.2 2294h3.5v1.8h-3.5zM350.7 2215.3h4.3v31.1h-4.3zM355 2362.4h4.5v2.6h-4.5zM359.5 2442.8h4.3v4.3h-4.3zM363.8 2482.6h3.5v0.9h-3.5zM367.3 2210.1h4.3v2.6h-4.3zM371.6 2211.8h4.4v3.5h-4.4zM376 2211.8h3.4v3.5h-3.4zM379.4 2211.8h4.3v5.2h-4.3zM383.7 2217h3.5v5.2h-3.5zM387.2 2211.8h4.3v19.1h-4.3zM391.5 2434.2h4.3v2.6h-4.3zM395.8 2211.8h4.4v3.5h-4.4zM400.2 2211.8h3.4v2.6h-3.4zM403.6 2212.7h4.4v2.6h-4.4zM408 2253.4h3.4v5.2h-3.4zM411.4 2211h8.7v2.6h-8.7zM420.1 2211h4.3v15.5h-4.3zM424.4 2211h3.5v23.3h-3.5zM427.9 2227.4h3.4v4.3h-3.4zM431.3 2211h4.3v177.3h-4.3zM435.6 2241.3h4.4v25.9h-4.4zM440 2213.6h4.3v83h-4.3zM444.3 2210.1h3.5v83.1h-3.5zM447.8 2211h4.3v255.2h-4.3zM452.1 2211.8h3.4v157.5h-3.4zM455.5 2211.8h4.4v228.4h-4.4zM459.9 2211.8h4.3v246.6h-4.3zM464.2 2215.3h4.3v1.7h-4.3zM468.5 2270.7h3.5v4.3h-3.5zM472 2213.6h4.3v2.6h-4.3zM476.3 2240.4h3.5v1.7h-3.5zM479.8 2318.2h4.3v8.7h-4.3zM484.1 2211.8h4.3v12.2h-4.3zM488.4 2211.8h4.3v1.8h-4.3zM492.7 2211h4.4v1.7h-4.4zM497.1 2211.8h6.9v1.8h-6.9zM504 2211.8h4.3v57.1h-4.3zM508.3 2224h4.3v6.9h-4.3zM512.6 2210.1h3.5v0.9h-3.5zM516.1 2241.3h4.3v3.4h-4.3zM520.4 2211.8h4.3v3.5h-4.3zM524.7 2212.7h3.5v7.8h-3.5zM528.2 2211h3.5v73.5h-3.5zM531.7 2248.2h4.3v1.7h-4.3zM536 2222.2h4.3v10.4h-4.3zM540.3 2215.3h2.9v26.8h-2.9zM543.2 2211h4.9v96h-4.9zM548.1 2211h3.5v85.6h-3.5zM551.6 2211h3.4v94.3h-3.4zM555 2211h5.5v165.2h-5.5zM560.5 2211.8h4v3.5h-4zM564.5 2211.8h6.1v3.5h-6.1zM570.6 2211.8h4.3v13.9h-4.3zM574.9 2211.8h8.7v1.8h-8.7zM583.6 2211.8h3.4v16.5h-3.4zM587 2211.8h5.2v24.3h-5.2zM592.2 2211.8h3.5v1.8h-3.5zM595.7 2222.2h4.3v180h-4.3zM600 2241.3h4.5v6.9h-4.5zM604.5 2211.8h3.5v1.8h-3.5zM608 2211.8h4.3v207.7h-4.3zM612.3 2211.8h4.2v10.4h-4.2zM616.5 2211h4.5v2.6h-4.5zM621 2211h3.2v92.5h-3.2zM624.2 2218.8h4.5v1.7h-4.5zM628.7 2211.8h2.6v23.4h-2.6zM631.3 2220.5h5.4v90.8h-5.4zM636.7 2210.1h4.1v89.1h-4.1zM640.8 2227.4h3.5v4.3h-3.5zM644.3 2210.1h4.3v109h-4.3zM648.6 2213.6h3.5v78.7h-3.5zM652.1 2210.1h4.3v77.9h-4.3zM656.4 2210.1h3.5v84.8h-3.5zM659.9 2215.3h4.3v83h-4.3zM664.2 2210.1h3.5v141.9h-3.5zM667.7 2211h4.3v60.5h-4.3zM672 2210.1h4.3v78.7h-4.3zM676.3 2210.1h3.5v44.1h-3.5zM679.8 2210.1h4.3v88.2h-4.3zM684.1 2210.1h5.2v92.6h-5.2zM689.3 2210.1h3.4v6.9h-3.4zM692.7 2218.8h3.5v76.9h-3.5zM696.2 2210.1h4.6v86.5h-4.6zM700.8 2274.1h4.1v5.2h-4.1zM704.9 2268.9h4.3v5.2h-4.3zM709.2 2256.8h4.3v3.5h-4.3zM713.5 2218.8h3v38h-3zM716.5 2210.1h3.9v13.9h-3.9zM720.4 2213.6h4.4v6h-4.4zM724.8 2214.4h4.3v5.2h-4.3zM729.1 2211.8h4.3v1.8h-4.3zM733.4 2275h3.5v9.5h-3.5zM736.9 2210.1h4.3v188.6h-4.3zM741.2 2231.7h3.5v0.9h-3.5zM744.7 2211.8h4.3v24.3h-4.3zM749 2211h3.9v6h-3.9zM752.9 2210.1h3.9v92.6h-3.9zM756.8 2211h4.3v13h-4.3zM761.1 2211h4.3v13h-4.3zM765.4 2210.1h3.5v1.7h-3.5zM768.9 2213.6h4.3v3.4h-4.3zM773.2 2213.6h3.5v1.7h-3.5zM776.7 2211h4.3v4.3h-4.3zM781 2213.6h3.4v3.4h-3.4zM784.4 2473.1h4.4v1.7h-4.4zM788.8 2211h3.4v1.7h-3.4zM792.2 2331.2h4.4v1.8h-4.4zM796.6 2211.8h3.4v0.9h-3.4zM800 2262h4.3v1.7h-4.3zM804.3 2211h8.8v1.7h-8.8zM813.1 2210.1h3.4v266.5h-3.4zM816.5 2219.6h3.4v231h-3.4zM819.9 2210.1h5.2v271.6h-5.2zM825.1 2210.1h4.3v245.7h-4.3zM829.4 2210.1h4.3v1.7h-4.3zM833.7 2211h2.6v6h-2.6zM836.3 2310.5h4.4v6.9h-4.4zM840.7 2211.8h4.3v3.5h-4.3zM845 2211h4.5v267.3h-4.5zM849.5 2211h3.5v223.2h-3.5zM853 2211h4.3v159.1h-4.3zM857.3 2211h3.5v270.7h-3.5zM860.8 2260.3h3.4v115h-3.4zM864.2 2211h4.3v194.6h-4.3zM868.5 2211h4.4v272.5h-4.4zM872.9 2215.3h3.4v6.9h-3.4zM876.3 2213.6h5.2v3.4h-5.2zM881.5 2211.8h3.5v1.8h-3.5zM885 2211.8h4.3v14.7h-4.3zM889.3 2210.1h3.8v1.7h-3.8zM893.1 2215.3h4v24.2h-4zM897.1 2211.8h4.3v3.5h-4.3zM901.4 2211.8h3.5v51.9h-3.5zM904.9 2211.8h4.3v1.8h-4.3zM909.2 2227.4h4.3v3.5h-4.3zM913.5 2215.3h3.5v32.9h-3.5zM917 2211.8h4.3v38.1h-4.3zM921.3 2211h3.5v1.7h-3.5zM924.8 2211h4.3v1.7h-4.3zM929.1 2211.8h4.3v1.8h-4.3zM933.4 2211.8h7.8v1.8h-7.8zM941.2 2215.3h3.5v105.5h-3.5zM944.7 2224h4.3v77.8h-4.3zM949 2211h3.5v1.7h-3.5zM952.5 2445.4h4.3v1.7h-4.3zM956.8 2210.1h4.3v1.7h-4.3zM961.1 2218.8h3.5v1.7h-3.5zM964.6 2213.6h4.3v3.4h-4.3zM968.9 2210.1h4.5v1.7h-4.5zM973.4 2211.8h4.1v34.6h-4.1zM977.5 2211.8h4.4v55.4h-4.4zM981.9 2211h11.2v1.7h-11.2zM993.1 2258.6h4.3v4.3h-4.3zM997.4 2211.8h4.4v1.8h-4.4zM1001.8 2211.8h4.3v20.8h-4.3zM1006.1 2211.8h3.4v1.8h-3.4zM1009.5 2211h4.4v2.6h-4.4zM1013.9 2210.1h6.9v1.7h-6.9zM1020.8 2210.1h4.3v36.3h-4.3zM1025.1 2210.1h4.6v1.7h-4.6zM1029.7 2210.1h3.8v10.4h-3.8zM1033.5 2211h7.2v1.7h-7.2zM1040.7 2344.2h4.3v6.9h-4.3zM1045 2211h7.8v1.7h-7.8zM1052.8 2211h5.1v1.7h-5.1zM1057.9 2211h3.5v1.7h-3.5zM1061.4 2222.2h4.4v3.5h-4.4zM1065.8 2210.1h8.6v1.7h-8.6zM1074.4 2211h5.2v25.1h-5.2zM1079.6 2210.1h6.2v1.7h-6.2zM1085.8 2459.2h3.8v1.8h-3.8zM1089.6 2210.1h4.1v13.9h-4.1zM1093.7 2211h4.3v2.6h-4.3zM1098 2211h4.3v2.6h-4.3zM1102.3 2211h3.5v2.6h-3.5zM1105.8 2211h3.9v18.1h-3.9zM1109.7 2229.1h3.8v6.1h-3.8zM1113.5 2211.8h4.8v1.8h-4.8zM1118.3 2211.8h3v1.8h-3zM1121.3 2222.2h3.5v10.4h-3.5zM1124.8 2211.8h4.3v3.5h-4.3zM1129.1 2211.8h4.9v5.2h-4.9zM1134 2277.6h7.2v36.3h-7.2zM1141.2 2211.8h3.5v1.8h-3.5zM1144.7 2439.3h4.3v19.1h-4.3zM1149 2437.6h4.3v8.7h-4.3zM1153.3 2216.2h4.4v2.6h-4.4zM1157.7 2227.4h4.3v6.9h-4.3zM1162 2277.6h8v36.3h-8zM1170 2218.8h4.1v19h-4.1zM1174.1 2277.6h3.5v36.3h-3.5zM1177.6 2215.3h3.4v72.7h-3.4zM1181 2213.6h4.3v1.7h-4.3zM1185.3 2397h4.4v7.7h-4.4zM1189.7 2217h4.3v3.5h-4.3zM1194 2277.6h3.9v36.3h-3.9zM1197.9 2220.5h4.7v10.4h-4.7zM1202.6 2215.3h3.5v5.2h-3.5zM1206.1 2217h4.3v51.9h-4.3zM1210.4 2215.3h3.5v3.5h-3.5zM1213.9 2213.6h4.3v3.4h-4.3zM1218.2 2213.6h4.4v15.5h-4.4zM1222.6 2212.7h3.4v51.9h-3.4zM1226 2213.6h3.5v1.7h-3.5zM1229.5 2213.6h4.3v12.1h-4.3zM1233.8 2211.8h4.3v86.5h-4.3zM1238.1 2211.8h4.1v39.8h-4.1zM1242.2 2217h3.7v3.5h-3.7zM1245.9 2211.8h5.2v3.5h-5.2zM1251.1 2211.8h6.9v15.6h-6.9zM1258 2301.8h4.3v10.4h-4.3zM1262.3 2218.8h3.5v68.3h-3.5zM1265.8 2218.8h4.3v17.3h-4.3zM1270.1 2370.1h3.5v64.9h-3.5zM1273.6 2211.8h7.8v1.8h-7.8zM1281.4 2432.4h4.3v6.1h-4.3zM1285.7 2211.8h3.4v3.5h-3.4zM1289.1 2211.8h5.1v1.8h-5.1zM1294.2 2211.8h3.6v1.8h-3.6zM1297.8 2211.8h4.6v1.8h-4.6zM1302.4 2227.4h4.1v2.6h-4.1zM1306.5 2244.7h3.8v16.4h-3.8zM1310.3 2211.8h3.9v2.6h-3.9zM1314.2 2215.3h3.5v15.6h-3.5zM1317.7 2211.8h3.5v3.5h-3.5zM1321.2 2211.8h5.4v3.5h-5.4zM1326.6 2210h3.6v10.8h-3.6zM1330.2 2211.2h4.2v4.8h-4.2zM1334.4 2213.6h3.6v10.8h-3.6zM1338 2469.3h4.2v8.4h-4.2zM1342.2 2277.2h7.8v36.6h-7.8zM1350 2211.2h3.6v12h-3.6zM1353.6 2211.2h4.8v2.4h-4.8zM1358.4 2211.2h3.6v3.6h-3.6zM1362 2211.2h3.6v6.6h-3.6zM1365.6 2211.2h4.2v51.6h-4.2zM1369.8 2211.2h8.6v2.4h-8.6zM1378.4 2258h5.6v12h-5.6z"/>
<path fill="#821d4e" d="M111.9 2470.5h2.6v6.1h-2.6zM114.5 2470.5h4.3v6.1h-4.3zM118.8 2480h3.5v1.7h-3.5zM122.3 2476.6h4.7v2.5h-4.7zM127 2486.9h7.4v0.9h-7.4zM134.4 2467.9h4.3v3.5h-4.3zM138.7 2211.6h4.4v3.7h-4.4zM143.1 2485.2h4.3v1.7h-4.3zM147.4 2210.8h3.4v1.7h-3.4zM150.8 2332.9h4.4v1.8h-4.4zM155.2 2211.6h5.2v1.7h-5.2zM160.4 2211.6h3.4v2.6h-3.4zM163.8 2211.6h2.6v3.7h-2.6zM166.4 2415.9h5.1v7h-5.1zM171.5 2422.9h3.5v5.2h-3.5zM175 2478.3h3.5v3.4h-3.5zM178.5 2233.5h4.4v12.9h-4.4zM182.9 2440.2h4.3v10.4h-4.3zM187.2 2235.2h4.3v21.6h-4.3zM191.5 2482.6h3.5v2.6h-3.5zM195 2422.9h4.3v9.5h-4.3zM199.3 2413.4h3.5v7.8h-3.5zM202.8 2367.5h4.3v1.8h-4.3zM207.1 2475.7h4.3v3.4h-4.3zM211.4 2224h4.3v1.7h-4.3zM215.7 2217h3.5v8.7h-3.5zM219.2 2211.6h3.4v6.3h-3.4zM222.6 2407.3h4.4v7.8h-4.4zM227 2217h4.3v1.8h-4.3zM231.3 2219.6h3.5v2.6h-3.5zM234.8 2228.3h4.3v5.2h-4.3zM239.1 2239.5h4.3v6.9h-4.3zM243.4 2477.4h4.3v7.8h-4.3zM247.7 2211.8h4.4v2.6h-4.4zM252.1 2242.1h3.4v6.1h-3.4zM255.5 2211h3.5v1.7h-3.5zM259 2217.9h4.3v2.6h-4.3zM263.3 2227.4h3.5v1.7h-3.5zM266.8 2465.3h4.3v9.5h-4.3zM271.1 2240.4h4.3v0.9h-4.3zM275.4 2481.7h3.5v1.8h-3.5zM278.9 2240.4h4.3v3.5h-4.3zM283.2 2228.3h3.5v1.7h-3.5zM286.7 2210.1h8.6v2.6h-8.6zM295.3 2308.7h4.3v18.2h-4.3zM299.6 2211h7.8v2.6h-7.8zM307.4 2252.5h4.3v5.2h-4.3zM311.7 2393.5h3.5v16.4h-3.5zM315.2 2254.2h4.3v3.5h-4.3zM319.5 2211h8.7v3.4h-8.7zM328.2 2479.1h3.4v1.8h-3.4zM331.6 2460.1h4.4v2.6h-4.4zM336 2215.3h3.4v5.2h-3.4zM339.4 2211.8h3.5v5.2h-3.5zM342.9 2259.4h4.3v1.7h-4.3zM347.2 2295.8h3.5v1.7h-3.5zM350.7 2246.4h4.3v3.5h-4.3zM355 2365h4.5v2.5h-4.5zM359.5 2447.1h4.3v5.2h-4.3zM363.8 2483.5h3.5v1.7h-3.5zM367.3 2212.7h4.3v2.6h-4.3zM371.6 2215.3h4.4v3.5h-4.4zM376 2215.3h3.4v5.2h-3.4zM379.4 2217h4.3v7h-4.3zM383.7 2222.2h3.5v4.3h-3.5zM387.2 2230.9h4.3v43.2h-4.3zM391.5 2436.8h4.3v5.1h-4.3zM395.8 2215.3h4.4v10.4h-4.4zM400.2 2214.4h3.4v4.4h-3.4zM403.6 2215.3h4.4v1.7h-4.4zM408 2258.6h3.4v5.1h-3.4zM411.4 2213.6h8.7v2.6h-8.7zM420.1 2226.5h4.3v257h-4.3zM424.4 2234.3h3.5v235.3h-3.5zM427.9 2231.7h3.4v239.7h-3.4zM431.3 2388.3h4.3v93.4h-4.3zM435.6 2267.2h4.4v114.2h-4.4zM440 2296.6h4.3v126.3h-4.3zM444.3 2293.2h3.5v195.5h-3.5zM447.8 2466.2h4.3v1.7h-4.3zM452.1 2369.3h3.4v3.4h-3.4zM455.5 2440.2h4.4v19h-4.4zM459.9 2458.4h4.3v2.6h-4.3zM464.2 2217h4.3v15.6h-4.3zM468.5 2275h3.5v10.4h-3.5zM472 2216.2h4.3v4.3h-4.3zM476.3 2242.1h3.5v4.3h-3.5zM479.8 2326.9h4.3v11.2h-4.3zM484.1 2224h4.3v1.7h-4.3zM488.4 2213.6h4.3v1.7h-4.3zM492.7 2212.7h4.4v2.6h-4.4zM497.1 2213.6h6.9v2.6h-6.9zM504 2268.9h4.3v22.5h-4.3zM508.3 2230.9h4.3v1.7h-4.3zM512.6 2211h3.5v0.8h-3.5zM516.1 2244.7h4.3v12.1h-4.3zM520.4 2215.3h4.3v5.2h-4.3zM524.7 2220.5h3.5v1.7h-3.5zM528.2 2284.5h3.5v4.3h-3.5zM531.7 2249.9h4.3v6.9h-4.3zM536 2232.6h4.3v6.9h-4.3zM540.3 2242.1h2.9v142.8h-2.9zM543.2 2307h4.9v171.3h-4.9zM548.1 2296.6h3.5v183.4h-3.5zM551.6 2305.3h3.4v174.7h-3.4zM555 2376.2h5.5v105.5h-5.5zM560.5 2215.3h4v3.5h-4zM564.5 2215.3h6.1v3.5h-6.1zM570.6 2225.7h4.3v6.9h-4.3zM574.9 2213.6h8.7v1.7h-8.7zM583.6 2228.3h3.4v11.2h-3.4zM587 2236.1h5.2v64h-5.2zM592.2 2213.6h3.5v1.7h-3.5zM595.7 2402.2h4.3v25.9h-4.3zM600 2248.2h4.5v10.4h-4.5zM604.5 2213.6h3.5v6.9h-3.5zM608 2419.5h4.3v19.8h-4.3zM612.3 2222.2h4.2v1.8h-4.2zM616.5 2213.6h4.5v1.7h-4.5zM621 2303.5h3.2v160.9h-3.2zM624.2 2220.5h4.5v1.7h-4.5zM628.7 2235.2h2.6v7.8h-2.6zM631.3 2311.3h5.4v4.3h-5.4zM636.7 2299.2h4.1v182.5h-4.1zM640.8 2231.7h3.5v4.4h-3.5zM644.3 2319.1h4.3v166.1h-4.3zM648.6 2292.3h3.5v113.3h-3.5zM652.1 2288h4.3v188.6h-4.3zM656.4 2294.9h3.5v164.3h-3.5zM659.9 2298.3h4.3v159.2h-4.3zM664.2 2352h3.5v119.4h-3.5zM667.7 2271.5h4.3v206.8h-4.3zM672 2288.8h4.3v167h-4.3zM676.3 2254.2h3.5v231h-3.5zM679.8 2298.3h4.3v160.9h-4.3zM684.1 2302.7h5.2v184.2h-5.2zM689.3 2217h3.4v271.7h-3.4zM692.7 2295.7h3.5v186h-3.5zM696.2 2296.6h4.6v193.4h-4.6zM700.8 2279.3h4.1v0.9h-4.1zM704.9 2274.1h4.3v3.5h-4.3zM709.2 2260.3h4.3v1.7h-4.3zM713.5 2256.8h3v1.8h-3zM716.5 2224h3.9v18.1h-3.9zM720.4 2219.6h4.4v13h-4.4zM724.8 2219.6h4.3v13h-4.3zM729.1 2213.6h4.3v15.5h-4.3zM733.4 2284.5h3.5v3.5h-3.5zM736.9 2398.7h4.3v17.3h-4.3zM741.2 2232.6h3.5v1.7h-3.5zM744.7 2236.1h4.3v117.6h-4.3zM749 2217h3.9v1.8h-3.9zM752.9 2302.7h3.9v187.3h-3.9zM756.8 2224h4.3v8.6h-4.3zM761.1 2224h4.3v6.9h-4.3zM765.4 2211.8h3.5v1.8h-3.5zM768.9 2217h4.3v1.8h-4.3zM773.2 2215.3h3.5v2.6h-3.5zM776.7 2215.3h4.3v1.7h-4.3zM781 2217h3.4v1.8h-3.4zM784.4 2474.8h4.4v3.5h-4.4zM788.8 2212.7h3.4v38.9h-3.4zM792.2 2333h4.4v1.7h-4.4zM796.6 2212.7h3.4v0.9h-3.4zM800 2263.7h4.3v1.8h-4.3zM804.3 2212.7h8.8v1.7h-8.8zM813.1 2476.6h3.4v1.7h-3.4zM816.5 2450.6h3.4v8.6h-3.4zM819.9 2481.7h5.2v3.5h-5.2zM825.1 2455.8h4.3v12.1h-4.3zM829.4 2211.8h4.3v1.8h-4.3zM833.7 2217h2.6v1.8h-2.6zM836.3 2317.4h4.4v1.7h-4.4zM840.7 2215.3h4.3v1.7h-4.3zM845 2478.3h4.5v1.7h-4.5zM849.5 2434.2h3.5v0.8h-3.5zM853 2370.1h4.3v106.5h-4.3zM857.3 2481.7h3.5v1.8h-3.5zM860.8 2375.3h3.4v11.3h-3.4zM864.2 2405.6h4.3v3.5h-4.3zM868.5 2483.5h4.4v1.7h-4.4zM872.9 2222.2h3.4v1.8h-3.4zM876.3 2217h5.2v3.5h-5.2zM881.5 2213.6h3.5v1.7h-3.5zM885 2226.5h4.3v1.8h-4.3zM889.3 2211.8h3.8v1.8h-3.8zM893.1 2239.5h4v1.8h-4zM897.1 2215.3h4.3v1.7h-4.3zM901.4 2263.7h3.5v209.4h-3.5zM904.9 2213.6h4.3v1.7h-4.3zM909.2 2230.9h4.3v1.7h-4.3zM913.5 2248.2h3.5v18.1h-3.5zM917 2249.9h4.3v6.9h-4.3zM921.3 2212.7h3.5v1.7h-3.5zM924.8 2212.7h4.3v1.7h-4.3zM929.1 2213.6h4.3v5.2h-4.3zM933.4 2213.6h7.8v1.7h-7.8zM941.2 2320.8h3.5v91.7h-3.5zM944.7 2301.8h4.3v110.7h-4.3zM949 2212.7h3.5v1.7h-3.5zM952.5 2447.1h4.3v5.2h-4.3zM956.8 2211.8h4.3v15.6h-4.3zM961.1 2220.5h3.5v5.2h-3.5zM964.6 2217h4.3v4.4h-4.3zM968.9 2211.8h4.5v1.8h-4.5zM973.4 2246.4h4.1v102.1h-4.1zM977.5 2267.2h4.4v48.4h-4.4zM981.9 2212.7h11.2v2.6h-11.2zM993.1 2262.9h4.3v1.7h-4.3zM997.4 2213.6h4.4v75.2h-4.4zM1001.8 2232.6h4.3v107.3h-4.3zM1006.1 2213.6h3.4v8.6h-3.4zM1009.5 2213.6h4.4v193.7h-4.4zM1013.9 2211.8h6.9v278.2h-6.9zM1020.8 2246.4h4.3v214.6h-4.3zM1025.1 2211.8h4.6v231.9h-4.6zM1029.7 2220.5h3.8v226.6h-3.8zM1033.5 2212.7h7.2v2.6h-7.2zM1040.7 2351.1h4.3v2.6h-4.3zM1045 2212.7h7.8v276h-7.8zM1052.8 2212.7h5.1v25.1h-5.1zM1057.9 2212.7h3.5v127.2h-3.5zM1061.4 2225.7h4.4v231.8h-4.4zM1065.8 2211.8h8.6v276.9h-8.6zM1074.4 2236.1h5.2v145.3h-5.2zM1079.6 2211.8h6.2v223.2h-6.2zM1085.8 2461h3.8v1.7h-3.8zM1089.6 2224h4.1v155.7h-4.1zM1093.7 2213.6h4.3v62.3h-4.3zM1098 2213.6h4.3v1.7h-4.3zM1102.3 2213.6h3.5v196.3h-3.5zM1105.8 2229.1h3.9v100.4h-3.9zM1109.7 2235.2h3.8v92.6h-3.8zM1113.5 2213.6h4.8v3.4h-4.8zM1118.3 2213.6h3v275.1h-3zM1121.3 2232.6h3.5v221.4h-3.5zM1124.8 2215.3h4.3v257.8h-4.3zM1129.1 2217h4.9v264.7h-4.9zM1134 2313.9h7.2v34.6h-7.2zM1141.2 2213.6h3.5v1.7h-3.5zM1144.7 2458.4h4.3v11.2h-4.3zM1149 2446.3h4.3v1.7h-4.3zM1153.3 2218.8h4.4v3.4h-4.4zM1157.7 2234.3h4.3v1.8h-4.3zM1162 2313.9h8v34.6h-8zM1170 2237.8h4.1v116.8h-4.1zM1174.1 2313.9h3.5v34.6h-3.5zM1177.6 2288h3.4v74.4h-3.4zM1181 2215.3h4.3v3.5h-4.3zM1185.3 2404.7h4.4v0.9h-4.4zM1189.7 2220.5h4.3v6.9h-4.3zM1194 2313.9h3.9v34.6h-3.9zM1197.9 2230.9h4.7v88.2h-4.7zM1202.6 2220.5h3.5v148.8h-3.5zM1206.1 2268.9h4.3v167h-4.3zM1210.4 2218.8h3.5v83.9h-3.5zM1213.9 2217h4.3v96.9h-4.3zM1218.2 2229.1h4.4v96.9h-4.4zM1222.6 2264.6h3.4v116.8h-3.4zM1226 2215.3h3.5v128h-3.5zM1229.5 2225.7h4.3v29.4h-4.3zM1233.8 2298.3h4.3v121.2h-4.3zM1238.1 2251.6h4.1v90h-4.1zM1242.2 2220.5h3.7v224.9h-3.7zM1245.9 2215.3h5.2v65.7h-5.2zM1251.1 2227.4h6.9v233.6h-6.9zM1258 2312.2h4.3v3.4h-4.3zM1262.3 2287.1h3.5v83.9h-3.5zM1265.8 2236.1h4.3v6.9h-4.3zM1270.1 2435h3.5v1.8h-3.5zM1273.6 2213.6h7.8v80.4h-7.8zM1281.4 2438.5h4.3v8.6h-4.3zM1285.7 2215.3h3.4v3.5h-3.4zM1289.1 2213.6h5.1v1.7h-5.1zM1294.2 2213.6h3.6v259.5h-3.6zM1297.8 2213.6h4.6v276.4h-4.6zM1302.4 2230h4.1v241.4h-4.1zM1306.5 2261.1h3.8v210.3h-3.8zM1310.3 2214.4h3.9v0.9h-3.9zM1314.2 2230.9h3.5v77.8h-3.5zM1317.7 2215.3h3.5v6.9h-3.5zM1321.2 2215.3h5.4v3.5h-5.4zM1326.6 2220.8h3.6v208.9h-3.6zM1330.2 2216h4.2v254.5h-4.2zM1334.4 2224.4h3.6v104.5h-3.6zM1338 2477.7h4.2v3.6h-4.2zM1342.2 2313.8h7.8v34.3h-7.8zM1350 2223.2h3.6v170.5h-3.6zM1353.6 2213.6h4.8v12h-4.8zM1358.4 2214.8h3.6v259.3h-3.6zM1362 2217.8h3.6v227.5h-3.6zM1365.6 2262.8h4.2v220.9h-4.2zM1369.8 2213.6h8.6v270.1h-8.6zM1378.4 2270h5.6v4.8h-5.6z"/>
<path fill="#3d6a20" d="M111.9 2476.6h2.6v0.8h-2.6zM114.5 2476.6h4.3v0.8h-4.3zM118.8 2481.7h3.5v0.9h-3.5zM138.7 2215.3h4.4v0.9h-4.4zM147.4 2212.5h3.4v8h-3.4zM155.2 2213.3h5.2v0.9h-5.2zM175 2481.7h3.5v1.8h-3.5zM178.5 2246.4h4.4v0.9h-4.4zM182.9 2450.6h4.3v0.9h-4.3zM187.2 2256.8h4.3v0.9h-4.3zM195 2432.4h4.3v0.9h-4.3zM199.3 2421.2h3.5v0.8h-3.5zM202.8 2369.3h4.3v34.6h-4.3zM211.4 2225.7h4.3v0.8h-4.3zM222.6 2415.1h4.4v26h-4.4zM227 2218.8h4.3v1.7h-4.3zM231.3 2222.2h3.5v1.8h-3.5zM234.8 2233.5h4.3v1.7h-4.3zM239.1 2246.4h4.3v13.9h-4.3zM259 2220.5h4.3v5.2h-4.3zM278.9 2243.9h4.3v1.7h-4.3zM283.2 2230h3.5v1.7h-3.5zM295.3 2326.9h4.3v0.9h-4.3zM307.4 2257.7h4.3v2.6h-4.3zM311.7 2409.9h3.5v1.8h-3.5zM336 2220.5h3.4v3.5h-3.4zM339.4 2217h3.5v0.9h-3.5zM342.9 2261.1h4.3v0.9h-4.3zM347.2 2297.5h3.5v4.3h-3.5zM350.7 2249.9h4.3v5.2h-4.3zM359.5 2452.3h4.3v0.9h-4.3zM400.2 2218.8h3.4v25.9h-3.4zM408 2263.7h3.4v5.2h-3.4zM420.1 2483.5h4.3v2.5h-4.3zM424.4 2469.6h3.5v3.5h-3.5zM427.9 2471.4h3.4v3.4h-3.4zM431.3 2481.7h4.3v1.8h-4.3zM435.6 2381.4h4.4v1.7h-4.4zM440 2422.9h4.3v5.2h-4.3zM447.8 2467.9h4.3v1.7h-4.3zM452.1 2372.7h3.4v1.8h-3.4zM455.5 2459.2h4.4v3.5h-4.4zM459.9 2461h4.3v4.3h-4.3zM464.2 2232.6h4.3v3.5h-4.3zM468.5 2285.4h3.5v5.2h-3.5zM472 2220.5h4.3v1.7h-4.3zM476.3 2246.4h3.5v2.6h-3.5zM479.8 2338.1h4.3v2.6h-4.3zM504 2291.4h4.3v1.8h-4.3zM508.3 2232.6h4.3v0.9h-4.3zM516.1 2256.8h4.3v1.8h-4.3zM528.2 2288.8h3.5v0.9h-3.5zM531.7 2256.8h4.3v0.9h-4.3zM536 2239.5h4.3v1.8h-4.3zM540.3 2384.9h2.9v8.6h-2.9zM543.2 2478.3h4.9v3.4h-4.9zM548.1 2480h3.5v1.7h-3.5zM570.6 2232.6h4.3v1.7h-4.3zM583.6 2239.5h3.4v0.9h-3.4zM587 2300.1h5.2v1.7h-5.2zM595.7 2428.1h4.3v1.7h-4.3zM600 2258.6h4.5v6h-4.5zM612.3 2224h4.2v5.1h-4.2zM631.3 2315.6h5.4v1.8h-5.4zM640.8 2236.1h3.5v31.1h-3.5zM648.6 2405.6h3.5v10.4h-3.5zM652.1 2476.6h4.3v2.5h-4.3zM656.4 2459.2h3.5v1.7h-3.5zM659.9 2457.5h4.3v1.7h-4.3zM664.2 2471.4h3.5v1.7h-3.5zM667.7 2478.3h4.3v3.4h-4.3zM672 2455.8h4.3v1.7h-4.3zM679.8 2459.2h4.3v1.7h-4.3zM692.7 2481.7h3.5v3.5h-3.5zM704.9 2277.6h4.3v1.7h-4.3zM709.2 2262h4.3v5.2h-4.3zM713.5 2258.6h3v4.3h-3zM716.5 2242.1h3.9v1.7h-3.9zM720.4 2232.6h4.4v5.2h-4.4zM724.8 2232.6h4.3v3.5h-4.3zM729.1 2229.1h4.3v3.5h-4.3zM733.4 2288h3.5v1.7h-3.5zM736.9 2416h4.3v1.7h-4.3zM744.7 2353.7h4.3v0.9h-4.3zM756.8 2232.6h4.3v2.6h-4.3zM761.1 2230.9h4.3v4.3h-4.3zM768.9 2218.8h4.3v3.4h-4.3zM773.2 2217.9h3.5v6.1h-3.5zM776.7 2217h4.3v3.5h-4.3zM781 2218.8h3.4v3.4h-3.4zM784.4 2478.3h4.4v1.7h-4.4zM792.2 2334.7h4.4v4.3h-4.4zM800 2265.5h4.3v5.2h-4.3zM816.5 2459.2h3.4v1.8h-3.4zM825.1 2467.9h4.3v1.7h-4.3zM836.3 2319.1h4.4v3.5h-4.4zM840.7 2217h4.3v3.5h-4.3zM845 2480h4.5v1.7h-4.5zM849.5 2435h3.5v30.3h-3.5zM853 2476.6h4.3v1.7h-4.3zM860.8 2386.6h3.4v70.9h-3.4zM864.2 2409.1h4.3v0.9h-4.3zM872.9 2224h3.4v1.7h-3.4zM885 2228.3h4.3v12.1h-4.3zM893.1 2241.3h4v6.9h-4zM901.4 2473.1h3.5v8.6h-3.5zM909.2 2232.6h4.3v17.3h-4.3zM913.5 2266.3h3.5v0.9h-3.5zM941.2 2412.5h3.5v1.8h-3.5zM944.7 2412.5h4.3v1.8h-4.3zM973.4 2348.5h4.1v1.7h-4.1zM977.5 2315.6h4.4v1.8h-4.4zM993.1 2264.6h4.3v1.7h-4.3zM997.4 2288.8h4.4v0.9h-4.4zM1001.8 2339.9h4.3v1.7h-4.3zM1020.8 2461h4.3v6.9h-4.3zM1040.7 2353.7h4.3v1.7h-4.3zM1074.4 2381.4h5.2v1.7h-5.2zM1085.8 2462.7h3.8v1.7h-3.8zM1089.6 2379.7h4.1v1.7h-4.1zM1093.7 2275.9h4.3v2.6h-4.3zM1105.8 2329.5h3.9v6.9h-3.9zM1109.7 2327.8h3.8v2.6h-3.8zM1124.8 2473.1h4.3v3.5h-4.3zM1134 2348.5h7.2v35.5h-7.2zM1144.7 2469.6h4.3v1.8h-4.3zM1149 2448h4.3v0.8h-4.3zM1157.7 2236.1h4.3v24.2h-4.3zM1162 2348.5h8v35.5h-8zM1170 2354.6h4.1v13.8h-4.1zM1174.1 2348.5h3.5v35.5h-3.5zM1177.6 2362.4h3.4v0.8h-3.4zM1185.3 2405.6h4.4v28.6h-4.4zM1189.7 2227.4h4.3v1.7h-4.3zM1194 2348.5h3.9v35.5h-3.9zM1197.9 2319.1h4.7v10.4h-4.7zM1202.6 2369.3h3.5v0.8h-3.5zM1206.1 2435.9h4.3v0.9h-4.3zM1210.4 2302.7h3.5v0.8h-3.5zM1213.9 2313.9h4.3v1.7h-4.3zM1218.2 2326h4.4v1.8h-4.4zM1222.6 2381.4h3.4v0.9h-3.4zM1226 2343.3h3.5v0.9h-3.5zM1229.5 2255.1h4.3v0.9h-4.3zM1233.8 2419.5h4.3v1.7h-4.3zM1238.1 2341.6h4.1v2.6h-4.1zM1242.2 2445.4h3.7v12.1h-3.7zM1245.9 2281h5.2v0.9h-5.2zM1251.1 2461h6.9v1.7h-6.9zM1258 2315.6h4.3v1.8h-4.3zM1262.3 2371h3.5v1.7h-3.5zM1265.8 2243h4.3v3.4h-4.3zM1270.1 2436.8h3.5v12.9h-3.5zM1273.6 2294h7.8v0.9h-7.8zM1281.4 2447.1h4.3v6.9h-4.3zM1285.7 2218.8h3.4v5.2h-3.4zM1294.2 2473.1h3.6v5.2h-3.6zM1302.4 2471.4h4.1v3.4h-4.1zM1306.5 2471.4h3.8v3.4h-3.8zM1314.2 2308.7h3.5v1.8h-3.5zM1317.7 2222.2h3.5v3.5h-3.5zM1326.6 2429.7h3.6v1.2h-3.6zM1342.2 2348.1h7.8v36.6h-7.8z"/>
<path fill="#dc6718" d="M111.9 2480h2.6v1.7h-2.6zM114.5 2480.9h4.3v2.6h-4.3zM118.8 2483.5h3.5v0.8h-3.5zM122.3 2481.7h4.7v0.9h-4.7zM127 2488.6h7.4v0.9h-7.4zM134.4 2474.8h4.3v1.8h-4.3zM138.7 2221.4h4.4v0.8h-4.4zM147.4 2221.4h3.4v0.8h-3.4zM150.8 2335.5h4.4v0.9h-4.4zM155.2 2217h5.2v0.9h-5.2zM178.5 2249h4.4v1.8h-4.4zM182.9 2454h4.3v1.8h-4.3zM195 2449.7h4.3v6.1h-4.3zM202.8 2405.6h4.3v2.6h-4.3zM222.6 2454h4.4v2.6h-4.4zM227 2285.4h4.3v4.3h-4.3zM231.3 2315.6h3.5v4.4h-3.5zM234.8 2319.1h4.3v4.3h-4.3zM239.1 2266.3h4.3v5.2h-4.3zM263.3 2265.5h3.5v0.8h-3.5zM295.3 2348.5h4.3v2.6h-4.3zM307.4 2262.9h4.3v0.8h-4.3zM311.7 2465.3h3.5v2.6h-3.5zM331.6 2469.6h4.4v2.6h-4.4zM336 2226.5h3.4v2.6h-3.4zM339.4 2325.2h3.5v1.7h-3.5zM342.9 2327.8h4.3v8.6h-4.3zM350.7 2260.3h4.3v8.6h-4.3zM355 2371.9h4.5v1.7h-4.5zM359.5 2454h4.3v1.8h-4.3zM367.3 2217.9h4.3v1.7h-4.3zM371.6 2224h4.4v2.5h-4.4zM376 2225.7h3.4v2.6h-3.4zM379.4 2296.6h4.3v5.2h-4.3zM400.2 2248.2h3.4v8.6h-3.4zM408 2282.8h3.4v1.7h-3.4zM420.1 2486.9h4.3v1.7h-4.3zM424.4 2476.6h3.5v1.7h-3.5zM427.9 2481.7h3.4v5.2h-3.4zM431.3 2486h4.3v2.6h-4.3zM435.6 2410.8h4.4v4.3h-4.4zM440 2431.6h4.3v5.2h-4.3zM447.8 2472.2h4.3v1.7h-4.3zM452.1 2377.9h3.4v2.6h-3.4zM455.5 2467.9h4.4v13.8h-4.4zM459.9 2466.2h4.3v15.5h-4.3zM464.2 2483.5h4.3v6.5h-4.3zM468.5 2467.9h3.5v6.9h-3.5zM472 2483.5h4.3v5.2h-4.3zM476.3 2483.5h3.5v3.4h-3.5zM479.8 2466.2h4.3v3.4h-4.3zM484.1 2485.2h4.3v4.8h-4.3zM492.7 2473.1h4.4v3.5h-4.4zM497.1 2485.2h6.9v4.3h-6.9zM504 2375.3h4.3v2.6h-4.3zM512.6 2488.7h3.5v1.3h-3.5zM516.1 2386.6h4.3v8.6h-4.3zM520.4 2485.2h4.3v4.8h-4.3zM524.7 2485.2h3.5v4.8h-3.5zM528.2 2486.9h3.5v3.1h-3.5zM531.7 2486.9h4.3v3.1h-4.3zM536 2398.7h4.3v5.2h-4.3zM540.3 2441.9h2.9v20.8h-2.9zM543.2 2485.2h4.9v3.5h-4.9zM548.1 2485.2h3.5v3.5h-3.5zM551.6 2485.2h3.4v3.5h-3.4zM555 2485.2h5.5v3.5h-5.5zM564.5 2485.2h6.1v4.8h-6.1zM570.6 2469.6h4.3v3.5h-4.3zM574.9 2485.2h8.7v4.8h-8.7zM583.6 2468.8h3.4v2.6h-3.4zM587 2403h5.2v4.3h-5.2zM592.2 2480h3.5v8.7h-3.5zM595.7 2485.2h4.3v4.8h-4.3zM600 2474.8h4.5v6.9h-4.5zM604.5 2486h3.5v2.7h-3.5zM608 2486h4.3v2.7h-4.3zM612.3 2230.9h4.2v3.4h-4.2zM624.2 2414.3h4.5v74.4h-4.5zM628.7 2488.7h2.6v1.3h-2.6zM631.3 2478.3h5.4v5.2h-5.4zM640.8 2485.2h3.5v3.5h-3.5zM644.3 2488.7h4.3v1.3h-4.3zM648.6 2421.2h3.5v2.6h-3.5zM656.4 2465.3h3.5v2.6h-3.5zM659.9 2461.8h4.3v3.5h-4.3zM700.8 2486.9h4.1v3.1h-4.1zM704.9 2486.9h4.3v3.1h-4.3zM709.2 2365h4.3v44.1h-4.3zM713.5 2452.3h3v37.7h-3zM716.5 2488.7h3.9v1.3h-3.9zM720.4 2241.3h4.4v2.5h-4.4zM724.8 2281h4.3v2.6h-4.3zM729.1 2388.3h4.3v6.9h-4.3zM733.4 2474.8h3.5v6.9h-3.5zM736.9 2419.5h4.3v1.7h-4.3zM741.2 2395.2h3.5v1.8h-3.5zM744.7 2483.5h4.3v6.5h-4.3zM749 2488.7h3.9v1.3h-3.9zM756.8 2377.9h4.3v3.5h-4.3zM761.1 2236.9h4.3v1.8h-4.3zM765.4 2486.9h3.5v3.1h-3.5zM768.9 2478.3h4.3v10.4h-4.3zM776.7 2474.8h4.3v13.9h-4.3zM788.8 2483.5h3.4v5.2h-3.4zM792.2 2481.7h4.4v7h-4.4zM796.6 2476.6h3.4v6.9h-3.4zM800 2286.2h4.3v5.2h-4.3zM804.3 2486.9h8.8v3.1h-8.8zM813.1 2483.5h3.4v6.5h-3.4zM816.5 2483.5h3.4v6.5h-3.4zM819.9 2488.7h5.2v1.3h-5.2zM825.1 2488.7h4.3v1.3h-4.3zM829.4 2488.7h4.3v1.3h-4.3zM833.7 2481.7h2.6v8.3h-2.6zM836.3 2474.8h4.4v3.5h-4.4zM840.7 2438.5h4.3v1.7h-4.3zM845 2483.5h4.5v1.7h-4.5zM849.5 2471.4h3.5v3.4h-3.5zM853 2481.7h4.3v3.5h-4.3zM857.3 2485.2h3.5v3.5h-3.5zM860.8 2462.7h3.4v5.2h-3.4zM868.5 2486.9h4.4v1.8h-4.4zM872.9 2483.5h3.4v5.2h-3.4zM881.5 2481.7h3.5v7h-3.5zM885 2365h4.3v3.4h-4.3zM893.1 2455.8h4v1.7h-4zM901.4 2485.2h3.5v4.8h-3.5zM904.9 2481.7h4.3v8.3h-4.3zM909.2 2478.3h4.3v11.7h-4.3zM913.5 2474.8h3.5v15.2h-3.5zM917 2483.5h4.3v6.5h-4.3zM921.3 2488.7h3.5v1.3h-3.5zM929.1 2485.2h4.3v3.5h-4.3zM933.4 2486.9h7.8v3.1h-7.8zM941.2 2486.9h3.5v3.1h-3.5zM944.7 2486.9h4.3v3.1h-4.3zM949 2488.7h3.5v1.3h-3.5zM956.8 2229.1h4.3v2.6h-4.3zM961.1 2306.1h3.5v2.6h-3.5zM964.6 2224h4.3v1.7h-4.3zM968.9 2270.7h4.5v8.6h-4.5zM973.4 2488.7h4.1v1.3h-4.1zM977.5 2488.7h4.4v1.3h-4.4zM981.9 2486.9h11.2v3.1h-11.2zM993.1 2480h4.3v6.9h-4.3zM997.4 2483.5h4.4v6.5h-4.4zM1001.8 2483.5h4.3v6.5h-4.3zM1006.1 2481.7h3.4v8.3h-3.4zM1009.5 2485.2h4.4v4.8h-4.4zM1033.5 2488.7h7.2v1.3h-7.2zM1040.7 2481.7h4.3v5.2h-4.3zM1057.9 2483.5h3.5v6.5h-3.5zM1074.4 2488.7h5.2v1.3h-5.2zM1079.6 2487h6.2v3h-6.2zM1089.6 2488.7h4.1v1.3h-4.1zM1093.7 2486.9h4.3v3.1h-4.3zM1098 2483.5h4.3v6.5h-4.3zM1102.3 2481.7h3.5v8.3h-3.5zM1105.8 2483.5h3.9v6.5h-3.9zM1109.7 2481.7h3.8v8.3h-3.8zM1121.3 2457.5h3.5v32.5h-3.5zM1124.8 2483.5h4.3v3.5h-4.3zM1134 2419.5h7.2v35.4h-7.2zM1144.7 2478.3h4.3v3.4h-4.3zM1162 2419.5h8v35.4h-8zM1174.1 2419.5h3.5v35.4h-3.5zM1177.6 2481.7h3.4v8.3h-3.4zM1185.3 2435h4.4v1.8h-4.4zM1194 2419.5h3.9v35.4h-3.9zM1197.9 2473.1h4.7v16.9h-4.7zM1202.6 2485.2h3.5v4.8h-3.5zM1206.1 2483.5h4.3v6.5h-4.3zM1210.4 2478.3h3.5v11.7h-3.5zM1213.9 2474.8h4.3v15.2h-4.3zM1222.6 2481.7h3.4v8.3h-3.4zM1226 2478.3h3.5v11.7h-3.5zM1229.5 2486.9h4.3v3.1h-4.3zM1233.8 2474.8h4.3v5.2h-4.3zM1238.1 2480h4.1v10h-4.1zM1242.2 2464.4h3.7v3.5h-3.7zM1245.9 2485.2h5.2v4.8h-5.2zM1251.1 2474.8h6.9v15.2h-6.9zM1258 2483.5h4.3v6.5h-4.3zM1262.3 2481.7h3.5v8.3h-3.5zM1265.8 2256.8h4.3v2.6h-4.3zM1270.1 2478.3h3.5v11.7h-3.5zM1273.6 2485.2h7.8v4.8h-7.8zM1281.4 2467.9h4.3v22.1h-4.3zM1285.7 2485.2h3.4v4.8h-3.4zM1289.1 2485.2h5.1v4.8h-5.1zM1294.2 2481.7h3.6v8.3h-3.6zM1302.4 2483.5h4.1v6.5h-4.1zM1306.5 2483.5h3.8v6.5h-3.8zM1310.3 2485.2h3.9v4.8h-3.9zM1314.2 2485.2h3.5v4.8h-3.5zM1317.7 2483.5h3.5v6.5h-3.5zM1321.2 2474.8h5.4v15.2h-5.4zM1326.6 2483.7h3.6v3.6h-3.6zM1330.2 2480.1h4.2v7.2h-4.2zM1334.4 2487.3h3.6v1.2h-3.6zM1342.2 2418.9h7.8v36h-7.8zM1350 2487.3h3.6v1.2h-3.6zM1353.6 2483.7h4.8v3.6h-4.8zM1378.4 2274.8h5.6v213.7h-5.6z"/>
<path fill="#5893dc" d="M111.9 2481.7h2.6v8.3h-2.6zM114.5 2483.5h4.3v6.5h-4.3zM118.8 2484.3h3.5v5.7h-3.5zM122.3 2482.6h4.7v7.4h-4.7zM127 2489.5h7.4v0.5h-7.4zM134.4 2476.6h4.3v13.4h-4.3zM138.7 2222.2h4.4v267.8h-4.4zM143.1 2487.8h4.3v2.2h-4.3zM147.4 2222.2h3.4v267.8h-3.4zM150.8 2336.4h4.4v153.6h-4.4zM155.2 2217.9h5.2v272.1h-5.2zM160.4 2216.2h3.4v273.8h-3.4zM163.8 2217h2.6v273h-2.6zM166.4 2426.4h5.1v63.6h-5.1zM171.5 2445.4h3.5v44.6h-3.5zM175 2486.9h3.5v3.1h-3.5zM178.5 2250.8h4.4v239.2h-4.4zM182.9 2455.8h4.3v34.2h-4.3zM187.2 2257.7h4.3v232.3h-4.3zM191.5 2486.9h3.5v3.1h-3.5zM195 2455.8h4.3v34.2h-4.3zM199.3 2422h3.5v68h-3.5zM202.8 2408.2h4.3v81.8h-4.3zM207.1 2480.9h4.3v9.1h-4.3zM211.4 2226.5h4.3v263.5h-4.3zM215.7 2228.3h3.5v261.7h-3.5zM219.2 2222.2h3.4v267.8h-3.4zM222.6 2456.6h4.4v33.4h-4.4zM227 2289.7h4.3v200.3h-4.3zM231.3 2320h3.5v170h-3.5zM234.8 2323.4h4.3v166.6h-4.3zM239.1 2271.5h4.3v218.5h-4.3zM243.4 2486.9h4.3v3.1h-4.3zM247.7 2217h4.4v273h-4.4zM252.1 2248.2h3.4v241.8h-3.4zM255.5 2213.6h3.5v276.4h-3.5zM259 2225.7h4.3v264.3h-4.3zM263.3 2266.3h3.5v223.7h-3.5zM266.8 2476.6h4.3v13.4h-4.3zM271.1 2241.3h4.3v248.7h-4.3zM275.4 2485.2h3.5v4.8h-3.5zM278.9 2245.6h4.3v244.4h-4.3zM283.2 2231.7h3.5v258.3h-3.5zM286.7 2214.4h8.6v275.6h-8.6zM295.3 2351.1h4.3v138.9h-4.3zM299.6 2215.3h7.8v274.7h-7.8zM307.4 2263.7h4.3v226.3h-4.3zM311.7 2467.9h3.5v22.1h-3.5zM315.2 2259.4h4.3v230.6h-4.3zM319.5 2215.3h8.7v274.7h-8.7zM328.2 2482.6h3.4v7.4h-3.4zM331.6 2472.2h4.4v17.8h-4.4zM336 2229.1h3.4v260.9h-3.4zM339.4 2326.9h3.5v163.1h-3.5zM342.9 2336.4h4.3v153.6h-4.3zM347.2 2302.7h3.5v187.3h-3.5zM350.7 2268.9h4.3v221.1h-4.3zM355 2373.6h4.5v116.4h-4.5zM359.5 2455.8h4.3v34.2h-4.3zM363.8 2488.6h3.5v1.4h-3.5zM367.3 2219.6h4.3v270.4h-4.3zM371.6 2226.5h4.4v263.5h-4.4zM376 2228.3h3.4v261.7h-3.4zM379.4 2301.8h4.3v188.2h-4.3zM383.7 2227.4h3.5v262.6h-3.5zM387.2 2275.9h4.3v214.1h-4.3zM391.5 2441.9h4.3v48.1h-4.3zM395.8 2227.4h4.4v262.6h-4.4zM400.2 2256.8h3.4v233.2h-3.4zM403.6 2218.8h4.4v271.2h-4.4zM408 2284.5h3.4v205.5h-3.4zM411.4 2217.9h8.7v272.1h-8.7zM420.1 2488.6h4.3v1.4h-4.3zM424.4 2478.3h3.5v11.7h-3.5zM427.9 2486.9h3.4v3.1h-3.4zM431.3 2488.6h4.3v1.4h-4.3zM435.6 2415.1h4.4v74.9h-4.4zM440 2436.8h4.3v53.2h-4.3zM444.3 2488.7h3.5v1.3h-3.5zM447.8 2473.9h4.3v16.1h-4.3zM452.1 2380.5h3.4v109.5h-3.4zM455.5 2481.7h4.4v8.3h-4.4zM459.9 2481.7h4.3v8.3h-4.3zM468.5 2474.8h3.5v15.2h-3.5zM472 2488.7h4.3v1.3h-4.3zM476.3 2486.9h3.5v3.1h-3.5zM479.8 2469.6h4.3v20.4h-4.3zM488.4 2430.7h4.3v59.3h-4.3zM492.7 2476.6h4.4v13.4h-4.4zM497.1 2489.5h6.9v0.5h-6.9zM504 2377.9h4.3v112.1h-4.3zM508.3 2415.1h4.3v74.9h-4.3zM516.1 2395.2h4.3v94.8h-4.3zM536 2403.9h4.3v86.1h-4.3zM540.3 2462.7h2.9v27.3h-2.9zM543.2 2488.7h4.9v1.3h-4.9zM548.1 2488.7h3.5v1.3h-3.5zM551.6 2488.7h3.4v1.3h-3.4zM555 2488.7h5.5v1.3h-5.5zM560.5 2220.5h4v269.5h-4zM570.6 2473.1h4.3v16.9h-4.3zM583.6 2471.4h3.4v18.6h-3.4zM587 2407.3h5.2v82.7h-5.2zM592.2 2488.7h3.5v1.3h-3.5zM600 2481.7h4.5v8.3h-4.5zM604.5 2488.7h3.5v1.3h-3.5zM608 2488.7h4.3v1.3h-4.3zM612.3 2234.3h4.2v255.7h-4.2zM616.5 2217h4.5v273h-4.5zM624.2 2488.7h4.5v1.3h-4.5zM631.3 2483.5h5.4v6.5h-5.4zM636.7 2487h4.1v3h-4.1zM640.8 2488.7h3.5v1.3h-3.5zM648.6 2423.8h3.5v66.2h-3.5zM652.1 2481.7h4.3v8.3h-4.3zM656.4 2467.9h3.5v22.1h-3.5zM659.9 2465.3h4.3v24.7h-4.3zM664.2 2474.8h3.5v15.2h-3.5zM667.7 2485.2h4.3v4.8h-4.3zM672 2471.4h4.3v18.6h-4.3zM679.8 2471.4h4.3v18.6h-4.3zM689.3 2488.7h3.4v1.3h-3.4zM692.7 2488.7h3.5v1.3h-3.5zM709.2 2409.1h4.3v80.9h-4.3zM720.4 2243.8h4.4v246.2h-4.4zM724.8 2283.6h4.3v206.4h-4.3zM729.1 2395.2h4.3v94.8h-4.3zM733.4 2481.7h3.5v8.3h-3.5zM736.9 2421.2h4.3v68.8h-4.3zM741.2 2397h3.5v93h-3.5zM756.8 2381.4h4.3v108.6h-4.3zM761.1 2238.7h4.3v251.3h-4.3zM768.9 2488.7h4.3v1.3h-4.3zM773.2 2225.7h3.5v264.3h-3.5zM776.7 2488.7h4.3v1.3h-4.3zM781 2224h3.4v266h-3.4zM784.4 2481.7h4.4v8.3h-4.4zM788.8 2488.7h3.4v1.3h-3.4zM792.2 2488.7h4.4v1.3h-4.4zM796.6 2483.5h3.4v6.5h-3.4zM800 2291.4h4.3v198.6h-4.3zM836.3 2478.3h4.4v11.7h-4.4zM840.7 2440.2h4.3v49.8h-4.3zM845 2485.2h4.5v4.8h-4.5zM849.5 2474.8h3.5v15.2h-3.5zM853 2485.2h4.3v4.8h-4.3zM857.3 2488.7h3.5v1.3h-3.5zM860.8 2467.9h3.4v22.1h-3.4zM864.2 2410.8h4.3v79.2h-4.3zM868.5 2488.7h4.4v1.3h-4.4zM872.9 2488.7h3.4v1.3h-3.4zM876.3 2222.2h5.2v267.8h-5.2zM881.5 2488.7h3.5v1.3h-3.5zM885 2368.4h4.3v121.6h-4.3zM893.1 2457.5h4v32.5h-4zM897.1 2218.8h4.3v271.2h-4.3zM924.8 2215.3h4.3v274.7h-4.3zM929.1 2488.7h4.3v1.3h-4.3zM952.5 2467.9h4.3v22.1h-4.3zM956.8 2231.7h4.3v258.3h-4.3zM961.1 2308.7h3.5v181.3h-3.5zM964.6 2225.7h4.3v264.3h-4.3zM968.9 2279.3h4.5v210.7h-4.5zM993.1 2486.9h4.3v3.1h-4.3zM1020.8 2471.4h4.3v18.6h-4.3zM1025.1 2448.8h4.6v41.2h-4.6zM1040.7 2486.9h4.3v3.1h-4.3zM1061.4 2471.4h4.4v18.6h-4.4zM1085.8 2465.3h3.8v24.7h-3.8zM1124.8 2487h4.3v3h-4.3zM1134 2454.9h7.2v35.1h-7.2zM1141.2 2217h3.5v273h-3.5zM1144.7 2481.7h4.3v8.3h-4.3zM1149 2467.9h4.3v22.1h-4.3zM1153.3 2224h4.4v266h-4.4zM1157.7 2262.9h4.3v227.1h-4.3zM1162 2454.9h8v35.1h-8zM1170 2369.3h4.1v120.7h-4.1zM1174.1 2454.9h3.5v35.1h-3.5zM1181 2220.5h4.3v269.5h-4.3zM1185.3 2436.8h4.4v53.2h-4.4zM1189.7 2230.9h4.3v259.1h-4.3zM1194 2454.9h3.9v35.1h-3.9zM1218.2 2480h4.4v10h-4.4zM1233.8 2480h4.3v10h-4.3zM1242.2 2467.9h3.7v22.1h-3.7zM1265.8 2259.4h4.3v230.6h-4.3zM1326.6 2487.3h3.6v2.7h-3.6zM1330.2 2487.3h4.2v2.7h-4.2zM1334.4 2488.5h3.6v1.5h-3.6zM1338 2487.3h4.2v2.7h-4.2zM1342.2 2454.9h7.8v35.1h-7.8zM1350 2488.5h3.6v1.5h-3.6zM1353.6 2487.3h4.8v2.7h-4.8zM1358.4 2487.3h3.6v2.7h-3.6zM1362 2487.3h3.6v2.7h-3.6zM1365.6 2487.3h4.2v2.7h-4.2zM1369.8 2487.3h8.6v2.7h-8.6zM1378.4 2488.5h5.6v1.5h-5.6z"/>
<rect x="112" y="2206.5" width="1272" height="283.5" fill="url(#st)"/>
<path fill="#0a0a14" d="M126.2 2206.5h1.6v283.5h-1.6zM170.7 2206.5h1.6v283.5h-1.6zM174.2 2206.5h1.6v283.5h-1.6zM539.5 2206.5h1.6v283.5h-1.6zM542.4 2206.5h1.6v283.5h-1.6zM559.7 2206.5h1.6v283.5h-1.6zM615.7 2206.5h1.6v283.5h-1.6zM623.4 2206.5h1.6v283.5h-1.6zM635.9 2206.5h1.6v283.5h-1.6zM700 2206.5h1.6v283.5h-1.6zM715.7 2206.5h1.6v283.5h-1.6zM752.1 2206.5h1.6v283.5h-1.6zM756 2206.5h1.6v283.5h-1.6zM788 2206.5h1.6v283.5h-1.6zM812.3 2206.5h1.6v283.5h-1.6zM872.1 2206.5h1.6v283.5h-1.6zM892.3 2206.5h1.6v283.5h-1.6zM972.6 2206.5h1.6v283.5h-1.6zM1008.7 2206.5h1.6v283.5h-1.6zM1016.7 2206.5h1.6v283.5h-1.6zM1028.9 2206.5h1.6v283.5h-1.6zM1032.7 2206.5h1.6v283.5h-1.6zM1057.1 2206.5h1.6v283.5h-1.6zM1065 2206.5h1.6v283.5h-1.6zM1072.6 2206.5h1.6v283.5h-1.6zM1081 2206.5h1.6v283.5h-1.6zM1085 2206.5h1.6v283.5h-1.6zM1088.8 2206.5h1.6v283.5h-1.6zM1108.9 2206.5h1.6v283.5h-1.6zM1117.5 2206.5h1.6v283.5h-1.6zM1120.9 2206.5h1.6v283.5h-1.6zM1124.7 2206.5h1.6v283.5h-1.6zM1133.2 2206.5h1.6v283.5h-1.6zM1169.2 2206.5h1.6v283.5h-1.6zM1197.1 2206.5h1.6v283.5h-1.6zM1241.4 2206.5h1.6v283.5h-1.6zM1245.1 2206.5h1.6v283.5h-1.6zM1257.2 2206.5h1.6v283.5h-1.6zM1293.4 2206.5h1.6v283.5h-1.6zM1301.6 2206.5h1.6v283.5h-1.6zM1309.5 2206.5h1.6v283.5h-1.6zM1325.8 2206.5h1.6v283.5h-1.6zM1333.6 2206.5h1.6v283.5h-1.6zM1377.6 2206.5h1.6v283.5h-1.6z"/>
<path fill="#000" d="M106 2200H1384V2206.5H112V2490H1384V2496H106z"/>
<text x="0" y="2351.6" font-size="40" font-weight="bold">K = 8</text>
</svg></body></html>
